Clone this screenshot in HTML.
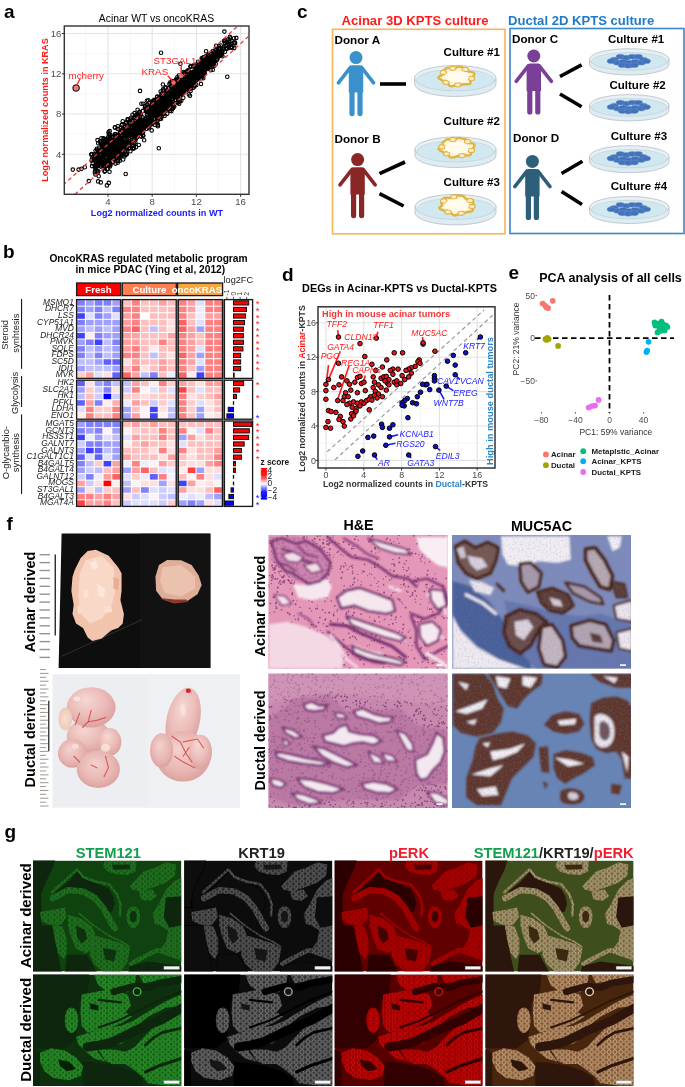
<!DOCTYPE html>
<html><head><meta charset="utf-8"><title>Figure</title>
<style>
html,body{margin:0;padding:0;background:#fff;}
body{width:685px;height:1087px;overflow:hidden;position:relative;}
svg{position:absolute;left:0;top:0;display:block;}
text{font-family:"Liberation Sans",Arial,sans-serif;}
</style></head><body>
<svg width="685" height="1087" viewBox="0 0 685 1087">
<defs></defs>
<text x="4.00" y="17.50" font-size="19" font-weight="700" fill="#000" text-anchor="start" font-style="normal" >a</text>
<rect x="64.3" y="26" width="184.7" height="168.3" fill="#fff"/>
<clipPath id="clipa"><rect x="64" y="26" width="184" height="168"/></clipPath>
<line x1="85.9" y1="26" x2="85.9" y2="194.3" stroke="#f0f0f0" stroke-width="0.6"/>
<line x1="64.3" y1="174.4" x2="249" y2="174.4" stroke="#f0f0f0" stroke-width="0.6"/>
<line x1="130.1" y1="26" x2="130.1" y2="194.3" stroke="#f0f0f0" stroke-width="0.6"/>
<line x1="64.3" y1="134.1" x2="249" y2="134.1" stroke="#f0f0f0" stroke-width="0.6"/>
<line x1="174.3" y1="26" x2="174.3" y2="194.3" stroke="#f0f0f0" stroke-width="0.6"/>
<line x1="64.3" y1="93.9" x2="249" y2="93.9" stroke="#f0f0f0" stroke-width="0.6"/>
<line x1="218.5" y1="26" x2="218.5" y2="194.3" stroke="#f0f0f0" stroke-width="0.6"/>
<line x1="64.3" y1="53.7" x2="249" y2="53.7" stroke="#f0f0f0" stroke-width="0.6"/>
<line x1="108.0" y1="26" x2="108.0" y2="194.3" stroke="#e4e4e4" stroke-width="1.1"/>
<line x1="64.3" y1="154.3" x2="249" y2="154.3" stroke="#e4e4e4" stroke-width="1.1"/>
<line x1="152.2" y1="26" x2="152.2" y2="194.3" stroke="#e4e4e4" stroke-width="1.1"/>
<line x1="64.3" y1="114.0" x2="249" y2="114.0" stroke="#e4e4e4" stroke-width="1.1"/>
<line x1="196.4" y1="26" x2="196.4" y2="194.3" stroke="#e4e4e4" stroke-width="1.1"/>
<line x1="64.3" y1="73.8" x2="249" y2="73.8" stroke="#e4e4e4" stroke-width="1.1"/>
<line x1="240.6" y1="26" x2="240.6" y2="194.3" stroke="#e4e4e4" stroke-width="1.1"/>
<line x1="64.3" y1="33.5" x2="249" y2="33.5" stroke="#e4e4e4" stroke-width="1.1"/>
<g clip-path="url(#clipa)" fill="none" stroke="#000" stroke-width="1.1"><circle cx="160.6" cy="99.2" r="1.75"/><circle cx="125.3" cy="134.9" r="1.75"/><circle cx="100.3" cy="159.8" r="1.75"/><circle cx="110.0" cy="136.8" r="1.75"/><circle cx="109.4" cy="159.3" r="1.75"/><circle cx="110.8" cy="151.4" r="1.75"/><circle cx="168.1" cy="96.7" r="1.75"/><circle cx="201.7" cy="58.2" r="1.75"/><circle cx="129.6" cy="148.3" r="1.75"/><circle cx="187.5" cy="76.9" r="1.75"/><circle cx="98.2" cy="151.2" r="1.75"/><circle cx="114.9" cy="137.5" r="1.75"/><circle cx="100.9" cy="141.8" r="1.75"/><circle cx="117.5" cy="147.2" r="1.75"/><circle cx="150.0" cy="117.6" r="1.75"/><circle cx="118.9" cy="150.8" r="1.75"/><circle cx="205.8" cy="62.8" r="1.75"/><circle cx="188.2" cy="84.9" r="1.75"/><circle cx="132.3" cy="130.0" r="1.75"/><circle cx="94.7" cy="165.8" r="1.75"/><circle cx="150.6" cy="106.7" r="1.75"/><circle cx="223.4" cy="48.5" r="1.75"/><circle cx="125.8" cy="123.0" r="1.75"/><circle cx="204.2" cy="66.4" r="1.75"/><circle cx="109.8" cy="151.4" r="1.75"/><circle cx="164.0" cy="112.8" r="1.75"/><circle cx="98.7" cy="150.2" r="1.75"/><circle cx="194.2" cy="86.4" r="1.75"/><circle cx="113.7" cy="156.8" r="1.75"/><circle cx="101.4" cy="138.2" r="1.75"/><circle cx="162.9" cy="84.5" r="1.75"/><circle cx="234.0" cy="38.3" r="1.75"/><circle cx="201.9" cy="73.7" r="1.75"/><circle cx="207.2" cy="57.7" r="1.75"/><circle cx="172.4" cy="82.7" r="1.75"/><circle cx="189.1" cy="77.6" r="1.75"/><circle cx="165.2" cy="107.2" r="1.75"/><circle cx="207.4" cy="62.2" r="1.75"/><circle cx="186.7" cy="85.0" r="1.75"/><circle cx="153.2" cy="114.5" r="1.75"/><circle cx="194.5" cy="85.4" r="1.75"/><circle cx="127.0" cy="135.0" r="1.75"/><circle cx="191.8" cy="78.1" r="1.75"/><circle cx="183.7" cy="73.4" r="1.75"/><circle cx="137.7" cy="135.1" r="1.75"/><circle cx="207.8" cy="60.6" r="1.75"/><circle cx="133.8" cy="138.7" r="1.75"/><circle cx="137.6" cy="109.7" r="1.75"/><circle cx="92.0" cy="166.1" r="1.75"/><circle cx="137.0" cy="131.9" r="1.75"/><circle cx="110.3" cy="148.3" r="1.75"/><circle cx="105.6" cy="151.8" r="1.75"/><circle cx="198.0" cy="73.8" r="1.75"/><circle cx="109.0" cy="146.8" r="1.75"/><circle cx="140.5" cy="120.0" r="1.75"/><circle cx="145.0" cy="106.1" r="1.75"/><circle cx="207.6" cy="68.8" r="1.75"/><circle cx="216.4" cy="50.2" r="1.75"/><circle cx="213.9" cy="59.6" r="1.75"/><circle cx="168.3" cy="100.6" r="1.75"/><circle cx="202.4" cy="64.2" r="1.75"/><circle cx="204.7" cy="73.4" r="1.75"/><circle cx="180.2" cy="96.1" r="1.75"/><circle cx="107.9" cy="162.2" r="1.75"/><circle cx="122.0" cy="135.4" r="1.75"/><circle cx="196.8" cy="67.6" r="1.75"/><circle cx="157.5" cy="108.9" r="1.75"/><circle cx="187.2" cy="84.0" r="1.75"/><circle cx="203.8" cy="66.3" r="1.75"/><circle cx="161.8" cy="110.1" r="1.75"/><circle cx="110.6" cy="139.2" r="1.75"/><circle cx="160.9" cy="102.8" r="1.75"/><circle cx="146.9" cy="100.8" r="1.75"/><circle cx="119.9" cy="136.9" r="1.75"/><circle cx="137.8" cy="131.2" r="1.75"/><circle cx="107.6" cy="168.7" r="1.75"/><circle cx="138.3" cy="127.3" r="1.75"/><circle cx="119.5" cy="147.6" r="1.75"/><circle cx="149.0" cy="121.2" r="1.75"/><circle cx="127.2" cy="130.7" r="1.75"/><circle cx="210.1" cy="60.2" r="1.75"/><circle cx="192.8" cy="82.1" r="1.75"/><circle cx="201.8" cy="68.6" r="1.75"/><circle cx="132.4" cy="133.6" r="1.75"/><circle cx="119.8" cy="154.8" r="1.75"/><circle cx="172.1" cy="81.1" r="1.75"/><circle cx="179.2" cy="86.5" r="1.75"/><circle cx="95.3" cy="170.4" r="1.75"/><circle cx="121.8" cy="153.8" r="1.75"/><circle cx="203.3" cy="78.2" r="1.75"/><circle cx="179.8" cy="92.1" r="1.75"/><circle cx="164.4" cy="108.0" r="1.75"/><circle cx="150.6" cy="112.6" r="1.75"/><circle cx="156.1" cy="112.2" r="1.75"/><circle cx="188.8" cy="80.2" r="1.75"/><circle cx="200.3" cy="69.4" r="1.75"/><circle cx="181.1" cy="84.3" r="1.75"/><circle cx="208.2" cy="56.5" r="1.75"/><circle cx="114.6" cy="159.6" r="1.75"/><circle cx="129.8" cy="121.3" r="1.75"/><circle cx="161.5" cy="107.0" r="1.75"/><circle cx="173.9" cy="82.0" r="1.75"/><circle cx="177.4" cy="96.6" r="1.75"/><circle cx="143.3" cy="135.8" r="1.75"/><circle cx="155.7" cy="100.5" r="1.75"/><circle cx="184.0" cy="89.9" r="1.75"/><circle cx="109.4" cy="158.4" r="1.75"/><circle cx="165.4" cy="101.9" r="1.75"/><circle cx="164.2" cy="109.4" r="1.75"/><circle cx="134.6" cy="113.1" r="1.75"/><circle cx="112.0" cy="150.3" r="1.75"/><circle cx="207.0" cy="63.6" r="1.75"/><circle cx="109.1" cy="152.7" r="1.75"/><circle cx="157.2" cy="97.0" r="1.75"/><circle cx="205.5" cy="69.0" r="1.75"/><circle cx="127.1" cy="145.5" r="1.75"/><circle cx="170.7" cy="101.9" r="1.75"/><circle cx="181.1" cy="79.6" r="1.75"/><circle cx="130.4" cy="133.7" r="1.75"/><circle cx="141.7" cy="124.5" r="1.75"/><circle cx="167.5" cy="101.1" r="1.75"/><circle cx="203.5" cy="68.3" r="1.75"/><circle cx="147.9" cy="123.5" r="1.75"/><circle cx="94.6" cy="157.4" r="1.75"/><circle cx="152.9" cy="122.1" r="1.75"/><circle cx="115.0" cy="147.6" r="1.75"/><circle cx="128.0" cy="142.6" r="1.75"/><circle cx="169.4" cy="93.0" r="1.75"/><circle cx="194.5" cy="78.3" r="1.75"/><circle cx="229.0" cy="48.0" r="1.75"/><circle cx="136.1" cy="131.9" r="1.75"/><circle cx="115.7" cy="144.9" r="1.75"/><circle cx="121.4" cy="139.2" r="1.75"/><circle cx="106.7" cy="142.2" r="1.75"/><circle cx="214.6" cy="55.9" r="1.75"/><circle cx="195.8" cy="72.4" r="1.75"/><circle cx="142.1" cy="127.8" r="1.75"/><circle cx="182.9" cy="80.4" r="1.75"/><circle cx="179.3" cy="86.8" r="1.75"/><circle cx="159.1" cy="97.7" r="1.75"/><circle cx="114.0" cy="139.7" r="1.75"/><circle cx="107.1" cy="152.7" r="1.75"/><circle cx="178.0" cy="92.2" r="1.75"/><circle cx="157.0" cy="106.6" r="1.75"/><circle cx="208.7" cy="62.2" r="1.75"/><circle cx="193.9" cy="72.8" r="1.75"/><circle cx="205.8" cy="56.2" r="1.75"/><circle cx="157.2" cy="99.7" r="1.75"/><circle cx="121.7" cy="125.1" r="1.75"/><circle cx="127.2" cy="142.5" r="1.75"/><circle cx="100.4" cy="162.7" r="1.75"/><circle cx="113.9" cy="146.1" r="1.75"/><circle cx="95.4" cy="174.4" r="1.75"/><circle cx="163.9" cy="114.0" r="1.75"/><circle cx="179.1" cy="91.7" r="1.75"/><circle cx="132.5" cy="114.8" r="1.75"/><circle cx="197.9" cy="76.3" r="1.75"/><circle cx="205.9" cy="66.3" r="1.75"/><circle cx="201.0" cy="83.9" r="1.75"/><circle cx="175.0" cy="97.1" r="1.75"/><circle cx="132.4" cy="123.8" r="1.75"/><circle cx="220.1" cy="55.9" r="1.75"/><circle cx="108.1" cy="137.2" r="1.75"/><circle cx="175.3" cy="99.9" r="1.75"/><circle cx="210.7" cy="58.8" r="1.75"/><circle cx="194.1" cy="77.0" r="1.75"/><circle cx="157.4" cy="109.5" r="1.75"/><circle cx="115.1" cy="150.8" r="1.75"/><circle cx="172.5" cy="103.9" r="1.75"/><circle cx="205.3" cy="69.9" r="1.75"/><circle cx="130.3" cy="131.5" r="1.75"/><circle cx="205.9" cy="67.4" r="1.75"/><circle cx="158.7" cy="114.9" r="1.75"/><circle cx="132.1" cy="133.8" r="1.75"/><circle cx="211.3" cy="59.5" r="1.75"/><circle cx="96.4" cy="165.7" r="1.75"/><circle cx="145.8" cy="111.0" r="1.75"/><circle cx="122.8" cy="150.0" r="1.75"/><circle cx="214.9" cy="55.0" r="1.75"/><circle cx="144.2" cy="140.3" r="1.75"/><circle cx="206.1" cy="51.3" r="1.75"/><circle cx="140.1" cy="130.2" r="1.75"/><circle cx="182.1" cy="80.1" r="1.75"/><circle cx="192.8" cy="78.4" r="1.75"/><circle cx="175.0" cy="85.0" r="1.75"/><circle cx="126.5" cy="124.7" r="1.75"/><circle cx="99.0" cy="152.8" r="1.75"/><circle cx="216.9" cy="60.0" r="1.75"/><circle cx="109.1" cy="148.5" r="1.75"/><circle cx="193.4" cy="65.5" r="1.75"/><circle cx="108.2" cy="147.5" r="1.75"/><circle cx="186.0" cy="87.2" r="1.75"/><circle cx="97.5" cy="140.1" r="1.75"/><circle cx="171.0" cy="94.8" r="1.75"/><circle cx="109.5" cy="157.5" r="1.75"/><circle cx="161.5" cy="111.2" r="1.75"/><circle cx="139.2" cy="132.7" r="1.75"/><circle cx="198.1" cy="71.3" r="1.75"/><circle cx="172.7" cy="86.8" r="1.75"/><circle cx="205.1" cy="62.5" r="1.75"/><circle cx="193.0" cy="76.2" r="1.75"/><circle cx="218.2" cy="56.5" r="1.75"/><circle cx="164.1" cy="102.1" r="1.75"/><circle cx="95.9" cy="162.3" r="1.75"/><circle cx="106.5" cy="157.8" r="1.75"/><circle cx="130.2" cy="134.5" r="1.75"/><circle cx="189.4" cy="76.9" r="1.75"/><circle cx="161.2" cy="105.8" r="1.75"/><circle cx="104.3" cy="155.6" r="1.75"/><circle cx="138.5" cy="127.4" r="1.75"/><circle cx="141.5" cy="131.6" r="1.75"/><circle cx="218.6" cy="48.5" r="1.75"/><circle cx="127.4" cy="131.6" r="1.75"/><circle cx="186.7" cy="85.1" r="1.75"/><circle cx="202.0" cy="70.8" r="1.75"/><circle cx="231.1" cy="44.0" r="1.75"/><circle cx="204.5" cy="68.4" r="1.75"/><circle cx="214.4" cy="65.7" r="1.75"/><circle cx="126.5" cy="149.5" r="1.75"/><circle cx="143.0" cy="110.9" r="1.75"/><circle cx="136.3" cy="115.8" r="1.75"/><circle cx="116.5" cy="135.9" r="1.75"/><circle cx="112.3" cy="150.7" r="1.75"/><circle cx="116.2" cy="144.3" r="1.75"/><circle cx="159.5" cy="105.8" r="1.75"/><circle cx="103.1" cy="152.6" r="1.75"/><circle cx="124.9" cy="134.0" r="1.75"/><circle cx="181.5" cy="87.0" r="1.75"/><circle cx="156.9" cy="107.4" r="1.75"/><circle cx="165.1" cy="108.0" r="1.75"/><circle cx="182.3" cy="90.8" r="1.75"/><circle cx="154.9" cy="118.7" r="1.75"/><circle cx="190.0" cy="95.7" r="1.75"/><circle cx="132.7" cy="134.5" r="1.75"/><circle cx="159.0" cy="107.3" r="1.75"/><circle cx="112.0" cy="149.8" r="1.75"/><circle cx="163.3" cy="105.6" r="1.75"/><circle cx="123.0" cy="128.6" r="1.75"/><circle cx="102.3" cy="165.1" r="1.75"/><circle cx="103.6" cy="139.1" r="1.75"/><circle cx="178.0" cy="102.0" r="1.75"/><circle cx="144.9" cy="126.4" r="1.75"/><circle cx="110.2" cy="139.3" r="1.75"/><circle cx="159.8" cy="112.6" r="1.75"/><circle cx="139.7" cy="112.8" r="1.75"/><circle cx="169.0" cy="109.0" r="1.75"/><circle cx="210.6" cy="56.6" r="1.75"/><circle cx="216.3" cy="55.7" r="1.75"/><circle cx="159.6" cy="119.1" r="1.75"/><circle cx="137.0" cy="118.5" r="1.75"/><circle cx="222.5" cy="56.2" r="1.75"/><circle cx="133.8" cy="147.9" r="1.75"/><circle cx="194.7" cy="75.5" r="1.75"/><circle cx="196.0" cy="72.5" r="1.75"/><circle cx="234.1" cy="42.6" r="1.75"/><circle cx="218.1" cy="50.7" r="1.75"/><circle cx="130.4" cy="151.2" r="1.75"/><circle cx="100.5" cy="158.3" r="1.75"/><circle cx="132.5" cy="123.6" r="1.75"/><circle cx="134.3" cy="127.8" r="1.75"/><circle cx="221.6" cy="55.0" r="1.75"/><circle cx="91.6" cy="160.4" r="1.75"/><circle cx="219.0" cy="46.3" r="1.75"/><circle cx="170.6" cy="83.2" r="1.75"/><circle cx="116.4" cy="148.8" r="1.75"/><circle cx="138.8" cy="131.0" r="1.75"/><circle cx="152.6" cy="116.9" r="1.75"/><circle cx="101.0" cy="166.2" r="1.75"/><circle cx="160.0" cy="112.1" r="1.75"/><circle cx="113.9" cy="158.5" r="1.75"/><circle cx="152.0" cy="122.5" r="1.75"/><circle cx="191.8" cy="80.4" r="1.75"/><circle cx="152.1" cy="102.9" r="1.75"/><circle cx="196.5" cy="68.4" r="1.75"/><circle cx="147.0" cy="116.6" r="1.75"/><circle cx="193.4" cy="87.7" r="1.75"/><circle cx="141.9" cy="120.7" r="1.75"/><circle cx="171.9" cy="109.0" r="1.75"/><circle cx="130.5" cy="130.7" r="1.75"/><circle cx="160.7" cy="91.5" r="1.75"/><circle cx="191.2" cy="78.1" r="1.75"/><circle cx="198.5" cy="72.0" r="1.75"/><circle cx="161.0" cy="112.4" r="1.75"/><circle cx="130.3" cy="143.1" r="1.75"/><circle cx="119.8" cy="160.8" r="1.75"/><circle cx="118.6" cy="138.5" r="1.75"/><circle cx="189.4" cy="81.3" r="1.75"/><circle cx="182.8" cy="84.5" r="1.75"/><circle cx="138.7" cy="124.3" r="1.75"/><circle cx="161.3" cy="103.4" r="1.75"/><circle cx="183.3" cy="93.3" r="1.75"/><circle cx="125.3" cy="146.5" r="1.75"/><circle cx="225.8" cy="45.9" r="1.75"/><circle cx="195.7" cy="73.9" r="1.75"/><circle cx="92.7" cy="163.4" r="1.75"/><circle cx="100.8" cy="166.5" r="1.75"/><circle cx="137.0" cy="114.2" r="1.75"/><circle cx="166.0" cy="88.2" r="1.75"/><circle cx="159.3" cy="108.6" r="1.75"/><circle cx="109.5" cy="156.0" r="1.75"/><circle cx="109.8" cy="156.4" r="1.75"/><circle cx="129.4" cy="138.0" r="1.75"/><circle cx="93.7" cy="158.6" r="1.75"/><circle cx="153.4" cy="109.0" r="1.75"/><circle cx="146.9" cy="114.6" r="1.75"/><circle cx="169.7" cy="99.8" r="1.75"/><circle cx="202.0" cy="65.1" r="1.75"/><circle cx="110.5" cy="164.9" r="1.75"/><circle cx="178.8" cy="89.4" r="1.75"/><circle cx="198.1" cy="78.3" r="1.75"/><circle cx="177.1" cy="88.1" r="1.75"/><circle cx="200.6" cy="69.3" r="1.75"/><circle cx="131.5" cy="134.3" r="1.75"/><circle cx="144.5" cy="120.5" r="1.75"/><circle cx="167.9" cy="106.1" r="1.75"/><circle cx="116.8" cy="143.0" r="1.75"/><circle cx="159.3" cy="110.2" r="1.75"/><circle cx="140.9" cy="136.3" r="1.75"/><circle cx="138.2" cy="116.3" r="1.75"/><circle cx="218.2" cy="55.5" r="1.75"/><circle cx="198.4" cy="76.8" r="1.75"/><circle cx="133.7" cy="117.5" r="1.75"/><circle cx="141.5" cy="120.8" r="1.75"/><circle cx="168.5" cy="102.2" r="1.75"/><circle cx="209.7" cy="60.8" r="1.75"/><circle cx="172.8" cy="93.3" r="1.75"/><circle cx="129.6" cy="130.8" r="1.75"/><circle cx="105.6" cy="152.6" r="1.75"/><circle cx="224.9" cy="42.7" r="1.75"/><circle cx="177.2" cy="85.0" r="1.75"/><circle cx="110.1" cy="155.8" r="1.75"/><circle cx="196.1" cy="65.8" r="1.75"/><circle cx="229.9" cy="36.9" r="1.75"/><circle cx="150.6" cy="107.4" r="1.75"/><circle cx="168.5" cy="105.7" r="1.75"/><circle cx="130.7" cy="119.6" r="1.75"/><circle cx="193.1" cy="77.5" r="1.75"/><circle cx="92.3" cy="159.5" r="1.75"/><circle cx="97.5" cy="154.8" r="1.75"/><circle cx="229.4" cy="41.6" r="1.75"/><circle cx="207.4" cy="65.4" r="1.75"/><circle cx="101.0" cy="158.3" r="1.75"/><circle cx="173.3" cy="106.3" r="1.75"/><circle cx="120.1" cy="140.8" r="1.75"/><circle cx="126.4" cy="122.4" r="1.75"/><circle cx="137.1" cy="137.3" r="1.75"/><circle cx="185.0" cy="86.1" r="1.75"/><circle cx="217.4" cy="55.4" r="1.75"/><circle cx="190.0" cy="77.6" r="1.75"/><circle cx="195.7" cy="72.7" r="1.75"/><circle cx="114.0" cy="153.3" r="1.75"/><circle cx="219.2" cy="48.8" r="1.75"/><circle cx="120.4" cy="138.7" r="1.75"/><circle cx="185.1" cy="77.5" r="1.75"/><circle cx="109.0" cy="162.5" r="1.75"/><circle cx="170.9" cy="92.9" r="1.75"/><circle cx="105.7" cy="157.1" r="1.75"/><circle cx="171.0" cy="87.1" r="1.75"/><circle cx="215.9" cy="50.4" r="1.75"/><circle cx="229.8" cy="44.9" r="1.75"/><circle cx="201.0" cy="75.0" r="1.75"/><circle cx="177.7" cy="102.8" r="1.75"/><circle cx="177.7" cy="89.8" r="1.75"/><circle cx="119.2" cy="153.7" r="1.75"/><circle cx="203.9" cy="74.8" r="1.75"/><circle cx="118.4" cy="141.4" r="1.75"/><circle cx="104.8" cy="170.9" r="1.75"/><circle cx="181.0" cy="93.0" r="1.75"/><circle cx="150.4" cy="115.3" r="1.75"/><circle cx="108.5" cy="148.6" r="1.75"/><circle cx="165.5" cy="87.2" r="1.75"/><circle cx="96.8" cy="148.7" r="1.75"/><circle cx="157.9" cy="125.1" r="1.75"/><circle cx="209.4" cy="63.3" r="1.75"/><circle cx="99.4" cy="157.8" r="1.75"/><circle cx="169.4" cy="84.0" r="1.75"/><circle cx="192.9" cy="81.2" r="1.75"/><circle cx="142.6" cy="124.8" r="1.75"/><circle cx="150.3" cy="118.0" r="1.75"/><circle cx="159.4" cy="114.5" r="1.75"/><circle cx="137.5" cy="133.5" r="1.75"/><circle cx="108.8" cy="182.9" r="1.75"/><circle cx="164.2" cy="109.0" r="1.75"/><circle cx="137.6" cy="127.0" r="1.75"/><circle cx="94.8" cy="172.2" r="1.75"/><circle cx="188.8" cy="85.2" r="1.75"/><circle cx="110.0" cy="146.6" r="1.75"/><circle cx="182.0" cy="91.5" r="1.75"/><circle cx="105.6" cy="143.3" r="1.75"/><circle cx="109.5" cy="171.7" r="1.75"/><circle cx="147.3" cy="104.9" r="1.75"/><circle cx="107.6" cy="147.8" r="1.75"/><circle cx="149.0" cy="128.3" r="1.75"/><circle cx="95.6" cy="150.7" r="1.75"/><circle cx="95.7" cy="155.7" r="1.75"/><circle cx="222.2" cy="50.8" r="1.75"/><circle cx="108.8" cy="161.6" r="1.75"/><circle cx="171.3" cy="89.5" r="1.75"/><circle cx="181.1" cy="90.0" r="1.75"/><circle cx="127.0" cy="147.1" r="1.75"/><circle cx="156.8" cy="110.5" r="1.75"/><circle cx="162.8" cy="96.0" r="1.75"/><circle cx="129.9" cy="134.4" r="1.75"/><circle cx="114.0" cy="142.5" r="1.75"/><circle cx="166.0" cy="92.0" r="1.75"/><circle cx="153.7" cy="112.9" r="1.75"/><circle cx="187.6" cy="85.7" r="1.75"/><circle cx="139.3" cy="123.6" r="1.75"/><circle cx="117.2" cy="144.3" r="1.75"/><circle cx="165.3" cy="104.1" r="1.75"/><circle cx="203.4" cy="66.7" r="1.75"/><circle cx="135.3" cy="116.9" r="1.75"/><circle cx="109.9" cy="154.6" r="1.75"/><circle cx="120.4" cy="147.0" r="1.75"/><circle cx="155.8" cy="110.1" r="1.75"/><circle cx="210.2" cy="57.8" r="1.75"/><circle cx="194.3" cy="75.2" r="1.75"/><circle cx="216.9" cy="54.9" r="1.75"/><circle cx="176.5" cy="84.6" r="1.75"/><circle cx="129.8" cy="133.1" r="1.75"/><circle cx="114.7" cy="146.2" r="1.75"/><circle cx="110.1" cy="146.1" r="1.75"/><circle cx="114.4" cy="155.1" r="1.75"/><circle cx="188.3" cy="76.7" r="1.75"/><circle cx="125.3" cy="140.5" r="1.75"/><circle cx="174.2" cy="95.6" r="1.75"/><circle cx="160.4" cy="96.7" r="1.75"/><circle cx="139.5" cy="111.9" r="1.75"/><circle cx="203.4" cy="57.3" r="1.75"/><circle cx="163.5" cy="98.4" r="1.75"/><circle cx="228.5" cy="39.3" r="1.75"/><circle cx="108.7" cy="151.5" r="1.75"/><circle cx="172.7" cy="93.7" r="1.75"/><circle cx="108.1" cy="154.5" r="1.75"/><circle cx="146.3" cy="117.9" r="1.75"/><circle cx="157.4" cy="109.1" r="1.75"/><circle cx="190.8" cy="88.3" r="1.75"/><circle cx="181.6" cy="93.9" r="1.75"/><circle cx="157.1" cy="107.0" r="1.75"/><circle cx="136.3" cy="127.3" r="1.75"/><circle cx="158.7" cy="111.0" r="1.75"/><circle cx="146.9" cy="111.4" r="1.75"/><circle cx="202.1" cy="74.7" r="1.75"/><circle cx="139.8" cy="121.7" r="1.75"/><circle cx="177.6" cy="102.5" r="1.75"/><circle cx="143.7" cy="122.2" r="1.75"/><circle cx="190.5" cy="66.6" r="1.75"/><circle cx="225.3" cy="40.0" r="1.75"/><circle cx="106.3" cy="139.9" r="1.75"/><circle cx="143.0" cy="135.2" r="1.75"/><circle cx="97.6" cy="172.7" r="1.75"/><circle cx="119.5" cy="141.1" r="1.75"/><circle cx="157.5" cy="108.7" r="1.75"/><circle cx="100.4" cy="143.0" r="1.75"/><circle cx="139.0" cy="128.9" r="1.75"/><circle cx="214.0" cy="52.3" r="1.75"/><circle cx="196.7" cy="73.5" r="1.75"/><circle cx="112.9" cy="162.0" r="1.75"/><circle cx="109.8" cy="149.8" r="1.75"/><circle cx="151.7" cy="130.4" r="1.75"/><circle cx="99.4" cy="158.7" r="1.75"/><circle cx="137.8" cy="122.0" r="1.75"/><circle cx="158.7" cy="112.0" r="1.75"/><circle cx="195.9" cy="64.5" r="1.75"/><circle cx="200.5" cy="77.1" r="1.75"/><circle cx="162.8" cy="102.4" r="1.75"/><circle cx="106.4" cy="154.9" r="1.75"/><circle cx="212.6" cy="66.6" r="1.75"/><circle cx="161.9" cy="103.4" r="1.75"/><circle cx="153.3" cy="101.1" r="1.75"/><circle cx="115.9" cy="144.6" r="1.75"/><circle cx="131.9" cy="123.8" r="1.75"/><circle cx="196.8" cy="73.7" r="1.75"/><circle cx="212.8" cy="64.4" r="1.75"/><circle cx="183.5" cy="72.0" r="1.75"/><circle cx="174.8" cy="83.4" r="1.75"/><circle cx="136.5" cy="124.8" r="1.75"/><circle cx="140.2" cy="116.3" r="1.75"/><circle cx="209.3" cy="65.3" r="1.75"/><circle cx="204.4" cy="72.8" r="1.75"/><circle cx="200.5" cy="73.3" r="1.75"/><circle cx="108.7" cy="139.2" r="1.75"/><circle cx="196.6" cy="71.9" r="1.75"/><circle cx="110.1" cy="150.8" r="1.75"/><circle cx="180.8" cy="84.7" r="1.75"/><circle cx="125.6" cy="130.6" r="1.75"/><circle cx="195.1" cy="72.3" r="1.75"/><circle cx="198.4" cy="70.5" r="1.75"/><circle cx="153.8" cy="114.5" r="1.75"/><circle cx="177.9" cy="99.4" r="1.75"/><circle cx="138.8" cy="145.0" r="1.75"/><circle cx="197.1" cy="72.4" r="1.75"/><circle cx="152.5" cy="112.1" r="1.75"/><circle cx="179.6" cy="86.0" r="1.75"/><circle cx="220.7" cy="45.5" r="1.75"/><circle cx="180.0" cy="101.1" r="1.75"/><circle cx="175.6" cy="92.0" r="1.75"/><circle cx="174.3" cy="95.7" r="1.75"/><circle cx="197.7" cy="73.4" r="1.75"/><circle cx="173.2" cy="102.1" r="1.75"/><circle cx="177.9" cy="89.8" r="1.75"/><circle cx="112.4" cy="151.6" r="1.75"/><circle cx="109.6" cy="161.8" r="1.75"/><circle cx="109.7" cy="143.0" r="1.75"/><circle cx="200.4" cy="77.6" r="1.75"/><circle cx="212.7" cy="61.3" r="1.75"/><circle cx="182.3" cy="84.2" r="1.75"/><circle cx="150.6" cy="116.7" r="1.75"/><circle cx="180.6" cy="89.3" r="1.75"/><circle cx="143.3" cy="103.7" r="1.75"/><circle cx="171.0" cy="96.2" r="1.75"/><circle cx="209.1" cy="61.0" r="1.75"/><circle cx="180.4" cy="80.3" r="1.75"/><circle cx="109.6" cy="146.5" r="1.75"/><circle cx="128.7" cy="126.8" r="1.75"/><circle cx="230.3" cy="38.5" r="1.75"/><circle cx="163.4" cy="95.2" r="1.75"/><circle cx="131.6" cy="127.1" r="1.75"/><circle cx="225.6" cy="46.0" r="1.75"/><circle cx="219.8" cy="51.4" r="1.75"/><circle cx="166.7" cy="91.0" r="1.75"/><circle cx="147.5" cy="123.4" r="1.75"/><circle cx="201.1" cy="62.8" r="1.75"/><circle cx="115.1" cy="146.2" r="1.75"/><circle cx="143.7" cy="129.5" r="1.75"/><circle cx="101.6" cy="160.8" r="1.75"/><circle cx="203.2" cy="74.9" r="1.75"/><circle cx="107.8" cy="151.7" r="1.75"/><circle cx="110.6" cy="135.0" r="1.75"/><circle cx="173.7" cy="90.9" r="1.75"/><circle cx="137.5" cy="122.0" r="1.75"/><circle cx="200.7" cy="77.0" r="1.75"/><circle cx="198.6" cy="74.7" r="1.75"/><circle cx="194.0" cy="78.0" r="1.75"/><circle cx="128.3" cy="119.4" r="1.75"/><circle cx="129.5" cy="139.6" r="1.75"/><circle cx="108.4" cy="148.6" r="1.75"/><circle cx="101.2" cy="144.5" r="1.75"/><circle cx="95.2" cy="167.8" r="1.75"/><circle cx="170.7" cy="96.9" r="1.75"/><circle cx="160.7" cy="111.5" r="1.75"/><circle cx="132.5" cy="146.3" r="1.75"/><circle cx="118.6" cy="136.5" r="1.75"/><circle cx="191.3" cy="73.1" r="1.75"/><circle cx="155.0" cy="115.3" r="1.75"/><circle cx="157.7" cy="102.9" r="1.75"/><circle cx="110.1" cy="164.2" r="1.75"/><circle cx="134.8" cy="128.6" r="1.75"/><circle cx="173.0" cy="91.8" r="1.75"/><circle cx="190.7" cy="66.2" r="1.75"/><circle cx="99.1" cy="147.7" r="1.75"/><circle cx="189.0" cy="73.3" r="1.75"/><circle cx="235.1" cy="43.4" r="1.75"/><circle cx="104.7" cy="146.2" r="1.75"/><circle cx="162.7" cy="111.1" r="1.75"/><circle cx="128.4" cy="135.7" r="1.75"/><circle cx="167.3" cy="113.6" r="1.75"/><circle cx="114.8" cy="144.2" r="1.75"/><circle cx="117.5" cy="146.2" r="1.75"/><circle cx="179.2" cy="103.7" r="1.75"/><circle cx="127.0" cy="153.9" r="1.75"/><circle cx="218.2" cy="52.9" r="1.75"/><circle cx="165.8" cy="102.0" r="1.75"/><circle cx="185.4" cy="84.3" r="1.75"/><circle cx="199.0" cy="77.7" r="1.75"/><circle cx="114.2" cy="159.0" r="1.75"/><circle cx="208.1" cy="55.1" r="1.75"/><circle cx="175.4" cy="100.2" r="1.75"/><circle cx="157.9" cy="126.3" r="1.75"/><circle cx="139.0" cy="131.6" r="1.75"/><circle cx="155.0" cy="106.4" r="1.75"/><circle cx="125.8" cy="141.7" r="1.75"/><circle cx="97.7" cy="153.1" r="1.75"/><circle cx="179.5" cy="92.7" r="1.75"/><circle cx="123.2" cy="159.5" r="1.75"/><circle cx="116.1" cy="147.5" r="1.75"/><circle cx="232.2" cy="47.6" r="1.75"/><circle cx="98.0" cy="163.6" r="1.75"/><circle cx="143.3" cy="128.1" r="1.75"/><circle cx="152.5" cy="120.5" r="1.75"/><circle cx="108.9" cy="140.8" r="1.75"/><circle cx="196.3" cy="80.3" r="1.75"/><circle cx="174.4" cy="94.7" r="1.75"/><circle cx="178.5" cy="82.4" r="1.75"/><circle cx="144.9" cy="107.7" r="1.75"/><circle cx="207.2" cy="61.1" r="1.75"/><circle cx="203.9" cy="61.0" r="1.75"/><circle cx="169.6" cy="96.4" r="1.75"/><circle cx="120.4" cy="145.2" r="1.75"/><circle cx="138.3" cy="131.0" r="1.75"/><circle cx="202.2" cy="73.3" r="1.75"/><circle cx="187.8" cy="85.2" r="1.75"/><circle cx="88.8" cy="181.1" r="1.75"/><circle cx="209.5" cy="64.6" r="1.75"/><circle cx="175.9" cy="79.6" r="1.75"/><circle cx="145.3" cy="119.1" r="1.75"/><circle cx="122.3" cy="124.3" r="1.75"/><circle cx="123.2" cy="151.3" r="1.75"/><circle cx="161.8" cy="93.5" r="1.75"/><circle cx="92.3" cy="158.0" r="1.75"/><circle cx="188.4" cy="88.5" r="1.75"/><circle cx="98.7" cy="176.3" r="1.75"/><circle cx="120.0" cy="133.0" r="1.75"/><circle cx="106.2" cy="139.9" r="1.75"/><circle cx="189.1" cy="71.1" r="1.75"/><circle cx="167.4" cy="109.3" r="1.75"/><circle cx="164.5" cy="102.5" r="1.75"/><circle cx="105.3" cy="139.3" r="1.75"/><circle cx="150.8" cy="109.1" r="1.75"/><circle cx="213.4" cy="59.8" r="1.75"/><circle cx="231.4" cy="47.5" r="1.75"/><circle cx="122.0" cy="140.0" r="1.75"/><circle cx="135.7" cy="123.5" r="1.75"/><circle cx="108.9" cy="159.1" r="1.75"/><circle cx="207.0" cy="67.4" r="1.75"/><circle cx="164.8" cy="102.8" r="1.75"/><circle cx="181.3" cy="100.7" r="1.75"/><circle cx="192.6" cy="77.3" r="1.75"/><circle cx="152.2" cy="109.7" r="1.75"/><circle cx="114.9" cy="127.5" r="1.75"/><circle cx="176.0" cy="81.0" r="1.75"/><circle cx="121.1" cy="130.6" r="1.75"/><circle cx="159.8" cy="116.6" r="1.75"/><circle cx="139.6" cy="123.0" r="1.75"/><circle cx="119.1" cy="158.5" r="1.75"/><circle cx="168.5" cy="103.8" r="1.75"/><circle cx="210.3" cy="63.2" r="1.75"/><circle cx="180.3" cy="80.9" r="1.75"/><circle cx="168.9" cy="102.5" r="1.75"/><circle cx="141.1" cy="119.9" r="1.75"/><circle cx="187.2" cy="81.7" r="1.75"/><circle cx="117.5" cy="128.8" r="1.75"/><circle cx="119.0" cy="147.6" r="1.75"/><circle cx="99.3" cy="158.8" r="1.75"/><circle cx="152.5" cy="123.8" r="1.75"/><circle cx="176.5" cy="97.3" r="1.75"/><circle cx="126.0" cy="154.6" r="1.75"/><circle cx="109.4" cy="149.4" r="1.75"/><circle cx="102.4" cy="149.0" r="1.75"/><circle cx="204.5" cy="70.2" r="1.75"/><circle cx="104.6" cy="171.6" r="1.75"/><circle cx="201.2" cy="63.3" r="1.75"/><circle cx="168.7" cy="94.7" r="1.75"/><circle cx="157.8" cy="110.3" r="1.75"/><circle cx="161.5" cy="94.3" r="1.75"/><circle cx="112.4" cy="145.6" r="1.75"/><circle cx="151.7" cy="117.6" r="1.75"/><circle cx="187.4" cy="84.8" r="1.75"/><circle cx="108.9" cy="165.1" r="1.75"/><circle cx="170.6" cy="98.4" r="1.75"/><circle cx="132.2" cy="136.9" r="1.75"/><circle cx="158.1" cy="116.5" r="1.75"/><circle cx="143.7" cy="122.1" r="1.75"/><circle cx="179.0" cy="77.7" r="1.75"/><circle cx="97.1" cy="157.4" r="1.75"/><circle cx="120.0" cy="150.8" r="1.75"/><circle cx="180.9" cy="89.5" r="1.75"/><circle cx="150.7" cy="107.4" r="1.75"/><circle cx="121.6" cy="153.0" r="1.75"/><circle cx="94.3" cy="154.5" r="1.75"/><circle cx="100.5" cy="164.3" r="1.75"/><circle cx="186.8" cy="89.0" r="1.75"/><circle cx="107.4" cy="153.0" r="1.75"/><circle cx="97.7" cy="157.9" r="1.75"/><circle cx="150.4" cy="119.1" r="1.75"/><circle cx="184.1" cy="77.1" r="1.75"/><circle cx="224.0" cy="46.5" r="1.75"/><circle cx="100.3" cy="151.7" r="1.75"/><circle cx="192.3" cy="72.3" r="1.75"/><circle cx="135.5" cy="121.5" r="1.75"/><circle cx="114.7" cy="146.8" r="1.75"/><circle cx="113.9" cy="158.4" r="1.75"/><circle cx="161.1" cy="118.7" r="1.75"/><circle cx="154.2" cy="119.1" r="1.75"/><circle cx="136.0" cy="147.1" r="1.75"/><circle cx="108.8" cy="155.1" r="1.75"/><circle cx="95.1" cy="154.5" r="1.75"/><circle cx="178.6" cy="85.3" r="1.75"/><circle cx="207.5" cy="62.0" r="1.75"/><circle cx="157.3" cy="96.5" r="1.75"/><circle cx="165.9" cy="92.6" r="1.75"/><circle cx="143.3" cy="119.8" r="1.75"/><circle cx="178.8" cy="86.2" r="1.75"/><circle cx="236.3" cy="37.9" r="1.75"/><circle cx="133.8" cy="135.2" r="1.75"/><circle cx="109.5" cy="159.8" r="1.75"/><circle cx="117.8" cy="126.3" r="1.75"/><circle cx="133.7" cy="135.5" r="1.75"/><circle cx="152.4" cy="113.2" r="1.75"/><circle cx="203.7" cy="66.4" r="1.75"/><circle cx="168.4" cy="100.0" r="1.75"/><circle cx="109.8" cy="165.1" r="1.75"/><circle cx="231.8" cy="47.1" r="1.75"/><circle cx="220.2" cy="51.3" r="1.75"/><circle cx="152.4" cy="103.7" r="1.75"/><circle cx="157.3" cy="109.6" r="1.75"/><circle cx="199.2" cy="78.6" r="1.75"/><circle cx="203.4" cy="58.7" r="1.75"/><circle cx="115.0" cy="134.0" r="1.75"/><circle cx="93.6" cy="158.3" r="1.75"/><circle cx="214.4" cy="53.3" r="1.75"/><circle cx="168.1" cy="100.1" r="1.75"/><circle cx="151.4" cy="121.6" r="1.75"/><circle cx="118.2" cy="156.3" r="1.75"/><circle cx="128.8" cy="132.8" r="1.75"/><circle cx="109.9" cy="139.9" r="1.75"/><circle cx="141.3" cy="136.6" r="1.75"/><circle cx="106.3" cy="140.5" r="1.75"/><circle cx="198.1" cy="61.7" r="1.75"/><circle cx="105.4" cy="142.9" r="1.75"/><circle cx="108.4" cy="141.5" r="1.75"/><circle cx="188.1" cy="70.3" r="1.75"/><circle cx="215.8" cy="64.0" r="1.75"/><circle cx="215.9" cy="56.4" r="1.75"/><circle cx="145.1" cy="126.3" r="1.75"/><circle cx="139.9" cy="121.5" r="1.75"/><circle cx="109.3" cy="146.3" r="1.75"/><circle cx="157.2" cy="113.2" r="1.75"/><circle cx="134.7" cy="117.4" r="1.75"/><circle cx="189.4" cy="83.1" r="1.75"/><circle cx="186.9" cy="71.3" r="1.75"/><circle cx="166.6" cy="105.5" r="1.75"/><circle cx="133.2" cy="123.5" r="1.75"/><circle cx="132.4" cy="142.3" r="1.75"/><circle cx="170.4" cy="82.2" r="1.75"/><circle cx="220.6" cy="52.8" r="1.75"/><circle cx="95.1" cy="160.2" r="1.75"/><circle cx="108.1" cy="154.6" r="1.75"/><circle cx="154.6" cy="122.0" r="1.75"/><circle cx="104.1" cy="141.8" r="1.75"/><circle cx="173.9" cy="92.6" r="1.75"/><circle cx="157.4" cy="117.6" r="1.75"/><circle cx="180.4" cy="63.8" r="1.75"/><circle cx="210.7" cy="70.3" r="1.75"/><circle cx="166.4" cy="96.6" r="1.75"/><circle cx="121.8" cy="150.9" r="1.75"/><circle cx="197.3" cy="71.1" r="1.75"/><circle cx="91.9" cy="154.0" r="1.75"/><circle cx="129.8" cy="123.2" r="1.75"/><circle cx="122.7" cy="121.2" r="1.75"/><circle cx="112.8" cy="141.8" r="1.75"/><circle cx="112.0" cy="143.5" r="1.75"/><circle cx="127.1" cy="135.4" r="1.75"/><circle cx="104.3" cy="165.3" r="1.75"/><circle cx="185.3" cy="89.3" r="1.75"/><circle cx="104.6" cy="149.0" r="1.75"/><circle cx="129.0" cy="141.8" r="1.75"/><circle cx="116.4" cy="142.6" r="1.75"/><circle cx="109.5" cy="134.8" r="1.75"/><circle cx="224.0" cy="41.1" r="1.75"/><circle cx="96.0" cy="163.5" r="1.75"/><circle cx="118.8" cy="147.8" r="1.75"/><circle cx="168.4" cy="88.4" r="1.75"/><circle cx="121.5" cy="151.2" r="1.75"/><circle cx="183.9" cy="79.1" r="1.75"/><circle cx="183.7" cy="92.0" r="1.75"/><circle cx="152.5" cy="108.3" r="1.75"/><circle cx="202.5" cy="60.0" r="1.75"/><circle cx="165.9" cy="106.1" r="1.75"/><circle cx="121.7" cy="148.6" r="1.75"/><circle cx="102.4" cy="144.1" r="1.75"/><circle cx="149.4" cy="119.7" r="1.75"/><circle cx="121.6" cy="151.1" r="1.75"/><circle cx="102.5" cy="156.7" r="1.75"/><circle cx="211.5" cy="66.9" r="1.75"/><circle cx="168.7" cy="104.5" r="1.75"/><circle cx="187.3" cy="74.3" r="1.75"/><circle cx="104.6" cy="147.0" r="1.75"/><circle cx="109.5" cy="153.9" r="1.75"/><circle cx="109.4" cy="154.3" r="1.75"/><circle cx="207.0" cy="65.5" r="1.75"/><circle cx="132.2" cy="120.5" r="1.75"/><circle cx="197.6" cy="74.8" r="1.75"/><circle cx="118.6" cy="150.7" r="1.75"/><circle cx="107.6" cy="154.1" r="1.75"/><circle cx="195.6" cy="65.7" r="1.75"/><circle cx="195.8" cy="71.6" r="1.75"/><circle cx="161.5" cy="107.6" r="1.75"/><circle cx="129.1" cy="147.8" r="1.75"/><circle cx="211.7" cy="58.3" r="1.75"/><circle cx="160.4" cy="110.5" r="1.75"/><circle cx="191.3" cy="75.1" r="1.75"/><circle cx="150.6" cy="116.1" r="1.75"/><circle cx="134.2" cy="143.3" r="1.75"/><circle cx="124.2" cy="133.7" r="1.75"/><circle cx="165.5" cy="106.2" r="1.75"/><circle cx="176.9" cy="82.5" r="1.75"/><circle cx="180.2" cy="93.9" r="1.75"/><circle cx="175.6" cy="90.5" r="1.75"/><circle cx="201.5" cy="69.1" r="1.75"/><circle cx="105.1" cy="146.8" r="1.75"/><circle cx="177.7" cy="87.0" r="1.75"/><circle cx="160.6" cy="110.7" r="1.75"/><circle cx="199.1" cy="75.9" r="1.75"/><circle cx="123.5" cy="137.9" r="1.75"/><circle cx="156.6" cy="108.4" r="1.75"/><circle cx="110.0" cy="142.4" r="1.75"/><circle cx="123.4" cy="143.8" r="1.75"/><circle cx="104.3" cy="154.0" r="1.75"/><circle cx="138.4" cy="114.8" r="1.75"/><circle cx="189.5" cy="84.4" r="1.75"/><circle cx="123.0" cy="146.8" r="1.75"/><circle cx="133.4" cy="129.1" r="1.75"/><circle cx="130.3" cy="122.8" r="1.75"/><circle cx="174.9" cy="91.3" r="1.75"/><circle cx="220.2" cy="48.6" r="1.75"/><circle cx="157.1" cy="107.5" r="1.75"/><circle cx="116.7" cy="144.7" r="1.75"/><circle cx="133.9" cy="147.7" r="1.75"/><circle cx="234.2" cy="48.1" r="1.75"/><circle cx="154.1" cy="100.3" r="1.75"/><circle cx="193.5" cy="77.6" r="1.75"/><circle cx="118.3" cy="134.8" r="1.75"/><circle cx="183.6" cy="87.5" r="1.75"/><circle cx="125.6" cy="133.6" r="1.75"/><circle cx="163.0" cy="90.6" r="1.75"/><circle cx="214.1" cy="61.4" r="1.75"/><circle cx="117.7" cy="162.8" r="1.75"/><circle cx="132.7" cy="127.2" r="1.75"/><circle cx="201.4" cy="68.3" r="1.75"/><circle cx="186.7" cy="82.1" r="1.75"/><circle cx="96.0" cy="167.7" r="1.75"/><circle cx="196.6" cy="70.3" r="1.75"/><circle cx="180.2" cy="90.2" r="1.75"/><circle cx="194.6" cy="75.4" r="1.75"/><circle cx="144.8" cy="125.4" r="1.75"/><circle cx="121.8" cy="141.0" r="1.75"/><circle cx="164.1" cy="101.1" r="1.75"/><circle cx="159.8" cy="114.6" r="1.75"/><circle cx="197.0" cy="70.3" r="1.75"/><circle cx="119.1" cy="156.7" r="1.75"/><circle cx="202.6" cy="76.1" r="1.75"/><circle cx="112.3" cy="151.8" r="1.75"/><circle cx="180.1" cy="92.7" r="1.75"/><circle cx="157.3" cy="123.5" r="1.75"/><circle cx="164.0" cy="101.6" r="1.75"/><circle cx="146.6" cy="111.4" r="1.75"/><circle cx="205.3" cy="59.8" r="1.75"/><circle cx="117.6" cy="145.9" r="1.75"/><circle cx="165.0" cy="108.3" r="1.75"/><circle cx="191.2" cy="83.7" r="1.75"/><circle cx="167.4" cy="91.0" r="1.75"/><circle cx="199.3" cy="72.5" r="1.75"/><circle cx="185.9" cy="83.7" r="1.75"/><circle cx="109.0" cy="156.1" r="1.75"/><circle cx="109.1" cy="134.4" r="1.75"/><circle cx="108.8" cy="164.5" r="1.75"/><circle cx="185.4" cy="83.6" r="1.75"/><circle cx="101.7" cy="149.9" r="1.75"/><circle cx="121.2" cy="155.8" r="1.75"/><circle cx="175.0" cy="87.5" r="1.75"/><circle cx="190.0" cy="87.0" r="1.75"/><circle cx="197.7" cy="76.2" r="1.75"/><circle cx="127.3" cy="128.0" r="1.75"/><circle cx="132.0" cy="133.8" r="1.75"/><circle cx="122.0" cy="154.0" r="1.75"/><circle cx="177.3" cy="86.3" r="1.75"/><circle cx="134.9" cy="124.5" r="1.75"/><circle cx="197.4" cy="74.7" r="1.75"/><circle cx="144.2" cy="127.3" r="1.75"/><circle cx="145.6" cy="122.3" r="1.75"/><circle cx="148.2" cy="100.3" r="1.75"/><circle cx="203.6" cy="62.9" r="1.75"/><circle cx="101.5" cy="162.5" r="1.75"/><circle cx="115.0" cy="148.1" r="1.75"/><circle cx="121.9" cy="142.8" r="1.75"/><circle cx="197.8" cy="76.2" r="1.75"/><circle cx="217.3" cy="57.4" r="1.75"/><circle cx="228.9" cy="43.6" r="1.75"/><circle cx="171.4" cy="111.1" r="1.75"/><circle cx="125.1" cy="150.9" r="1.75"/><circle cx="179.2" cy="101.2" r="1.75"/><circle cx="96.4" cy="165.3" r="1.75"/><circle cx="157.2" cy="120.9" r="1.75"/><circle cx="185.7" cy="90.4" r="1.75"/><circle cx="115.0" cy="127.4" r="1.75"/><circle cx="176.8" cy="90.3" r="1.75"/><circle cx="149.6" cy="122.0" r="1.75"/><circle cx="107.4" cy="157.1" r="1.75"/><circle cx="135.3" cy="142.4" r="1.75"/><circle cx="109.8" cy="141.2" r="1.75"/><circle cx="172.0" cy="103.7" r="1.75"/><circle cx="169.3" cy="98.5" r="1.75"/><circle cx="148.2" cy="126.2" r="1.75"/><circle cx="123.6" cy="129.2" r="1.75"/><circle cx="180.4" cy="82.8" r="1.75"/><circle cx="110.4" cy="155.3" r="1.75"/><circle cx="188.9" cy="77.8" r="1.75"/><circle cx="195.3" cy="73.4" r="1.75"/><circle cx="124.8" cy="138.5" r="1.75"/><circle cx="105.4" cy="143.3" r="1.75"/><circle cx="223.5" cy="49.5" r="1.75"/><circle cx="125.5" cy="154.7" r="1.75"/><circle cx="131.6" cy="124.7" r="1.75"/><circle cx="209.2" cy="59.5" r="1.75"/><circle cx="114.6" cy="136.2" r="1.75"/><circle cx="107.2" cy="152.8" r="1.75"/><circle cx="115.0" cy="143.9" r="1.75"/><circle cx="102.3" cy="145.8" r="1.75"/><circle cx="108.3" cy="139.7" r="1.75"/><circle cx="108.9" cy="161.7" r="1.75"/><circle cx="97.0" cy="149.7" r="1.75"/><circle cx="108.5" cy="132.4" r="1.75"/><circle cx="107.1" cy="142.0" r="1.75"/><circle cx="199.7" cy="71.9" r="1.75"/><circle cx="163.2" cy="100.2" r="1.75"/><circle cx="217.4" cy="59.0" r="1.75"/><circle cx="211.4" cy="54.2" r="1.75"/><circle cx="149.2" cy="127.0" r="1.75"/><circle cx="159.9" cy="118.7" r="1.75"/><circle cx="186.6" cy="85.0" r="1.75"/><circle cx="135.9" cy="133.5" r="1.75"/><circle cx="105.3" cy="150.6" r="1.75"/><circle cx="157.1" cy="118.5" r="1.75"/><circle cx="142.5" cy="117.4" r="1.75"/><circle cx="132.3" cy="133.2" r="1.75"/><circle cx="183.1" cy="79.2" r="1.75"/><circle cx="141.7" cy="125.9" r="1.75"/><circle cx="116.9" cy="143.8" r="1.75"/><circle cx="157.9" cy="115.2" r="1.75"/><circle cx="108.7" cy="165.9" r="1.75"/><circle cx="180.8" cy="81.5" r="1.75"/><circle cx="168.8" cy="99.9" r="1.75"/><circle cx="115.4" cy="163.6" r="1.75"/><circle cx="203.5" cy="72.1" r="1.75"/><circle cx="181.5" cy="84.3" r="1.75"/><circle cx="115.7" cy="151.5" r="1.75"/><circle cx="107.4" cy="168.7" r="1.75"/><circle cx="163.9" cy="103.7" r="1.75"/><circle cx="173.3" cy="95.2" r="1.75"/><circle cx="102.5" cy="149.9" r="1.75"/><circle cx="151.1" cy="124.4" r="1.75"/><circle cx="103.9" cy="160.2" r="1.75"/><circle cx="174.0" cy="95.9" r="1.75"/><circle cx="135.3" cy="135.3" r="1.75"/><circle cx="146.6" cy="128.8" r="1.75"/><circle cx="124.7" cy="134.4" r="1.75"/><circle cx="164.7" cy="115.7" r="1.75"/><circle cx="205.8" cy="64.4" r="1.75"/><circle cx="165.8" cy="98.4" r="1.75"/><circle cx="115.9" cy="153.1" r="1.75"/><circle cx="202.7" cy="66.6" r="1.75"/><circle cx="101.8" cy="163.6" r="1.75"/><circle cx="109.6" cy="151.8" r="1.75"/><circle cx="204.1" cy="62.9" r="1.75"/><circle cx="181.1" cy="86.3" r="1.75"/><circle cx="147.4" cy="121.9" r="1.75"/><circle cx="184.0" cy="77.5" r="1.75"/><circle cx="177.6" cy="81.2" r="1.75"/><circle cx="159.7" cy="98.4" r="1.75"/><circle cx="155.1" cy="110.9" r="1.75"/><circle cx="98.2" cy="159.0" r="1.75"/><circle cx="118.5" cy="129.2" r="1.75"/><circle cx="165.6" cy="99.7" r="1.75"/><circle cx="204.4" cy="63.4" r="1.75"/><circle cx="201.7" cy="78.1" r="1.75"/><circle cx="194.8" cy="79.1" r="1.75"/><circle cx="163.1" cy="89.3" r="1.75"/><circle cx="219.2" cy="48.7" r="1.75"/><circle cx="193.0" cy="66.3" r="1.75"/><circle cx="177.5" cy="80.1" r="1.75"/><circle cx="97.3" cy="163.7" r="1.75"/><circle cx="116.1" cy="134.5" r="1.75"/><circle cx="200.1" cy="71.8" r="1.75"/><circle cx="108.8" cy="140.1" r="1.75"/><circle cx="196.3" cy="85.1" r="1.75"/><circle cx="225.0" cy="51.7" r="1.75"/><circle cx="170.0" cy="110.7" r="1.75"/><circle cx="116.6" cy="157.6" r="1.75"/><circle cx="124.0" cy="145.0" r="1.75"/><circle cx="194.3" cy="79.1" r="1.75"/><circle cx="210.4" cy="54.5" r="1.75"/><circle cx="102.7" cy="163.4" r="1.75"/><circle cx="141.4" cy="126.1" r="1.75"/><circle cx="156.9" cy="113.0" r="1.75"/><circle cx="105.5" cy="160.9" r="1.75"/><circle cx="150.3" cy="111.8" r="1.75"/><circle cx="140.9" cy="125.5" r="1.75"/><circle cx="126.1" cy="131.8" r="1.75"/><circle cx="152.3" cy="117.2" r="1.75"/><circle cx="115.9" cy="151.6" r="1.75"/><circle cx="126.6" cy="145.1" r="1.75"/><circle cx="125.0" cy="127.0" r="1.75"/><circle cx="97.7" cy="163.6" r="1.75"/><circle cx="188.8" cy="94.4" r="1.75"/><circle cx="108.6" cy="162.3" r="1.75"/><circle cx="137.9" cy="126.5" r="1.75"/><circle cx="128.7" cy="130.1" r="1.75"/><circle cx="141.4" cy="103.8" r="1.75"/><circle cx="112.6" cy="147.3" r="1.75"/><circle cx="205.5" cy="62.6" r="1.75"/><circle cx="98.2" cy="143.2" r="1.75"/><circle cx="110.2" cy="144.9" r="1.75"/><circle cx="153.9" cy="103.8" r="1.75"/><circle cx="188.1" cy="88.2" r="1.75"/><circle cx="102.1" cy="156.9" r="1.75"/><circle cx="113.8" cy="146.3" r="1.75"/><circle cx="102.6" cy="162.2" r="1.75"/><circle cx="178.0" cy="84.2" r="1.75"/><circle cx="115.4" cy="135.9" r="1.75"/><circle cx="191.0" cy="78.6" r="1.75"/><circle cx="182.2" cy="82.3" r="1.75"/><circle cx="184.6" cy="73.6" r="1.75"/><circle cx="174.3" cy="106.5" r="1.75"/><circle cx="175.0" cy="97.0" r="1.75"/><circle cx="106.9" cy="148.8" r="1.75"/><circle cx="191.0" cy="84.3" r="1.75"/><circle cx="178.8" cy="75.5" r="1.75"/><circle cx="207.3" cy="66.0" r="1.75"/><circle cx="117.9" cy="137.9" r="1.75"/><circle cx="104.3" cy="148.4" r="1.75"/><circle cx="122.8" cy="145.5" r="1.75"/><circle cx="155.5" cy="104.9" r="1.75"/><circle cx="182.6" cy="91.7" r="1.75"/><circle cx="179.3" cy="94.8" r="1.75"/><circle cx="176.5" cy="92.2" r="1.75"/><circle cx="160.7" cy="104.9" r="1.75"/><circle cx="189.3" cy="87.7" r="1.75"/><circle cx="117.6" cy="150.5" r="1.75"/><circle cx="163.4" cy="90.8" r="1.75"/><circle cx="199.5" cy="63.4" r="1.75"/><circle cx="116.5" cy="154.3" r="1.75"/><circle cx="167.1" cy="102.0" r="1.75"/><circle cx="101.5" cy="148.6" r="1.75"/><circle cx="141.3" cy="122.0" r="1.75"/><circle cx="169.6" cy="108.7" r="1.75"/><circle cx="134.2" cy="117.8" r="1.75"/><circle cx="166.5" cy="106.9" r="1.75"/><circle cx="173.2" cy="108.1" r="1.75"/><circle cx="206.3" cy="59.6" r="1.75"/><circle cx="109.6" cy="159.9" r="1.75"/><circle cx="101.1" cy="163.6" r="1.75"/><circle cx="109.7" cy="131.1" r="1.75"/><circle cx="190.6" cy="90.9" r="1.75"/><circle cx="203.4" cy="65.4" r="1.75"/><circle cx="203.9" cy="57.7" r="1.75"/><circle cx="147.7" cy="107.8" r="1.75"/><circle cx="102.9" cy="143.3" r="1.75"/><circle cx="206.8" cy="65.2" r="1.75"/><circle cx="109.5" cy="149.0" r="1.75"/><circle cx="136.5" cy="130.9" r="1.75"/><circle cx="193.5" cy="84.6" r="1.75"/><circle cx="177.3" cy="77.3" r="1.75"/><circle cx="184.9" cy="81.3" r="1.75"/><circle cx="122.8" cy="145.6" r="1.75"/><circle cx="187.9" cy="82.6" r="1.75"/><circle cx="166.5" cy="99.8" r="1.75"/><circle cx="196.8" cy="75.7" r="1.75"/><circle cx="214.5" cy="61.6" r="1.75"/><circle cx="193.6" cy="82.5" r="1.75"/><circle cx="163.5" cy="113.1" r="1.75"/><circle cx="183.3" cy="97.8" r="1.75"/><circle cx="110.2" cy="162.7" r="1.75"/><circle cx="204.7" cy="66.5" r="1.75"/><circle cx="170.0" cy="105.7" r="1.75"/><circle cx="160.2" cy="105.0" r="1.75"/><circle cx="171.9" cy="107.3" r="1.75"/><circle cx="216.1" cy="45.8" r="1.75"/><circle cx="178.0" cy="83.3" r="1.75"/><circle cx="172.3" cy="98.9" r="1.75"/><circle cx="171.9" cy="96.4" r="1.75"/><circle cx="198.3" cy="72.8" r="1.75"/><circle cx="188.7" cy="86.1" r="1.75"/><circle cx="102.1" cy="157.8" r="1.75"/><circle cx="123.6" cy="142.3" r="1.75"/><circle cx="154.4" cy="110.3" r="1.75"/><circle cx="103.7" cy="158.6" r="1.75"/><circle cx="198.6" cy="67.1" r="1.75"/><circle cx="107.0" cy="161.5" r="1.75"/><circle cx="189.1" cy="73.0" r="1.75"/><circle cx="138.3" cy="121.9" r="1.75"/><circle cx="214.6" cy="55.8" r="1.75"/><circle cx="194.6" cy="84.9" r="1.75"/><circle cx="204.8" cy="60.8" r="1.75"/><circle cx="123.5" cy="133.5" r="1.75"/><circle cx="205.9" cy="63.4" r="1.75"/><circle cx="205.2" cy="64.7" r="1.75"/><circle cx="178.0" cy="88.7" r="1.75"/><circle cx="194.5" cy="70.5" r="1.75"/><circle cx="170.7" cy="103.9" r="1.75"/><circle cx="123.7" cy="148.8" r="1.75"/><circle cx="189.1" cy="76.3" r="1.75"/><circle cx="148.2" cy="120.6" r="1.75"/><circle cx="204.2" cy="66.9" r="1.75"/><circle cx="105.5" cy="163.7" r="1.75"/><circle cx="158.4" cy="106.0" r="1.75"/><circle cx="174.3" cy="89.0" r="1.75"/><circle cx="94.4" cy="159.5" r="1.75"/><circle cx="219.3" cy="53.4" r="1.75"/><circle cx="131.6" cy="132.8" r="1.75"/><circle cx="109.3" cy="150.2" r="1.75"/><circle cx="227.3" cy="48.3" r="1.75"/><circle cx="197.3" cy="69.3" r="1.75"/><circle cx="200.7" cy="77.6" r="1.75"/><circle cx="157.5" cy="115.1" r="1.75"/><circle cx="125.2" cy="136.0" r="1.75"/><circle cx="150.6" cy="112.4" r="1.75"/><circle cx="147.2" cy="126.3" r="1.75"/><circle cx="159.4" cy="112.3" r="1.75"/><circle cx="104.4" cy="142.0" r="1.75"/><circle cx="103.1" cy="154.6" r="1.75"/><circle cx="189.7" cy="87.6" r="1.75"/><circle cx="154.5" cy="99.9" r="1.75"/><circle cx="156.5" cy="109.9" r="1.75"/><circle cx="221.3" cy="53.3" r="1.75"/><circle cx="155.5" cy="112.3" r="1.75"/><circle cx="169.8" cy="107.0" r="1.75"/><circle cx="147.9" cy="112.5" r="1.75"/><circle cx="135.7" cy="139.2" r="1.75"/><circle cx="105.1" cy="154.5" r="1.75"/><circle cx="109.6" cy="164.3" r="1.75"/><circle cx="141.2" cy="123.0" r="1.75"/><circle cx="158.0" cy="106.8" r="1.75"/><circle cx="172.8" cy="98.9" r="1.75"/><circle cx="234.9" cy="42.6" r="1.75"/><circle cx="168.9" cy="101.6" r="1.75"/><circle cx="91.2" cy="154.6" r="1.75"/><circle cx="146.2" cy="109.6" r="1.75"/><circle cx="151.7" cy="101.5" r="1.75"/><circle cx="136.2" cy="115.3" r="1.75"/><circle cx="148.1" cy="120.1" r="1.75"/><circle cx="185.8" cy="81.2" r="1.75"/><circle cx="148.8" cy="106.9" r="1.75"/><circle cx="151.0" cy="120.8" r="1.75"/><circle cx="101.5" cy="163.4" r="1.75"/><circle cx="218.3" cy="55.9" r="1.75"/><circle cx="136.6" cy="129.1" r="1.75"/><circle cx="208.3" cy="64.1" r="1.75"/><circle cx="133.8" cy="126.7" r="1.75"/><circle cx="161.5" cy="97.4" r="1.75"/><circle cx="203.4" cy="69.8" r="1.75"/><circle cx="157.8" cy="101.7" r="1.75"/><circle cx="132.6" cy="145.0" r="1.75"/><circle cx="177.1" cy="79.6" r="1.75"/><circle cx="194.6" cy="75.6" r="1.75"/><circle cx="127.7" cy="127.8" r="1.75"/><circle cx="125.7" cy="174.0" r="1.75"/><circle cx="109.0" cy="133.9" r="1.75"/><circle cx="109.5" cy="152.2" r="1.75"/><circle cx="118.9" cy="143.5" r="1.75"/><circle cx="195.5" cy="80.4" r="1.75"/><circle cx="182.2" cy="83.8" r="1.75"/><circle cx="159.4" cy="115.6" r="1.75"/><circle cx="165.4" cy="101.8" r="1.75"/><circle cx="120.3" cy="139.1" r="1.75"/><circle cx="122.3" cy="130.7" r="1.75"/><circle cx="145.7" cy="123.0" r="1.75"/><circle cx="181.6" cy="92.2" r="1.75"/><circle cx="98.3" cy="171.2" r="1.75"/><circle cx="231.7" cy="40.7" r="1.75"/><circle cx="131.1" cy="117.7" r="1.75"/><circle cx="201.3" cy="69.0" r="1.75"/><circle cx="134.2" cy="123.5" r="1.75"/><circle cx="193.3" cy="73.0" r="1.75"/><circle cx="175.7" cy="92.1" r="1.75"/><circle cx="108.5" cy="142.0" r="1.75"/><circle cx="112.1" cy="136.9" r="1.75"/><circle cx="173.3" cy="90.3" r="1.75"/><circle cx="104.1" cy="156.5" r="1.75"/><circle cx="109.2" cy="146.0" r="1.75"/><circle cx="161.9" cy="115.4" r="1.75"/><circle cx="202.0" cy="63.4" r="1.75"/><circle cx="224.4" cy="31.6" r="1.75"/><circle cx="145.8" cy="108.6" r="1.75"/><circle cx="103.3" cy="154.9" r="1.75"/><circle cx="101.4" cy="154.3" r="1.75"/><circle cx="196.2" cy="70.4" r="1.75"/><circle cx="190.9" cy="66.7" r="1.75"/><circle cx="119.0" cy="140.6" r="1.75"/><circle cx="111.4" cy="150.8" r="1.75"/><circle cx="170.7" cy="105.9" r="1.75"/><circle cx="180.8" cy="77.0" r="1.75"/><circle cx="143.1" cy="132.3" r="1.75"/><circle cx="104.3" cy="166.4" r="1.75"/><circle cx="196.2" cy="71.8" r="1.75"/><circle cx="125.7" cy="128.9" r="1.75"/><circle cx="175.9" cy="87.9" r="1.75"/><circle cx="158.7" cy="100.8" r="1.75"/><circle cx="197.3" cy="75.1" r="1.75"/><circle cx="187.2" cy="81.7" r="1.75"/><circle cx="146.0" cy="119.2" r="1.75"/><circle cx="161.6" cy="116.4" r="1.75"/><circle cx="101.6" cy="161.4" r="1.75"/><circle cx="109.7" cy="154.8" r="1.75"/><circle cx="153.6" cy="114.3" r="1.75"/><circle cx="198.1" cy="67.6" r="1.75"/><circle cx="142.5" cy="132.8" r="1.75"/><circle cx="111.7" cy="151.4" r="1.75"/><circle cx="136.2" cy="131.9" r="1.75"/><circle cx="212.8" cy="69.8" r="1.75"/><circle cx="97.4" cy="171.8" r="1.75"/><circle cx="153.0" cy="113.9" r="1.75"/><circle cx="103.5" cy="144.6" r="1.75"/><circle cx="155.2" cy="108.7" r="1.75"/><circle cx="202.4" cy="58.5" r="1.75"/><circle cx="126.2" cy="136.3" r="1.75"/><circle cx="107.2" cy="164.9" r="1.75"/><circle cx="185.6" cy="82.7" r="1.75"/><circle cx="172.2" cy="97.0" r="1.75"/><circle cx="131.0" cy="134.8" r="1.75"/><circle cx="105.0" cy="163.9" r="1.75"/><circle cx="155.0" cy="125.0" r="1.75"/><circle cx="122.5" cy="154.7" r="1.75"/><circle cx="135.4" cy="138.0" r="1.75"/><circle cx="120.5" cy="146.5" r="1.75"/><circle cx="124.5" cy="156.4" r="1.75"/><circle cx="109.8" cy="150.4" r="1.75"/><circle cx="108.5" cy="149.1" r="1.75"/><circle cx="211.7" cy="61.2" r="1.75"/><circle cx="186.4" cy="87.8" r="1.75"/><circle cx="187.5" cy="79.0" r="1.75"/><circle cx="108.9" cy="165.0" r="1.75"/><circle cx="154.9" cy="111.3" r="1.75"/><circle cx="141.0" cy="114.0" r="1.75"/><circle cx="160.8" cy="113.1" r="1.75"/><circle cx="151.6" cy="105.6" r="1.75"/><circle cx="141.8" cy="125.9" r="1.75"/><circle cx="209.3" cy="62.1" r="1.75"/><circle cx="214.0" cy="55.1" r="1.75"/><circle cx="97.5" cy="156.4" r="1.75"/><circle cx="123.8" cy="148.1" r="1.75"/><circle cx="172.3" cy="107.8" r="1.75"/><circle cx="124.5" cy="133.7" r="1.75"/><circle cx="209.7" cy="66.4" r="1.75"/><circle cx="115.1" cy="138.6" r="1.75"/><circle cx="201.2" cy="66.2" r="1.75"/><circle cx="207.6" cy="68.3" r="1.75"/><circle cx="98.2" cy="161.6" r="1.75"/><circle cx="198.9" cy="77.0" r="1.75"/><circle cx="104.7" cy="167.3" r="1.75"/><circle cx="214.6" cy="61.6" r="1.75"/><circle cx="137.7" cy="126.3" r="1.75"/><circle cx="107.7" cy="161.0" r="1.75"/><circle cx="211.6" cy="61.1" r="1.75"/><circle cx="100.0" cy="151.3" r="1.75"/><circle cx="222.2" cy="51.7" r="1.75"/><circle cx="109.9" cy="166.5" r="1.75"/><circle cx="226.7" cy="42.3" r="1.75"/><circle cx="218.5" cy="51.7" r="1.75"/><circle cx="113.4" cy="152.2" r="1.75"/><circle cx="169.0" cy="88.0" r="1.75"/><circle cx="141.8" cy="123.2" r="1.75"/><circle cx="105.2" cy="144.5" r="1.75"/><circle cx="97.0" cy="166.5" r="1.75"/><circle cx="201.9" cy="66.5" r="1.75"/><circle cx="151.4" cy="118.4" r="1.75"/><circle cx="183.4" cy="79.6" r="1.75"/><circle cx="108.0" cy="147.4" r="1.75"/><circle cx="189.6" cy="89.3" r="1.75"/><circle cx="141.6" cy="126.6" r="1.75"/><circle cx="149.2" cy="105.8" r="1.75"/><circle cx="112.7" cy="150.6" r="1.75"/><circle cx="204.1" cy="67.7" r="1.75"/><circle cx="213.1" cy="55.6" r="1.75"/><circle cx="216.9" cy="52.3" r="1.75"/><circle cx="169.9" cy="91.3" r="1.75"/><circle cx="175.6" cy="96.4" r="1.75"/><circle cx="139.0" cy="129.7" r="1.75"/><circle cx="189.6" cy="77.4" r="1.75"/><circle cx="127.5" cy="119.4" r="1.75"/><circle cx="104.6" cy="154.1" r="1.75"/><circle cx="120.7" cy="132.5" r="1.75"/><circle cx="130.4" cy="145.2" r="1.75"/><circle cx="133.3" cy="148.8" r="1.75"/><circle cx="150.5" cy="114.6" r="1.75"/><circle cx="153.7" cy="109.6" r="1.75"/><circle cx="114.3" cy="155.9" r="1.75"/><circle cx="118.1" cy="160.9" r="1.75"/><circle cx="198.5" cy="74.6" r="1.75"/><circle cx="134.6" cy="128.6" r="1.75"/><circle cx="99.0" cy="150.2" r="1.75"/><circle cx="132.9" cy="134.5" r="1.75"/><circle cx="110.3" cy="160.4" r="1.75"/><circle cx="193.6" cy="65.9" r="1.75"/><circle cx="187.6" cy="89.1" r="1.75"/><circle cx="178.0" cy="88.8" r="1.75"/><circle cx="159.2" cy="103.0" r="1.75"/><circle cx="203.4" cy="68.6" r="1.75"/><circle cx="204.8" cy="69.1" r="1.75"/><circle cx="170.5" cy="95.0" r="1.75"/><circle cx="103.4" cy="146.2" r="1.75"/><circle cx="195.0" cy="67.1" r="1.75"/><circle cx="125.6" cy="143.0" r="1.75"/><circle cx="195.7" cy="76.1" r="1.75"/><circle cx="212.9" cy="51.0" r="1.75"/><circle cx="108.7" cy="144.0" r="1.75"/><circle cx="109.5" cy="137.8" r="1.75"/><circle cx="124.9" cy="130.2" r="1.75"/><circle cx="128.7" cy="148.4" r="1.75"/><circle cx="196.5" cy="80.3" r="1.75"/><circle cx="221.3" cy="54.5" r="1.75"/><circle cx="104.5" cy="165.5" r="1.75"/><circle cx="161.0" cy="98.7" r="1.75"/><circle cx="226.9" cy="48.6" r="1.75"/><circle cx="120.2" cy="155.1" r="1.75"/><circle cx="155.1" cy="105.6" r="1.75"/><circle cx="103.1" cy="162.5" r="1.75"/><circle cx="138.3" cy="121.5" r="1.75"/><circle cx="154.8" cy="112.0" r="1.75"/><circle cx="194.1" cy="75.4" r="1.75"/><circle cx="72.8" cy="169.6" r="1.75"/><circle cx="78.6" cy="169.6" r="1.75"/><circle cx="81.5" cy="168.8" r="1.75"/><circle cx="84.8" cy="167.3" r="1.75"/><circle cx="98.1" cy="181.4" r="1.75"/><circle cx="100.8" cy="182.4" r="1.75"/><circle cx="106.9" cy="185.4" r="1.75"/><circle cx="198.6" cy="70.8" r="1.75"/><circle cx="227.3" cy="76.8" r="1.75"/><circle cx="161.0" cy="52.7" r="1.75"/><circle cx="140.0" cy="90.9" r="1.75"/><circle cx="103.6" cy="138.2" r="1.75"/><circle cx="100.3" cy="141.2" r="1.75"/><circle cx="142.3" cy="133.1" r="1.75"/><circle cx="158.8" cy="148.2" r="1.75"/></g>
<g clip-path="url(#clipa)"><line x1="52.75" y1="194.5" x2="240.60000000000002" y2="23.47999999999999" stroke="#ee3b3b" stroke-width="1.3" stroke-dasharray="4,3"/><line x1="74.85" y1="194.5" x2="262.7" y2="23.47999999999999" stroke="#ee3b3b" stroke-width="1.3" stroke-dasharray="4,3"/></g>
<circle cx="76.1" cy="88" r="3.3" fill="#f07a72" stroke="#000" stroke-width="1"/>
<circle cx="173.5" cy="82.5" r="2.3" fill="#f06a6a"/>
<circle cx="181" cy="76" r="2.3" fill="#f06a6a"/>
<line x1="80.1" y1="79" x2="77" y2="84.5" stroke="#f22" stroke-width="1.4"/>
<line x1="167.8" y1="75.8" x2="173" y2="81.5" stroke="#f22" stroke-width="1.4"/>
<line x1="181.3" y1="65" x2="181" y2="74" stroke="#f22" stroke-width="1.4"/>
<text x="68.50" y="78.70" font-size="9.8" font-weight="400" fill="#ff2020" text-anchor="start" font-style="normal" >mcherry</text>
<text x="141.50" y="75.30" font-size="9.8" font-weight="400" fill="#ff2020" text-anchor="start" font-style="normal" >KRAS</text>
<text x="153.50" y="64.00" font-size="9.8" font-weight="400" fill="#ff2020" text-anchor="start" font-style="normal" >ST3GAL1</text>
<rect x="64.3" y="26" width="184.7" height="168.3" fill="none" stroke="#333" stroke-width="1.4"/>
<line x1="61.8" y1="154.3" x2="64.3" y2="154.3" stroke="#333" stroke-width="1"/>
<text x="61.30" y="157.66" font-size="9.6" font-weight="400" fill="#4d4d4d" text-anchor="end" font-style="normal" >4</text>
<line x1="108.0" y1="194.3" x2="108.0" y2="196.8" stroke="#333" stroke-width="1"/>
<text x="108.00" y="204.50" font-size="9.6" font-weight="400" fill="#4d4d4d" text-anchor="middle" font-style="normal" >4</text>
<line x1="61.8" y1="114.0" x2="64.3" y2="114.0" stroke="#333" stroke-width="1"/>
<text x="61.30" y="117.42" font-size="9.6" font-weight="400" fill="#4d4d4d" text-anchor="end" font-style="normal" >8</text>
<line x1="152.2" y1="194.3" x2="152.2" y2="196.8" stroke="#333" stroke-width="1"/>
<text x="152.20" y="204.50" font-size="9.6" font-weight="400" fill="#4d4d4d" text-anchor="middle" font-style="normal" >8</text>
<line x1="61.8" y1="73.8" x2="64.3" y2="73.8" stroke="#333" stroke-width="1"/>
<text x="61.30" y="77.18" font-size="9.6" font-weight="400" fill="#4d4d4d" text-anchor="end" font-style="normal" >12</text>
<line x1="196.4" y1="194.3" x2="196.4" y2="196.8" stroke="#333" stroke-width="1"/>
<text x="196.40" y="204.50" font-size="9.6" font-weight="400" fill="#4d4d4d" text-anchor="middle" font-style="normal" >12</text>
<line x1="61.8" y1="33.5" x2="64.3" y2="33.5" stroke="#333" stroke-width="1"/>
<text x="61.30" y="36.94" font-size="9.6" font-weight="400" fill="#4d4d4d" text-anchor="end" font-style="normal" >16</text>
<line x1="240.6" y1="194.3" x2="240.6" y2="196.8" stroke="#333" stroke-width="1"/>
<text x="240.60" y="204.50" font-size="9.6" font-weight="400" fill="#4d4d4d" text-anchor="middle" font-style="normal" >16</text>
<text x="156.50" y="21.80" font-size="10.4" font-weight="400" fill="#000" text-anchor="middle" font-style="normal" >Acinar WT vs oncoKRAS</text>
<text x="48.30" y="110.00" font-size="9.1" font-weight="700" fill="#ff1a1a" text-anchor="middle" font-style="normal" transform="rotate(-90 48.3 110)" >Log2 normalized counts in KRAS</text>
<text x="157.00" y="215.50" font-size="9.15" font-weight="700" fill="#1a1aff" text-anchor="middle" font-style="normal" >Log2 normalized counts in WT</text>
<text x="297.00" y="17.60" font-size="19" font-weight="700" fill="#000" text-anchor="start" font-style="normal" >c</text>
<text x="341.50" y="25.20" font-size="13.1" font-weight="700" fill="#ff1a1a" text-anchor="start" font-style="normal" >Acinar 3D KPTS culture</text>
<text x="508.00" y="24.90" font-size="13.1" font-weight="700" fill="#1f7bc8" text-anchor="start" font-style="normal" >Ductal 2D KPTS culture</text>
<rect x="332.5" y="29.3" width="172.5" height="204.5" fill="none" stroke="#f5b656" stroke-width="1.6"/>
<rect x="510" y="28.5" width="174" height="205" fill="none" stroke="#3b86c6" stroke-width="1.6"/>
<text x="334.50" y="43.60" font-size="11.7" font-weight="700" fill="#000" text-anchor="start" font-style="normal" >Donor A</text>
<text x="334.50" y="143.20" font-size="11.7" font-weight="700" fill="#000" text-anchor="start" font-style="normal" >Donor B</text>
<text x="512.00" y="43.40" font-size="11.7" font-weight="700" fill="#000" text-anchor="start" font-style="normal" >Donor C</text>
<text x="513.00" y="142.40" font-size="11.7" font-weight="700" fill="#000" text-anchor="start" font-style="normal" >Donor D</text>
<circle cx="356" cy="57.6" r="6.5" fill="#3a91cc"/><path d="M348.8,69.1 Q348.8,65.2 352.5,65.2 L359.5,65.2 Q363.2,65.2 363.2,69.1 L363.2,92.6 L348.8,92.6 Z" fill="#3a91cc"/><g stroke="#3a91cc" stroke-linecap="round" fill="none"><line x1="350.5" y1="67.4" x2="338.4" y2="82.9" stroke-width="3.6"/><line x1="361.5" y1="67.4" x2="373.6" y2="82.9" stroke-width="3.6"/><line x1="352.0" y1="90.6" x2="352.0" y2="113.6" stroke-width="5.2"/><line x1="360.0" y1="90.6" x2="360.0" y2="113.6" stroke-width="5.2"/></g>
<circle cx="357.6" cy="159.6" r="6.5" fill="#8b2626"/><path d="M350.4,171.1 Q350.4,167.2 354.1,167.2 L361.1,167.2 Q364.8,167.2 364.8,171.1 L364.8,194.6 L350.4,194.6 Z" fill="#8b2626"/><g stroke="#8b2626" stroke-linecap="round" fill="none"><line x1="352.1" y1="169.4" x2="340.0" y2="184.9" stroke-width="3.6"/><line x1="363.1" y1="169.4" x2="375.2" y2="184.9" stroke-width="3.6"/><line x1="353.6" y1="192.6" x2="353.6" y2="215.6" stroke-width="5.2"/><line x1="361.6" y1="192.6" x2="361.6" y2="215.6" stroke-width="5.2"/></g>
<circle cx="533.8" cy="56.0" r="6.5" fill="#7b3f98"/><path d="M526.6,67.5 Q526.6,63.6 530.3,63.6 L537.3,63.6 Q541.0,63.6 541.0,67.5 L541.0,91.0 L526.6,91.0 Z" fill="#7b3f98"/><g stroke="#7b3f98" stroke-linecap="round" fill="none"><line x1="528.3" y1="65.8" x2="516.2" y2="81.3" stroke-width="3.6"/><line x1="539.3" y1="65.8" x2="551.4" y2="81.3" stroke-width="3.6"/><line x1="529.8" y1="89.0" x2="529.8" y2="112.0" stroke-width="5.2"/><line x1="537.8" y1="89.0" x2="537.8" y2="112.0" stroke-width="5.2"/></g>
<circle cx="532.4" cy="161.4" r="6.5" fill="#2e5f7a"/><path d="M525.2,172.9 Q525.2,169.0 528.9,169.0 L535.9,169.0 Q539.6,169.0 539.6,172.9 L539.6,196.4 L525.2,196.4 Z" fill="#2e5f7a"/><g stroke="#2e5f7a" stroke-linecap="round" fill="none"><line x1="526.9" y1="171.2" x2="514.8" y2="186.7" stroke-width="3.6"/><line x1="537.9" y1="171.2" x2="550.0" y2="186.7" stroke-width="3.6"/><line x1="528.4" y1="194.4" x2="528.4" y2="217.4" stroke-width="5.2"/><line x1="536.4" y1="194.4" x2="536.4" y2="217.4" stroke-width="5.2"/></g>
<line x1="380" y1="84" x2="406" y2="84" stroke="#000" stroke-width="3.6"/>
<line x1="379.5" y1="173.6" x2="405" y2="162" stroke="#000" stroke-width="3.6"/>
<line x1="379.5" y1="193.6" x2="403.6" y2="206" stroke="#000" stroke-width="3.6"/>
<line x1="560" y1="76.5" x2="581.6" y2="64.8" stroke="#000" stroke-width="3.6"/>
<line x1="560" y1="94" x2="581.6" y2="106.7" stroke="#000" stroke-width="3.6"/>
<line x1="561.6" y1="173.5" x2="582.4" y2="161.3" stroke="#000" stroke-width="3.6"/>
<line x1="561.6" y1="191.6" x2="582" y2="204.6" stroke="#000" stroke-width="3.6"/>
<text x="443.60" y="56.40" font-size="11.5" font-weight="700" fill="#000" text-anchor="start" font-style="normal" >Culture #1</text>
<text x="443.60" y="125.00" font-size="11.5" font-weight="700" fill="#000" text-anchor="start" font-style="normal" >Culture #2</text>
<text x="443.60" y="186.00" font-size="11.5" font-weight="700" fill="#000" text-anchor="start" font-style="normal" >Culture #3</text>
<text x="608.00" y="43.20" font-size="11.5" font-weight="700" fill="#000" text-anchor="start" font-style="normal" >Culture #1</text>
<text x="609.50" y="89.20" font-size="11.5" font-weight="700" fill="#000" text-anchor="start" font-style="normal" >Culture #2</text>
<text x="610.80" y="140.30" font-size="11.5" font-weight="700" fill="#000" text-anchor="start" font-style="normal" >Culture #3</text>
<text x="610.80" y="189.70" font-size="11.5" font-weight="700" fill="#000" text-anchor="start" font-style="normal" >Culture #4</text>
<path d="M414.6,77.9 L414.6,84.1 A40.7,12.4 0 0 0 496.0,84.1 L496.0,77.9 Z" fill="#dcecf2" stroke="#b5bec6" stroke-width="0.8"/><ellipse cx="455.3" cy="77.9" rx="40.7" ry="12.4" fill="#e6f1f5" stroke="#b5bec6" stroke-width="0.8"/><ellipse cx="455.3" cy="80.1" rx="38.7" ry="10.8" fill="#d2e8f0" stroke="#c3ccd3" stroke-width="0.6"/><path d="M473.4,76.4 L473.2,77.6 L472.1,78.7 L470.5,79.5 L470.2,80.7 L470.7,82.3 L470.1,83.8 L467.7,84.3 L464.9,84.2 L462.8,84.5 L460.9,84.9 L458.8,85.0 L456.8,85.0 L454.6,85.6 L452.0,86.3 L449.7,85.9 L448.5,84.4 L447.6,83.0 L446.0,82.4 L444.0,81.8 L442.8,80.9 L441.6,79.9 L439.6,78.9 L438.3,77.8 L439.3,76.4 L441.7,75.3 L442.8,74.3 L442.3,73.1 L442.2,71.7 L443.3,70.7 L444.6,69.7 L445.9,68.5 L447.9,67.8 L450.7,68.2 L453.1,68.7 L454.9,68.2 L456.8,67.1 L459.1,66.6 L461.3,67.0 L463.4,67.6 L465.5,68.0 L467.0,69.1 L467.4,70.5 L468.3,71.5 L470.8,71.9 L473.5,72.6 L474.5,73.8 L473.8,75.2Z" fill="#fdf4da" stroke="#e0b444" stroke-width="2.4" stroke-linejoin="round"/><ellipse cx="471.5" cy="78.5" rx="3.2" ry="2.2" fill="#fbecc4" stroke="#e0b444" stroke-width="1.1"/><ellipse cx="457.8" cy="84.8" rx="3.2" ry="2.2" fill="#fbecc4" stroke="#e0b444" stroke-width="1.1"/><ellipse cx="446.0" cy="82.3" rx="3.2" ry="2.2" fill="#fbecc4" stroke="#e0b444" stroke-width="1.1"/><ellipse cx="443.4" cy="72.4" rx="3.2" ry="2.2" fill="#fbecc4" stroke="#e0b444" stroke-width="1.1"/><ellipse cx="452.8" cy="68.3" rx="3.2" ry="2.2" fill="#fbecc4" stroke="#e0b444" stroke-width="1.1"/><ellipse cx="465.3" cy="69.4" rx="3.2" ry="2.2" fill="#fbecc4" stroke="#e0b444" stroke-width="1.1"/><ellipse cx="456.8" cy="76.4" rx="12" ry="6" fill="#fefaec"/>
<path d="M415.0,149.2 L415.0,155.3 A40.5,12.2 0 0 0 496.0,155.3 L496.0,149.2 Z" fill="#dcecf2" stroke="#b5bec6" stroke-width="0.8"/><ellipse cx="455.5" cy="149.2" rx="40.5" ry="12.2" fill="#e6f1f5" stroke="#b5bec6" stroke-width="0.8"/><ellipse cx="455.5" cy="151.4" rx="38.5" ry="10.6" fill="#d2e8f0" stroke="#c3ccd3" stroke-width="0.6"/><path d="M473.6,147.7 L473.4,148.9 L472.2,150.0 L470.7,150.8 L470.5,152.0 L471.1,153.7 L470.3,155.1 L467.8,155.5 L465.1,155.4 L463.0,155.8 L461.1,156.2 L459.0,156.3 L457.0,156.3 L454.8,157.0 L452.2,157.7 L449.9,157.2 L448.7,155.6 L447.8,154.3 L446.1,153.7 L444.2,153.1 L443.0,152.2 L441.7,151.2 L439.7,150.3 L438.5,149.0 L439.6,147.7 L442.0,146.6 L442.9,145.6 L442.4,144.3 L442.3,143.0 L443.5,142.0 L444.8,140.9 L446.0,139.8 L448.1,139.2 L450.9,139.6 L453.3,140.0 L455.0,139.4 L457.0,138.3 L459.3,137.9 L461.5,138.4 L463.6,138.9 L465.7,139.3 L467.1,140.4 L467.5,141.9 L468.5,142.8 L471.1,143.2 L473.8,143.8 L474.6,145.1 L474.0,146.5Z" fill="#fdf4da" stroke="#e0b444" stroke-width="2.4" stroke-linejoin="round"/><ellipse cx="471.4" cy="150.4" rx="3.2" ry="2.2" fill="#fbecc4" stroke="#e0b444" stroke-width="1.1"/><ellipse cx="462.0" cy="155.6" rx="3.2" ry="2.2" fill="#fbecc4" stroke="#e0b444" stroke-width="1.1"/><ellipse cx="446.5" cy="153.8" rx="3.2" ry="2.2" fill="#fbecc4" stroke="#e0b444" stroke-width="1.1"/><ellipse cx="441.9" cy="146.8" rx="3.2" ry="2.2" fill="#fbecc4" stroke="#e0b444" stroke-width="1.1"/><ellipse cx="452.9" cy="139.6" rx="3.2" ry="2.2" fill="#fbecc4" stroke="#e0b444" stroke-width="1.1"/><ellipse cx="467.6" cy="141.7" rx="3.2" ry="2.2" fill="#fbecc4" stroke="#e0b444" stroke-width="1.1"/><ellipse cx="457.0" cy="147.7" rx="12" ry="6" fill="#fefaec"/>
<path d="M415.0,206.6 L415.0,212.7 A40.5,12.2 0 0 0 496.0,212.7 L496.0,206.6 Z" fill="#dcecf2" stroke="#b5bec6" stroke-width="0.8"/><ellipse cx="455.5" cy="206.6" rx="40.5" ry="12.2" fill="#e6f1f5" stroke="#b5bec6" stroke-width="0.8"/><ellipse cx="455.5" cy="208.8" rx="38.5" ry="10.6" fill="#d2e8f0" stroke="#c3ccd3" stroke-width="0.6"/><path d="M473.3,205.1 L471.9,206.2 L471.3,207.2 L472.3,208.6 L473.1,210.2 L471.6,211.3 L468.9,211.7 L466.7,212.1 L465.0,212.8 L463.0,213.2 L461.0,213.3 L459.1,213.9 L457.0,215.0 L454.5,215.5 L452.4,214.5 L451.0,213.1 L449.4,212.4 L447.3,212.1 L445.6,211.4 L444.2,210.5 L442.2,209.8 L439.9,209.0 L439.3,207.7 L441.0,206.3 L442.4,205.1 L442.0,204.0 L441.1,202.7 L441.4,201.5 L442.3,200.4 L442.9,199.1 L444.1,198.0 L446.7,197.6 L449.6,198.0 L451.5,197.7 L452.9,196.5 L454.7,195.5 L457.0,195.4 L459.3,195.6 L461.5,195.7 L463.6,196.3 L464.9,197.6 L465.7,198.8 L467.7,199.1 L470.8,199.2 L472.9,200.0 L473.3,201.4 L473.2,202.7 L473.6,203.9Z" fill="#fdf4da" stroke="#e0b444" stroke-width="2.4" stroke-linejoin="round"/><ellipse cx="472.0" cy="206.6" rx="3.2" ry="2.2" fill="#fbecc4" stroke="#e0b444" stroke-width="1.1"/><ellipse cx="461.1" cy="213.2" rx="3.2" ry="2.2" fill="#fbecc4" stroke="#e0b444" stroke-width="1.1"/><ellipse cx="448.0" cy="211.9" rx="3.2" ry="2.2" fill="#fbecc4" stroke="#e0b444" stroke-width="1.1"/><ellipse cx="443.8" cy="201.0" rx="3.2" ry="2.2" fill="#fbecc4" stroke="#e0b444" stroke-width="1.1"/><ellipse cx="453.8" cy="196.9" rx="3.2" ry="2.2" fill="#fbecc4" stroke="#e0b444" stroke-width="1.1"/><ellipse cx="470.0" cy="200.7" rx="3.2" ry="2.2" fill="#fbecc4" stroke="#e0b444" stroke-width="1.1"/><ellipse cx="457.0" cy="205.1" rx="12" ry="6" fill="#fefaec"/>
<path d="M589.6,59.2 L589.6,64.5 A39.7,10.5 0 0 0 669.0,64.5 L669.0,59.2 Z" fill="#dcecf2" stroke="#b5bec6" stroke-width="0.8"/><ellipse cx="629.3" cy="59.2" rx="39.7" ry="10.5" fill="#e6f1f5" stroke="#b5bec6" stroke-width="0.8"/><ellipse cx="629.3" cy="61.4" rx="37.7" ry="8.9" fill="#d2e8f0" stroke="#c3ccd3" stroke-width="0.6"/><ellipse cx="614.3" cy="59.7" rx="4.2" ry="2.4" fill="#4272ba" stroke="#6d93cc" stroke-width="0.5"/><ellipse cx="620.3" cy="56.7" rx="4.2" ry="2.4" fill="#4272ba" stroke="#6d93cc" stroke-width="0.5"/><ellipse cx="626.3" cy="57.7" rx="4.2" ry="2.4" fill="#4272ba" stroke="#6d93cc" stroke-width="0.5"/><ellipse cx="632.3" cy="56.7" rx="4.2" ry="2.4" fill="#4272ba" stroke="#6d93cc" stroke-width="0.5"/><ellipse cx="638.3" cy="56.7" rx="4.2" ry="2.4" fill="#4272ba" stroke="#6d93cc" stroke-width="0.5"/><ellipse cx="643.3" cy="59.7" rx="4.2" ry="2.4" fill="#4272ba" stroke="#6d93cc" stroke-width="0.5"/><ellipse cx="617.3" cy="62.7" rx="4.2" ry="2.4" fill="#4272ba" stroke="#6d93cc" stroke-width="0.5"/><ellipse cx="623.3" cy="61.7" rx="4.2" ry="2.4" fill="#4272ba" stroke="#6d93cc" stroke-width="0.5"/><ellipse cx="629.3" cy="62.7" rx="4.2" ry="2.4" fill="#4272ba" stroke="#6d93cc" stroke-width="0.5"/><ellipse cx="635.3" cy="61.7" rx="4.2" ry="2.4" fill="#4272ba" stroke="#6d93cc" stroke-width="0.5"/><ellipse cx="641.3" cy="62.7" rx="4.2" ry="2.4" fill="#4272ba" stroke="#6d93cc" stroke-width="0.5"/><ellipse cx="622.3" cy="65.2" rx="4.2" ry="2.4" fill="#4272ba" stroke="#6d93cc" stroke-width="0.5"/><ellipse cx="628.3" cy="65.7" rx="4.2" ry="2.4" fill="#4272ba" stroke="#6d93cc" stroke-width="0.5"/><ellipse cx="634.3" cy="65.2" rx="4.2" ry="2.4" fill="#4272ba" stroke="#6d93cc" stroke-width="0.5"/><ellipse cx="611.3" cy="61.2" rx="4.2" ry="2.4" fill="#4272ba" stroke="#6d93cc" stroke-width="0.5"/><ellipse cx="646.3" cy="61.2" rx="4.2" ry="2.4" fill="#4272ba" stroke="#6d93cc" stroke-width="0.5"/>
<path d="M589.6,105.1 L589.6,110.4 A39.7,10.5 0 0 0 669.0,110.4 L669.0,105.1 Z" fill="#dcecf2" stroke="#b5bec6" stroke-width="0.8"/><ellipse cx="629.3" cy="105.1" rx="39.7" ry="10.5" fill="#e6f1f5" stroke="#b5bec6" stroke-width="0.8"/><ellipse cx="629.3" cy="107.3" rx="37.7" ry="8.9" fill="#d2e8f0" stroke="#c3ccd3" stroke-width="0.6"/><ellipse cx="614.3" cy="105.6" rx="4.2" ry="2.4" fill="#4272ba" stroke="#6d93cc" stroke-width="0.5"/><ellipse cx="620.3" cy="102.6" rx="4.2" ry="2.4" fill="#4272ba" stroke="#6d93cc" stroke-width="0.5"/><ellipse cx="626.3" cy="103.6" rx="4.2" ry="2.4" fill="#4272ba" stroke="#6d93cc" stroke-width="0.5"/><ellipse cx="632.3" cy="102.6" rx="4.2" ry="2.4" fill="#4272ba" stroke="#6d93cc" stroke-width="0.5"/><ellipse cx="638.3" cy="102.6" rx="4.2" ry="2.4" fill="#4272ba" stroke="#6d93cc" stroke-width="0.5"/><ellipse cx="643.3" cy="105.6" rx="4.2" ry="2.4" fill="#4272ba" stroke="#6d93cc" stroke-width="0.5"/><ellipse cx="617.3" cy="108.6" rx="4.2" ry="2.4" fill="#4272ba" stroke="#6d93cc" stroke-width="0.5"/><ellipse cx="623.3" cy="107.6" rx="4.2" ry="2.4" fill="#4272ba" stroke="#6d93cc" stroke-width="0.5"/><ellipse cx="629.3" cy="108.6" rx="4.2" ry="2.4" fill="#4272ba" stroke="#6d93cc" stroke-width="0.5"/><ellipse cx="635.3" cy="107.6" rx="4.2" ry="2.4" fill="#4272ba" stroke="#6d93cc" stroke-width="0.5"/><ellipse cx="641.3" cy="108.6" rx="4.2" ry="2.4" fill="#4272ba" stroke="#6d93cc" stroke-width="0.5"/><ellipse cx="622.3" cy="111.1" rx="4.2" ry="2.4" fill="#4272ba" stroke="#6d93cc" stroke-width="0.5"/><ellipse cx="628.3" cy="111.6" rx="4.2" ry="2.4" fill="#4272ba" stroke="#6d93cc" stroke-width="0.5"/><ellipse cx="634.3" cy="111.1" rx="4.2" ry="2.4" fill="#4272ba" stroke="#6d93cc" stroke-width="0.5"/><ellipse cx="611.3" cy="107.1" rx="4.2" ry="2.4" fill="#4272ba" stroke="#6d93cc" stroke-width="0.5"/><ellipse cx="646.3" cy="107.1" rx="4.2" ry="2.4" fill="#4272ba" stroke="#6d93cc" stroke-width="0.5"/>
<path d="M589.6,156.5 L589.6,161.9 A39.7,10.8 0 0 0 669.0,161.9 L669.0,156.5 Z" fill="#dcecf2" stroke="#b5bec6" stroke-width="0.8"/><ellipse cx="629.3" cy="156.5" rx="39.7" ry="10.8" fill="#e6f1f5" stroke="#b5bec6" stroke-width="0.8"/><ellipse cx="629.3" cy="158.7" rx="37.7" ry="9.2" fill="#d2e8f0" stroke="#c3ccd3" stroke-width="0.6"/><ellipse cx="614.3" cy="157.0" rx="4.2" ry="2.4" fill="#4272ba" stroke="#6d93cc" stroke-width="0.5"/><ellipse cx="620.3" cy="154.0" rx="4.2" ry="2.4" fill="#4272ba" stroke="#6d93cc" stroke-width="0.5"/><ellipse cx="626.3" cy="155.0" rx="4.2" ry="2.4" fill="#4272ba" stroke="#6d93cc" stroke-width="0.5"/><ellipse cx="632.3" cy="154.0" rx="4.2" ry="2.4" fill="#4272ba" stroke="#6d93cc" stroke-width="0.5"/><ellipse cx="638.3" cy="154.0" rx="4.2" ry="2.4" fill="#4272ba" stroke="#6d93cc" stroke-width="0.5"/><ellipse cx="643.3" cy="157.0" rx="4.2" ry="2.4" fill="#4272ba" stroke="#6d93cc" stroke-width="0.5"/><ellipse cx="617.3" cy="160.0" rx="4.2" ry="2.4" fill="#4272ba" stroke="#6d93cc" stroke-width="0.5"/><ellipse cx="623.3" cy="159.0" rx="4.2" ry="2.4" fill="#4272ba" stroke="#6d93cc" stroke-width="0.5"/><ellipse cx="629.3" cy="160.0" rx="4.2" ry="2.4" fill="#4272ba" stroke="#6d93cc" stroke-width="0.5"/><ellipse cx="635.3" cy="159.0" rx="4.2" ry="2.4" fill="#4272ba" stroke="#6d93cc" stroke-width="0.5"/><ellipse cx="641.3" cy="160.0" rx="4.2" ry="2.4" fill="#4272ba" stroke="#6d93cc" stroke-width="0.5"/><ellipse cx="622.3" cy="162.5" rx="4.2" ry="2.4" fill="#4272ba" stroke="#6d93cc" stroke-width="0.5"/><ellipse cx="628.3" cy="163.0" rx="4.2" ry="2.4" fill="#4272ba" stroke="#6d93cc" stroke-width="0.5"/><ellipse cx="634.3" cy="162.5" rx="4.2" ry="2.4" fill="#4272ba" stroke="#6d93cc" stroke-width="0.5"/><ellipse cx="611.3" cy="158.5" rx="4.2" ry="2.4" fill="#4272ba" stroke="#6d93cc" stroke-width="0.5"/><ellipse cx="646.3" cy="158.5" rx="4.2" ry="2.4" fill="#4272ba" stroke="#6d93cc" stroke-width="0.5"/>
<path d="M589.6,207.3 L589.6,212.7 A39.7,10.8 0 0 0 669.0,212.7 L669.0,207.3 Z" fill="#dcecf2" stroke="#b5bec6" stroke-width="0.8"/><ellipse cx="629.3" cy="207.3" rx="39.7" ry="10.8" fill="#e6f1f5" stroke="#b5bec6" stroke-width="0.8"/><ellipse cx="629.3" cy="209.5" rx="37.7" ry="9.2" fill="#d2e8f0" stroke="#c3ccd3" stroke-width="0.6"/><ellipse cx="614.3" cy="207.8" rx="4.2" ry="2.4" fill="#4272ba" stroke="#6d93cc" stroke-width="0.5"/><ellipse cx="620.3" cy="204.8" rx="4.2" ry="2.4" fill="#4272ba" stroke="#6d93cc" stroke-width="0.5"/><ellipse cx="626.3" cy="205.8" rx="4.2" ry="2.4" fill="#4272ba" stroke="#6d93cc" stroke-width="0.5"/><ellipse cx="632.3" cy="204.8" rx="4.2" ry="2.4" fill="#4272ba" stroke="#6d93cc" stroke-width="0.5"/><ellipse cx="638.3" cy="204.8" rx="4.2" ry="2.4" fill="#4272ba" stroke="#6d93cc" stroke-width="0.5"/><ellipse cx="643.3" cy="207.8" rx="4.2" ry="2.4" fill="#4272ba" stroke="#6d93cc" stroke-width="0.5"/><ellipse cx="617.3" cy="210.8" rx="4.2" ry="2.4" fill="#4272ba" stroke="#6d93cc" stroke-width="0.5"/><ellipse cx="623.3" cy="209.8" rx="4.2" ry="2.4" fill="#4272ba" stroke="#6d93cc" stroke-width="0.5"/><ellipse cx="629.3" cy="210.8" rx="4.2" ry="2.4" fill="#4272ba" stroke="#6d93cc" stroke-width="0.5"/><ellipse cx="635.3" cy="209.8" rx="4.2" ry="2.4" fill="#4272ba" stroke="#6d93cc" stroke-width="0.5"/><ellipse cx="641.3" cy="210.8" rx="4.2" ry="2.4" fill="#4272ba" stroke="#6d93cc" stroke-width="0.5"/><ellipse cx="622.3" cy="213.3" rx="4.2" ry="2.4" fill="#4272ba" stroke="#6d93cc" stroke-width="0.5"/><ellipse cx="628.3" cy="213.8" rx="4.2" ry="2.4" fill="#4272ba" stroke="#6d93cc" stroke-width="0.5"/><ellipse cx="634.3" cy="213.3" rx="4.2" ry="2.4" fill="#4272ba" stroke="#6d93cc" stroke-width="0.5"/><ellipse cx="611.3" cy="209.3" rx="4.2" ry="2.4" fill="#4272ba" stroke="#6d93cc" stroke-width="0.5"/><ellipse cx="646.3" cy="209.3" rx="4.2" ry="2.4" fill="#4272ba" stroke="#6d93cc" stroke-width="0.5"/>
<text x="3.00" y="258.30" font-size="19" font-weight="700" fill="#000" text-anchor="start" font-style="normal" >b</text>
<text x="148.50" y="262.00" font-size="10.2" font-weight="700" fill="#000" text-anchor="middle" font-style="normal" >OncoKRAS regulated metabolic program</text>
<text x="150.30" y="273.30" font-size="10.2" font-weight="700" fill="#000" text-anchor="middle" font-style="normal" >in mice PDAC (Ying et al, 2012)</text>
<rect x="76.6" y="283" width="44.2" height="12.6" fill="#ff0000" stroke="#1a1a1a" stroke-width="1.3"/>
<rect x="122.3" y="283" width="54.0" height="12.6" fill="#ff7f50" stroke="#1a1a1a" stroke-width="1.3"/>
<rect x="177.6" y="283" width="45.0" height="12.6" fill="#f7a640" stroke="#1a1a1a" stroke-width="1.3"/>
<text x="98.50" y="293.10" font-size="9.7" font-weight="700" fill="#fff" text-anchor="middle" font-style="normal" >Fresh</text>
<text x="149.40" y="293.10" font-size="9.7" font-weight="700" fill="#fff" text-anchor="middle" font-style="normal" >Culture</text>
<text x="197.00" y="293.10" font-size="9.7" font-weight="700" fill="#fff" text-anchor="middle" font-style="normal" >oncoKRAS</text>
<rect x="120.4" y="299.5" width="2.3" height="207.3" fill="#8a8a8a"/>
<rect x="176.1" y="299.5" width="2.3" height="207.3" fill="#8a8a8a"/>
<rect x="222.3" y="299.5" width="2.2" height="207.3" fill="#8a8a8a"/>
<rect x="76.6" y="299.6" width="44.00" height="78.80" fill="#fff"/>
<rect x="77.15" y="300.10" width="7.70" height="5.57" fill="#8080ff"/>
<rect x="85.95" y="300.10" width="7.70" height="5.57" fill="#9f9fff"/>
<rect x="94.75" y="300.10" width="7.70" height="5.57" fill="#8080ff"/>
<rect x="103.55" y="300.10" width="7.70" height="5.57" fill="#8080ff"/>
<rect x="112.35" y="300.10" width="7.70" height="5.57" fill="#9f9fff"/>
<rect x="77.15" y="306.67" width="7.70" height="5.57" fill="#8080ff"/>
<rect x="85.95" y="306.67" width="7.70" height="5.57" fill="#9f9fff"/>
<rect x="94.75" y="306.67" width="7.70" height="5.57" fill="#8080ff"/>
<rect x="103.55" y="306.67" width="7.70" height="5.57" fill="#bfbfff"/>
<rect x="112.35" y="306.67" width="7.70" height="5.57" fill="#8080ff"/>
<rect x="77.15" y="313.23" width="7.70" height="5.57" fill="#4040ff"/>
<rect x="85.95" y="313.23" width="7.70" height="5.57" fill="#dfdfff"/>
<rect x="94.75" y="313.23" width="7.70" height="5.57" fill="#8080ff"/>
<rect x="103.55" y="313.23" width="7.70" height="5.57" fill="#9f9fff"/>
<rect x="112.35" y="313.23" width="7.70" height="5.57" fill="#dfdfff"/>
<rect x="77.15" y="319.80" width="7.70" height="5.57" fill="#8080ff"/>
<rect x="85.95" y="319.80" width="7.70" height="5.57" fill="#9f9fff"/>
<rect x="94.75" y="319.80" width="7.70" height="5.57" fill="#9f9fff"/>
<rect x="103.55" y="319.80" width="7.70" height="5.57" fill="#9f9fff"/>
<rect x="112.35" y="319.80" width="7.70" height="5.57" fill="#9f9fff"/>
<rect x="77.15" y="326.37" width="7.70" height="5.57" fill="#9f9fff"/>
<rect x="85.95" y="326.37" width="7.70" height="5.57" fill="#bfbfff"/>
<rect x="94.75" y="326.37" width="7.70" height="5.57" fill="#9f9fff"/>
<rect x="103.55" y="326.37" width="7.70" height="5.57" fill="#bfbfff"/>
<rect x="112.35" y="326.37" width="7.70" height="5.57" fill="#9f9fff"/>
<rect x="77.15" y="332.93" width="7.70" height="5.57" fill="#4040ff"/>
<rect x="85.95" y="332.93" width="7.70" height="5.57" fill="#ffecec"/>
<rect x="94.75" y="332.93" width="7.70" height="5.57" fill="#8080ff"/>
<rect x="103.55" y="332.93" width="7.70" height="5.57" fill="#9f9fff"/>
<rect x="112.35" y="332.93" width="7.70" height="5.57" fill="#9f9fff"/>
<rect x="77.15" y="339.50" width="7.70" height="5.57" fill="#9f9fff"/>
<rect x="85.95" y="339.50" width="7.70" height="5.57" fill="#8080ff"/>
<rect x="94.75" y="339.50" width="7.70" height="5.57" fill="#4040ff"/>
<rect x="103.55" y="339.50" width="7.70" height="5.57" fill="#bfbfff"/>
<rect x="112.35" y="339.50" width="7.70" height="5.57" fill="#8080ff"/>
<rect x="77.15" y="346.07" width="7.70" height="5.57" fill="#8080ff"/>
<rect x="85.95" y="346.07" width="7.70" height="5.57" fill="#bfbfff"/>
<rect x="94.75" y="346.07" width="7.70" height="5.57" fill="#9f9fff"/>
<rect x="103.55" y="346.07" width="7.70" height="5.57" fill="#bfbfff"/>
<rect x="112.35" y="346.07" width="7.70" height="5.57" fill="#9f9fff"/>
<rect x="77.15" y="352.63" width="7.70" height="5.57" fill="#8080ff"/>
<rect x="85.95" y="352.63" width="7.70" height="5.57" fill="#bfbfff"/>
<rect x="94.75" y="352.63" width="7.70" height="5.57" fill="#8080ff"/>
<rect x="103.55" y="352.63" width="7.70" height="5.57" fill="#bfbfff"/>
<rect x="112.35" y="352.63" width="7.70" height="5.57" fill="#9f9fff"/>
<rect x="77.15" y="359.20" width="7.70" height="5.57" fill="#bfbfff"/>
<rect x="85.95" y="359.20" width="7.70" height="5.57" fill="#bfbfff"/>
<rect x="94.75" y="359.20" width="7.70" height="5.57" fill="#9f9fff"/>
<rect x="103.55" y="359.20" width="7.70" height="5.57" fill="#6060ff"/>
<rect x="112.35" y="359.20" width="7.70" height="5.57" fill="#6060ff"/>
<rect x="77.15" y="365.77" width="7.70" height="5.57" fill="#9f9fff"/>
<rect x="85.95" y="365.77" width="7.70" height="5.57" fill="#bfbfff"/>
<rect x="94.75" y="365.77" width="7.70" height="5.57" fill="#bfbfff"/>
<rect x="103.55" y="365.77" width="7.70" height="5.57" fill="#bfbfff"/>
<rect x="112.35" y="365.77" width="7.70" height="5.57" fill="#9f9fff"/>
<rect x="77.15" y="372.33" width="7.70" height="5.57" fill="#ffcccc"/>
<rect x="85.95" y="372.33" width="7.70" height="5.57" fill="#ff9f9f"/>
<rect x="94.75" y="372.33" width="7.70" height="5.57" fill="#dfdfff"/>
<rect x="103.55" y="372.33" width="7.70" height="5.57" fill="#ffdfdf"/>
<rect x="112.35" y="372.33" width="7.70" height="5.57" fill="#6060ff"/>
<rect x="76.6" y="299.6" width="44.00" height="78.80" fill="none" stroke="#1a1a1a" stroke-width="1.35"/>
<rect x="122.5" y="299.6" width="53.70" height="78.80" fill="#fff"/>
<rect x="123.05" y="300.10" width="7.85" height="5.57" fill="#ffbfbf"/>
<rect x="132.00" y="300.10" width="7.85" height="5.57" fill="#ff8080"/>
<rect x="140.95" y="300.10" width="7.85" height="5.57" fill="#ffbfbf"/>
<rect x="149.90" y="300.10" width="7.85" height="5.57" fill="#ffbfbf"/>
<rect x="158.85" y="300.10" width="7.85" height="5.57" fill="#ff9f9f"/>
<rect x="167.80" y="300.10" width="7.85" height="5.57" fill="#ffbfbf"/>
<rect x="123.05" y="306.67" width="7.85" height="5.57" fill="#ff8080"/>
<rect x="132.00" y="306.67" width="7.85" height="5.57" fill="#ff8080"/>
<rect x="140.95" y="306.67" width="7.85" height="5.57" fill="#ffbfbf"/>
<rect x="149.90" y="306.67" width="7.85" height="5.57" fill="#ffbfbf"/>
<rect x="158.85" y="306.67" width="7.85" height="5.57" fill="#ffbfbf"/>
<rect x="167.80" y="306.67" width="7.85" height="5.57" fill="#ffbfbf"/>
<rect x="123.05" y="313.23" width="7.85" height="5.57" fill="#ff9f9f"/>
<rect x="132.00" y="313.23" width="7.85" height="5.57" fill="#ff8080"/>
<rect x="140.95" y="313.23" width="7.85" height="5.57" fill="#ffffff"/>
<rect x="149.90" y="313.23" width="7.85" height="5.57" fill="#ffbfbf"/>
<rect x="158.85" y="313.23" width="7.85" height="5.57" fill="#ffbfbf"/>
<rect x="167.80" y="313.23" width="7.85" height="5.57" fill="#ffbfbf"/>
<rect x="123.05" y="319.80" width="7.85" height="5.57" fill="#ff9f9f"/>
<rect x="132.00" y="319.80" width="7.85" height="5.57" fill="#ff8080"/>
<rect x="140.95" y="319.80" width="7.85" height="5.57" fill="#ffbfbf"/>
<rect x="149.90" y="319.80" width="7.85" height="5.57" fill="#ffbfbf"/>
<rect x="158.85" y="319.80" width="7.85" height="5.57" fill="#ffbfbf"/>
<rect x="167.80" y="319.80" width="7.85" height="5.57" fill="#ffdfdf"/>
<rect x="123.05" y="326.37" width="7.85" height="5.57" fill="#ff8080"/>
<rect x="132.00" y="326.37" width="7.85" height="5.57" fill="#ff6060"/>
<rect x="140.95" y="326.37" width="7.85" height="5.57" fill="#ffbfbf"/>
<rect x="149.90" y="326.37" width="7.85" height="5.57" fill="#bfbfff"/>
<rect x="158.85" y="326.37" width="7.85" height="5.57" fill="#ffbfbf"/>
<rect x="167.80" y="326.37" width="7.85" height="5.57" fill="#ffdfdf"/>
<rect x="123.05" y="332.93" width="7.85" height="5.57" fill="#ff9f9f"/>
<rect x="132.00" y="332.93" width="7.85" height="5.57" fill="#ff9f9f"/>
<rect x="140.95" y="332.93" width="7.85" height="5.57" fill="#ffbfbf"/>
<rect x="149.90" y="332.93" width="7.85" height="5.57" fill="#ffbfbf"/>
<rect x="158.85" y="332.93" width="7.85" height="5.57" fill="#ffbfbf"/>
<rect x="167.80" y="332.93" width="7.85" height="5.57" fill="#ff9f9f"/>
<rect x="123.05" y="339.50" width="7.85" height="5.57" fill="#ff9f9f"/>
<rect x="132.00" y="339.50" width="7.85" height="5.57" fill="#ff9f9f"/>
<rect x="140.95" y="339.50" width="7.85" height="5.57" fill="#ffbfbf"/>
<rect x="149.90" y="339.50" width="7.85" height="5.57" fill="#ffbfbf"/>
<rect x="158.85" y="339.50" width="7.85" height="5.57" fill="#ff8080"/>
<rect x="167.80" y="339.50" width="7.85" height="5.57" fill="#ffbfbf"/>
<rect x="123.05" y="346.07" width="7.85" height="5.57" fill="#ff9f9f"/>
<rect x="132.00" y="346.07" width="7.85" height="5.57" fill="#ff8080"/>
<rect x="140.95" y="346.07" width="7.85" height="5.57" fill="#ffbfbf"/>
<rect x="149.90" y="346.07" width="7.85" height="5.57" fill="#ffecec"/>
<rect x="158.85" y="346.07" width="7.85" height="5.57" fill="#ffbfbf"/>
<rect x="167.80" y="346.07" width="7.85" height="5.57" fill="#ffbfbf"/>
<rect x="123.05" y="352.63" width="7.85" height="5.57" fill="#ff8080"/>
<rect x="132.00" y="352.63" width="7.85" height="5.57" fill="#ff8080"/>
<rect x="140.95" y="352.63" width="7.85" height="5.57" fill="#ffbfbf"/>
<rect x="149.90" y="352.63" width="7.85" height="5.57" fill="#bfbfff"/>
<rect x="158.85" y="352.63" width="7.85" height="5.57" fill="#ffbfbf"/>
<rect x="167.80" y="352.63" width="7.85" height="5.57" fill="#ffdfdf"/>
<rect x="123.05" y="359.20" width="7.85" height="5.57" fill="#ffdfdf"/>
<rect x="132.00" y="359.20" width="7.85" height="5.57" fill="#ff9f9f"/>
<rect x="140.95" y="359.20" width="7.85" height="5.57" fill="#ffbfbf"/>
<rect x="149.90" y="359.20" width="7.85" height="5.57" fill="#ffbfbf"/>
<rect x="158.85" y="359.20" width="7.85" height="5.57" fill="#ff9f9f"/>
<rect x="167.80" y="359.20" width="7.85" height="5.57" fill="#ffbfbf"/>
<rect x="123.05" y="365.77" width="7.85" height="5.57" fill="#ffbfbf"/>
<rect x="132.00" y="365.77" width="7.85" height="5.57" fill="#ff8080"/>
<rect x="140.95" y="365.77" width="7.85" height="5.57" fill="#ffdfdf"/>
<rect x="149.90" y="365.77" width="7.85" height="5.57" fill="#ffbfbf"/>
<rect x="158.85" y="365.77" width="7.85" height="5.57" fill="#ff9f9f"/>
<rect x="167.80" y="365.77" width="7.85" height="5.57" fill="#ffbfbf"/>
<rect x="123.05" y="372.33" width="7.85" height="5.57" fill="#ff6060"/>
<rect x="132.00" y="372.33" width="7.85" height="5.57" fill="#ff9f9f"/>
<rect x="140.95" y="372.33" width="7.85" height="5.57" fill="#bfbfff"/>
<rect x="149.90" y="372.33" width="7.85" height="5.57" fill="#8080ff"/>
<rect x="158.85" y="372.33" width="7.85" height="5.57" fill="#ffbfbf"/>
<rect x="167.80" y="372.33" width="7.85" height="5.57" fill="#ececff"/>
<rect x="122.5" y="299.6" width="53.70" height="78.80" fill="none" stroke="#1a1a1a" stroke-width="1.35"/>
<rect x="178.3" y="299.6" width="44.10" height="78.80" fill="#fff"/>
<rect x="178.85" y="300.10" width="7.72" height="5.57" fill="#ff8080"/>
<rect x="187.67" y="300.10" width="7.72" height="5.57" fill="#ff9f9f"/>
<rect x="196.49" y="300.10" width="7.72" height="5.57" fill="#dfdfff"/>
<rect x="205.31" y="300.10" width="7.72" height="5.57" fill="#ff8080"/>
<rect x="214.13" y="300.10" width="7.72" height="5.57" fill="#ff8080"/>
<rect x="178.85" y="306.67" width="7.72" height="5.57" fill="#ff8080"/>
<rect x="187.67" y="306.67" width="7.72" height="5.57" fill="#ff9f9f"/>
<rect x="196.49" y="306.67" width="7.72" height="5.57" fill="#ececff"/>
<rect x="205.31" y="306.67" width="7.72" height="5.57" fill="#ff8080"/>
<rect x="214.13" y="306.67" width="7.72" height="5.57" fill="#ff8080"/>
<rect x="178.85" y="313.23" width="7.72" height="5.57" fill="#ff8080"/>
<rect x="187.67" y="313.23" width="7.72" height="5.57" fill="#ffbfbf"/>
<rect x="196.49" y="313.23" width="7.72" height="5.57" fill="#ececff"/>
<rect x="205.31" y="313.23" width="7.72" height="5.57" fill="#ff9f9f"/>
<rect x="214.13" y="313.23" width="7.72" height="5.57" fill="#ff9f9f"/>
<rect x="178.85" y="319.80" width="7.72" height="5.57" fill="#ff6060"/>
<rect x="187.67" y="319.80" width="7.72" height="5.57" fill="#ffbfbf"/>
<rect x="196.49" y="319.80" width="7.72" height="5.57" fill="#dfdfff"/>
<rect x="205.31" y="319.80" width="7.72" height="5.57" fill="#ff8080"/>
<rect x="214.13" y="319.80" width="7.72" height="5.57" fill="#ff8080"/>
<rect x="178.85" y="326.37" width="7.72" height="5.57" fill="#ff6060"/>
<rect x="187.67" y="326.37" width="7.72" height="5.57" fill="#ff9f9f"/>
<rect x="196.49" y="326.37" width="7.72" height="5.57" fill="#9f9fff"/>
<rect x="205.31" y="326.37" width="7.72" height="5.57" fill="#ff8080"/>
<rect x="214.13" y="326.37" width="7.72" height="5.57" fill="#ff8080"/>
<rect x="178.85" y="332.93" width="7.72" height="5.57" fill="#ff8080"/>
<rect x="187.67" y="332.93" width="7.72" height="5.57" fill="#ff9f9f"/>
<rect x="196.49" y="332.93" width="7.72" height="5.57" fill="#ffbfbf"/>
<rect x="205.31" y="332.93" width="7.72" height="5.57" fill="#ff8080"/>
<rect x="214.13" y="332.93" width="7.72" height="5.57" fill="#ff8080"/>
<rect x="178.85" y="339.50" width="7.72" height="5.57" fill="#ff8080"/>
<rect x="187.67" y="339.50" width="7.72" height="5.57" fill="#ff9f9f"/>
<rect x="196.49" y="339.50" width="7.72" height="5.57" fill="#ffbfbf"/>
<rect x="205.31" y="339.50" width="7.72" height="5.57" fill="#ff8080"/>
<rect x="214.13" y="339.50" width="7.72" height="5.57" fill="#ff8080"/>
<rect x="178.85" y="346.07" width="7.72" height="5.57" fill="#ff8080"/>
<rect x="187.67" y="346.07" width="7.72" height="5.57" fill="#ff9f9f"/>
<rect x="196.49" y="346.07" width="7.72" height="5.57" fill="#dfdfff"/>
<rect x="205.31" y="346.07" width="7.72" height="5.57" fill="#ff8080"/>
<rect x="214.13" y="346.07" width="7.72" height="5.57" fill="#ff8080"/>
<rect x="178.85" y="352.63" width="7.72" height="5.57" fill="#ff6060"/>
<rect x="187.67" y="352.63" width="7.72" height="5.57" fill="#ff9f9f"/>
<rect x="196.49" y="352.63" width="7.72" height="5.57" fill="#9f9fff"/>
<rect x="205.31" y="352.63" width="7.72" height="5.57" fill="#ff8080"/>
<rect x="214.13" y="352.63" width="7.72" height="5.57" fill="#ff8080"/>
<rect x="178.85" y="359.20" width="7.72" height="5.57" fill="#ff8080"/>
<rect x="187.67" y="359.20" width="7.72" height="5.57" fill="#ff9f9f"/>
<rect x="196.49" y="359.20" width="7.72" height="5.57" fill="#dfdfff"/>
<rect x="205.31" y="359.20" width="7.72" height="5.57" fill="#ff8080"/>
<rect x="214.13" y="359.20" width="7.72" height="5.57" fill="#ff8080"/>
<rect x="178.85" y="365.77" width="7.72" height="5.57" fill="#ff8080"/>
<rect x="187.67" y="365.77" width="7.72" height="5.57" fill="#ffbfbf"/>
<rect x="196.49" y="365.77" width="7.72" height="5.57" fill="#9f9fff"/>
<rect x="205.31" y="365.77" width="7.72" height="5.57" fill="#ff8080"/>
<rect x="214.13" y="365.77" width="7.72" height="5.57" fill="#ff8080"/>
<rect x="178.85" y="372.33" width="7.72" height="5.57" fill="#ff6060"/>
<rect x="187.67" y="372.33" width="7.72" height="5.57" fill="#ffecec"/>
<rect x="196.49" y="372.33" width="7.72" height="5.57" fill="#4040ff"/>
<rect x="205.31" y="372.33" width="7.72" height="5.57" fill="#ff8080"/>
<rect x="214.13" y="372.33" width="7.72" height="5.57" fill="#ff8080"/>
<rect x="178.3" y="299.6" width="44.10" height="78.80" fill="none" stroke="#1a1a1a" stroke-width="1.35"/>
<rect x="224.4" y="299.6" width="28.2" height="78.80" fill="#fff" stroke="#1a1a1a" stroke-width="1.35"/>
<text x="73.80" y="304.88" font-size="8.4" font-weight="400" fill="#1a1a1a" text-anchor="end" font-style="italic" >MSMO1</text>
<rect x="233.50" y="300.78" width="15.18" height="4.2" fill="#ff0000" stroke="#111" stroke-width="1"/>
<text x="257.5" y="307.48" font-size="9.5" fill="#ff2020" text-anchor="middle">*</text>
<text x="73.80" y="311.45" font-size="8.4" font-weight="400" fill="#1a1a1a" text-anchor="end" font-style="italic" >DHCR7</text>
<rect x="233.50" y="307.35" width="13.00" height="4.2" fill="#ff0000" stroke="#111" stroke-width="1"/>
<text x="257.5" y="314.05" font-size="9.5" fill="#ff2020" text-anchor="middle">*</text>
<text x="73.80" y="318.02" font-size="8.4" font-weight="400" fill="#1a1a1a" text-anchor="end" font-style="italic" >LSS</text>
<rect x="233.50" y="313.92" width="12.08" height="4.2" fill="#ff0000" stroke="#111" stroke-width="1"/>
<text x="257.5" y="320.62" font-size="9.5" fill="#ff2020" text-anchor="middle">*</text>
<text x="73.80" y="324.58" font-size="8.4" font-weight="400" fill="#1a1a1a" text-anchor="end" font-style="italic" >CYP51A1</text>
<rect x="233.50" y="320.48" width="11.02" height="4.2" fill="#ff0000" stroke="#111" stroke-width="1"/>
<text x="257.5" y="327.18" font-size="9.5" fill="#ff2020" text-anchor="middle">*</text>
<text x="73.80" y="331.15" font-size="8.4" font-weight="400" fill="#1a1a1a" text-anchor="end" font-style="italic" >MVD</text>
<rect x="233.50" y="327.05" width="9.90" height="4.2" fill="#ff0000" stroke="#111" stroke-width="1"/>
<text x="257.5" y="333.75" font-size="9.5" fill="#ff2020" text-anchor="middle">*</text>
<text x="73.80" y="337.72" font-size="8.4" font-weight="400" fill="#1a1a1a" text-anchor="end" font-style="italic" >DHCR24</text>
<rect x="233.50" y="333.62" width="9.90" height="4.2" fill="#ff0000" stroke="#111" stroke-width="1"/>
<text x="257.5" y="340.32" font-size="9.5" fill="#ff2020" text-anchor="middle">*</text>
<text x="73.80" y="344.28" font-size="8.4" font-weight="400" fill="#1a1a1a" text-anchor="end" font-style="italic" >PMVK</text>
<rect x="233.50" y="340.18" width="9.90" height="4.2" fill="#ff0000" stroke="#111" stroke-width="1"/>
<text x="257.5" y="346.88" font-size="9.5" fill="#ff2020" text-anchor="middle">*</text>
<text x="73.80" y="350.85" font-size="8.4" font-weight="400" fill="#1a1a1a" text-anchor="end" font-style="italic" >SQLE</text>
<rect x="233.50" y="346.75" width="9.44" height="4.2" fill="#ff0000" stroke="#111" stroke-width="1"/>
<text x="257.5" y="353.45" font-size="9.5" fill="#ff2020" text-anchor="middle">*</text>
<text x="73.80" y="357.42" font-size="8.4" font-weight="400" fill="#1a1a1a" text-anchor="end" font-style="italic" >FDPS</text>
<rect x="233.50" y="353.32" width="7.13" height="4.2" fill="#ff0000" stroke="#111" stroke-width="1"/>
<text x="257.5" y="360.02" font-size="9.5" fill="#ff2020" text-anchor="middle">*</text>
<text x="73.80" y="363.98" font-size="8.4" font-weight="400" fill="#1a1a1a" text-anchor="end" font-style="italic" >SC5D</text>
<rect x="233.50" y="359.88" width="7.13" height="4.2" fill="#ff0000" stroke="#111" stroke-width="1"/>
<text x="257.5" y="366.58" font-size="9.5" fill="#ff2020" text-anchor="middle">*</text>
<text x="73.80" y="370.55" font-size="8.4" font-weight="400" fill="#1a1a1a" text-anchor="end" font-style="italic" >IDI1</text>
<rect x="233.50" y="366.45" width="7.13" height="4.2" fill="#ff0000" stroke="#111" stroke-width="1"/>
<text x="257.5" y="373.15" font-size="9.5" fill="#ff2020" text-anchor="middle">*</text>
<text x="73.80" y="377.12" font-size="8.4" font-weight="400" fill="#1a1a1a" text-anchor="end" font-style="italic" >MVK</text>
<rect x="233.50" y="373.02" width="0.66" height="4.2" fill="#ff0000" stroke="#111" stroke-width="1"/>
<rect x="76.6" y="380.2" width="44.00" height="39.00" fill="#fff"/>
<rect x="77.15" y="380.70" width="7.70" height="5.50" fill="#6060ff"/>
<rect x="85.95" y="380.70" width="7.70" height="5.50" fill="#ffdfdf"/>
<rect x="94.75" y="380.70" width="7.70" height="5.50" fill="#9f9fff"/>
<rect x="103.55" y="380.70" width="7.70" height="5.50" fill="#8080ff"/>
<rect x="112.35" y="380.70" width="7.70" height="5.50" fill="#bfbfff"/>
<rect x="77.15" y="387.20" width="7.70" height="5.50" fill="#9f9fff"/>
<rect x="85.95" y="387.20" width="7.70" height="5.50" fill="#ffcccc"/>
<rect x="94.75" y="387.20" width="7.70" height="5.50" fill="#ccccff"/>
<rect x="103.55" y="387.20" width="7.70" height="5.50" fill="#8080ff"/>
<rect x="112.35" y="387.20" width="7.70" height="5.50" fill="#ffdfdf"/>
<rect x="77.15" y="393.70" width="7.70" height="5.50" fill="#bfbfff"/>
<rect x="85.95" y="393.70" width="7.70" height="5.50" fill="#ffbfbf"/>
<rect x="94.75" y="393.70" width="7.70" height="5.50" fill="#ccccff"/>
<rect x="103.55" y="393.70" width="7.70" height="5.50" fill="#0000ff"/>
<rect x="112.35" y="393.70" width="7.70" height="5.50" fill="#ccccff"/>
<rect x="77.15" y="400.20" width="7.70" height="5.50" fill="#6060ff"/>
<rect x="85.95" y="400.20" width="7.70" height="5.50" fill="#ff9f9f"/>
<rect x="94.75" y="400.20" width="7.70" height="5.50" fill="#8080ff"/>
<rect x="103.55" y="400.20" width="7.70" height="5.50" fill="#ffecec"/>
<rect x="112.35" y="400.20" width="7.70" height="5.50" fill="#ffacac"/>
<rect x="77.15" y="406.70" width="7.70" height="5.50" fill="#dfdfff"/>
<rect x="85.95" y="406.70" width="7.70" height="5.50" fill="#ff8080"/>
<rect x="94.75" y="406.70" width="7.70" height="5.50" fill="#ffcccc"/>
<rect x="103.55" y="406.70" width="7.70" height="5.50" fill="#ffcccc"/>
<rect x="112.35" y="406.70" width="7.70" height="5.50" fill="#ff8080"/>
<rect x="77.15" y="413.20" width="7.70" height="5.50" fill="#ffecec"/>
<rect x="85.95" y="413.20" width="7.70" height="5.50" fill="#ff8080"/>
<rect x="94.75" y="413.20" width="7.70" height="5.50" fill="#ffbfbf"/>
<rect x="103.55" y="413.20" width="7.70" height="5.50" fill="#ffbfbf"/>
<rect x="112.35" y="413.20" width="7.70" height="5.50" fill="#ff8080"/>
<rect x="76.6" y="380.2" width="44.00" height="39.00" fill="none" stroke="#1a1a1a" stroke-width="1.35"/>
<rect x="122.5" y="380.2" width="53.70" height="39.00" fill="#fff"/>
<rect x="123.05" y="380.70" width="7.85" height="5.50" fill="#bfbfff"/>
<rect x="132.00" y="380.70" width="7.85" height="5.50" fill="#ff9f9f"/>
<rect x="140.95" y="380.70" width="7.85" height="5.50" fill="#ffbfbf"/>
<rect x="149.90" y="380.70" width="7.85" height="5.50" fill="#ffecec"/>
<rect x="158.85" y="380.70" width="7.85" height="5.50" fill="#ff8080"/>
<rect x="167.80" y="380.70" width="7.85" height="5.50" fill="#ffcccc"/>
<rect x="123.05" y="387.20" width="7.85" height="5.50" fill="#ccccff"/>
<rect x="132.00" y="387.20" width="7.85" height="5.50" fill="#ff8080"/>
<rect x="140.95" y="387.20" width="7.85" height="5.50" fill="#fff2f2"/>
<rect x="149.90" y="387.20" width="7.85" height="5.50" fill="#dfdfff"/>
<rect x="158.85" y="387.20" width="7.85" height="5.50" fill="#ffbfbf"/>
<rect x="167.80" y="387.20" width="7.85" height="5.50" fill="#dfdfff"/>
<rect x="123.05" y="393.70" width="7.85" height="5.50" fill="#ffcccc"/>
<rect x="132.00" y="393.70" width="7.85" height="5.50" fill="#ffcccc"/>
<rect x="140.95" y="393.70" width="7.85" height="5.50" fill="#ffdfdf"/>
<rect x="149.90" y="393.70" width="7.85" height="5.50" fill="#ffcccc"/>
<rect x="158.85" y="393.70" width="7.85" height="5.50" fill="#ffcccc"/>
<rect x="167.80" y="393.70" width="7.85" height="5.50" fill="#ffcccc"/>
<rect x="123.05" y="400.20" width="7.85" height="5.50" fill="#ececff"/>
<rect x="132.00" y="400.20" width="7.85" height="5.50" fill="#ff9f9f"/>
<rect x="140.95" y="400.20" width="7.85" height="5.50" fill="#ffbfbf"/>
<rect x="149.90" y="400.20" width="7.85" height="5.50" fill="#ccccff"/>
<rect x="158.85" y="400.20" width="7.85" height="5.50" fill="#ffcccc"/>
<rect x="167.80" y="400.20" width="7.85" height="5.50" fill="#dfdfff"/>
<rect x="123.05" y="406.70" width="7.85" height="5.50" fill="#9f9fff"/>
<rect x="132.00" y="406.70" width="7.85" height="5.50" fill="#ffbfbf"/>
<rect x="140.95" y="406.70" width="7.85" height="5.50" fill="#fff2f2"/>
<rect x="149.90" y="406.70" width="7.85" height="5.50" fill="#4040ff"/>
<rect x="158.85" y="406.70" width="7.85" height="5.50" fill="#ffdfdf"/>
<rect x="167.80" y="406.70" width="7.85" height="5.50" fill="#bfbfff"/>
<rect x="123.05" y="413.20" width="7.85" height="5.50" fill="#9f9fff"/>
<rect x="132.00" y="413.20" width="7.85" height="5.50" fill="#ff9f9f"/>
<rect x="140.95" y="413.20" width="7.85" height="5.50" fill="#fff2f2"/>
<rect x="149.90" y="413.20" width="7.85" height="5.50" fill="#4040ff"/>
<rect x="158.85" y="413.20" width="7.85" height="5.50" fill="#fff2f2"/>
<rect x="167.80" y="413.20" width="7.85" height="5.50" fill="#bfbfff"/>
<rect x="122.5" y="380.2" width="53.70" height="39.00" fill="none" stroke="#1a1a1a" stroke-width="1.35"/>
<rect x="178.3" y="380.2" width="44.10" height="39.00" fill="#fff"/>
<rect x="178.85" y="380.70" width="7.72" height="5.50" fill="#ff9f9f"/>
<rect x="187.67" y="380.70" width="7.72" height="5.50" fill="#ffbfbf"/>
<rect x="196.49" y="380.70" width="7.72" height="5.50" fill="#ffdfdf"/>
<rect x="205.31" y="380.70" width="7.72" height="5.50" fill="#ff9f9f"/>
<rect x="214.13" y="380.70" width="7.72" height="5.50" fill="#ff9f9f"/>
<rect x="178.85" y="387.20" width="7.72" height="5.50" fill="#ff4040"/>
<rect x="187.67" y="387.20" width="7.72" height="5.50" fill="#ffbfbf"/>
<rect x="196.49" y="387.20" width="7.72" height="5.50" fill="#dfdfff"/>
<rect x="205.31" y="387.20" width="7.72" height="5.50" fill="#ffbfbf"/>
<rect x="214.13" y="387.20" width="7.72" height="5.50" fill="#ffbfbf"/>
<rect x="178.85" y="393.70" width="7.72" height="5.50" fill="#ff8080"/>
<rect x="187.67" y="393.70" width="7.72" height="5.50" fill="#ffdfdf"/>
<rect x="196.49" y="393.70" width="7.72" height="5.50" fill="#ffcccc"/>
<rect x="205.31" y="393.70" width="7.72" height="5.50" fill="#ffbfbf"/>
<rect x="214.13" y="393.70" width="7.72" height="5.50" fill="#ff9f9f"/>
<rect x="178.85" y="400.20" width="7.72" height="5.50" fill="#ff8080"/>
<rect x="187.67" y="400.20" width="7.72" height="5.50" fill="#ffcccc"/>
<rect x="196.49" y="400.20" width="7.72" height="5.50" fill="#dfdfff"/>
<rect x="205.31" y="400.20" width="7.72" height="5.50" fill="#ffdfdf"/>
<rect x="214.13" y="400.20" width="7.72" height="5.50" fill="#ffbfbf"/>
<rect x="178.85" y="406.70" width="7.72" height="5.50" fill="#ff8080"/>
<rect x="187.67" y="406.70" width="7.72" height="5.50" fill="#ffcccc"/>
<rect x="196.49" y="406.70" width="7.72" height="5.50" fill="#9f9fff"/>
<rect x="205.31" y="406.70" width="7.72" height="5.50" fill="#ffdfdf"/>
<rect x="214.13" y="406.70" width="7.72" height="5.50" fill="#ffbfbf"/>
<rect x="178.85" y="413.20" width="7.72" height="5.50" fill="#ff8080"/>
<rect x="187.67" y="413.20" width="7.72" height="5.50" fill="#ffbfbf"/>
<rect x="196.49" y="413.20" width="7.72" height="5.50" fill="#9f9fff"/>
<rect x="205.31" y="413.20" width="7.72" height="5.50" fill="#ffecec"/>
<rect x="214.13" y="413.20" width="7.72" height="5.50" fill="#ffdfdf"/>
<rect x="178.3" y="380.2" width="44.10" height="39.00" fill="none" stroke="#1a1a1a" stroke-width="1.35"/>
<rect x="224.4" y="380.2" width="28.2" height="39.00" fill="#fff" stroke="#1a1a1a" stroke-width="1.35"/>
<text x="73.80" y="385.45" font-size="8.4" font-weight="400" fill="#1a1a1a" text-anchor="end" font-style="italic" >HK2</text>
<rect x="233.50" y="381.35" width="10.10" height="4.2" fill="#ff0000" stroke="#111" stroke-width="1"/>
<text x="257.5" y="388.05" font-size="9.5" fill="#ff2020" text-anchor="middle">*</text>
<text x="73.80" y="391.95" font-size="8.4" font-weight="400" fill="#1a1a1a" text-anchor="end" font-style="italic" >SLC2A1</text>
<rect x="233.50" y="387.85" width="6.14" height="4.2" fill="#ff0000" stroke="#111" stroke-width="1"/>
<text x="73.80" y="398.45" font-size="8.4" font-weight="400" fill="#1a1a1a" text-anchor="end" font-style="italic" >HK1</text>
<rect x="233.50" y="394.35" width="3.04" height="4.2" fill="#ff0000" stroke="#111" stroke-width="1"/>
<text x="257.5" y="401.05" font-size="9.5" fill="#ff2020" text-anchor="middle">*</text>
<text x="73.80" y="404.95" font-size="8.4" font-weight="400" fill="#1a1a1a" text-anchor="end" font-style="italic" >PFKL</text>
<line x1="233.5" y1="401.15" x2="233.5" y2="404.75" stroke="#000" stroke-width="1.3"/>
<text x="73.80" y="411.45" font-size="8.4" font-weight="400" fill="#1a1a1a" text-anchor="end" font-style="italic" >LDHA</text>
<rect x="228.22" y="407.35" width="5.28" height="4.2" fill="#0000ff" stroke="#111" stroke-width="1"/>
<text x="73.80" y="417.95" font-size="8.4" font-weight="400" fill="#1a1a1a" text-anchor="end" font-style="italic" >ENO1</text>
<rect x="226.90" y="413.85" width="6.60" height="4.2" fill="#0000ff" stroke="#111" stroke-width="1"/>
<text x="257.5" y="420.55" font-size="9.5" fill="#2020ff" text-anchor="middle">*</text>
<rect x="76.6" y="421.0" width="44.00" height="85.40" fill="#fff"/>
<rect x="77.15" y="421.50" width="7.70" height="5.57" fill="#9f9fff"/>
<rect x="85.95" y="421.50" width="7.70" height="5.57" fill="#8080ff"/>
<rect x="94.75" y="421.50" width="7.70" height="5.57" fill="#8080ff"/>
<rect x="103.55" y="421.50" width="7.70" height="5.57" fill="#8080ff"/>
<rect x="112.35" y="421.50" width="7.70" height="5.57" fill="#8080ff"/>
<rect x="77.15" y="428.07" width="7.70" height="5.57" fill="#8080ff"/>
<rect x="85.95" y="428.07" width="7.70" height="5.57" fill="#9f9fff"/>
<rect x="94.75" y="428.07" width="7.70" height="5.57" fill="#8080ff"/>
<rect x="103.55" y="428.07" width="7.70" height="5.57" fill="#fff2f2"/>
<rect x="112.35" y="428.07" width="7.70" height="5.57" fill="#9f9fff"/>
<rect x="77.15" y="434.64" width="7.70" height="5.57" fill="#4040ff"/>
<rect x="85.95" y="434.64" width="7.70" height="5.57" fill="#ececff"/>
<rect x="94.75" y="434.64" width="7.70" height="5.57" fill="#9f9fff"/>
<rect x="103.55" y="434.64" width="7.70" height="5.57" fill="#dfdfff"/>
<rect x="112.35" y="434.64" width="7.70" height="5.57" fill="#bfbfff"/>
<rect x="77.15" y="441.21" width="7.70" height="5.57" fill="#ccccff"/>
<rect x="85.95" y="441.21" width="7.70" height="5.57" fill="#8080ff"/>
<rect x="94.75" y="441.21" width="7.70" height="5.57" fill="#8080ff"/>
<rect x="103.55" y="441.21" width="7.70" height="5.57" fill="#9f9fff"/>
<rect x="112.35" y="441.21" width="7.70" height="5.57" fill="#9f9fff"/>
<rect x="77.15" y="447.78" width="7.70" height="5.57" fill="#9f9fff"/>
<rect x="85.95" y="447.78" width="7.70" height="5.57" fill="#4040ff"/>
<rect x="94.75" y="447.78" width="7.70" height="5.57" fill="#6060ff"/>
<rect x="103.55" y="447.78" width="7.70" height="5.57" fill="#bfbfff"/>
<rect x="112.35" y="447.78" width="7.70" height="5.57" fill="#9f9fff"/>
<rect x="77.15" y="454.35" width="7.70" height="5.57" fill="#6060ff"/>
<rect x="85.95" y="454.35" width="7.70" height="5.57" fill="#dfdfff"/>
<rect x="94.75" y="454.35" width="7.70" height="5.57" fill="#6060ff"/>
<rect x="103.55" y="454.35" width="7.70" height="5.57" fill="#dfdfff"/>
<rect x="112.35" y="454.35" width="7.70" height="5.57" fill="#9f9fff"/>
<rect x="77.15" y="460.92" width="7.70" height="5.57" fill="#8080ff"/>
<rect x="85.95" y="460.92" width="7.70" height="5.57" fill="#bfbfff"/>
<rect x="94.75" y="460.92" width="7.70" height="5.57" fill="#ffcccc"/>
<rect x="103.55" y="460.92" width="7.70" height="5.57" fill="#4040ff"/>
<rect x="112.35" y="460.92" width="7.70" height="5.57" fill="#ff9f9f"/>
<rect x="77.15" y="467.48" width="7.70" height="5.57" fill="#9f9fff"/>
<rect x="85.95" y="467.48" width="7.70" height="5.57" fill="#ccccff"/>
<rect x="94.75" y="467.48" width="7.70" height="5.57" fill="#bfbfff"/>
<rect x="103.55" y="467.48" width="7.70" height="5.57" fill="#ffbfbf"/>
<rect x="112.35" y="467.48" width="7.70" height="5.57" fill="#ff9f9f"/>
<rect x="77.15" y="474.05" width="7.70" height="5.57" fill="#ccccff"/>
<rect x="85.95" y="474.05" width="7.70" height="5.57" fill="#8080ff"/>
<rect x="94.75" y="474.05" width="7.70" height="5.57" fill="#ececff"/>
<rect x="103.55" y="474.05" width="7.70" height="5.57" fill="#ff9f9f"/>
<rect x="112.35" y="474.05" width="7.70" height="5.57" fill="#ff6060"/>
<rect x="77.15" y="480.62" width="7.70" height="5.57" fill="#ff9f9f"/>
<rect x="85.95" y="480.62" width="7.70" height="5.57" fill="#ccccff"/>
<rect x="94.75" y="480.62" width="7.70" height="5.57" fill="#ffdfdf"/>
<rect x="103.55" y="480.62" width="7.70" height="5.57" fill="#ff0000"/>
<rect x="112.35" y="480.62" width="7.70" height="5.57" fill="#ffecec"/>
<rect x="77.15" y="487.19" width="7.70" height="5.57" fill="#9f9fff"/>
<rect x="85.95" y="487.19" width="7.70" height="5.57" fill="#ffdfdf"/>
<rect x="94.75" y="487.19" width="7.70" height="5.57" fill="#bfbfff"/>
<rect x="103.55" y="487.19" width="7.70" height="5.57" fill="#ffcccc"/>
<rect x="112.35" y="487.19" width="7.70" height="5.57" fill="#ffbfbf"/>
<rect x="77.15" y="493.76" width="7.70" height="5.57" fill="#ff8080"/>
<rect x="85.95" y="493.76" width="7.70" height="5.57" fill="#ff8080"/>
<rect x="94.75" y="493.76" width="7.70" height="5.57" fill="#ff9f9f"/>
<rect x="103.55" y="493.76" width="7.70" height="5.57" fill="#ff8080"/>
<rect x="112.35" y="493.76" width="7.70" height="5.57" fill="#ff9f9f"/>
<rect x="77.15" y="500.33" width="7.70" height="5.57" fill="#ff4040"/>
<rect x="85.95" y="500.33" width="7.70" height="5.57" fill="#ff9f9f"/>
<rect x="94.75" y="500.33" width="7.70" height="5.57" fill="#ff9f9f"/>
<rect x="103.55" y="500.33" width="7.70" height="5.57" fill="#ff8080"/>
<rect x="112.35" y="500.33" width="7.70" height="5.57" fill="#ffbfbf"/>
<rect x="76.6" y="421.0" width="44.00" height="85.40" fill="none" stroke="#1a1a1a" stroke-width="1.35"/>
<rect x="122.5" y="421.0" width="53.70" height="85.40" fill="#fff"/>
<rect x="123.05" y="421.50" width="7.85" height="5.57" fill="#ffbfbf"/>
<rect x="132.00" y="421.50" width="7.85" height="5.57" fill="#ff9f9f"/>
<rect x="140.95" y="421.50" width="7.85" height="5.57" fill="#ffbfbf"/>
<rect x="149.90" y="421.50" width="7.85" height="5.57" fill="#ff9f9f"/>
<rect x="158.85" y="421.50" width="7.85" height="5.57" fill="#ffbfbf"/>
<rect x="167.80" y="421.50" width="7.85" height="5.57" fill="#ffbfbf"/>
<rect x="123.05" y="428.07" width="7.85" height="5.57" fill="#fff2f2"/>
<rect x="132.00" y="428.07" width="7.85" height="5.57" fill="#ffcccc"/>
<rect x="140.95" y="428.07" width="7.85" height="5.57" fill="#ffbfbf"/>
<rect x="149.90" y="428.07" width="7.85" height="5.57" fill="#ffcccc"/>
<rect x="158.85" y="428.07" width="7.85" height="5.57" fill="#ff8080"/>
<rect x="167.80" y="428.07" width="7.85" height="5.57" fill="#ffbfbf"/>
<rect x="123.05" y="434.64" width="7.85" height="5.57" fill="#dfdfff"/>
<rect x="132.00" y="434.64" width="7.85" height="5.57" fill="#ff9f9f"/>
<rect x="140.95" y="434.64" width="7.85" height="5.57" fill="#ffbfbf"/>
<rect x="149.90" y="434.64" width="7.85" height="5.57" fill="#ffbfbf"/>
<rect x="158.85" y="434.64" width="7.85" height="5.57" fill="#ff8080"/>
<rect x="167.80" y="434.64" width="7.85" height="5.57" fill="#ffbfbf"/>
<rect x="123.05" y="441.21" width="7.85" height="5.57" fill="#ffecec"/>
<rect x="132.00" y="441.21" width="7.85" height="5.57" fill="#ffbfbf"/>
<rect x="140.95" y="441.21" width="7.85" height="5.57" fill="#ff9f9f"/>
<rect x="149.90" y="441.21" width="7.85" height="5.57" fill="#ffbfbf"/>
<rect x="158.85" y="441.21" width="7.85" height="5.57" fill="#ffbfbf"/>
<rect x="167.80" y="441.21" width="7.85" height="5.57" fill="#ffdfdf"/>
<rect x="123.05" y="447.78" width="7.85" height="5.57" fill="#ffbfbf"/>
<rect x="132.00" y="447.78" width="7.85" height="5.57" fill="#ffbfbf"/>
<rect x="140.95" y="447.78" width="7.85" height="5.57" fill="#ffbfbf"/>
<rect x="149.90" y="447.78" width="7.85" height="5.57" fill="#ffdfdf"/>
<rect x="158.85" y="447.78" width="7.85" height="5.57" fill="#ff8080"/>
<rect x="167.80" y="447.78" width="7.85" height="5.57" fill="#ffdfdf"/>
<rect x="123.05" y="454.35" width="7.85" height="5.57" fill="#ff9f9f"/>
<rect x="132.00" y="454.35" width="7.85" height="5.57" fill="#ffbfbf"/>
<rect x="140.95" y="454.35" width="7.85" height="5.57" fill="#ffbfbf"/>
<rect x="149.90" y="454.35" width="7.85" height="5.57" fill="#ffbfbf"/>
<rect x="158.85" y="454.35" width="7.85" height="5.57" fill="#ffdfdf"/>
<rect x="167.80" y="454.35" width="7.85" height="5.57" fill="#ff9f9f"/>
<rect x="123.05" y="460.92" width="7.85" height="5.57" fill="#ececff"/>
<rect x="132.00" y="460.92" width="7.85" height="5.57" fill="#ff8080"/>
<rect x="140.95" y="460.92" width="7.85" height="5.57" fill="#ececff"/>
<rect x="149.90" y="460.92" width="7.85" height="5.57" fill="#fff2f2"/>
<rect x="158.85" y="460.92" width="7.85" height="5.57" fill="#ff9f9f"/>
<rect x="167.80" y="460.92" width="7.85" height="5.57" fill="#ffcccc"/>
<rect x="123.05" y="467.48" width="7.85" height="5.57" fill="#9f9fff"/>
<rect x="132.00" y="467.48" width="7.85" height="5.57" fill="#ff9f9f"/>
<rect x="140.95" y="467.48" width="7.85" height="5.57" fill="#ff6060"/>
<rect x="149.90" y="467.48" width="7.85" height="5.57" fill="#ffbfbf"/>
<rect x="158.85" y="467.48" width="7.85" height="5.57" fill="#dfdfff"/>
<rect x="167.80" y="467.48" width="7.85" height="5.57" fill="#ececff"/>
<rect x="123.05" y="474.05" width="7.85" height="5.57" fill="#dfdfff"/>
<rect x="132.00" y="474.05" width="7.85" height="5.57" fill="#ffcccc"/>
<rect x="140.95" y="474.05" width="7.85" height="5.57" fill="#ececff"/>
<rect x="149.90" y="474.05" width="7.85" height="5.57" fill="#6060ff"/>
<rect x="158.85" y="474.05" width="7.85" height="5.57" fill="#ff8080"/>
<rect x="167.80" y="474.05" width="7.85" height="5.57" fill="#f2f2ff"/>
<rect x="123.05" y="480.62" width="7.85" height="5.57" fill="#bfbfff"/>
<rect x="132.00" y="480.62" width="7.85" height="5.57" fill="#fff2f2"/>
<rect x="140.95" y="480.62" width="7.85" height="5.57" fill="#ffdfdf"/>
<rect x="149.90" y="480.62" width="7.85" height="5.57" fill="#ffdfdf"/>
<rect x="158.85" y="480.62" width="7.85" height="5.57" fill="#9f9fff"/>
<rect x="167.80" y="480.62" width="7.85" height="5.57" fill="#ffdfdf"/>
<rect x="123.05" y="487.19" width="7.85" height="5.57" fill="#9f9fff"/>
<rect x="132.00" y="487.19" width="7.85" height="5.57" fill="#ffbfbf"/>
<rect x="140.95" y="487.19" width="7.85" height="5.57" fill="#8080ff"/>
<rect x="149.90" y="487.19" width="7.85" height="5.57" fill="#dfdfff"/>
<rect x="158.85" y="487.19" width="7.85" height="5.57" fill="#ccccff"/>
<rect x="167.80" y="487.19" width="7.85" height="5.57" fill="#dfdfff"/>
<rect x="123.05" y="493.76" width="7.85" height="5.57" fill="#ffdfdf"/>
<rect x="132.00" y="493.76" width="7.85" height="5.57" fill="#ccccff"/>
<rect x="140.95" y="493.76" width="7.85" height="5.57" fill="#dfdfff"/>
<rect x="149.90" y="493.76" width="7.85" height="5.57" fill="#fff2f2"/>
<rect x="158.85" y="493.76" width="7.85" height="5.57" fill="#ccccff"/>
<rect x="167.80" y="493.76" width="7.85" height="5.57" fill="#bfbfff"/>
<rect x="123.05" y="500.33" width="7.85" height="5.57" fill="#ccccff"/>
<rect x="132.00" y="500.33" width="7.85" height="5.57" fill="#dfdfff"/>
<rect x="140.95" y="500.33" width="7.85" height="5.57" fill="#dfdfff"/>
<rect x="149.90" y="500.33" width="7.85" height="5.57" fill="#dfdfff"/>
<rect x="158.85" y="500.33" width="7.85" height="5.57" fill="#ccccff"/>
<rect x="167.80" y="500.33" width="7.85" height="5.57" fill="#ffcccc"/>
<rect x="122.5" y="421.0" width="53.70" height="85.40" fill="none" stroke="#1a1a1a" stroke-width="1.35"/>
<rect x="178.3" y="421.0" width="44.10" height="85.40" fill="#fff"/>
<rect x="178.85" y="421.50" width="7.72" height="5.57" fill="#ffbfbf"/>
<rect x="187.67" y="421.50" width="7.72" height="5.57" fill="#ffbfbf"/>
<rect x="196.49" y="421.50" width="7.72" height="5.57" fill="#ffbfbf"/>
<rect x="205.31" y="421.50" width="7.72" height="5.57" fill="#ffbfbf"/>
<rect x="214.13" y="421.50" width="7.72" height="5.57" fill="#ffbfbf"/>
<rect x="178.85" y="428.07" width="7.72" height="5.57" fill="#ff8080"/>
<rect x="187.67" y="428.07" width="7.72" height="5.57" fill="#fff2f2"/>
<rect x="196.49" y="428.07" width="7.72" height="5.57" fill="#dfdfff"/>
<rect x="205.31" y="428.07" width="7.72" height="5.57" fill="#ff8080"/>
<rect x="214.13" y="428.07" width="7.72" height="5.57" fill="#ffbfbf"/>
<rect x="178.85" y="434.64" width="7.72" height="5.57" fill="#9f9fff"/>
<rect x="187.67" y="434.64" width="7.72" height="5.57" fill="#ff9f9f"/>
<rect x="196.49" y="434.64" width="7.72" height="5.57" fill="#ffdfdf"/>
<rect x="205.31" y="434.64" width="7.72" height="5.57" fill="#ffbfbf"/>
<rect x="214.13" y="434.64" width="7.72" height="5.57" fill="#ffbfbf"/>
<rect x="178.85" y="441.21" width="7.72" height="5.57" fill="#dfdfff"/>
<rect x="187.67" y="441.21" width="7.72" height="5.57" fill="#ffbfbf"/>
<rect x="196.49" y="441.21" width="7.72" height="5.57" fill="#ffbfbf"/>
<rect x="205.31" y="441.21" width="7.72" height="5.57" fill="#ffbfbf"/>
<rect x="214.13" y="441.21" width="7.72" height="5.57" fill="#ffbfbf"/>
<rect x="178.85" y="447.78" width="7.72" height="5.57" fill="#ff8080"/>
<rect x="187.67" y="447.78" width="7.72" height="5.57" fill="#ffdfdf"/>
<rect x="196.49" y="447.78" width="7.72" height="5.57" fill="#ffbfbf"/>
<rect x="205.31" y="447.78" width="7.72" height="5.57" fill="#ffbfbf"/>
<rect x="214.13" y="447.78" width="7.72" height="5.57" fill="#ff9f9f"/>
<rect x="178.85" y="454.35" width="7.72" height="5.57" fill="#ffbfbf"/>
<rect x="187.67" y="454.35" width="7.72" height="5.57" fill="#ffdfdf"/>
<rect x="196.49" y="454.35" width="7.72" height="5.57" fill="#ffbfbf"/>
<rect x="205.31" y="454.35" width="7.72" height="5.57" fill="#ffbfbf"/>
<rect x="214.13" y="454.35" width="7.72" height="5.57" fill="#ff8080"/>
<rect x="178.85" y="460.92" width="7.72" height="5.57" fill="#ffcccc"/>
<rect x="187.67" y="460.92" width="7.72" height="5.57" fill="#ffdfdf"/>
<rect x="196.49" y="460.92" width="7.72" height="5.57" fill="#ffdfdf"/>
<rect x="205.31" y="460.92" width="7.72" height="5.57" fill="#ff9f9f"/>
<rect x="214.13" y="460.92" width="7.72" height="5.57" fill="#ff8080"/>
<rect x="178.85" y="467.48" width="7.72" height="5.57" fill="#ffecec"/>
<rect x="187.67" y="467.48" width="7.72" height="5.57" fill="#ff4040"/>
<rect x="196.49" y="467.48" width="7.72" height="5.57" fill="#9f9fff"/>
<rect x="205.31" y="467.48" width="7.72" height="5.57" fill="#ffdfdf"/>
<rect x="214.13" y="467.48" width="7.72" height="5.57" fill="#ffdfdf"/>
<rect x="178.85" y="474.05" width="7.72" height="5.57" fill="#ffbfbf"/>
<rect x="187.67" y="474.05" width="7.72" height="5.57" fill="#fff2f2"/>
<rect x="196.49" y="474.05" width="7.72" height="5.57" fill="#ff8080"/>
<rect x="205.31" y="474.05" width="7.72" height="5.57" fill="#ffdfdf"/>
<rect x="214.13" y="474.05" width="7.72" height="5.57" fill="#dfdfff"/>
<rect x="178.85" y="480.62" width="7.72" height="5.57" fill="#4040ff"/>
<rect x="187.67" y="480.62" width="7.72" height="5.57" fill="#ff9f9f"/>
<rect x="196.49" y="480.62" width="7.72" height="5.57" fill="#ffecec"/>
<rect x="205.31" y="480.62" width="7.72" height="5.57" fill="#ffdfdf"/>
<rect x="214.13" y="480.62" width="7.72" height="5.57" fill="#fff2f2"/>
<rect x="178.85" y="487.19" width="7.72" height="5.57" fill="#ff9f9f"/>
<rect x="187.67" y="487.19" width="7.72" height="5.57" fill="#ffdfdf"/>
<rect x="196.49" y="487.19" width="7.72" height="5.57" fill="#ffdfdf"/>
<rect x="205.31" y="487.19" width="7.72" height="5.57" fill="#ffbfbf"/>
<rect x="214.13" y="487.19" width="7.72" height="5.57" fill="#ff6060"/>
<rect x="178.85" y="493.76" width="7.72" height="5.57" fill="#ececff"/>
<rect x="187.67" y="493.76" width="7.72" height="5.57" fill="#dfdfff"/>
<rect x="196.49" y="493.76" width="7.72" height="5.57" fill="#ececff"/>
<rect x="205.31" y="493.76" width="7.72" height="5.57" fill="#bfbfff"/>
<rect x="214.13" y="493.76" width="7.72" height="5.57" fill="#9f9fff"/>
<rect x="178.85" y="500.33" width="7.72" height="5.57" fill="#9f9fff"/>
<rect x="187.67" y="500.33" width="7.72" height="5.57" fill="#8080ff"/>
<rect x="196.49" y="500.33" width="7.72" height="5.57" fill="#9f9fff"/>
<rect x="205.31" y="500.33" width="7.72" height="5.57" fill="#ffdfdf"/>
<rect x="214.13" y="500.33" width="7.72" height="5.57" fill="#dfdfff"/>
<rect x="178.3" y="421.0" width="44.10" height="85.40" fill="none" stroke="#1a1a1a" stroke-width="1.35"/>
<rect x="224.4" y="421.0" width="28.2" height="85.40" fill="#fff" stroke="#1a1a1a" stroke-width="1.35"/>
<text x="73.80" y="426.28" font-size="8.4" font-weight="400" fill="#1a1a1a" text-anchor="end" font-style="italic" >MGAT5</text>
<rect x="233.50" y="422.18" width="18.48" height="4.2" fill="#ff0000" stroke="#111" stroke-width="1"/>
<text x="257.5" y="428.88" font-size="9.5" fill="#ff2020" text-anchor="middle">*</text>
<text x="73.80" y="432.85" font-size="8.4" font-weight="400" fill="#1a1a1a" text-anchor="end" font-style="italic" >GCNT3</text>
<rect x="233.50" y="428.75" width="15.84" height="4.2" fill="#ff0000" stroke="#111" stroke-width="1"/>
<text x="257.5" y="435.45" font-size="9.5" fill="#ff2020" text-anchor="middle">*</text>
<text x="73.80" y="439.42" font-size="8.4" font-weight="400" fill="#1a1a1a" text-anchor="end" font-style="italic" >HS3ST1</text>
<rect x="233.50" y="435.32" width="15.18" height="4.2" fill="#ff0000" stroke="#111" stroke-width="1"/>
<text x="257.5" y="442.02" font-size="9.5" fill="#ff2020" text-anchor="middle">*</text>
<text x="73.80" y="445.99" font-size="8.4" font-weight="400" fill="#1a1a1a" text-anchor="end" font-style="italic" >GALNT7</text>
<rect x="233.50" y="441.89" width="10.69" height="4.2" fill="#ff0000" stroke="#111" stroke-width="1"/>
<text x="257.5" y="448.59" font-size="9.5" fill="#ff2020" text-anchor="middle">*</text>
<text x="73.80" y="452.56" font-size="8.4" font-weight="400" fill="#1a1a1a" text-anchor="end" font-style="italic" >GALNT3</text>
<rect x="233.50" y="448.46" width="7.92" height="4.2" fill="#ff0000" stroke="#111" stroke-width="1"/>
<text x="257.5" y="455.16" font-size="9.5" fill="#ff2020" text-anchor="middle">*</text>
<text x="73.80" y="459.13" font-size="8.4" font-weight="400" fill="#1a1a1a" text-anchor="end" font-style="italic" >C1GALT1C1</text>
<rect x="233.50" y="455.03" width="7.92" height="4.2" fill="#ff0000" stroke="#111" stroke-width="1"/>
<text x="257.5" y="461.73" font-size="9.5" fill="#ff2020" text-anchor="middle">*</text>
<text x="73.80" y="465.70" font-size="8.4" font-weight="400" fill="#1a1a1a" text-anchor="end" font-style="italic" >B4GALT5</text>
<rect x="233.50" y="461.60" width="1.98" height="4.2" fill="#ff0000" stroke="#111" stroke-width="1"/>
<text x="73.80" y="472.27" font-size="8.4" font-weight="400" fill="#1a1a1a" text-anchor="end" font-style="italic" >B4GALT4</text>
<rect x="233.50" y="468.17" width="1.98" height="4.2" fill="#ff0000" stroke="#111" stroke-width="1"/>
<text x="73.80" y="478.84" font-size="8.4" font-weight="400" fill="#1a1a1a" text-anchor="end" font-style="italic" >GALNT12</text>
<line x1="233.5" y1="475.04" x2="233.5" y2="478.64" stroke="#000" stroke-width="1.3"/>
<text x="73.80" y="485.41" font-size="8.4" font-weight="400" fill="#1a1a1a" text-anchor="end" font-style="italic" >MOGS</text>
<line x1="233.5" y1="481.61" x2="233.5" y2="485.21" stroke="#000" stroke-width="1.3"/>
<text x="73.80" y="491.98" font-size="8.4" font-weight="400" fill="#1a1a1a" text-anchor="end" font-style="italic" >ST3GAL1</text>
<rect x="231.06" y="487.88" width="2.44" height="4.2" fill="#0000ff" stroke="#111" stroke-width="1"/>
<text x="73.80" y="498.55" font-size="8.4" font-weight="400" fill="#1a1a1a" text-anchor="end" font-style="italic" >B4GALT3</text>
<rect x="228.88" y="494.45" width="4.62" height="4.2" fill="#0000ff" stroke="#111" stroke-width="1"/>
<text x="257.5" y="501.15" font-size="9.5" fill="#2020ff" text-anchor="middle">*</text>
<text x="73.80" y="505.12" font-size="8.4" font-weight="400" fill="#1a1a1a" text-anchor="end" font-style="italic" >MGAT4A</text>
<rect x="224.92" y="501.02" width="8.58" height="4.2" fill="#0000ff" stroke="#111" stroke-width="1"/>
<text x="257.5" y="507.72" font-size="9.5" fill="#2020ff" text-anchor="middle">*</text>
<line x1="226.9" y1="296.8" x2="226.9" y2="299.4" stroke="#333" stroke-width="0.8"/>
<text x="229.10" y="295.50" font-size="6.5" font-weight="400" fill="#333" text-anchor="start" font-style="normal" transform="rotate(-90 229.1 295.5)" >-1</text>
<line x1="233.5" y1="296.8" x2="233.5" y2="299.4" stroke="#333" stroke-width="0.8"/>
<text x="235.70" y="295.50" font-size="6.5" font-weight="400" fill="#333" text-anchor="start" font-style="normal" transform="rotate(-90 235.7 295.5)" >0</text>
<line x1="240.1" y1="296.8" x2="240.1" y2="299.4" stroke="#333" stroke-width="0.8"/>
<text x="242.30" y="295.50" font-size="6.5" font-weight="400" fill="#333" text-anchor="start" font-style="normal" transform="rotate(-90 242.29999999999998 295.5)" >1</text>
<line x1="246.7" y1="296.8" x2="246.7" y2="299.4" stroke="#333" stroke-width="0.8"/>
<text x="248.90" y="295.50" font-size="6.5" font-weight="400" fill="#333" text-anchor="start" font-style="normal" transform="rotate(-90 248.89999999999998 295.5)" >2</text>
<text x="238.30" y="283.20" font-size="9.2" font-weight="400" fill="#1a1a1a" text-anchor="middle" font-style="normal" >log2FC</text>
<line x1="21.6" y1="299" x2="21.6" y2="368.8" stroke="#000" stroke-width="1"/>
<line x1="21.6" y1="376" x2="21.6" y2="407" stroke="#000" stroke-width="1"/>
<line x1="21.6" y1="414.4" x2="21.6" y2="493.9" stroke="#000" stroke-width="1"/>
<text x="8.30" y="334.80" font-size="9.4" font-weight="400" fill="#1a1a1a" text-anchor="middle" font-style="normal" transform="rotate(-90 8.3 334.8)" >Steroid</text>
<text x="18.60" y="333.20" font-size="9.4" font-weight="400" fill="#1a1a1a" text-anchor="middle" font-style="normal" transform="rotate(-90 18.6 333.2)" >synhtesis</text>
<text x="18.40" y="393.00" font-size="9.4" font-weight="400" fill="#1a1a1a" text-anchor="middle" font-style="normal" transform="rotate(-90 18.4 393)" >Glycolysis</text>
<text x="8.70" y="452.60" font-size="9.4" font-weight="400" fill="#1a1a1a" text-anchor="middle" font-style="normal" transform="rotate(-90 8.7 452.6)" >O-glycanbio-</text>
<text x="19.20" y="452.60" font-size="9.4" font-weight="400" fill="#1a1a1a" text-anchor="middle" font-style="normal" transform="rotate(-90 19.2 452.6)" >synthesis</text>
<defs><linearGradient id="zgrad" x1="0" y1="0" x2="0" y2="1"><stop offset="0" stop-color="#ff0000"/><stop offset="0.25" stop-color="#ff2020"/><stop offset="0.5" stop-color="#ffffff"/><stop offset="0.75" stop-color="#2020ff"/><stop offset="1" stop-color="#0000ff"/></linearGradient></defs>
<text x="260.40" y="464.80" font-size="8.4" font-weight="700" fill="#1a1a1a" text-anchor="start" font-style="normal" >z score</text>
<rect x="260.8" y="468" width="6.3" height="31.6" fill="url(#zgrad)"/>
<line x1="260.8" y1="469.8" x2="262" y2="469.8" stroke="#fff" stroke-width="0.6"/><line x1="265.9" y1="469.8" x2="267.1" y2="469.8" stroke="#fff" stroke-width="0.6"/>
<text x="267.60" y="472.80" font-size="8.4" font-weight="400" fill="#1a1a1a" text-anchor="start" font-style="normal" >4</text>
<line x1="260.8" y1="476.4" x2="262" y2="476.4" stroke="#fff" stroke-width="0.6"/><line x1="265.9" y1="476.4" x2="267.1" y2="476.4" stroke="#fff" stroke-width="0.6"/>
<text x="267.60" y="479.40" font-size="8.4" font-weight="400" fill="#1a1a1a" text-anchor="start" font-style="normal" >2</text>
<line x1="260.8" y1="483.2" x2="262" y2="483.2" stroke="#fff" stroke-width="0.6"/><line x1="265.9" y1="483.2" x2="267.1" y2="483.2" stroke="#fff" stroke-width="0.6"/>
<text x="267.60" y="486.20" font-size="8.4" font-weight="400" fill="#1a1a1a" text-anchor="start" font-style="normal" >0</text>
<line x1="260.8" y1="490.2" x2="262" y2="490.2" stroke="#fff" stroke-width="0.6"/><line x1="265.9" y1="490.2" x2="267.1" y2="490.2" stroke="#fff" stroke-width="0.6"/>
<text x="267.60" y="493.20" font-size="8.4" font-weight="400" fill="#1a1a1a" text-anchor="start" font-style="normal" >−2</text>
<line x1="260.8" y1="497.2" x2="262" y2="497.2" stroke="#fff" stroke-width="0.6"/><line x1="265.9" y1="497.2" x2="267.1" y2="497.2" stroke="#fff" stroke-width="0.6"/>
<text x="267.60" y="500.20" font-size="8.4" font-weight="400" fill="#1a1a1a" text-anchor="start" font-style="normal" >−4</text>
<text x="282.00" y="280.60" font-size="19" font-weight="700" fill="#000" text-anchor="start" font-style="normal" >d</text>
<rect x="318" y="306.8" width="177" height="161.2" fill="#fff"/>
<clipPath id="clipd"><rect x="318" y="306.8" width="177" height="161.2"/></clipPath>
<g clip-path="url(#clipd)"><line x1="344.9" y1="306.8" x2="344.9" y2="468" stroke="#f0f0f0" stroke-width="0.6"/><line x1="318" y1="443.2" x2="495" y2="443.2" stroke="#f0f0f0" stroke-width="0.6"/><line x1="382.7" y1="306.8" x2="382.7" y2="468" stroke="#f0f0f0" stroke-width="0.6"/><line x1="318" y1="408.8" x2="495" y2="408.8" stroke="#f0f0f0" stroke-width="0.6"/><line x1="420.5" y1="306.8" x2="420.5" y2="468" stroke="#f0f0f0" stroke-width="0.6"/><line x1="318" y1="374.4" x2="495" y2="374.4" stroke="#f0f0f0" stroke-width="0.6"/><line x1="458.3" y1="306.8" x2="458.3" y2="468" stroke="#f0f0f0" stroke-width="0.6"/><line x1="318" y1="340.0" x2="495" y2="340.0" stroke="#f0f0f0" stroke-width="0.6"/><line x1="496.1" y1="306.8" x2="496.1" y2="468" stroke="#f0f0f0" stroke-width="0.6"/><line x1="318" y1="305.6" x2="495" y2="305.6" stroke="#f0f0f0" stroke-width="0.6"/><line x1="326.0" y1="306.8" x2="326.0" y2="468" stroke="#e2e2e2" stroke-width="1.1"/><line x1="318" y1="460.4" x2="495" y2="460.4" stroke="#e2e2e2" stroke-width="1.1"/><line x1="363.8" y1="306.8" x2="363.8" y2="468" stroke="#e2e2e2" stroke-width="1.1"/><line x1="318" y1="426.0" x2="495" y2="426.0" stroke="#e2e2e2" stroke-width="1.1"/><line x1="401.6" y1="306.8" x2="401.6" y2="468" stroke="#e2e2e2" stroke-width="1.1"/><line x1="318" y1="391.6" x2="495" y2="391.6" stroke="#e2e2e2" stroke-width="1.1"/><line x1="439.4" y1="306.8" x2="439.4" y2="468" stroke="#e2e2e2" stroke-width="1.1"/><line x1="318" y1="357.2" x2="495" y2="357.2" stroke="#e2e2e2" stroke-width="1.1"/><line x1="477.2" y1="306.8" x2="477.2" y2="468" stroke="#e2e2e2" stroke-width="1.1"/><line x1="318" y1="322.8" x2="495" y2="322.8" stroke="#e2e2e2" stroke-width="1.1"/><line x1="327.2" y1="451.8" x2="484.1" y2="309.9" stroke="#9a9a9a" stroke-width="1.2" stroke-dasharray="4,3"/><line x1="335.1" y1="459.7" x2="492.7" y2="315.2" stroke="#9a9a9a" stroke-width="1.2" stroke-dasharray="4,3"/></g>
<line x1="337.7" y1="330.2" x2="338.5" y2="336.2" stroke="#ff1a1a" stroke-width="1.6"/>
<line x1="377.9" y1="331.8" x2="376.3" y2="337.0" stroke="#ff1a1a" stroke-width="1.6"/>
<line x1="422.6" y1="337.0" x2="423.1" y2="342.8" stroke="#ff1a1a" stroke-width="1.6"/>
<line x1="340.3" y1="351.2" x2="328.5" y2="379.6" stroke="#ff1a1a" stroke-width="1.6"/>
<line x1="328.5" y1="365.1" x2="326.4" y2="382.7" stroke="#ff1a1a" stroke-width="1.6"/>
<line x1="349.0" y1="365.9" x2="337.7" y2="399.3" stroke="#ff1a1a" stroke-width="1.6"/>
<line x1="365.3" y1="375.6" x2="363.2" y2="382.2" stroke="#ff1a1a" stroke-width="1.6"/>
<line x1="477.0" y1="339.6" x2="480.4" y2="337.0" stroke="#1a1aff" stroke-width="1.6"/>
<line x1="437.6" y1="379.6" x2="434.4" y2="378.3" stroke="#1a1aff" stroke-width="1.6"/>
<line x1="459.9" y1="379.6" x2="455.2" y2="374.8" stroke="#1a1aff" stroke-width="1.6"/>
<line x1="453.3" y1="390.6" x2="446.2" y2="386.1" stroke="#1a1aff" stroke-width="1.6"/>
<line x1="444.1" y1="399.3" x2="438.9" y2="390.1" stroke="#1a1aff" stroke-width="1.6"/>
<line x1="398.1" y1="434.8" x2="389.5" y2="436.9" stroke="#1a1aff" stroke-width="1.6"/>
<line x1="395.5" y1="443.2" x2="385.8" y2="445.3" stroke="#1a1aff" stroke-width="1.6"/>
<line x1="440.2" y1="450.5" x2="435.5" y2="446.6" stroke="#1a1aff" stroke-width="1.6"/>
<line x1="377.1" y1="459.7" x2="374.5" y2="455.0" stroke="#1a1aff" stroke-width="1.6"/>
<line x1="411.3" y1="457.9" x2="408.7" y2="455.0" stroke="#1a1aff" stroke-width="1.6"/>
<circle cx="338.5" cy="337.0" r="2.3" fill="#e8141c" stroke="#000" stroke-width="1"/><circle cx="376.3" cy="338.1" r="2.3" fill="#e8141c" stroke="#000" stroke-width="1"/><circle cx="360.0" cy="343.6" r="2.3" fill="#e8141c" stroke="#000" stroke-width="1"/><circle cx="423.1" cy="344.1" r="2.3" fill="#e8141c" stroke="#000" stroke-width="1"/><circle cx="423.1" cy="342.8" r="2.3" fill="#e8141c" stroke="#000" stroke-width="1"/><circle cx="434.9" cy="351.2" r="2.3" fill="#e8141c" stroke="#000" stroke-width="1"/><circle cx="364.8" cy="356.5" r="2.3" fill="#e8141c" stroke="#000" stroke-width="1"/><circle cx="394.2" cy="352.8" r="2.3" fill="#e8141c" stroke="#000" stroke-width="1"/><circle cx="402.6" cy="352.8" r="2.3" fill="#e8141c" stroke="#000" stroke-width="1"/><circle cx="338.5" cy="363.3" r="2.3" fill="#e8141c" stroke="#000" stroke-width="1"/><circle cx="371.9" cy="364.3" r="2.3" fill="#e8141c" stroke="#000" stroke-width="1"/><circle cx="386.8" cy="359.9" r="2.3" fill="#e8141c" stroke="#000" stroke-width="1"/><circle cx="419.2" cy="359.9" r="2.3" fill="#e8141c" stroke="#000" stroke-width="1"/><circle cx="417.9" cy="361.7" r="2.3" fill="#e8141c" stroke="#000" stroke-width="1"/><circle cx="420.0" cy="363.3" r="2.3" fill="#e8141c" stroke="#000" stroke-width="1"/><circle cx="415.2" cy="366.4" r="2.3" fill="#e8141c" stroke="#000" stroke-width="1"/><circle cx="411.3" cy="367.8" r="2.3" fill="#e8141c" stroke="#000" stroke-width="1"/><circle cx="408.7" cy="369.1" r="2.3" fill="#e8141c" stroke="#000" stroke-width="1"/><circle cx="382.4" cy="367.0" r="2.3" fill="#e8141c" stroke="#000" stroke-width="1"/><circle cx="392.9" cy="369.1" r="2.3" fill="#e8141c" stroke="#000" stroke-width="1"/><circle cx="398.1" cy="369.1" r="2.3" fill="#e8141c" stroke="#000" stroke-width="1"/><circle cx="375.8" cy="370.4" r="2.3" fill="#e8141c" stroke="#000" stroke-width="1"/><circle cx="406.0" cy="370.4" r="2.3" fill="#e8141c" stroke="#000" stroke-width="1"/><circle cx="328.5" cy="379.6" r="2.3" fill="#e8141c" stroke="#000" stroke-width="1"/><circle cx="325.9" cy="384.3" r="2.3" fill="#e8141c" stroke="#000" stroke-width="1"/><circle cx="341.6" cy="376.9" r="2.3" fill="#e8141c" stroke="#000" stroke-width="1"/><circle cx="346.9" cy="380.9" r="2.3" fill="#e8141c" stroke="#000" stroke-width="1"/><circle cx="349.5" cy="384.3" r="2.3" fill="#e8141c" stroke="#000" stroke-width="1"/><circle cx="357.4" cy="377.5" r="2.3" fill="#e8141c" stroke="#000" stroke-width="1"/><circle cx="360.0" cy="376.4" r="2.3" fill="#e8141c" stroke="#000" stroke-width="1"/><circle cx="354.8" cy="382.2" r="2.3" fill="#e8141c" stroke="#000" stroke-width="1"/><circle cx="361.4" cy="383.5" r="2.3" fill="#e8141c" stroke="#000" stroke-width="1"/><circle cx="364.0" cy="382.2" r="2.3" fill="#e8141c" stroke="#000" stroke-width="1"/><circle cx="373.2" cy="376.9" r="2.3" fill="#e8141c" stroke="#000" stroke-width="1"/><circle cx="374.5" cy="382.2" r="2.3" fill="#e8141c" stroke="#000" stroke-width="1"/><circle cx="373.2" cy="387.5" r="2.3" fill="#e8141c" stroke="#000" stroke-width="1"/><circle cx="375.3" cy="391.4" r="2.3" fill="#e8141c" stroke="#000" stroke-width="1"/><circle cx="381.1" cy="378.3" r="2.3" fill="#e8141c" stroke="#000" stroke-width="1"/><circle cx="383.7" cy="376.9" r="2.3" fill="#e8141c" stroke="#000" stroke-width="1"/><circle cx="386.3" cy="376.4" r="2.3" fill="#e8141c" stroke="#000" stroke-width="1"/><circle cx="388.9" cy="379.6" r="2.3" fill="#e8141c" stroke="#000" stroke-width="1"/><circle cx="387.6" cy="383.5" r="2.3" fill="#e8141c" stroke="#000" stroke-width="1"/><circle cx="394.2" cy="382.2" r="2.3" fill="#e8141c" stroke="#000" stroke-width="1"/><circle cx="396.8" cy="384.8" r="2.3" fill="#e8141c" stroke="#000" stroke-width="1"/><circle cx="400.8" cy="383.5" r="2.3" fill="#e8141c" stroke="#000" stroke-width="1"/><circle cx="404.7" cy="379.6" r="2.3" fill="#e8141c" stroke="#000" stroke-width="1"/><circle cx="408.7" cy="376.9" r="2.3" fill="#e8141c" stroke="#000" stroke-width="1"/><circle cx="411.3" cy="373.0" r="2.3" fill="#e8141c" stroke="#000" stroke-width="1"/><circle cx="390.3" cy="370.4" r="2.3" fill="#e8141c" stroke="#000" stroke-width="1"/><circle cx="392.9" cy="374.3" r="2.3" fill="#e8141c" stroke="#000" stroke-width="1"/><circle cx="325.9" cy="390.6" r="2.3" fill="#e8141c" stroke="#000" stroke-width="1"/><circle cx="333.8" cy="387.5" r="2.3" fill="#e8141c" stroke="#000" stroke-width="1"/><circle cx="339.0" cy="384.8" r="2.3" fill="#e8141c" stroke="#000" stroke-width="1"/><circle cx="345.6" cy="392.7" r="2.3" fill="#e8141c" stroke="#000" stroke-width="1"/><circle cx="344.3" cy="396.7" r="2.3" fill="#e8141c" stroke="#000" stroke-width="1"/><circle cx="343.0" cy="400.6" r="2.3" fill="#e8141c" stroke="#000" stroke-width="1"/><circle cx="350.8" cy="390.1" r="2.3" fill="#e8141c" stroke="#000" stroke-width="1"/><circle cx="357.4" cy="392.7" r="2.3" fill="#e8141c" stroke="#000" stroke-width="1"/><circle cx="365.3" cy="390.6" r="2.3" fill="#e8141c" stroke="#000" stroke-width="1"/><circle cx="370.6" cy="396.7" r="2.3" fill="#e8141c" stroke="#000" stroke-width="1"/><circle cx="374.5" cy="395.3" r="2.3" fill="#e8141c" stroke="#000" stroke-width="1"/><circle cx="378.4" cy="394.0" r="2.3" fill="#e8141c" stroke="#000" stroke-width="1"/><circle cx="382.4" cy="396.7" r="2.3" fill="#e8141c" stroke="#000" stroke-width="1"/><circle cx="386.3" cy="390.1" r="2.3" fill="#e8141c" stroke="#000" stroke-width="1"/><circle cx="381.1" cy="387.5" r="2.3" fill="#e8141c" stroke="#000" stroke-width="1"/><circle cx="325.9" cy="399.3" r="2.3" fill="#e8141c" stroke="#000" stroke-width="1"/><circle cx="337.7" cy="400.6" r="2.3" fill="#e8141c" stroke="#000" stroke-width="1"/><circle cx="348.2" cy="396.7" r="2.3" fill="#e8141c" stroke="#000" stroke-width="1"/><circle cx="349.5" cy="403.2" r="2.3" fill="#e8141c" stroke="#000" stroke-width="1"/><circle cx="353.5" cy="401.9" r="2.3" fill="#e8141c" stroke="#000" stroke-width="1"/><circle cx="357.4" cy="403.2" r="2.3" fill="#e8141c" stroke="#000" stroke-width="1"/><circle cx="361.4" cy="401.9" r="2.3" fill="#e8141c" stroke="#000" stroke-width="1"/><circle cx="364.0" cy="403.2" r="2.3" fill="#e8141c" stroke="#000" stroke-width="1"/><circle cx="366.6" cy="400.6" r="2.3" fill="#e8141c" stroke="#000" stroke-width="1"/><circle cx="369.2" cy="399.3" r="2.3" fill="#e8141c" stroke="#000" stroke-width="1"/><circle cx="352.2" cy="407.2" r="2.3" fill="#e8141c" stroke="#000" stroke-width="1"/><circle cx="356.1" cy="408.5" r="2.3" fill="#e8141c" stroke="#000" stroke-width="1"/><circle cx="354.8" cy="412.4" r="2.3" fill="#e8141c" stroke="#000" stroke-width="1"/><circle cx="351.6" cy="413.7" r="2.3" fill="#e8141c" stroke="#000" stroke-width="1"/><circle cx="356.1" cy="411.1" r="2.3" fill="#e8141c" stroke="#000" stroke-width="1"/><circle cx="369.2" cy="409.8" r="2.3" fill="#e8141c" stroke="#000" stroke-width="1"/><circle cx="328.5" cy="410.6" r="2.3" fill="#e8141c" stroke="#000" stroke-width="1"/><circle cx="331.1" cy="411.6" r="2.3" fill="#e8141c" stroke="#000" stroke-width="1"/><circle cx="335.9" cy="412.4" r="2.3" fill="#e8141c" stroke="#000" stroke-width="1"/><circle cx="340.3" cy="416.4" r="2.3" fill="#e8141c" stroke="#000" stroke-width="1"/><circle cx="339.0" cy="419.5" r="2.3" fill="#e8141c" stroke="#000" stroke-width="1"/><circle cx="343.0" cy="421.6" r="2.3" fill="#e8141c" stroke="#000" stroke-width="1"/><circle cx="344.3" cy="426.1" r="2.3" fill="#e8141c" stroke="#000" stroke-width="1"/><circle cx="350.8" cy="419.0" r="2.3" fill="#e8141c" stroke="#000" stroke-width="1"/><circle cx="353.5" cy="415.8" r="2.3" fill="#e8141c" stroke="#000" stroke-width="1"/><circle cx="328.0" cy="421.6" r="2.3" fill="#e8141c" stroke="#000" stroke-width="1"/><circle cx="325.9" cy="427.4" r="2.3" fill="#e8141c" stroke="#000" stroke-width="1"/><circle cx="330.6" cy="428.2" r="2.3" fill="#e8141c" stroke="#000" stroke-width="1"/><circle cx="377.1" cy="398.0" r="2.3" fill="#e8141c" stroke="#000" stroke-width="1"/><circle cx="371.9" cy="400.1" r="2.3" fill="#e8141c" stroke="#000" stroke-width="1"/><circle cx="360.0" cy="405.9" r="2.3" fill="#e8141c" stroke="#000" stroke-width="1"/><circle cx="346.9" cy="404.5" r="2.3" fill="#e8141c" stroke="#000" stroke-width="1"/><circle cx="388.9" cy="384.8" r="2.3" fill="#e8141c" stroke="#000" stroke-width="1"/><circle cx="396.8" cy="380.9" r="2.3" fill="#e8141c" stroke="#000" stroke-width="1"/><circle cx="402.1" cy="375.6" r="2.3" fill="#e8141c" stroke="#000" stroke-width="1"/><circle cx="385.0" cy="380.9" r="2.3" fill="#e8141c" stroke="#000" stroke-width="1"/><circle cx="378.4" cy="384.8" r="2.3" fill="#e8141c" stroke="#000" stroke-width="1"/><circle cx="480.4" cy="337.0" r="2.3" fill="#1010c8" stroke="#000" stroke-width="1"/><circle cx="465.7" cy="352.8" r="2.3" fill="#1010c8" stroke="#000" stroke-width="1"/><circle cx="453.3" cy="355.4" r="2.3" fill="#1010c8" stroke="#000" stroke-width="1"/><circle cx="447.5" cy="361.2" r="2.3" fill="#1010c8" stroke="#000" stroke-width="1"/><circle cx="455.2" cy="365.1" r="2.3" fill="#1010c8" stroke="#000" stroke-width="1"/><circle cx="434.4" cy="375.6" r="2.3" fill="#1010c8" stroke="#000" stroke-width="1"/><circle cx="434.4" cy="378.3" r="2.3" fill="#1010c8" stroke="#000" stroke-width="1"/><circle cx="434.4" cy="380.9" r="2.3" fill="#1010c8" stroke="#000" stroke-width="1"/><circle cx="455.2" cy="374.8" r="2.3" fill="#1010c8" stroke="#000" stroke-width="1"/><circle cx="446.2" cy="386.1" r="2.3" fill="#1010c8" stroke="#000" stroke-width="1"/><circle cx="438.9" cy="390.1" r="2.3" fill="#1010c8" stroke="#000" stroke-width="1"/><circle cx="429.7" cy="389.6" r="2.3" fill="#1010c8" stroke="#000" stroke-width="1"/><circle cx="425.7" cy="384.8" r="2.3" fill="#1010c8" stroke="#000" stroke-width="1"/><circle cx="422.6" cy="384.3" r="2.3" fill="#1010c8" stroke="#000" stroke-width="1"/><circle cx="427.0" cy="384.3" r="2.3" fill="#1010c8" stroke="#000" stroke-width="1"/><circle cx="420.5" cy="392.2" r="2.3" fill="#1010c8" stroke="#000" stroke-width="1"/><circle cx="417.3" cy="396.7" r="2.3" fill="#1010c8" stroke="#000" stroke-width="1"/><circle cx="407.3" cy="398.5" r="2.3" fill="#1010c8" stroke="#000" stroke-width="1"/><circle cx="404.7" cy="400.6" r="2.3" fill="#1010c8" stroke="#000" stroke-width="1"/><circle cx="402.1" cy="402.7" r="2.3" fill="#1010c8" stroke="#000" stroke-width="1"/><circle cx="404.2" cy="405.9" r="2.3" fill="#1010c8" stroke="#000" stroke-width="1"/><circle cx="402.1" cy="405.3" r="2.3" fill="#1010c8" stroke="#000" stroke-width="1"/><circle cx="412.6" cy="402.7" r="2.3" fill="#1010c8" stroke="#000" stroke-width="1"/><circle cx="416.5" cy="403.8" r="2.3" fill="#1010c8" stroke="#000" stroke-width="1"/><circle cx="407.9" cy="417.7" r="2.3" fill="#1010c8" stroke="#000" stroke-width="1"/><circle cx="381.6" cy="424.2" r="2.3" fill="#1010c8" stroke="#000" stroke-width="1"/><circle cx="382.4" cy="427.4" r="2.3" fill="#1010c8" stroke="#000" stroke-width="1"/><circle cx="389.5" cy="428.2" r="2.3" fill="#1010c8" stroke="#000" stroke-width="1"/><circle cx="392.9" cy="424.8" r="2.3" fill="#1010c8" stroke="#000" stroke-width="1"/><circle cx="367.9" cy="437.4" r="2.3" fill="#1010c8" stroke="#000" stroke-width="1"/><circle cx="373.7" cy="436.1" r="2.3" fill="#1010c8" stroke="#000" stroke-width="1"/><circle cx="389.5" cy="436.9" r="2.3" fill="#1010c8" stroke="#000" stroke-width="1"/><circle cx="385.8" cy="445.3" r="2.3" fill="#1010c8" stroke="#000" stroke-width="1"/><circle cx="435.5" cy="446.6" r="2.3" fill="#1010c8" stroke="#000" stroke-width="1"/><circle cx="362.7" cy="451.0" r="2.3" fill="#1010c8" stroke="#000" stroke-width="1"/><circle cx="357.9" cy="456.3" r="2.3" fill="#1010c8" stroke="#000" stroke-width="1"/><circle cx="374.5" cy="455.0" r="2.3" fill="#1010c8" stroke="#000" stroke-width="1"/><circle cx="408.7" cy="455.0" r="2.3" fill="#1010c8" stroke="#000" stroke-width="1"/>
<text x="326.41" y="327.02" font-size="8.6" font-weight="400" fill="#ff1a1a" text-anchor="start" font-style="italic" >TFF2</text>
<text x="373.18" y="327.81" font-size="8.6" font-weight="400" fill="#ff1a1a" text-anchor="start" font-style="italic" >TFF1</text>
<text x="344.28" y="340.16" font-size="8.6" font-weight="400" fill="#ff1a1a" text-anchor="start" font-style="italic" >CLDN18</text>
<text x="411.28" y="335.69" font-size="8.6" font-weight="400" fill="#ff1a1a" text-anchor="start" font-style="italic" >MUC5AC</text>
<text x="327.20" y="349.62" font-size="8.6" font-weight="400" fill="#ff1a1a" text-anchor="start" font-style="italic" >GATA4</text>
<text x="320.63" y="359.34" font-size="8.6" font-weight="400" fill="#ff1a1a" text-anchor="start" font-style="italic" >PGC</text>
<text x="341.12" y="365.91" font-size="8.6" font-weight="400" fill="#ff1a1a" text-anchor="start" font-style="italic" >REG1A</text>
<text x="352.16" y="373.27" font-size="8.6" font-weight="400" fill="#ff1a1a" text-anchor="start" font-style="italic" >CAPN6</text>
<text x="463.31" y="348.83" font-size="8.6" font-weight="400" fill="#1a1aff" text-anchor="start" font-style="italic" >KRT7</text>
<text x="437.04" y="383.78" font-size="8.6" font-weight="400" fill="#1a1aff" text-anchor="start" font-style="italic" >CAV1</text>
<text x="459.90" y="383.78" font-size="8.6" font-weight="400" fill="#1a1aff" text-anchor="start" font-style="italic" >VCAN</text>
<text x="453.33" y="396.13" font-size="8.6" font-weight="400" fill="#1a1aff" text-anchor="start" font-style="italic" >EREG</text>
<text x="433.62" y="405.85" font-size="8.6" font-weight="400" fill="#1a1aff" text-anchor="start" font-style="italic" >WNT7B</text>
<text x="399.46" y="437.39" font-size="8.6" font-weight="400" fill="#1a1aff" text-anchor="start" font-style="italic" >KCNAB1</text>
<text x="396.31" y="446.85" font-size="8.6" font-weight="400" fill="#1a1aff" text-anchor="start" font-style="italic" >RGS20</text>
<text x="435.72" y="459.20" font-size="8.6" font-weight="400" fill="#1a1aff" text-anchor="start" font-style="italic" >EDIL3</text>
<text x="377.91" y="465.76" font-size="8.6" font-weight="400" fill="#1a1aff" text-anchor="start" font-style="italic" >AR</text>
<text x="407.34" y="465.76" font-size="8.6" font-weight="400" fill="#1a1aff" text-anchor="start" font-style="italic" >GATA3</text>
<text x="322.00" y="317.20" font-size="9.3" font-weight="700" fill="#f03a3a" text-anchor="start" font-style="normal" >High in mouse acinar tumors</text>
<text x="492.60" y="401.00" font-size="9.3" font-weight="700" fill="#2b86c8" text-anchor="middle" font-style="normal" transform="rotate(-90 492.6 401)" >High in mouse ductal tumors</text>
<rect x="318" y="306.8" width="177" height="161.2" fill="none" stroke="#333" stroke-width="1.5"/>
<line x1="315.5" y1="460.4" x2="318" y2="460.4" stroke="#333" stroke-width="1"/>
<text x="316.00" y="463.60" font-size="8.9" font-weight="400" fill="#4d4d4d" text-anchor="end" font-style="normal" >0</text>
<line x1="326.0" y1="468" x2="326.0" y2="470.5" stroke="#333" stroke-width="1"/>
<text x="326.00" y="477.60" font-size="8.9" font-weight="400" fill="#4d4d4d" text-anchor="middle" font-style="normal" >0</text>
<line x1="315.5" y1="426.0" x2="318" y2="426.0" stroke="#333" stroke-width="1"/>
<text x="316.00" y="429.20" font-size="8.9" font-weight="400" fill="#4d4d4d" text-anchor="end" font-style="normal" >4</text>
<line x1="363.8" y1="468" x2="363.8" y2="470.5" stroke="#333" stroke-width="1"/>
<text x="363.80" y="477.60" font-size="8.9" font-weight="400" fill="#4d4d4d" text-anchor="middle" font-style="normal" >4</text>
<line x1="315.5" y1="391.6" x2="318" y2="391.6" stroke="#333" stroke-width="1"/>
<text x="316.00" y="394.80" font-size="8.9" font-weight="400" fill="#4d4d4d" text-anchor="end" font-style="normal" >8</text>
<line x1="401.6" y1="468" x2="401.6" y2="470.5" stroke="#333" stroke-width="1"/>
<text x="401.60" y="477.60" font-size="8.9" font-weight="400" fill="#4d4d4d" text-anchor="middle" font-style="normal" >8</text>
<line x1="315.5" y1="357.2" x2="318" y2="357.2" stroke="#333" stroke-width="1"/>
<text x="316.00" y="360.40" font-size="8.9" font-weight="400" fill="#4d4d4d" text-anchor="end" font-style="normal" >12</text>
<line x1="439.4" y1="468" x2="439.4" y2="470.5" stroke="#333" stroke-width="1"/>
<text x="439.40" y="477.60" font-size="8.9" font-weight="400" fill="#4d4d4d" text-anchor="middle" font-style="normal" >12</text>
<line x1="315.5" y1="322.8" x2="318" y2="322.8" stroke="#333" stroke-width="1"/>
<text x="316.00" y="326.00" font-size="8.9" font-weight="400" fill="#4d4d4d" text-anchor="end" font-style="normal" >16</text>
<line x1="477.2" y1="468" x2="477.2" y2="470.5" stroke="#333" stroke-width="1"/>
<text x="477.20" y="477.60" font-size="8.9" font-weight="400" fill="#4d4d4d" text-anchor="middle" font-style="normal" >16</text>
<text x="399.50" y="291.60" font-size="10.85" font-weight="700" fill="#000" text-anchor="middle" font-style="normal" >DEGs in Acinar-KPTS vs Ductal-KPTS</text>
<text x="405.5" y="487" font-size="8.7" font-weight="700" fill="#333" text-anchor="middle">Log2 normalized counts in <tspan fill="#2b86c8">Ductal</tspan>-KPTS</text>
<text x="305.3" y="388.5" font-size="8.75" font-weight="700" fill="#333" text-anchor="middle" transform="rotate(-90 305.3 388.5)">Log2 normalized counts in <tspan fill="#ff1a1a">Acinar</tspan>-KPTS</text>
<text x="508.50" y="279.00" font-size="19" font-weight="700" fill="#000" text-anchor="start" font-style="normal" >e</text>
<text x="610.50" y="281.60" font-size="12.5" font-weight="700" fill="#000" text-anchor="middle" font-style="normal" >PCA analysis of all cells</text>
<line x1="535" y1="338.2" x2="674" y2="338.2" stroke="#000" stroke-width="1.8" stroke-dasharray="5.5,3.5"/>
<line x1="609.5" y1="295" x2="609.5" y2="413" stroke="#000" stroke-width="1.8" stroke-dasharray="5.5,3.5"/>
<line x1="535.5" y1="295.6" x2="537" y2="295.6" stroke="#333" stroke-width="0.8"/>
<text x="535.00" y="298.60" font-size="8.5" font-weight="400" fill="#4d4d4d" text-anchor="end" font-style="normal" >50</text>
<line x1="535.5" y1="338.2" x2="537" y2="338.2" stroke="#333" stroke-width="0.8"/>
<text x="535.00" y="341.20" font-size="8.5" font-weight="400" fill="#4d4d4d" text-anchor="end" font-style="normal" >0</text>
<line x1="535.5" y1="380.8" x2="537" y2="380.8" stroke="#333" stroke-width="0.8"/>
<text x="535.00" y="383.80" font-size="8.5" font-weight="400" fill="#4d4d4d" text-anchor="end" font-style="normal" >−50</text>
<line x1="541.4" y1="412" x2="541.4" y2="413.6" stroke="#333" stroke-width="0.8"/>
<text x="541.39" y="423.00" font-size="8.5" font-weight="400" fill="#4d4d4d" text-anchor="middle" font-style="normal" >−80</text>
<line x1="575.4" y1="412" x2="575.4" y2="413.6" stroke="#333" stroke-width="0.8"/>
<text x="575.44" y="423.00" font-size="8.5" font-weight="400" fill="#4d4d4d" text-anchor="middle" font-style="normal" >−40</text>
<line x1="609.5" y1="412" x2="609.5" y2="413.6" stroke="#333" stroke-width="0.8"/>
<text x="609.50" y="423.00" font-size="8.5" font-weight="400" fill="#4d4d4d" text-anchor="middle" font-style="normal" >0</text>
<line x1="643.6" y1="412" x2="643.6" y2="413.6" stroke="#333" stroke-width="0.8"/>
<text x="643.56" y="423.00" font-size="8.5" font-weight="400" fill="#4d4d4d" text-anchor="middle" font-style="normal" >40</text>
<text x="615.80" y="435.40" font-size="8.5" font-weight="400" fill="#333" text-anchor="middle" font-style="normal" >PC1: 59% variance</text>
<text x="518.60" y="339.00" font-size="8.5" font-weight="400" fill="#333" text-anchor="middle" font-style="normal" transform="rotate(-90 518.6 339)" >PC2: 21% variance</text>
<circle cx="542.7" cy="303.5" r="2.85" fill="#f8766d"/>
<circle cx="545.4" cy="305.9" r="2.85" fill="#f8766d"/>
<circle cx="548.1" cy="308.1" r="2.85" fill="#f8766d"/>
<circle cx="546.5" cy="307.5" r="2.85" fill="#f8766d"/>
<circle cx="552.7" cy="300.8" r="2.85" fill="#f8766d"/>
<circle cx="547.3" cy="337.8" r="2.85" fill="#a3a500"/>
<circle cx="545.4" cy="339.1" r="2.85" fill="#a3a500"/>
<circle cx="548.6" cy="339.1" r="2.85" fill="#a3a500"/>
<circle cx="546.5" cy="339.9" r="2.85" fill="#a3a500"/>
<circle cx="558.1" cy="345.9" r="2.85" fill="#a3a500"/>
<circle cx="654.5" cy="322.4" r="2.85" fill="#00bf7d"/>
<circle cx="658" cy="323.5" r="2.85" fill="#00bf7d"/>
<circle cx="661.5" cy="321.6" r="2.85" fill="#00bf7d"/>
<circle cx="663.4" cy="324.3" r="2.85" fill="#00bf7d"/>
<circle cx="666.1" cy="325.6" r="2.85" fill="#00bf7d"/>
<circle cx="667.4" cy="327" r="2.85" fill="#00bf7d"/>
<circle cx="662" cy="328.3" r="2.85" fill="#00bf7d"/>
<circle cx="659.4" cy="329.7" r="2.85" fill="#00bf7d"/>
<circle cx="657.5" cy="332.4" r="2.85" fill="#00bf7d"/>
<circle cx="664.7" cy="330.5" r="2.85" fill="#00bf7d"/>
<circle cx="655.3" cy="325.6" r="2.85" fill="#00bf7d"/>
<circle cx="659.4" cy="325.6" r="2.85" fill="#00bf7d"/>
<circle cx="662" cy="325.1" r="2.85" fill="#00bf7d"/>
<circle cx="660.5" cy="331" r="2.85" fill="#00bf7d"/>
<circle cx="648.5" cy="341.8" r="2.85" fill="#00b0f6"/>
<circle cx="647.2" cy="350.5" r="2.85" fill="#00b0f6"/>
<circle cx="646.4" cy="352.1" r="2.85" fill="#00b0f6"/>
<circle cx="588.6" cy="407.5" r="2.85" fill="#e76bf3"/>
<circle cx="591.8" cy="406.1" r="2.85" fill="#e76bf3"/>
<circle cx="595" cy="405.6" r="2.85" fill="#e76bf3"/>
<circle cx="598.6" cy="399.9" r="2.85" fill="#e76bf3"/>
<circle cx="545.9" cy="454.4" r="2.9" fill="#f8766d"/>
<text x="550.90" y="457.40" font-size="7.9" font-weight="700" fill="#1a1a1a" text-anchor="start" font-style="normal" >Acinar</text>
<circle cx="545.9" cy="465.2" r="2.9" fill="#a3a500"/>
<text x="550.90" y="468.20" font-size="7.9" font-weight="700" fill="#1a1a1a" text-anchor="start" font-style="normal" >Ductal</text>
<circle cx="583.2" cy="451.2" r="2.9" fill="#00bf7d"/>
<text x="591.50" y="454.20" font-size="7.9" font-weight="700" fill="#1a1a1a" text-anchor="start" font-style="normal" >Metaplstic_Acinar</text>
<circle cx="583.2" cy="461.2" r="2.9" fill="#00b0f6"/>
<text x="591.50" y="464.20" font-size="7.9" font-weight="700" fill="#1a1a1a" text-anchor="start" font-style="normal" >Acinar_KPTS</text>
<circle cx="583.2" cy="472" r="2.9" fill="#e76bf3"/>
<text x="591.50" y="475.00" font-size="7.9" font-weight="700" fill="#1a1a1a" text-anchor="start" font-style="normal" >Ductal_KPTS</text>
<defs><filter id="fblur" x="-5%" y="-5%" width="110%" height="110%"><feGaussianBlur stdDeviation="3"/></filter><filter id="fblur2" x="-5%" y="-5%" width="110%" height="110%"><feGaussianBlur stdDeviation="6"/></filter><filter id="htex" x="0" y="0" width="100%" height="100%"><feTurbulence type="fractalNoise" baseFrequency="0.55" numOctaves="2" seed="9"/><feColorMatrix type="matrix" values="0 0 0 0 0.3  0 0 0 0 0.05  0 0 0 0 0.3  2.2 0 0 0 -0.9"/></filter><filter id="mtex" x="0" y="0" width="100%" height="100%"><feTurbulence type="fractalNoise" baseFrequency="0.5" numOctaves="2" seed="4"/><feColorMatrix type="matrix" values="0 0 0 0 0.15  0 0 0 0 0.25  0 0 0 0 0.5  2.0 0 0 0 -0.85"/></filter><filter id="ptex" x="0" y="0" width="100%" height="100%"><feTurbulence type="fractalNoise" baseFrequency="0.7" numOctaves="1" seed="2"/><feColorMatrix type="matrix" values="0 0 0 0 1  0 0 0 0 1  0 0 0 0 1  1.5 0 0 0 -0.7"/></filter></defs>
<text x="6.50" y="529.60" font-size="19" font-weight="700" fill="#000" text-anchor="start" font-style="normal" >f</text>
<clipPath id="cfa"><polygon points="61.6,533.5 210.4,533.5 210.4,668 58.6,668"/></clipPath>
<clipPath id="cfd"><rect x="52.4" y="674.3" width="187.7" height="133.4"/></clipPath>
<clipPath id="cha"><rect x="268.4" y="535" width="179.2" height="133.6"/></clipPath>
<clipPath id="chd"><rect x="268.4" y="673.6" width="179.2" height="134.4"/></clipPath>
<clipPath id="cma"><rect x="452" y="535" width="179" height="133.6"/></clipPath>
<clipPath id="cmd"><rect x="452" y="673.6" width="179" height="134.4"/></clipPath>
<polygon points="61.6,533.5 210.4,533.5 210.4,668 58.6,668" fill="#0e0e0e"/>
<rect x="140" y="533.5" width="71" height="135" fill="#121212" clip-path="url(#cfa)"/>
<g clip-path="url(#cfa)"><g transform="translate(55,530) scale(0.23359)" filter="url(#fblur)">
<path d="M30,540 L370,385" fill="none" stroke="#555" stroke-width="2" stroke-linejoin="round" stroke-linecap="round"/>
<path d="M140,90 L175,85 L230,110 L270,160 L285,185 L285,260 L280,300 L295,360 L290,400 L270,420 L240,430 L200,465 L160,475 L140,460 L120,420 L90,400 L75,360 L80,320 L70,260 L75,200 L85,170 L110,120 Z" fill="#f2c4ae"/>
<path d="M130,130 L200,110 L250,160 L260,250 L240,330 L200,380 L150,400 L110,360 L100,280 L105,190 Z" fill="#f9d8c8"/>
<path d="M180,230 L215,250 L210,290 L185,280 Z" fill="#fde6da"/>
<path d="M150,140 L175,130 L185,160 L160,170 Z" fill="#fde8dc"/>
<path d="M120,260 L140,255 L145,285 L125,290 Z" fill="#fbe2d6"/>
<path d="M210,330 L240,325 L245,350 L215,355 Z" fill="#fbe0d2"/>
<path d="M95,330 L115,320 L120,350 L100,360 Z" fill="#f9dccc"/>
<path d="M250,200 L275,210 L270,260 L250,250 Z" fill="#e8ae96"/>
<path d="M500,160 L560,165 L580,200 L520,190 Z" fill="#f2d0c0"/>
<path d="M430,200 L445,150 L480,128 L540,130 L585,150 L615,195 L628,235 L610,275 L565,305 L510,312 L460,295 L433,260 Z" fill="#deae98"/>
<path d="M460,160 L540,150 L600,200 L600,250 L540,285 L470,270 L450,220 Z" fill="#ebc2ae"/>
<path d="M460,295 L510,312 L565,305 L560,300 L510,300 Z" fill="#8a3a30" stroke="#8a3a30" stroke-width="6" stroke-linejoin="round" stroke-linecap="round"/>
</g></g>
<defs><radialGradient id="lobe" cx="0.45" cy="0.4" r="0.6" fx="0.38" fy="0.3"><stop offset="0" stop-color="#f6d8d4"/><stop offset="0.6" stop-color="#ebbcb8"/><stop offset="1" stop-color="#dca2a0"/></radialGradient><radialGradient id="lobe2" cx="0.5" cy="0.45" r="0.6" fx="0.4" fy="0.35"><stop offset="0" stop-color="#f4d2ce"/><stop offset="0.65" stop-color="#e8b6b2"/><stop offset="1" stop-color="#d89c9a"/></radialGradient><radialGradient id="lobe3" cx="0.5" cy="0.5" r="0.6"><stop offset="0" stop-color="#f6e0d0"/><stop offset="1" stop-color="#ecc4b4"/></radialGradient></defs>
<rect x="52.4" y="674.3" width="187.7" height="133.4" fill="#eceef2"/>
<rect x="147" y="674.3" width="93" height="133.4" fill="#eff0f3"/>
<g clip-path="url(#cfd)"><g transform="translate(48,670) scale(0.28760)">
<ellipse cx="140" cy="230" rx="75" ry="60" fill="url(#lobe)" transform="rotate(0 140 230)"/>
<ellipse cx="150" cy="130" rx="85" ry="70" fill="url(#lobe)" transform="rotate(0 150 130)"/>
<ellipse cx="85" cy="290" rx="50" ry="50" fill="url(#lobe2)" transform="rotate(0 85 290)"/>
<ellipse cx="215" cy="250" rx="40" ry="48" fill="url(#lobe)" transform="rotate(0 215 250)"/>
<ellipse cx="175" cy="345" rx="75" ry="65" fill="url(#lobe2)" transform="rotate(0 175 345)"/>
<ellipse cx="60" cy="170" rx="24" ry="40" fill="url(#lobe3)" transform="rotate(0 60 170)"/>
<ellipse cx="470" cy="175" rx="58" ry="115" fill="url(#lobe)" transform="rotate(12 470 175)"/>
<ellipse cx="470" cy="300" rx="95" ry="88" fill="url(#lobe2)" transform="rotate(0 470 300)"/>
<ellipse cx="530" cy="285" rx="40" ry="60" fill="url(#lobe)" transform="rotate(0 530 285)"/>
<ellipse cx="395" cy="280" rx="40" ry="60" fill="url(#lobe2)" transform="rotate(0 395 280)"/>
<path d="M150,140 L140,180 L120,200" fill="none" stroke="#d43a3a" stroke-width="4" stroke-linecap="round" opacity="0.75"/>
<path d="M140,180 L170,175 L200,165" fill="none" stroke="#d43a3a" stroke-width="4" stroke-linecap="round" opacity="0.75"/>
<path d="M110,150 L95,190" fill="none" stroke="#d43a3a" stroke-width="4" stroke-linecap="round" opacity="0.75"/>
<path d="M200,300 L210,340 L195,370" fill="none" stroke="#d43a3a" stroke-width="4" stroke-linecap="round" opacity="0.75"/>
<path d="M430,230 L460,250 L480,290 L500,320" fill="none" stroke="#d43a3a" stroke-width="4" stroke-linecap="round" opacity="0.75"/>
<path d="M470,250 L520,240 L540,270" fill="none" stroke="#d43a3a" stroke-width="4" stroke-linecap="round" opacity="0.75"/>
<path d="M440,300 L470,320 L510,340" fill="none" stroke="#d43a3a" stroke-width="4" stroke-linecap="round" opacity="0.75"/>
<path d="M490,270 L470,300" fill="none" stroke="#d43a3a" stroke-width="4" stroke-linecap="round" opacity="0.75"/>
<path d="M150,330 L170,340" fill="none" stroke="#d43a3a" stroke-width="4" stroke-linecap="round" opacity="0.75"/>
<path d="M90,300 L110,320" fill="none" stroke="#d43a3a" stroke-width="4" stroke-linecap="round" opacity="0.75"/>
<ellipse cx="488" cy="72" rx="9" ry="8" fill="#d42828"/>
<ellipse cx="100" cy="100" rx="12" ry="8" fill="#fbe8e4" opacity="0.8"/>
<ellipse cx="95" cy="265" rx="12" ry="9" fill="#fbe8e4" opacity="0.7"/>
<ellipse cx="470" cy="140" rx="10" ry="22" fill="#fbe8e4" opacity="0.6"/>
<ellipse cx="200" cy="270" rx="16" ry="14" fill="#f6e8dc" opacity="0.8"/>
</g></g>
<rect x="39.5" y="554.0" width="10.5" height="1.4" fill="#8a8078" opacity="0.85"/>
<rect x="39.5" y="561.9" width="10.5" height="1.4" fill="#8a8078" opacity="0.85"/>
<rect x="39.5" y="569.8" width="10.5" height="1.4" fill="#8a8078" opacity="0.85"/>
<rect x="39.5" y="577.7" width="10.5" height="1.4" fill="#8a8078" opacity="0.85"/>
<rect x="39.5" y="585.6" width="10.5" height="1.4" fill="#8a8078" opacity="0.85"/>
<rect x="39.5" y="593.5" width="10.5" height="1.4" fill="#8a8078" opacity="0.85"/>
<rect x="39.5" y="601.4" width="10.5" height="1.4" fill="#8a8078" opacity="0.85"/>
<rect x="39.5" y="609.3" width="10.5" height="1.4" fill="#8a8078" opacity="0.85"/>
<rect x="39.5" y="617.2" width="10.5" height="1.4" fill="#8a8078" opacity="0.85"/>
<rect x="39.5" y="625.1" width="10.5" height="1.4" fill="#8a8078" opacity="0.85"/>
<rect x="39.5" y="633.0" width="10.5" height="1.4" fill="#8a8078" opacity="0.85"/>
<rect x="39.5" y="640.9" width="10.5" height="1.4" fill="#8a8078" opacity="0.85"/>
<rect x="39.5" y="648.8" width="10.5" height="1.4" fill="#8a8078" opacity="0.85"/>
<rect x="39.5" y="656.7" width="10.5" height="1.4" fill="#8a8078" opacity="0.85"/>
<rect x="40" y="669.0" width="6.0" height="1.1" fill="#8a8078" opacity="0.75"/>
<rect x="40" y="672.9" width="8.5" height="1.1" fill="#8a8078" opacity="0.75"/>
<rect x="40" y="676.8" width="6.0" height="1.1" fill="#8a8078" opacity="0.75"/>
<rect x="40" y="680.7" width="8.5" height="1.1" fill="#8a8078" opacity="0.75"/>
<rect x="40" y="684.6" width="6.0" height="1.1" fill="#8a8078" opacity="0.75"/>
<rect x="40" y="688.5" width="8.5" height="1.1" fill="#8a8078" opacity="0.75"/>
<rect x="40" y="692.4" width="6.0" height="1.1" fill="#8a8078" opacity="0.75"/>
<rect x="40" y="696.3" width="8.5" height="1.1" fill="#8a8078" opacity="0.75"/>
<rect x="40" y="700.2" width="6.0" height="1.1" fill="#8a8078" opacity="0.75"/>
<rect x="40" y="704.1" width="8.5" height="1.1" fill="#8a8078" opacity="0.75"/>
<rect x="40" y="708.0" width="6.0" height="1.1" fill="#8a8078" opacity="0.75"/>
<rect x="40" y="711.9" width="8.5" height="1.1" fill="#8a8078" opacity="0.75"/>
<rect x="40" y="715.8" width="6.0" height="1.1" fill="#8a8078" opacity="0.75"/>
<rect x="40" y="719.7" width="8.5" height="1.1" fill="#8a8078" opacity="0.75"/>
<rect x="40" y="723.6" width="6.0" height="1.1" fill="#8a8078" opacity="0.75"/>
<rect x="40" y="727.5" width="8.5" height="1.1" fill="#8a8078" opacity="0.75"/>
<rect x="40" y="731.4" width="6.0" height="1.1" fill="#8a8078" opacity="0.75"/>
<rect x="40" y="735.3" width="8.5" height="1.1" fill="#8a8078" opacity="0.75"/>
<rect x="40" y="739.2" width="6.0" height="1.1" fill="#8a8078" opacity="0.75"/>
<rect x="40" y="743.1" width="8.5" height="1.1" fill="#8a8078" opacity="0.75"/>
<rect x="40" y="747.0" width="6.0" height="1.1" fill="#8a8078" opacity="0.75"/>
<rect x="40" y="750.9" width="8.5" height="1.1" fill="#8a8078" opacity="0.75"/>
<rect x="40" y="754.8" width="6.0" height="1.1" fill="#8a8078" opacity="0.75"/>
<rect x="40" y="758.7" width="8.5" height="1.1" fill="#8a8078" opacity="0.75"/>
<rect x="40" y="762.6" width="6.0" height="1.1" fill="#8a8078" opacity="0.75"/>
<rect x="40" y="766.5" width="8.5" height="1.1" fill="#8a8078" opacity="0.75"/>
<rect x="40" y="770.4" width="6.0" height="1.1" fill="#8a8078" opacity="0.75"/>
<rect x="40" y="774.3" width="8.5" height="1.1" fill="#8a8078" opacity="0.75"/>
<rect x="40" y="778.2" width="6.0" height="1.1" fill="#8a8078" opacity="0.75"/>
<rect x="40" y="782.1" width="8.5" height="1.1" fill="#8a8078" opacity="0.75"/>
<rect x="40" y="786.0" width="6.0" height="1.1" fill="#8a8078" opacity="0.75"/>
<rect x="40" y="789.9" width="8.5" height="1.1" fill="#8a8078" opacity="0.75"/>
<rect x="40" y="793.8" width="6.0" height="1.1" fill="#8a8078" opacity="0.75"/>
<rect x="40" y="797.7" width="8.5" height="1.1" fill="#8a8078" opacity="0.75"/>
<rect x="40" y="801.6" width="6.0" height="1.1" fill="#8a8078" opacity="0.75"/>
<rect x="40" y="805.5" width="8.5" height="1.1" fill="#8a8078" opacity="0.75"/>
<rect x="54.6" y="554.5" width="1.3" height="81" fill="#1a1a1a"/>
<rect x="48.2" y="700.7" width="1.2" height="50.5" fill="#1a1a1a"/>
<rect x="268.4" y="535" width="179.2" height="133.6" fill="#e597b8"/>
<g clip-path="url(#cha)" fill="#5a1e5e" opacity="0.6"><circle cx="380.0" cy="634.1" r="0.95"/><circle cx="437.3" cy="633.9" r="1.01"/><circle cx="273.6" cy="597.2" r="1.02"/><circle cx="384.7" cy="655.4" r="0.61"/><circle cx="352.5" cy="567.9" r="0.82"/><circle cx="371.3" cy="536.8" r="0.66"/><circle cx="318.5" cy="657.4" r="0.93"/><circle cx="297.0" cy="641.5" r="0.62"/><circle cx="379.0" cy="551.9" r="0.55"/><circle cx="424.6" cy="563.0" r="0.66"/><circle cx="444.4" cy="651.6" r="0.69"/><circle cx="440.7" cy="607.0" r="0.89"/><circle cx="305.1" cy="660.7" r="0.90"/><circle cx="441.6" cy="654.4" r="0.70"/><circle cx="333.1" cy="557.2" r="0.62"/><circle cx="280.1" cy="575.3" r="0.55"/><circle cx="389.9" cy="580.1" r="0.70"/><circle cx="415.1" cy="599.2" r="0.71"/><circle cx="354.6" cy="629.1" r="0.58"/><circle cx="443.1" cy="538.1" r="0.92"/><circle cx="419.8" cy="537.4" r="0.94"/><circle cx="334.0" cy="612.3" r="0.55"/><circle cx="276.8" cy="559.2" r="0.65"/><circle cx="403.8" cy="659.2" r="1.02"/><circle cx="330.1" cy="582.4" r="0.81"/><circle cx="407.4" cy="549.4" r="0.92"/><circle cx="411.3" cy="649.9" r="0.57"/><circle cx="437.9" cy="547.2" r="0.72"/><circle cx="377.9" cy="657.7" r="0.72"/><circle cx="434.0" cy="607.8" r="0.71"/><circle cx="325.2" cy="558.7" r="0.62"/><circle cx="391.9" cy="668.2" r="0.63"/><circle cx="277.1" cy="666.8" r="0.82"/><circle cx="341.1" cy="566.7" r="0.85"/><circle cx="416.5" cy="595.9" r="0.76"/><circle cx="278.4" cy="657.4" r="0.57"/><circle cx="356.8" cy="647.0" r="0.62"/><circle cx="399.5" cy="661.9" r="0.87"/><circle cx="409.6" cy="549.2" r="0.77"/><circle cx="295.1" cy="647.9" r="0.70"/><circle cx="349.6" cy="668.5" r="0.98"/><circle cx="443.3" cy="595.6" r="0.79"/><circle cx="399.1" cy="599.0" r="0.70"/><circle cx="340.8" cy="554.6" r="0.74"/><circle cx="445.5" cy="663.2" r="0.86"/><circle cx="357.9" cy="580.2" r="0.59"/><circle cx="317.2" cy="639.5" r="0.98"/><circle cx="333.1" cy="640.0" r="0.94"/><circle cx="392.9" cy="623.7" r="0.93"/><circle cx="333.5" cy="629.1" r="0.69"/><circle cx="355.4" cy="637.8" r="0.90"/><circle cx="321.1" cy="661.3" r="0.87"/><circle cx="372.5" cy="536.5" r="0.82"/><circle cx="313.3" cy="624.7" r="0.78"/><circle cx="414.7" cy="621.5" r="0.95"/><circle cx="330.7" cy="621.0" r="0.92"/><circle cx="416.8" cy="581.8" r="0.97"/><circle cx="424.3" cy="627.0" r="1.04"/><circle cx="439.8" cy="604.2" r="0.81"/><circle cx="298.2" cy="646.8" r="1.02"/><circle cx="353.9" cy="627.4" r="0.91"/><circle cx="399.3" cy="558.0" r="0.94"/><circle cx="372.5" cy="623.9" r="0.76"/><circle cx="380.2" cy="638.5" r="0.87"/><circle cx="397.5" cy="538.7" r="0.63"/><circle cx="347.4" cy="621.9" r="0.66"/><circle cx="391.3" cy="619.3" r="0.57"/><circle cx="352.9" cy="565.2" r="0.58"/><circle cx="292.3" cy="577.4" r="0.65"/><circle cx="274.8" cy="597.2" r="0.74"/><circle cx="378.0" cy="613.8" r="0.67"/><circle cx="430.3" cy="535.1" r="0.75"/><circle cx="318.3" cy="589.8" r="0.61"/><circle cx="417.4" cy="585.0" r="0.57"/><circle cx="378.4" cy="547.7" r="0.82"/><circle cx="329.2" cy="612.6" r="1.03"/><circle cx="415.1" cy="591.0" r="0.96"/><circle cx="383.5" cy="584.4" r="0.62"/><circle cx="375.2" cy="610.3" r="1.03"/><circle cx="441.9" cy="616.3" r="0.73"/><circle cx="428.5" cy="535.1" r="0.60"/><circle cx="369.8" cy="617.2" r="0.62"/><circle cx="381.2" cy="654.1" r="0.74"/><circle cx="345.8" cy="565.2" r="0.70"/><circle cx="442.7" cy="585.7" r="1.03"/><circle cx="432.1" cy="614.6" r="0.68"/><circle cx="444.2" cy="601.3" r="0.76"/><circle cx="325.6" cy="666.5" r="0.80"/><circle cx="319.7" cy="598.7" r="0.61"/><circle cx="379.8" cy="594.2" r="0.70"/><circle cx="408.5" cy="645.5" r="0.56"/><circle cx="363.8" cy="571.6" r="1.02"/><circle cx="408.5" cy="567.8" r="0.68"/><circle cx="296.1" cy="667.1" r="0.70"/><circle cx="377.4" cy="598.4" r="0.87"/><circle cx="376.6" cy="634.3" r="0.61"/><circle cx="404.7" cy="575.2" r="0.82"/><circle cx="328.6" cy="574.7" r="0.78"/><circle cx="333.1" cy="634.5" r="0.85"/><circle cx="274.9" cy="568.7" r="1.01"/><circle cx="427.5" cy="607.9" r="0.56"/><circle cx="407.9" cy="592.1" r="0.84"/><circle cx="395.3" cy="619.5" r="0.79"/><circle cx="431.8" cy="586.5" r="0.75"/><circle cx="421.1" cy="561.2" r="0.70"/><circle cx="417.1" cy="543.8" r="0.97"/><circle cx="392.9" cy="592.8" r="0.69"/><circle cx="408.3" cy="656.7" r="0.62"/><circle cx="354.1" cy="608.4" r="0.80"/><circle cx="327.7" cy="555.5" r="0.96"/><circle cx="280.7" cy="565.7" r="0.95"/><circle cx="387.3" cy="538.4" r="0.91"/><circle cx="443.8" cy="668.4" r="0.90"/><circle cx="277.2" cy="647.5" r="0.66"/><circle cx="384.1" cy="662.2" r="0.91"/><circle cx="292.5" cy="574.1" r="0.62"/><circle cx="377.8" cy="590.3" r="0.63"/><circle cx="379.9" cy="540.8" r="0.60"/><circle cx="336.4" cy="544.6" r="0.58"/><circle cx="371.5" cy="634.2" r="0.99"/><circle cx="292.5" cy="592.7" r="0.71"/><circle cx="376.0" cy="600.4" r="1.02"/><circle cx="335.5" cy="542.4" r="0.90"/><circle cx="295.5" cy="619.3" r="0.80"/><circle cx="431.5" cy="609.1" r="0.86"/><circle cx="315.6" cy="608.7" r="0.68"/><circle cx="402.9" cy="604.1" r="0.62"/><circle cx="310.4" cy="584.6" r="0.64"/><circle cx="396.2" cy="622.5" r="0.59"/><circle cx="388.1" cy="547.2" r="0.61"/><circle cx="374.8" cy="566.9" r="0.99"/><circle cx="354.5" cy="578.2" r="0.95"/><circle cx="273.7" cy="631.9" r="0.58"/><circle cx="295.4" cy="662.2" r="0.89"/><circle cx="308.4" cy="550.5" r="0.88"/><circle cx="415.5" cy="553.7" r="0.86"/><circle cx="331.9" cy="566.4" r="0.72"/><circle cx="378.4" cy="581.6" r="0.74"/><circle cx="292.8" cy="646.0" r="0.87"/><circle cx="412.6" cy="592.9" r="0.98"/><circle cx="361.1" cy="614.2" r="0.84"/><circle cx="401.0" cy="587.8" r="0.60"/><circle cx="274.3" cy="562.0" r="0.99"/><circle cx="354.6" cy="636.6" r="0.55"/><circle cx="352.7" cy="653.9" r="0.86"/><circle cx="345.2" cy="597.2" r="0.60"/><circle cx="296.1" cy="556.2" r="0.74"/><circle cx="426.2" cy="555.3" r="0.68"/><circle cx="318.1" cy="556.6" r="0.67"/><circle cx="354.8" cy="539.3" r="1.01"/><circle cx="334.5" cy="660.3" r="0.89"/><circle cx="389.1" cy="598.0" r="1.02"/><circle cx="289.5" cy="624.3" r="0.70"/><circle cx="389.3" cy="632.4" r="0.63"/><circle cx="304.4" cy="538.3" r="0.59"/><circle cx="340.3" cy="665.1" r="0.73"/><circle cx="324.3" cy="597.5" r="0.69"/><circle cx="399.6" cy="630.9" r="0.63"/><circle cx="311.5" cy="624.8" r="1.02"/><circle cx="384.1" cy="592.5" r="1.04"/><circle cx="269.5" cy="543.1" r="0.76"/><circle cx="276.5" cy="608.3" r="1.04"/><circle cx="361.4" cy="581.8" r="0.60"/><circle cx="281.2" cy="655.1" r="0.80"/><circle cx="436.1" cy="542.2" r="0.67"/><circle cx="277.4" cy="588.1" r="0.58"/><circle cx="314.2" cy="589.4" r="0.70"/><circle cx="277.6" cy="540.0" r="0.64"/><circle cx="359.5" cy="588.8" r="0.82"/><circle cx="283.5" cy="576.9" r="0.82"/><circle cx="433.5" cy="614.9" r="0.98"/><circle cx="306.8" cy="537.3" r="0.79"/><circle cx="370.8" cy="585.3" r="0.86"/><circle cx="398.4" cy="657.0" r="0.70"/><circle cx="348.9" cy="645.4" r="0.66"/><circle cx="289.1" cy="576.6" r="0.94"/><circle cx="415.2" cy="576.8" r="0.61"/><circle cx="283.1" cy="567.7" r="0.76"/><circle cx="371.8" cy="567.8" r="0.58"/><circle cx="393.9" cy="541.4" r="0.65"/><circle cx="319.7" cy="584.9" r="0.76"/><circle cx="324.7" cy="635.5" r="0.83"/><circle cx="429.0" cy="622.4" r="0.93"/><circle cx="371.4" cy="594.1" r="0.96"/><circle cx="385.9" cy="662.6" r="0.91"/><circle cx="394.1" cy="570.8" r="0.96"/><circle cx="336.9" cy="552.4" r="0.58"/><circle cx="298.7" cy="570.1" r="0.69"/><circle cx="279.8" cy="637.0" r="0.83"/><circle cx="273.3" cy="541.8" r="0.73"/><circle cx="422.5" cy="661.8" r="0.86"/><circle cx="309.8" cy="592.3" r="0.73"/><circle cx="327.6" cy="536.7" r="0.96"/><circle cx="398.6" cy="547.7" r="0.82"/><circle cx="299.1" cy="629.8" r="0.77"/><circle cx="436.6" cy="641.2" r="0.61"/><circle cx="325.2" cy="657.2" r="0.78"/><circle cx="346.2" cy="594.0" r="0.93"/><circle cx="436.2" cy="606.2" r="1.03"/><circle cx="375.2" cy="548.8" r="0.96"/><circle cx="343.6" cy="542.0" r="1.04"/><circle cx="274.3" cy="612.1" r="0.79"/><circle cx="426.4" cy="587.5" r="0.66"/><circle cx="318.0" cy="561.9" r="0.73"/><circle cx="403.0" cy="567.3" r="0.73"/><circle cx="312.9" cy="666.3" r="0.97"/><circle cx="420.7" cy="617.6" r="0.75"/><circle cx="294.0" cy="646.1" r="0.80"/><circle cx="275.2" cy="557.7" r="0.91"/><circle cx="429.7" cy="561.6" r="0.95"/><circle cx="326.5" cy="626.2" r="0.98"/><circle cx="380.1" cy="641.9" r="0.74"/><circle cx="270.2" cy="603.4" r="0.84"/><circle cx="301.5" cy="587.0" r="0.71"/><circle cx="273.2" cy="576.7" r="0.79"/><circle cx="394.4" cy="588.3" r="1.04"/><circle cx="414.5" cy="658.4" r="0.90"/><circle cx="388.5" cy="606.7" r="0.95"/><circle cx="333.4" cy="614.3" r="0.89"/><circle cx="362.0" cy="573.0" r="0.59"/><circle cx="284.0" cy="582.5" r="0.93"/><circle cx="396.4" cy="576.0" r="1.01"/><circle cx="317.6" cy="630.7" r="0.59"/><circle cx="403.4" cy="624.5" r="1.03"/><circle cx="429.2" cy="626.9" r="0.97"/><circle cx="400.8" cy="616.6" r="0.65"/><circle cx="361.0" cy="654.7" r="0.67"/><circle cx="443.1" cy="607.7" r="0.75"/><circle cx="268.9" cy="587.1" r="0.64"/><circle cx="385.4" cy="655.2" r="1.01"/><circle cx="378.3" cy="586.7" r="0.60"/><circle cx="391.8" cy="608.9" r="0.91"/><circle cx="335.4" cy="653.5" r="0.66"/><circle cx="323.2" cy="570.8" r="1.00"/><circle cx="298.4" cy="619.5" r="0.93"/><circle cx="308.7" cy="543.4" r="0.97"/><circle cx="425.8" cy="632.3" r="0.76"/><circle cx="344.6" cy="605.6" r="1.00"/><circle cx="322.6" cy="572.5" r="1.03"/><circle cx="302.0" cy="539.1" r="0.83"/><circle cx="376.5" cy="559.6" r="0.65"/><circle cx="374.9" cy="621.4" r="0.90"/><circle cx="399.0" cy="543.2" r="0.79"/><circle cx="418.0" cy="662.9" r="0.71"/><circle cx="420.8" cy="621.2" r="1.01"/><circle cx="309.4" cy="628.1" r="0.97"/><circle cx="353.8" cy="548.5" r="0.65"/><circle cx="296.5" cy="547.4" r="0.86"/><circle cx="287.2" cy="636.3" r="0.92"/><circle cx="414.7" cy="642.4" r="0.91"/><circle cx="434.0" cy="662.8" r="0.86"/><circle cx="441.3" cy="548.8" r="0.60"/><circle cx="280.0" cy="562.6" r="0.78"/><circle cx="390.3" cy="634.3" r="0.59"/><circle cx="340.7" cy="607.6" r="0.74"/><circle cx="289.5" cy="614.8" r="0.74"/><circle cx="390.9" cy="601.2" r="1.03"/><circle cx="437.7" cy="544.6" r="0.93"/><circle cx="397.6" cy="574.5" r="0.61"/><circle cx="354.2" cy="582.3" r="0.92"/><circle cx="433.0" cy="586.0" r="0.70"/><circle cx="357.8" cy="628.1" r="0.94"/><circle cx="371.6" cy="574.5" r="0.72"/><circle cx="420.4" cy="604.4" r="0.58"/><circle cx="343.8" cy="566.8" r="0.88"/><circle cx="281.5" cy="571.2" r="0.79"/><circle cx="444.8" cy="607.3" r="0.74"/><circle cx="435.8" cy="547.3" r="0.73"/><circle cx="413.7" cy="535.7" r="0.93"/><circle cx="333.1" cy="537.2" r="0.68"/><circle cx="350.5" cy="586.1" r="0.81"/><circle cx="277.9" cy="564.2" r="0.77"/><circle cx="353.0" cy="546.4" r="0.69"/><circle cx="439.5" cy="626.8" r="0.80"/><circle cx="277.9" cy="587.5" r="0.94"/><circle cx="346.3" cy="614.3" r="1.00"/><circle cx="384.0" cy="619.9" r="0.57"/><circle cx="272.7" cy="637.8" r="0.76"/><circle cx="425.1" cy="645.3" r="1.01"/><circle cx="336.2" cy="668.5" r="0.93"/><circle cx="428.2" cy="554.8" r="0.94"/><circle cx="344.0" cy="664.9" r="1.05"/><circle cx="307.2" cy="591.3" r="0.69"/><circle cx="352.6" cy="573.3" r="0.88"/><circle cx="290.5" cy="557.6" r="0.59"/><circle cx="336.7" cy="654.9" r="0.99"/><circle cx="303.6" cy="537.5" r="1.03"/><circle cx="375.7" cy="553.2" r="0.67"/><circle cx="433.3" cy="660.3" r="0.57"/><circle cx="301.5" cy="592.3" r="0.68"/><circle cx="403.5" cy="584.8" r="0.94"/><circle cx="295.6" cy="604.2" r="1.04"/><circle cx="394.2" cy="547.0" r="0.61"/><circle cx="383.7" cy="585.1" r="0.73"/><circle cx="354.0" cy="612.7" r="1.03"/><circle cx="311.6" cy="611.0" r="0.68"/><circle cx="366.1" cy="632.7" r="0.62"/><circle cx="354.6" cy="629.3" r="0.55"/><circle cx="406.6" cy="591.0" r="0.80"/><circle cx="377.8" cy="640.9" r="0.58"/><circle cx="358.1" cy="540.1" r="0.74"/><circle cx="330.4" cy="537.9" r="0.70"/><circle cx="349.0" cy="622.5" r="1.01"/><circle cx="334.8" cy="605.8" r="0.91"/><circle cx="436.4" cy="661.9" r="1.04"/><circle cx="322.5" cy="557.3" r="0.59"/><circle cx="348.8" cy="633.4" r="0.81"/><circle cx="338.1" cy="658.5" r="0.70"/><circle cx="367.3" cy="645.8" r="0.62"/><circle cx="331.3" cy="601.0" r="0.83"/><circle cx="305.6" cy="595.6" r="0.58"/><circle cx="284.2" cy="580.7" r="1.03"/><circle cx="315.6" cy="571.8" r="0.92"/><circle cx="315.4" cy="645.8" r="0.86"/><circle cx="338.0" cy="619.0" r="0.67"/><circle cx="315.6" cy="652.1" r="0.77"/><circle cx="429.2" cy="558.6" r="0.62"/><circle cx="277.7" cy="633.8" r="0.83"/><circle cx="270.1" cy="540.8" r="0.80"/><circle cx="424.5" cy="540.3" r="0.84"/><circle cx="289.4" cy="631.3" r="0.86"/><circle cx="378.1" cy="564.6" r="1.02"/><circle cx="288.3" cy="543.6" r="0.60"/><circle cx="280.4" cy="596.5" r="0.87"/><circle cx="428.3" cy="631.3" r="0.58"/><circle cx="383.6" cy="647.7" r="0.61"/><circle cx="403.6" cy="569.6" r="0.70"/><circle cx="268.7" cy="636.3" r="0.81"/><circle cx="430.0" cy="597.2" r="0.63"/><circle cx="307.2" cy="570.2" r="0.65"/><circle cx="284.2" cy="582.1" r="0.76"/><circle cx="379.8" cy="621.9" r="0.64"/><circle cx="293.3" cy="600.6" r="0.89"/><circle cx="348.5" cy="611.6" r="1.01"/><circle cx="294.4" cy="570.8" r="0.82"/><circle cx="429.7" cy="609.2" r="0.88"/><circle cx="343.6" cy="639.8" r="0.97"/><circle cx="321.0" cy="549.4" r="0.73"/><circle cx="427.8" cy="570.4" r="0.86"/><circle cx="383.2" cy="662.8" r="0.61"/><circle cx="406.4" cy="579.9" r="0.60"/><circle cx="381.7" cy="647.8" r="0.84"/><circle cx="277.3" cy="664.9" r="0.74"/><circle cx="382.4" cy="631.7" r="0.68"/><circle cx="341.6" cy="579.0" r="0.60"/><circle cx="279.9" cy="630.8" r="0.76"/><circle cx="424.2" cy="543.4" r="0.70"/><circle cx="300.7" cy="661.0" r="0.95"/><circle cx="429.0" cy="602.7" r="0.60"/><circle cx="343.0" cy="565.2" r="0.56"/><circle cx="369.6" cy="573.7" r="0.60"/><circle cx="360.1" cy="659.7" r="1.02"/><circle cx="351.9" cy="548.7" r="0.93"/><circle cx="289.0" cy="606.8" r="0.59"/><circle cx="445.3" cy="607.5" r="0.77"/><circle cx="317.2" cy="608.6" r="1.04"/><circle cx="345.1" cy="563.0" r="0.81"/><circle cx="432.9" cy="586.0" r="0.87"/><circle cx="433.0" cy="578.5" r="0.96"/><circle cx="363.2" cy="553.6" r="0.58"/><circle cx="436.7" cy="597.3" r="0.77"/><circle cx="432.8" cy="611.7" r="0.80"/><circle cx="319.3" cy="634.4" r="0.68"/><circle cx="352.7" cy="636.3" r="0.85"/><circle cx="292.4" cy="562.1" r="0.91"/><circle cx="286.8" cy="668.3" r="0.62"/><circle cx="298.5" cy="547.0" r="0.86"/><circle cx="422.0" cy="556.8" r="0.90"/><circle cx="287.3" cy="612.5" r="0.68"/><circle cx="332.2" cy="542.0" r="0.91"/><circle cx="290.3" cy="637.1" r="0.72"/><circle cx="374.4" cy="620.4" r="0.79"/><circle cx="425.0" cy="657.8" r="0.69"/><circle cx="328.2" cy="652.2" r="0.62"/><circle cx="343.7" cy="590.4" r="1.04"/><circle cx="291.4" cy="622.5" r="0.93"/><circle cx="398.9" cy="535.1" r="1.02"/><circle cx="324.4" cy="649.0" r="0.88"/><circle cx="343.8" cy="646.9" r="0.89"/><circle cx="329.3" cy="632.8" r="0.80"/><circle cx="395.9" cy="617.1" r="0.95"/><circle cx="296.9" cy="601.1" r="0.55"/><circle cx="410.1" cy="638.1" r="0.97"/><circle cx="276.1" cy="606.5" r="0.79"/><circle cx="289.8" cy="562.1" r="0.98"/><circle cx="311.1" cy="645.8" r="0.88"/><circle cx="337.4" cy="621.1" r="0.66"/><circle cx="317.5" cy="536.3" r="0.84"/><circle cx="401.6" cy="602.3" r="0.77"/><circle cx="323.3" cy="633.2" r="0.74"/><circle cx="375.3" cy="636.2" r="0.77"/><circle cx="391.4" cy="543.2" r="0.68"/><circle cx="419.0" cy="554.7" r="0.58"/><circle cx="271.0" cy="637.4" r="0.60"/><circle cx="350.5" cy="593.6" r="0.95"/><circle cx="353.8" cy="604.7" r="0.56"/><circle cx="410.9" cy="637.5" r="0.86"/><circle cx="418.0" cy="617.0" r="0.91"/><circle cx="420.9" cy="617.5" r="0.56"/><circle cx="426.9" cy="667.2" r="0.65"/><circle cx="280.2" cy="580.4" r="0.73"/><circle cx="284.4" cy="564.4" r="0.76"/><circle cx="322.2" cy="632.4" r="0.74"/><circle cx="298.2" cy="662.4" r="1.00"/><circle cx="391.9" cy="564.0" r="0.75"/><circle cx="349.2" cy="589.6" r="0.56"/><circle cx="350.1" cy="637.6" r="0.90"/><circle cx="422.6" cy="626.2" r="0.93"/><circle cx="424.4" cy="657.5" r="0.95"/><circle cx="343.0" cy="623.1" r="0.88"/><circle cx="426.6" cy="630.3" r="0.77"/><circle cx="302.6" cy="578.7" r="0.89"/><circle cx="406.3" cy="560.7" r="0.82"/><circle cx="419.0" cy="583.8" r="0.60"/><circle cx="376.9" cy="583.4" r="0.62"/><circle cx="320.0" cy="535.9" r="0.76"/><circle cx="287.2" cy="535.8" r="1.03"/><circle cx="417.9" cy="578.6" r="1.01"/><circle cx="282.7" cy="555.1" r="0.58"/><circle cx="376.2" cy="636.1" r="0.79"/><circle cx="412.4" cy="595.3" r="1.01"/><circle cx="377.4" cy="606.7" r="0.64"/><circle cx="344.8" cy="593.8" r="0.96"/><circle cx="309.5" cy="574.4" r="0.59"/><circle cx="364.6" cy="564.3" r="0.88"/><circle cx="374.9" cy="547.6" r="0.92"/><circle cx="341.4" cy="577.8" r="0.98"/><circle cx="408.0" cy="576.4" r="0.89"/><circle cx="290.5" cy="604.3" r="0.59"/><circle cx="383.2" cy="657.4" r="0.87"/><circle cx="275.7" cy="603.6" r="0.78"/><circle cx="347.8" cy="555.2" r="0.69"/><circle cx="349.0" cy="544.5" r="0.89"/><circle cx="312.0" cy="573.8" r="0.70"/><circle cx="435.3" cy="574.0" r="0.60"/><circle cx="330.4" cy="661.3" r="0.59"/><circle cx="329.8" cy="562.9" r="0.78"/><circle cx="286.0" cy="650.2" r="0.71"/><circle cx="391.3" cy="595.5" r="0.99"/><circle cx="278.8" cy="565.5" r="0.68"/><circle cx="415.7" cy="602.1" r="0.72"/><circle cx="359.2" cy="648.0" r="0.83"/><circle cx="349.3" cy="622.8" r="0.86"/><circle cx="341.1" cy="592.0" r="0.62"/><circle cx="347.1" cy="652.4" r="0.70"/><circle cx="333.8" cy="615.6" r="0.85"/><circle cx="299.8" cy="594.6" r="0.92"/><circle cx="275.8" cy="549.5" r="1.00"/><circle cx="280.5" cy="545.9" r="0.69"/><circle cx="386.0" cy="539.6" r="0.78"/><circle cx="297.4" cy="579.4" r="0.81"/><circle cx="421.3" cy="647.5" r="0.86"/><circle cx="420.3" cy="558.7" r="0.79"/><circle cx="325.7" cy="618.5" r="0.61"/><circle cx="427.0" cy="584.5" r="0.94"/><circle cx="437.4" cy="660.6" r="0.75"/><circle cx="422.0" cy="668.2" r="0.62"/><circle cx="402.3" cy="632.2" r="0.78"/><circle cx="318.2" cy="558.2" r="1.02"/><circle cx="340.4" cy="569.1" r="0.86"/><circle cx="346.8" cy="617.0" r="0.78"/><circle cx="319.7" cy="539.7" r="0.88"/><circle cx="312.1" cy="601.7" r="0.84"/><circle cx="358.6" cy="655.4" r="0.94"/><circle cx="323.3" cy="580.3" r="0.63"/><circle cx="435.8" cy="541.1" r="0.80"/><circle cx="317.4" cy="605.3" r="0.57"/><circle cx="308.6" cy="667.1" r="0.94"/><circle cx="308.0" cy="595.9" r="0.57"/><circle cx="290.3" cy="560.6" r="0.71"/><circle cx="312.8" cy="543.7" r="1.05"/><circle cx="401.0" cy="658.0" r="0.97"/><circle cx="408.7" cy="569.1" r="0.63"/><circle cx="316.8" cy="543.7" r="0.91"/><circle cx="356.4" cy="536.4" r="0.70"/><circle cx="420.6" cy="648.7" r="0.91"/><circle cx="399.5" cy="656.8" r="0.83"/><circle cx="337.1" cy="611.6" r="0.69"/><circle cx="274.9" cy="569.7" r="0.61"/><circle cx="282.8" cy="568.0" r="1.03"/><circle cx="355.7" cy="646.8" r="0.92"/><circle cx="374.6" cy="578.0" r="0.75"/><circle cx="325.2" cy="619.7" r="0.98"/><circle cx="410.1" cy="574.4" r="0.62"/><circle cx="270.0" cy="613.1" r="0.66"/><circle cx="269.4" cy="575.4" r="0.65"/><circle cx="387.5" cy="613.1" r="0.69"/><circle cx="399.3" cy="562.6" r="1.01"/><circle cx="289.7" cy="614.1" r="0.90"/><circle cx="399.7" cy="600.1" r="0.99"/><circle cx="381.1" cy="627.3" r="0.59"/><circle cx="301.9" cy="597.2" r="0.82"/><circle cx="285.5" cy="634.1" r="0.72"/><circle cx="353.5" cy="604.7" r="0.97"/><circle cx="322.5" cy="609.8" r="0.85"/><circle cx="385.8" cy="576.7" r="0.69"/><circle cx="352.7" cy="615.3" r="0.87"/><circle cx="292.4" cy="594.6" r="0.83"/><circle cx="303.3" cy="548.7" r="0.56"/><circle cx="357.8" cy="574.4" r="0.57"/><circle cx="316.8" cy="556.6" r="1.00"/><circle cx="282.6" cy="582.0" r="0.86"/><circle cx="272.1" cy="565.6" r="1.00"/><circle cx="347.6" cy="569.4" r="0.79"/><circle cx="355.3" cy="555.0" r="0.88"/><circle cx="397.6" cy="598.8" r="0.82"/><circle cx="406.5" cy="662.8" r="0.86"/><circle cx="276.3" cy="602.5" r="0.88"/><circle cx="327.7" cy="626.4" r="0.73"/><circle cx="378.9" cy="617.1" r="0.89"/><circle cx="434.2" cy="629.6" r="0.90"/><circle cx="394.6" cy="565.8" r="0.86"/><circle cx="379.6" cy="543.1" r="0.93"/><circle cx="309.0" cy="600.7" r="0.81"/><circle cx="397.8" cy="637.2" r="0.78"/><circle cx="436.8" cy="594.2" r="0.83"/><circle cx="446.1" cy="578.3" r="0.91"/><circle cx="439.8" cy="546.3" r="0.94"/><circle cx="385.2" cy="607.1" r="0.94"/><circle cx="422.5" cy="554.6" r="0.79"/><circle cx="378.7" cy="628.4" r="1.03"/><circle cx="412.3" cy="645.7" r="0.58"/><circle cx="344.8" cy="657.0" r="1.02"/><circle cx="403.9" cy="579.6" r="0.93"/><circle cx="363.7" cy="624.2" r="0.87"/><circle cx="423.5" cy="630.4" r="1.04"/><circle cx="356.8" cy="600.9" r="0.88"/><circle cx="369.1" cy="541.6" r="1.03"/><circle cx="325.5" cy="601.7" r="0.57"/><circle cx="302.5" cy="659.1" r="0.69"/><circle cx="321.9" cy="643.5" r="0.67"/><circle cx="388.0" cy="610.9" r="1.00"/><circle cx="353.8" cy="578.9" r="0.68"/><circle cx="333.6" cy="535.0" r="0.61"/><circle cx="295.1" cy="577.0" r="1.02"/><circle cx="331.9" cy="568.4" r="0.70"/><circle cx="381.1" cy="599.0" r="0.61"/><circle cx="362.3" cy="570.9" r="0.62"/><circle cx="409.1" cy="549.1" r="0.77"/><circle cx="405.7" cy="607.5" r="0.99"/><circle cx="325.2" cy="661.4" r="0.57"/><circle cx="428.8" cy="591.7" r="0.55"/><circle cx="314.9" cy="667.1" r="0.91"/><circle cx="400.5" cy="643.4" r="0.55"/><circle cx="323.4" cy="597.2" r="1.00"/><circle cx="431.1" cy="555.0" r="1.04"/><circle cx="367.7" cy="575.7" r="0.59"/><circle cx="344.9" cy="604.6" r="0.78"/><circle cx="324.0" cy="661.6" r="0.79"/><circle cx="323.5" cy="638.9" r="0.67"/><circle cx="344.2" cy="548.9" r="0.67"/><circle cx="447.1" cy="618.0" r="0.81"/><circle cx="389.1" cy="624.8" r="0.81"/><circle cx="334.1" cy="554.7" r="0.56"/><circle cx="290.1" cy="589.1" r="0.56"/><circle cx="389.3" cy="580.1" r="0.67"/><circle cx="324.6" cy="600.8" r="0.65"/><circle cx="421.1" cy="599.5" r="0.58"/><circle cx="283.7" cy="653.9" r="0.84"/><circle cx="320.6" cy="630.3" r="0.57"/><circle cx="427.7" cy="660.1" r="0.88"/><circle cx="277.4" cy="591.9" r="0.97"/><circle cx="374.7" cy="562.9" r="0.67"/><circle cx="279.8" cy="604.7" r="0.64"/><circle cx="348.2" cy="654.7" r="1.00"/><circle cx="356.5" cy="639.7" r="0.62"/><circle cx="438.2" cy="650.6" r="0.79"/><circle cx="427.2" cy="574.7" r="1.04"/><circle cx="326.3" cy="658.5" r="0.97"/><circle cx="435.9" cy="632.1" r="0.59"/><circle cx="318.5" cy="622.6" r="1.00"/><circle cx="390.4" cy="540.2" r="0.72"/><circle cx="330.2" cy="557.9" r="0.66"/><circle cx="360.9" cy="584.8" r="0.68"/><circle cx="342.2" cy="661.6" r="0.85"/><circle cx="403.1" cy="659.6" r="0.57"/><circle cx="426.2" cy="547.7" r="0.65"/><circle cx="400.9" cy="635.6" r="0.86"/><circle cx="353.7" cy="631.5" r="0.76"/><circle cx="303.2" cy="564.3" r="0.57"/><circle cx="439.0" cy="661.9" r="0.72"/><circle cx="342.3" cy="572.2" r="0.94"/><circle cx="356.6" cy="557.8" r="0.99"/><circle cx="434.8" cy="541.2" r="0.78"/><circle cx="308.0" cy="620.4" r="0.73"/><circle cx="321.8" cy="575.4" r="0.80"/><circle cx="355.8" cy="625.9" r="0.79"/><circle cx="438.1" cy="593.6" r="0.95"/><circle cx="435.2" cy="618.1" r="0.84"/><circle cx="409.9" cy="630.1" r="0.65"/><circle cx="343.1" cy="556.0" r="0.56"/><circle cx="391.6" cy="578.9" r="0.68"/><circle cx="273.1" cy="538.0" r="0.73"/><circle cx="346.5" cy="625.3" r="1.00"/><circle cx="394.0" cy="564.3" r="1.04"/><circle cx="301.3" cy="612.6" r="0.87"/><circle cx="319.9" cy="653.8" r="0.85"/><circle cx="395.6" cy="553.5" r="0.97"/><circle cx="319.9" cy="617.6" r="0.92"/><circle cx="326.1" cy="570.4" r="1.04"/><circle cx="386.2" cy="598.0" r="0.83"/><circle cx="385.9" cy="570.0" r="0.59"/><circle cx="288.0" cy="612.8" r="0.85"/><circle cx="443.7" cy="618.0" r="0.98"/><circle cx="445.2" cy="601.3" r="0.76"/><circle cx="352.8" cy="584.7" r="0.93"/><circle cx="371.5" cy="551.4" r="1.03"/><circle cx="362.7" cy="635.0" r="0.82"/><circle cx="373.9" cy="612.0" r="0.61"/><circle cx="291.8" cy="632.6" r="0.72"/><circle cx="291.5" cy="643.9" r="0.92"/><circle cx="405.3" cy="586.7" r="0.62"/><circle cx="404.5" cy="563.8" r="0.88"/><circle cx="393.2" cy="571.5" r="0.55"/><circle cx="374.2" cy="640.6" r="0.84"/><circle cx="444.8" cy="565.5" r="0.92"/><circle cx="346.4" cy="612.5" r="0.70"/><circle cx="309.7" cy="608.3" r="0.85"/><circle cx="431.4" cy="615.7" r="0.80"/><circle cx="385.0" cy="618.9" r="0.75"/><circle cx="316.2" cy="626.2" r="0.74"/><circle cx="275.1" cy="557.7" r="0.89"/><circle cx="386.0" cy="600.5" r="0.96"/><circle cx="326.9" cy="581.9" r="0.89"/><circle cx="344.7" cy="653.8" r="0.56"/><circle cx="364.5" cy="649.7" r="0.99"/><circle cx="303.0" cy="642.9" r="0.82"/><circle cx="436.0" cy="578.9" r="0.88"/><circle cx="383.4" cy="667.3" r="0.72"/><circle cx="338.2" cy="551.7" r="0.89"/><circle cx="281.0" cy="648.5" r="0.62"/><circle cx="302.6" cy="661.9" r="0.80"/><circle cx="403.7" cy="581.2" r="0.67"/><circle cx="334.4" cy="666.3" r="0.65"/><circle cx="430.6" cy="653.0" r="0.89"/><circle cx="316.0" cy="632.6" r="1.00"/><circle cx="374.6" cy="564.4" r="0.85"/><circle cx="439.8" cy="613.9" r="0.62"/><circle cx="304.7" cy="619.2" r="0.57"/><circle cx="268.6" cy="585.0" r="0.80"/><circle cx="281.6" cy="609.8" r="0.89"/><circle cx="325.2" cy="612.7" r="0.81"/><circle cx="409.8" cy="612.0" r="0.87"/><circle cx="369.4" cy="644.9" r="0.60"/><circle cx="288.8" cy="650.7" r="0.97"/><circle cx="269.8" cy="654.5" r="0.85"/><circle cx="421.8" cy="628.7" r="0.74"/><circle cx="288.8" cy="637.2" r="0.91"/><circle cx="352.7" cy="571.2" r="0.73"/><circle cx="436.1" cy="596.9" r="0.66"/><circle cx="445.1" cy="665.7" r="0.64"/><circle cx="303.7" cy="632.5" r="0.74"/><circle cx="353.3" cy="626.4" r="0.69"/><circle cx="374.9" cy="562.3" r="0.66"/><circle cx="366.2" cy="592.1" r="1.00"/><circle cx="294.1" cy="657.4" r="0.68"/><circle cx="329.8" cy="549.2" r="1.04"/><circle cx="333.3" cy="646.7" r="1.04"/><circle cx="393.0" cy="559.6" r="0.77"/><circle cx="298.3" cy="568.3" r="0.63"/><circle cx="390.2" cy="604.8" r="0.70"/><circle cx="314.0" cy="554.0" r="0.77"/><circle cx="281.8" cy="604.8" r="0.68"/><circle cx="406.8" cy="570.7" r="0.98"/><circle cx="437.8" cy="659.2" r="0.66"/><circle cx="434.9" cy="598.0" r="0.99"/><circle cx="351.6" cy="607.3" r="0.68"/><circle cx="404.1" cy="584.1" r="0.99"/><circle cx="395.2" cy="592.3" r="0.57"/><circle cx="316.5" cy="590.7" r="0.74"/><circle cx="372.8" cy="535.7" r="0.78"/><circle cx="428.3" cy="662.3" r="0.89"/><circle cx="391.4" cy="615.5" r="1.05"/><circle cx="410.0" cy="596.5" r="0.80"/><circle cx="436.8" cy="608.7" r="0.85"/><circle cx="323.5" cy="623.7" r="0.79"/><circle cx="437.5" cy="668.6" r="1.05"/><circle cx="438.8" cy="540.8" r="0.59"/><circle cx="329.2" cy="645.5" r="0.83"/><circle cx="314.4" cy="548.4" r="0.61"/><circle cx="294.1" cy="634.5" r="0.65"/><circle cx="298.3" cy="617.8" r="0.62"/><circle cx="417.7" cy="621.9" r="0.99"/><circle cx="398.5" cy="632.6" r="0.68"/><circle cx="344.2" cy="585.7" r="0.75"/><circle cx="431.9" cy="593.3" r="0.95"/><circle cx="381.4" cy="546.1" r="0.66"/><circle cx="371.9" cy="640.5" r="0.67"/><circle cx="313.2" cy="585.4" r="0.78"/><circle cx="343.7" cy="658.6" r="0.85"/><circle cx="318.2" cy="581.0" r="0.63"/><circle cx="338.6" cy="543.7" r="0.88"/><circle cx="423.8" cy="655.1" r="0.85"/><circle cx="337.3" cy="609.8" r="0.83"/><circle cx="300.0" cy="607.2" r="0.80"/><circle cx="303.8" cy="594.2" r="0.97"/><circle cx="383.3" cy="579.0" r="0.67"/><circle cx="381.3" cy="608.9" r="0.70"/><circle cx="352.8" cy="589.3" r="0.86"/><circle cx="425.8" cy="584.8" r="0.82"/><circle cx="369.1" cy="624.1" r="0.67"/><circle cx="312.6" cy="658.2" r="0.62"/><circle cx="390.4" cy="569.8" r="0.80"/><circle cx="349.3" cy="566.9" r="0.64"/><circle cx="440.0" cy="540.2" r="0.62"/><circle cx="400.8" cy="584.6" r="0.65"/><circle cx="407.5" cy="666.1" r="0.65"/><circle cx="395.1" cy="588.0" r="1.05"/><circle cx="375.3" cy="654.6" r="0.88"/><circle cx="292.0" cy="594.0" r="0.90"/><circle cx="295.8" cy="546.8" r="1.01"/><circle cx="385.0" cy="543.5" r="0.90"/><circle cx="445.6" cy="639.5" r="0.91"/><circle cx="347.2" cy="619.5" r="1.01"/><circle cx="357.9" cy="545.0" r="0.62"/><circle cx="439.1" cy="629.8" r="1.02"/><circle cx="294.9" cy="549.1" r="0.76"/><circle cx="351.4" cy="566.1" r="0.93"/><circle cx="408.4" cy="632.0" r="0.76"/><circle cx="356.4" cy="587.8" r="0.78"/><circle cx="326.8" cy="597.7" r="1.03"/><circle cx="412.0" cy="553.1" r="0.89"/><circle cx="415.3" cy="581.1" r="0.99"/><circle cx="436.9" cy="544.4" r="0.86"/><circle cx="336.6" cy="597.3" r="0.82"/><circle cx="422.4" cy="619.3" r="0.99"/><circle cx="313.0" cy="641.5" r="0.75"/><circle cx="301.1" cy="642.3" r="0.84"/><circle cx="308.8" cy="654.4" r="0.80"/><circle cx="389.2" cy="666.6" r="0.71"/><circle cx="365.8" cy="608.0" r="0.69"/><circle cx="364.1" cy="664.1" r="0.90"/><circle cx="316.0" cy="626.3" r="0.86"/><circle cx="334.5" cy="624.7" r="0.74"/><circle cx="408.4" cy="586.8" r="0.96"/><circle cx="321.7" cy="557.9" r="0.61"/><circle cx="425.2" cy="668.0" r="0.76"/><circle cx="311.4" cy="652.8" r="0.98"/><circle cx="312.2" cy="575.8" r="0.62"/><circle cx="306.2" cy="588.1" r="0.61"/><circle cx="294.3" cy="615.8" r="0.70"/><circle cx="432.4" cy="663.4" r="0.89"/><circle cx="317.7" cy="636.5" r="0.72"/><circle cx="424.3" cy="591.6" r="0.90"/><circle cx="403.0" cy="628.9" r="0.93"/><circle cx="329.7" cy="555.3" r="1.03"/><circle cx="275.0" cy="572.7" r="0.77"/><circle cx="424.4" cy="558.0" r="0.60"/><circle cx="271.6" cy="580.4" r="0.78"/><circle cx="384.2" cy="603.5" r="0.73"/><circle cx="294.5" cy="539.0" r="1.08"/><circle cx="314.0" cy="541.7" r="0.70"/><circle cx="317.0" cy="561.4" r="0.97"/><circle cx="315.1" cy="544.0" r="1.01"/><circle cx="282.1" cy="543.6" r="0.97"/><circle cx="318.9" cy="551.5" r="0.79"/><circle cx="314.1" cy="551.1" r="0.82"/><circle cx="329.5" cy="543.2" r="1.07"/><circle cx="323.2" cy="584.8" r="0.72"/><circle cx="281.9" cy="558.0" r="0.69"/><circle cx="325.5" cy="564.4" r="1.02"/><circle cx="299.5" cy="560.9" r="1.08"/><circle cx="277.5" cy="547.8" r="1.03"/><circle cx="305.3" cy="574.5" r="1.10"/><circle cx="316.3" cy="566.3" r="0.98"/><circle cx="301.9" cy="547.5" r="0.76"/><circle cx="325.5" cy="562.3" r="0.62"/><circle cx="308.5" cy="584.7" r="0.91"/><circle cx="299.5" cy="558.9" r="0.92"/><circle cx="306.9" cy="560.4" r="1.05"/><circle cx="323.2" cy="574.5" r="0.96"/><circle cx="313.1" cy="546.5" r="0.85"/><circle cx="286.0" cy="546.8" r="1.08"/><circle cx="283.9" cy="576.1" r="1.02"/><circle cx="294.3" cy="538.2" r="0.69"/><circle cx="308.7" cy="571.0" r="0.78"/><circle cx="306.0" cy="544.8" r="0.93"/><circle cx="316.9" cy="574.6" r="0.88"/><circle cx="304.4" cy="537.1" r="0.73"/><circle cx="294.4" cy="540.5" r="0.64"/><circle cx="327.4" cy="569.8" r="0.88"/><circle cx="311.4" cy="578.7" r="0.92"/><circle cx="295.6" cy="555.8" r="1.09"/><circle cx="327.2" cy="544.3" r="1.01"/><circle cx="308.6" cy="553.5" r="0.95"/><circle cx="286.5" cy="572.8" r="0.88"/><circle cx="305.1" cy="539.7" r="1.05"/><circle cx="327.4" cy="573.5" r="0.75"/><circle cx="313.4" cy="542.6" r="0.87"/><circle cx="290.7" cy="559.6" r="0.74"/><circle cx="274.2" cy="557.9" r="0.72"/><circle cx="280.5" cy="552.9" r="0.66"/><circle cx="271.3" cy="583.7" r="0.63"/><circle cx="323.6" cy="557.1" r="0.66"/><circle cx="295.7" cy="561.3" r="0.63"/><circle cx="302.6" cy="537.4" r="0.75"/><circle cx="312.7" cy="577.5" r="0.69"/><circle cx="294.4" cy="582.5" r="0.76"/><circle cx="277.1" cy="548.8" r="1.03"/><circle cx="290.7" cy="568.9" r="1.07"/><circle cx="307.3" cy="546.5" r="0.84"/><circle cx="289.5" cy="560.0" r="0.91"/><circle cx="328.6" cy="570.1" r="0.85"/><circle cx="318.7" cy="561.3" r="0.70"/><circle cx="310.2" cy="550.0" r="0.71"/><circle cx="293.3" cy="560.3" r="0.62"/><circle cx="291.6" cy="583.1" r="0.85"/><circle cx="292.1" cy="558.9" r="0.95"/><circle cx="300.2" cy="556.4" r="0.89"/><circle cx="286.5" cy="569.8" r="0.81"/><circle cx="312.3" cy="553.7" r="0.92"/><circle cx="281.8" cy="560.3" r="0.85"/><circle cx="270.9" cy="543.1" r="0.83"/><circle cx="315.9" cy="576.0" r="1.02"/><circle cx="318.4" cy="583.4" r="0.70"/><circle cx="279.1" cy="543.7" r="1.00"/><circle cx="281.4" cy="552.2" r="0.67"/><circle cx="324.5" cy="547.1" r="0.72"/><circle cx="305.7" cy="570.8" r="0.62"/><circle cx="304.8" cy="562.4" r="0.88"/><circle cx="300.9" cy="575.3" r="1.01"/><circle cx="321.7" cy="552.9" r="0.62"/><circle cx="298.2" cy="538.3" r="0.92"/><circle cx="298.8" cy="572.8" r="1.02"/><circle cx="314.0" cy="570.3" r="0.77"/><circle cx="313.6" cy="567.7" r="0.71"/><circle cx="322.1" cy="559.7" r="0.87"/><circle cx="281.9" cy="576.9" r="0.84"/><circle cx="314.5" cy="577.4" r="0.86"/><circle cx="305.1" cy="559.2" r="0.72"/><circle cx="317.9" cy="581.2" r="0.62"/><circle cx="272.0" cy="559.6" r="0.64"/><circle cx="296.3" cy="553.4" r="0.72"/><circle cx="316.5" cy="564.9" r="1.06"/><circle cx="281.7" cy="555.3" r="0.91"/><circle cx="316.4" cy="557.5" r="0.69"/><circle cx="293.1" cy="564.3" r="1.08"/><circle cx="309.1" cy="577.5" r="1.02"/><circle cx="295.7" cy="561.3" r="1.02"/><circle cx="313.4" cy="556.2" r="0.69"/><circle cx="313.9" cy="551.0" r="0.73"/><circle cx="285.1" cy="570.0" r="0.92"/><circle cx="326.2" cy="565.3" r="0.84"/><circle cx="323.1" cy="543.7" r="0.89"/><circle cx="329.2" cy="553.0" r="0.68"/><circle cx="276.8" cy="538.3" r="0.97"/><circle cx="294.7" cy="576.4" r="1.02"/><circle cx="271.6" cy="551.7" r="0.73"/><circle cx="285.8" cy="538.4" r="0.73"/><circle cx="290.4" cy="558.7" r="0.87"/><circle cx="329.1" cy="542.2" r="0.67"/><circle cx="324.2" cy="550.8" r="0.87"/><circle cx="288.3" cy="580.0" r="1.07"/><circle cx="304.2" cy="541.5" r="0.79"/><circle cx="312.2" cy="564.2" r="0.74"/><circle cx="293.8" cy="540.0" r="0.80"/><circle cx="319.5" cy="555.6" r="0.83"/><circle cx="280.1" cy="571.2" r="0.81"/><circle cx="293.1" cy="574.1" r="0.75"/><circle cx="274.7" cy="567.8" r="0.97"/><circle cx="273.2" cy="553.6" r="1.04"/><circle cx="300.5" cy="556.5" r="0.67"/><circle cx="287.3" cy="565.2" r="1.06"/><circle cx="309.7" cy="583.5" r="0.80"/><circle cx="274.1" cy="553.4" r="0.78"/><circle cx="273.4" cy="540.9" r="1.06"/><circle cx="323.7" cy="543.4" r="0.64"/><circle cx="328.8" cy="545.0" r="0.75"/><circle cx="283.5" cy="547.0" r="0.62"/><circle cx="297.7" cy="574.2" r="0.64"/><circle cx="299.5" cy="543.3" r="0.99"/><circle cx="324.3" cy="579.0" r="0.87"/><circle cx="278.5" cy="571.4" r="0.63"/><circle cx="316.5" cy="551.4" r="1.05"/><circle cx="287.1" cy="572.5" r="0.85"/><circle cx="284.4" cy="560.6" r="0.82"/><circle cx="279.3" cy="563.2" r="0.87"/><circle cx="312.0" cy="553.3" r="0.91"/><circle cx="281.9" cy="562.1" r="0.72"/><circle cx="317.1" cy="546.2" r="0.75"/><circle cx="274.2" cy="551.4" r="0.87"/><circle cx="283.7" cy="542.8" r="1.05"/><circle cx="288.6" cy="547.4" r="0.80"/><circle cx="320.5" cy="572.8" r="1.05"/><circle cx="302.7" cy="553.1" r="0.85"/><circle cx="273.5" cy="569.8" r="1.02"/><circle cx="324.9" cy="576.9" r="0.92"/><circle cx="318.2" cy="551.0" r="0.88"/><circle cx="279.8" cy="581.9" r="0.86"/><circle cx="280.6" cy="584.2" r="0.91"/><circle cx="282.7" cy="577.6" r="0.91"/><circle cx="307.3" cy="579.1" r="0.76"/><circle cx="286.7" cy="564.4" r="0.70"/><circle cx="311.9" cy="559.9" r="0.70"/><circle cx="277.5" cy="544.8" r="0.89"/><circle cx="324.9" cy="575.3" r="1.02"/><circle cx="304.0" cy="575.5" r="0.77"/><circle cx="292.1" cy="580.4" r="0.73"/><circle cx="307.4" cy="564.2" r="0.63"/><circle cx="304.0" cy="575.3" r="1.04"/><circle cx="295.1" cy="580.1" r="0.62"/><circle cx="324.4" cy="569.7" r="1.01"/><circle cx="296.9" cy="565.2" r="1.01"/><circle cx="283.4" cy="545.8" r="0.98"/><circle cx="322.6" cy="547.9" r="0.87"/><circle cx="300.5" cy="551.9" r="1.02"/><circle cx="287.0" cy="574.4" r="0.81"/><circle cx="278.8" cy="583.2" r="0.67"/><circle cx="276.1" cy="538.4" r="0.78"/><circle cx="271.6" cy="544.4" r="1.07"/><circle cx="285.3" cy="571.3" r="0.71"/><circle cx="270.8" cy="537.3" r="0.66"/><circle cx="327.2" cy="558.9" r="0.72"/><circle cx="272.8" cy="567.8" r="0.76"/><circle cx="280.8" cy="558.0" r="0.96"/><circle cx="290.5" cy="563.9" r="0.69"/><circle cx="303.5" cy="539.0" r="1.06"/><circle cx="325.7" cy="564.6" r="0.84"/><circle cx="293.8" cy="572.9" r="0.89"/><circle cx="312.6" cy="558.3" r="0.80"/><circle cx="313.4" cy="545.7" r="0.77"/><circle cx="284.4" cy="546.9" r="1.03"/><circle cx="288.7" cy="572.4" r="0.62"/><circle cx="325.5" cy="559.5" r="0.97"/><circle cx="276.4" cy="566.0" r="1.01"/><circle cx="287.3" cy="541.5" r="0.79"/><circle cx="316.2" cy="573.6" r="0.63"/><circle cx="289.5" cy="580.9" r="0.74"/><circle cx="275.2" cy="578.7" r="1.01"/><circle cx="296.7" cy="570.4" r="0.98"/><circle cx="320.2" cy="546.1" r="0.97"/><circle cx="325.4" cy="574.9" r="0.86"/><circle cx="293.6" cy="584.0" r="1.10"/><circle cx="318.3" cy="561.3" r="1.05"/><circle cx="322.5" cy="561.2" r="0.67"/><circle cx="306.7" cy="543.5" r="0.77"/><circle cx="304.1" cy="561.1" r="0.92"/><circle cx="319.2" cy="582.5" r="0.76"/><circle cx="327.2" cy="552.5" r="0.77"/><circle cx="315.4" cy="583.8" r="0.85"/><circle cx="317.7" cy="576.6" r="0.76"/><circle cx="307.0" cy="582.0" r="0.61"/><circle cx="277.4" cy="578.9" r="0.88"/><circle cx="295.2" cy="575.1" r="0.82"/><circle cx="278.3" cy="553.8" r="0.98"/><circle cx="308.5" cy="560.8" r="0.61"/><circle cx="329.8" cy="540.8" r="0.74"/><circle cx="317.4" cy="582.0" r="0.94"/><circle cx="292.9" cy="572.8" r="0.93"/><circle cx="304.7" cy="574.7" r="0.88"/><circle cx="302.3" cy="549.4" r="0.99"/><circle cx="276.4" cy="541.6" r="0.91"/><circle cx="272.8" cy="579.0" r="0.70"/><circle cx="298.0" cy="549.5" r="0.84"/><circle cx="307.0" cy="546.4" r="0.87"/><circle cx="328.4" cy="544.2" r="0.71"/><circle cx="281.7" cy="542.1" r="0.61"/><circle cx="327.5" cy="583.2" r="0.62"/><circle cx="320.0" cy="564.8" r="0.70"/><circle cx="323.0" cy="542.6" r="0.92"/><circle cx="310.3" cy="570.5" r="0.72"/><circle cx="279.0" cy="567.3" r="0.75"/><circle cx="306.3" cy="572.5" r="0.62"/><circle cx="313.5" cy="584.0" r="0.80"/><circle cx="304.5" cy="552.8" r="1.04"/><circle cx="283.3" cy="541.8" r="0.85"/><circle cx="296.7" cy="564.4" r="0.70"/><circle cx="325.7" cy="562.7" r="0.79"/><circle cx="314.8" cy="538.8" r="1.06"/><circle cx="320.1" cy="549.3" r="0.83"/><circle cx="272.3" cy="575.1" r="1.09"/><circle cx="305.8" cy="584.0" r="0.84"/><circle cx="322.1" cy="577.5" r="1.06"/><circle cx="297.6" cy="561.4" r="0.62"/><circle cx="327.1" cy="541.2" r="0.89"/><circle cx="306.2" cy="545.4" r="0.78"/><circle cx="288.0" cy="537.4" r="0.80"/><circle cx="292.9" cy="571.5" r="0.95"/><circle cx="326.9" cy="578.8" r="0.73"/><circle cx="306.7" cy="570.3" r="0.99"/><circle cx="278.4" cy="553.0" r="0.91"/><circle cx="288.9" cy="581.0" r="0.81"/><circle cx="312.5" cy="540.3" r="1.05"/><circle cx="328.4" cy="583.3" r="0.77"/><circle cx="320.0" cy="584.2" r="0.65"/><circle cx="274.4" cy="568.9" r="1.09"/><circle cx="271.8" cy="577.2" r="0.93"/><circle cx="298.5" cy="543.8" r="0.85"/><circle cx="299.9" cy="546.7" r="1.05"/><circle cx="314.4" cy="545.0" r="0.91"/><circle cx="305.9" cy="582.0" r="1.09"/><circle cx="323.4" cy="539.6" r="0.81"/><circle cx="279.2" cy="573.0" r="0.64"/><circle cx="319.7" cy="566.6" r="0.92"/><circle cx="326.7" cy="578.7" r="0.97"/><circle cx="307.7" cy="563.2" r="0.86"/><circle cx="271.7" cy="546.4" r="0.94"/><circle cx="294.9" cy="558.6" r="1.02"/><circle cx="293.2" cy="571.9" r="1.00"/><circle cx="319.9" cy="548.3" r="0.90"/><circle cx="298.0" cy="565.2" r="0.64"/><circle cx="281.4" cy="548.8" r="0.99"/><circle cx="317.0" cy="555.4" r="0.90"/><circle cx="296.4" cy="562.8" r="0.73"/><circle cx="290.6" cy="583.0" r="1.04"/><circle cx="277.3" cy="542.7" r="1.03"/><circle cx="296.6" cy="567.7" r="0.90"/><circle cx="306.3" cy="580.5" r="0.68"/><circle cx="321.6" cy="549.5" r="0.64"/><circle cx="287.8" cy="561.7" r="1.00"/></g>
<g clip-path="url(#cha)"><g transform="translate(266,533) scale(0.26860)" filter="url(#fblur)">
<path d="M20,20 L100,10 L180,30 L230,80 L245,130 L220,170 L160,190 L120,180 L80,160 L50,130 L20,100 Z" fill="#c67cac" opacity="0.75"/>
<path d="M100,190 L160,195 L230,170 L245,200 L230,240 L170,250 L120,240 Z" fill="#f6e6ee"/>
<path d="M560,15 L680,15 L680,130 L640,120 L600,90 L570,60 Z" fill="#f8eef3"/>
<path d="M10,340 L80,330 L150,350 L220,380 L270,420 L290,480 L280,505 L10,505 Z" fill="#f4d8e4"/>
<path d="M265,240 L300,215 L350,205 L420,230 L470,250 L480,290 L450,300 L380,290 L330,270 L280,280 Z" fill="#f6e6ee" stroke="#74306e" stroke-width="9" stroke-linejoin="round" stroke-linecap="round"/>
<path d="M20,30 L60,20 L110,40 L150,30 L200,60 L240,110 L230,150 L200,180 L160,190 L130,170 L100,150 L70,140 L40,100 Z" fill="none" stroke="#6e2a6a" stroke-width="9" stroke-linejoin="round" stroke-linecap="round"/>
<path d="M60,60 L100,70 L130,100 L170,110 L200,140" fill="none" stroke="#6e2a6a" stroke-width="8" stroke-linejoin="round" stroke-linecap="round"/>
<path d="M40,110 L80,120 L110,140" fill="none" stroke="#7a3474" stroke-width="7" stroke-linejoin="round" stroke-linecap="round"/>
<path d="M120,50 L150,80 L190,90" fill="none" stroke="#7a3474" stroke-width="7" stroke-linejoin="round" stroke-linecap="round"/>
<path d="M230,15 L280,60 L320,90 L380,100 L430,130 L470,160 L530,170 L560,200" fill="none" stroke="#74306e" stroke-width="9" stroke-linejoin="round" stroke-linecap="round"/>
<path d="M290,20 L340,50 L380,80 L420,95" fill="none" stroke="#7a3474" stroke-width="7" stroke-linejoin="round" stroke-linecap="round"/>
<path d="M240,340 L300,345 L350,372 L420,402 L470,422 L520,462" fill="none" stroke="#6e2a6a" stroke-width="11" stroke-linejoin="round" stroke-linecap="round"/>
<path d="M230,368 L290,420 L340,460 L400,480 L440,485" fill="none" stroke="#74306e" stroke-width="9" stroke-linejoin="round" stroke-linecap="round"/>
<path d="M300,330 L380,350 L460,380 L520,400" fill="none" stroke="#f4e0ea" stroke-width="7" stroke-linejoin="round" stroke-linecap="round"/>
<path d="M330,420 L380,440 L430,450" fill="none" stroke="#f4e0ea" stroke-width="8" stroke-linejoin="round" stroke-linecap="round"/>
<path d="M540,180 L600,170 L660,200 L680,260 L640,300 L590,320 L540,300" fill="none" stroke="#7a3474" stroke-width="9" stroke-linejoin="round" stroke-linecap="round"/>
<path d="M600,230 L650,240 L670,300" fill="none" stroke="#f2e0ea" stroke-width="9" stroke-linejoin="round" stroke-linecap="round"/>
<path d="M540,310 L560,360 L560,420 L590,470 L640,440 L680,420" fill="none" stroke="#74306e" stroke-width="9" stroke-linejoin="round" stroke-linecap="round"/>
<path d="M580,400 L620,380 L660,390" fill="none" stroke="#f2e0ea" stroke-width="9" stroke-linejoin="round" stroke-linecap="round"/>
<path d="M120,300 L160,320 L180,350" fill="none" stroke="#8a4080" stroke-width="6" stroke-linejoin="round" stroke-linecap="round"/>
<path d="M460,200 L500,215" fill="none" stroke="#f4e4ec" stroke-width="10" stroke-linejoin="round" stroke-linecap="round"/>
<path d="M600,450 L650,480 L680,500" fill="none" stroke="#f4e4ec" stroke-width="14" stroke-linejoin="round" stroke-linecap="round"/>
<path d="M240,380 L270,420 L300,470 L340,500" fill="none" stroke="#f4e2ec" stroke-width="9" stroke-linejoin="round" stroke-linecap="round"/>
<path d="M300,310 L360,330 L420,350 L480,370 L520,390 L500,402 L440,387 L380,367 L320,342 Z" fill="#f6e8ef" stroke="#74306e" stroke-width="8" stroke-linejoin="round" stroke-linecap="round"/>
<path d="M320,420 L370,440 L420,455 L470,465 L520,480 L500,492 L440,480 L380,467 L330,447 Z" fill="#f6e8ef" stroke="#74306e" stroke-width="8" stroke-linejoin="round" stroke-linecap="round"/>
<path d="M570,340 L620,330 L650,360 L640,400 L600,420 L575,390 Z" fill="#f6e8ef" stroke="#74306e" stroke-width="8" stroke-linejoin="round" stroke-linecap="round"/>
<path d="M610,210 L660,215 L672,270 L640,285 L615,250 Z" fill="#f6e8ef" stroke="#74306e" stroke-width="8" stroke-linejoin="round" stroke-linecap="round"/>
<path d="M60,80 L100,70 L140,90 L120,110 L80,105 Z" fill="#f2dde8" stroke="#74306e" stroke-width="6" stroke-linejoin="round" stroke-linecap="round"/>
<path d="M140,120 L190,110 L210,140 L170,150 Z" fill="#f2dde8" stroke="#74306e" stroke-width="6" stroke-linejoin="round" stroke-linecap="round"/>
<path d="M30,230 L70,235 L95,262 L60,270 Z" fill="#f4e2ec" stroke="#8a4080" stroke-width="6" stroke-linejoin="round" stroke-linecap="round"/>
<path d="M380,20 L450,40 L520,60 L540,80 L480,75 L420,55 Z" fill="#f4e4ec" stroke="#74306e" stroke-width="7" stroke-linejoin="round" stroke-linecap="round"/>
</g></g>
<rect x="268.4" y="673.6" width="179.2" height="134.4" fill="#c889ae"/>
<g clip-path="url(#chd)" fill="#5a1e5e" opacity="0.65"><circle cx="372.4" cy="804.0" r="0.59"/><circle cx="336.4" cy="750.7" r="0.80"/><circle cx="393.2" cy="741.6" r="0.55"/><circle cx="408.5" cy="780.4" r="0.54"/><circle cx="414.1" cy="674.4" r="0.84"/><circle cx="380.0" cy="713.5" r="0.54"/><circle cx="314.6" cy="757.6" r="0.77"/><circle cx="414.2" cy="696.7" r="0.81"/><circle cx="322.8" cy="679.3" r="0.59"/><circle cx="288.3" cy="695.0" r="0.52"/><circle cx="443.3" cy="722.0" r="0.88"/><circle cx="344.0" cy="742.3" r="0.63"/><circle cx="437.7" cy="702.0" r="0.98"/><circle cx="408.1" cy="789.7" r="0.55"/><circle cx="445.2" cy="761.3" r="0.79"/><circle cx="370.1" cy="733.5" r="0.98"/><circle cx="444.2" cy="801.6" r="0.57"/><circle cx="363.4" cy="767.7" r="0.59"/><circle cx="428.0" cy="774.7" r="0.56"/><circle cx="321.6" cy="765.1" r="0.94"/><circle cx="447.3" cy="710.7" r="0.92"/><circle cx="373.5" cy="722.3" r="0.62"/><circle cx="287.3" cy="678.3" r="0.72"/><circle cx="290.1" cy="701.0" r="0.66"/><circle cx="292.7" cy="700.7" r="0.63"/><circle cx="443.2" cy="730.6" r="0.81"/><circle cx="365.3" cy="802.6" r="0.91"/><circle cx="434.4" cy="790.8" r="0.87"/><circle cx="425.4" cy="718.2" r="0.80"/><circle cx="327.7" cy="798.0" r="0.63"/><circle cx="447.5" cy="705.4" r="0.67"/><circle cx="401.5" cy="750.5" r="0.61"/><circle cx="291.2" cy="791.3" r="0.60"/><circle cx="359.8" cy="786.1" r="0.74"/><circle cx="353.9" cy="695.6" r="0.97"/><circle cx="376.2" cy="763.4" r="0.70"/><circle cx="395.9" cy="724.5" r="0.59"/><circle cx="332.2" cy="776.0" r="0.93"/><circle cx="360.5" cy="762.3" r="0.97"/><circle cx="384.9" cy="804.8" r="0.63"/><circle cx="424.7" cy="774.5" r="0.79"/><circle cx="374.6" cy="696.2" r="0.51"/><circle cx="274.0" cy="793.3" r="0.70"/><circle cx="376.2" cy="733.1" r="0.94"/><circle cx="400.5" cy="723.9" r="0.82"/><circle cx="306.8" cy="800.3" r="0.58"/><circle cx="431.8" cy="745.7" r="0.57"/><circle cx="444.7" cy="700.3" r="0.84"/><circle cx="315.0" cy="691.6" r="0.90"/><circle cx="427.9" cy="793.5" r="0.84"/><circle cx="383.5" cy="694.7" r="1.00"/><circle cx="327.1" cy="759.4" r="0.51"/><circle cx="325.1" cy="743.9" r="0.74"/><circle cx="342.5" cy="725.0" r="0.51"/><circle cx="384.2" cy="721.3" r="0.56"/><circle cx="334.4" cy="763.6" r="0.87"/><circle cx="342.9" cy="689.2" r="0.81"/><circle cx="375.9" cy="738.6" r="0.98"/><circle cx="334.0" cy="743.8" r="0.52"/><circle cx="292.2" cy="699.7" r="0.59"/><circle cx="299.7" cy="688.2" r="0.96"/><circle cx="373.6" cy="739.4" r="0.78"/><circle cx="319.1" cy="790.0" r="0.87"/><circle cx="344.9" cy="676.6" r="0.50"/><circle cx="274.7" cy="771.2" r="0.52"/><circle cx="349.0" cy="743.3" r="0.69"/><circle cx="321.7" cy="799.9" r="0.98"/><circle cx="403.7" cy="745.8" r="0.98"/><circle cx="394.2" cy="704.7" r="0.57"/><circle cx="294.5" cy="687.6" r="0.69"/><circle cx="377.3" cy="701.6" r="0.54"/><circle cx="328.8" cy="735.1" r="0.94"/><circle cx="428.1" cy="784.0" r="0.63"/><circle cx="415.9" cy="711.3" r="0.79"/><circle cx="364.2" cy="704.9" r="0.77"/><circle cx="315.6" cy="780.7" r="0.62"/><circle cx="408.5" cy="698.9" r="0.50"/><circle cx="347.1" cy="792.1" r="0.82"/><circle cx="313.6" cy="741.6" r="0.67"/><circle cx="387.1" cy="712.3" r="0.58"/><circle cx="447.4" cy="678.8" r="0.57"/><circle cx="325.6" cy="718.3" r="0.78"/><circle cx="357.1" cy="694.4" r="0.91"/><circle cx="395.5" cy="698.1" r="0.58"/><circle cx="288.5" cy="742.3" r="0.82"/><circle cx="397.4" cy="705.6" r="0.93"/><circle cx="430.0" cy="737.2" r="0.56"/><circle cx="299.5" cy="770.3" r="0.53"/><circle cx="380.3" cy="769.9" r="0.51"/><circle cx="294.8" cy="706.0" r="0.72"/><circle cx="420.8" cy="780.9" r="0.69"/><circle cx="270.5" cy="746.3" r="0.60"/><circle cx="320.2" cy="798.8" r="0.64"/><circle cx="339.1" cy="764.0" r="0.97"/><circle cx="279.4" cy="752.9" r="0.83"/><circle cx="291.0" cy="687.3" r="0.67"/><circle cx="329.1" cy="767.5" r="0.98"/><circle cx="387.1" cy="731.4" r="1.00"/><circle cx="435.8" cy="732.7" r="0.74"/><circle cx="361.1" cy="687.8" r="0.82"/><circle cx="396.1" cy="737.5" r="0.79"/><circle cx="431.2" cy="757.2" r="0.84"/><circle cx="426.7" cy="772.3" r="0.73"/><circle cx="439.9" cy="800.8" r="0.54"/><circle cx="447.6" cy="696.0" r="0.94"/><circle cx="383.5" cy="778.6" r="0.67"/><circle cx="319.7" cy="697.3" r="0.56"/><circle cx="288.8" cy="696.4" r="0.91"/><circle cx="364.8" cy="789.0" r="0.99"/><circle cx="347.2" cy="697.3" r="0.95"/><circle cx="288.6" cy="742.7" r="0.92"/><circle cx="290.7" cy="709.6" r="0.83"/><circle cx="285.8" cy="789.9" r="0.87"/><circle cx="367.8" cy="778.1" r="0.57"/><circle cx="420.2" cy="746.0" r="0.69"/><circle cx="414.3" cy="735.0" r="0.52"/><circle cx="393.6" cy="678.5" r="0.78"/><circle cx="307.4" cy="728.9" r="0.71"/><circle cx="393.6" cy="759.3" r="0.68"/><circle cx="309.5" cy="778.2" r="0.53"/><circle cx="373.0" cy="771.3" r="0.81"/><circle cx="273.1" cy="684.7" r="0.82"/><circle cx="409.3" cy="758.7" r="0.99"/><circle cx="393.9" cy="730.9" r="0.98"/><circle cx="311.0" cy="688.5" r="0.70"/><circle cx="273.4" cy="749.9" r="0.77"/><circle cx="302.2" cy="755.7" r="0.73"/><circle cx="393.7" cy="779.8" r="0.90"/><circle cx="390.9" cy="687.0" r="0.79"/><circle cx="387.9" cy="699.9" r="0.69"/><circle cx="361.8" cy="710.1" r="0.54"/><circle cx="319.6" cy="729.2" r="0.89"/><circle cx="445.1" cy="787.3" r="0.95"/><circle cx="444.6" cy="742.4" r="0.81"/><circle cx="273.6" cy="770.5" r="0.92"/><circle cx="330.3" cy="755.5" r="0.55"/><circle cx="436.4" cy="731.2" r="0.73"/><circle cx="308.1" cy="790.6" r="0.98"/><circle cx="342.3" cy="743.9" r="0.64"/><circle cx="394.4" cy="756.9" r="0.92"/><circle cx="271.6" cy="741.3" r="0.98"/><circle cx="272.8" cy="757.6" r="0.69"/><circle cx="289.1" cy="713.9" r="0.98"/><circle cx="306.8" cy="737.4" r="0.93"/><circle cx="288.0" cy="676.6" r="0.80"/><circle cx="380.1" cy="678.7" r="0.92"/><circle cx="405.9" cy="753.7" r="0.62"/><circle cx="433.9" cy="703.2" r="1.00"/><circle cx="367.2" cy="795.8" r="0.77"/><circle cx="377.0" cy="800.2" r="0.72"/><circle cx="324.5" cy="803.6" r="1.00"/><circle cx="291.3" cy="789.0" r="0.88"/><circle cx="306.1" cy="705.0" r="0.53"/><circle cx="418.4" cy="684.5" r="0.92"/><circle cx="410.9" cy="806.2" r="0.56"/><circle cx="413.6" cy="684.8" r="0.56"/><circle cx="420.0" cy="692.5" r="0.87"/><circle cx="445.2" cy="738.5" r="0.71"/><circle cx="428.8" cy="759.2" r="0.99"/><circle cx="392.3" cy="733.6" r="0.52"/><circle cx="428.3" cy="775.0" r="0.57"/><circle cx="392.2" cy="709.9" r="0.72"/><circle cx="296.8" cy="684.7" r="0.73"/><circle cx="396.4" cy="769.1" r="0.93"/><circle cx="431.9" cy="773.8" r="0.62"/><circle cx="407.2" cy="772.3" r="0.56"/><circle cx="271.0" cy="796.1" r="0.59"/><circle cx="424.5" cy="800.9" r="0.71"/><circle cx="363.0" cy="683.4" r="0.54"/><circle cx="420.8" cy="757.4" r="0.63"/><circle cx="302.8" cy="683.9" r="0.88"/><circle cx="317.2" cy="680.8" r="0.91"/><circle cx="324.7" cy="696.3" r="0.78"/><circle cx="334.2" cy="744.2" r="0.73"/><circle cx="365.4" cy="709.5" r="0.75"/><circle cx="439.7" cy="702.0" r="0.71"/><circle cx="351.2" cy="734.1" r="0.67"/><circle cx="380.9" cy="799.0" r="0.58"/><circle cx="348.5" cy="805.3" r="0.50"/><circle cx="392.6" cy="723.0" r="0.75"/><circle cx="398.6" cy="708.0" r="0.53"/><circle cx="383.0" cy="806.3" r="0.73"/><circle cx="436.0" cy="742.6" r="0.84"/><circle cx="386.9" cy="776.7" r="0.83"/><circle cx="391.3" cy="769.3" r="0.63"/><circle cx="426.6" cy="755.5" r="0.75"/><circle cx="381.6" cy="719.9" r="0.62"/><circle cx="432.3" cy="702.1" r="0.68"/><circle cx="374.4" cy="740.3" r="0.55"/><circle cx="317.2" cy="776.6" r="0.57"/><circle cx="354.7" cy="688.4" r="0.54"/><circle cx="443.7" cy="732.7" r="0.73"/><circle cx="281.5" cy="695.2" r="0.76"/><circle cx="435.1" cy="799.7" r="0.70"/><circle cx="360.2" cy="703.3" r="0.92"/><circle cx="293.2" cy="714.7" r="0.60"/><circle cx="400.9" cy="790.3" r="0.72"/><circle cx="327.6" cy="796.8" r="0.55"/><circle cx="405.5" cy="716.3" r="0.95"/><circle cx="314.4" cy="790.7" r="0.93"/><circle cx="324.5" cy="701.1" r="0.82"/><circle cx="282.0" cy="751.1" r="0.65"/><circle cx="388.0" cy="687.7" r="0.84"/><circle cx="316.3" cy="751.0" r="0.86"/><circle cx="298.3" cy="717.4" r="0.86"/><circle cx="391.8" cy="793.4" r="0.51"/><circle cx="338.2" cy="720.5" r="0.94"/><circle cx="357.9" cy="717.7" r="0.58"/><circle cx="348.0" cy="719.2" r="0.51"/><circle cx="381.2" cy="793.1" r="0.70"/><circle cx="349.2" cy="791.7" r="0.98"/><circle cx="440.5" cy="773.9" r="0.59"/><circle cx="333.3" cy="719.2" r="0.90"/><circle cx="409.3" cy="783.6" r="0.58"/><circle cx="309.0" cy="807.1" r="0.67"/><circle cx="374.9" cy="731.0" r="0.86"/><circle cx="269.3" cy="782.1" r="0.95"/><circle cx="392.9" cy="720.9" r="0.85"/><circle cx="306.2" cy="777.1" r="0.90"/><circle cx="374.8" cy="774.7" r="0.85"/><circle cx="406.2" cy="795.0" r="0.88"/><circle cx="431.6" cy="769.3" r="0.54"/><circle cx="304.3" cy="796.0" r="0.54"/><circle cx="424.0" cy="770.1" r="0.57"/><circle cx="427.2" cy="769.8" r="0.61"/><circle cx="330.0" cy="765.0" r="0.81"/><circle cx="372.8" cy="788.3" r="0.66"/><circle cx="421.8" cy="803.3" r="0.93"/><circle cx="346.7" cy="706.5" r="0.75"/><circle cx="339.6" cy="763.3" r="0.54"/><circle cx="320.9" cy="685.9" r="0.56"/><circle cx="324.1" cy="746.3" r="0.90"/><circle cx="335.5" cy="792.8" r="0.75"/><circle cx="440.0" cy="718.5" r="0.66"/><circle cx="297.3" cy="779.8" r="0.80"/><circle cx="438.6" cy="740.3" r="0.88"/><circle cx="297.9" cy="798.8" r="0.54"/><circle cx="302.3" cy="806.6" r="0.54"/><circle cx="440.1" cy="807.2" r="0.53"/><circle cx="343.6" cy="780.2" r="0.98"/><circle cx="365.3" cy="795.5" r="0.71"/><circle cx="402.1" cy="682.9" r="0.83"/><circle cx="306.1" cy="770.7" r="0.64"/><circle cx="273.4" cy="734.0" r="0.62"/><circle cx="359.1" cy="674.5" r="0.72"/><circle cx="307.9" cy="722.0" r="0.81"/><circle cx="400.9" cy="738.4" r="0.71"/><circle cx="319.8" cy="755.4" r="0.87"/><circle cx="311.3" cy="690.5" r="0.85"/><circle cx="316.3" cy="775.3" r="0.78"/><circle cx="285.0" cy="719.7" r="0.97"/><circle cx="417.8" cy="761.3" r="1.00"/><circle cx="446.3" cy="779.1" r="0.94"/><circle cx="358.0" cy="793.7" r="0.64"/><circle cx="437.4" cy="805.5" r="0.91"/><circle cx="440.4" cy="765.2" r="0.84"/><circle cx="288.4" cy="771.1" r="0.54"/><circle cx="429.7" cy="781.9" r="0.94"/><circle cx="401.0" cy="711.0" r="0.80"/><circle cx="356.1" cy="791.4" r="0.80"/><circle cx="341.9" cy="770.1" r="0.89"/><circle cx="382.3" cy="723.4" r="0.83"/><circle cx="370.6" cy="687.8" r="0.64"/><circle cx="294.6" cy="742.5" r="0.56"/><circle cx="405.3" cy="753.0" r="0.57"/><circle cx="394.4" cy="779.2" r="0.52"/><circle cx="399.9" cy="737.3" r="0.95"/><circle cx="432.7" cy="756.7" r="0.90"/><circle cx="301.9" cy="772.8" r="0.85"/><circle cx="402.5" cy="734.2" r="0.62"/><circle cx="336.4" cy="696.1" r="0.83"/><circle cx="390.0" cy="757.0" r="0.89"/><circle cx="319.9" cy="755.1" r="0.90"/><circle cx="381.3" cy="697.2" r="0.64"/><circle cx="324.1" cy="715.6" r="0.84"/><circle cx="336.0" cy="701.5" r="0.97"/><circle cx="372.4" cy="795.9" r="0.72"/><circle cx="289.6" cy="683.1" r="0.96"/><circle cx="273.2" cy="683.7" r="0.80"/><circle cx="341.8" cy="678.8" r="0.67"/><circle cx="373.6" cy="695.7" r="0.69"/><circle cx="312.3" cy="741.5" r="0.94"/><circle cx="374.0" cy="775.1" r="0.91"/><circle cx="270.8" cy="686.9" r="0.91"/><circle cx="356.5" cy="729.6" r="0.93"/><circle cx="313.7" cy="738.0" r="0.90"/><circle cx="395.4" cy="682.7" r="0.63"/><circle cx="422.8" cy="756.0" r="0.70"/><circle cx="429.2" cy="744.5" r="0.94"/><circle cx="317.2" cy="756.1" r="0.69"/><circle cx="269.0" cy="762.1" r="0.76"/><circle cx="326.7" cy="716.1" r="0.71"/><circle cx="381.8" cy="803.6" r="0.86"/><circle cx="437.6" cy="714.5" r="0.51"/><circle cx="296.1" cy="786.5" r="0.55"/><circle cx="404.5" cy="806.7" r="0.89"/><circle cx="356.2" cy="701.0" r="0.92"/><circle cx="302.6" cy="674.5" r="0.74"/><circle cx="433.7" cy="807.5" r="0.76"/><circle cx="275.7" cy="736.1" r="0.72"/><circle cx="385.7" cy="724.3" r="0.70"/><circle cx="421.6" cy="780.7" r="0.63"/><circle cx="366.1" cy="679.6" r="0.75"/><circle cx="270.7" cy="758.4" r="0.69"/><circle cx="435.4" cy="741.6" r="0.58"/><circle cx="404.0" cy="726.1" r="0.78"/><circle cx="398.6" cy="727.5" r="0.76"/><circle cx="277.2" cy="715.1" r="0.54"/><circle cx="357.5" cy="738.4" r="0.61"/><circle cx="333.1" cy="675.0" r="0.97"/><circle cx="423.8" cy="715.5" r="1.00"/><circle cx="399.2" cy="742.1" r="0.65"/><circle cx="394.1" cy="785.0" r="0.89"/><circle cx="349.0" cy="791.0" r="0.61"/><circle cx="410.4" cy="805.4" r="0.52"/><circle cx="298.1" cy="764.6" r="0.84"/><circle cx="293.5" cy="676.5" r="0.96"/><circle cx="445.7" cy="796.1" r="0.53"/><circle cx="402.1" cy="733.4" r="0.68"/><circle cx="322.4" cy="769.1" r="0.70"/><circle cx="298.2" cy="677.9" r="0.52"/><circle cx="344.0" cy="771.0" r="0.79"/><circle cx="441.2" cy="792.6" r="0.95"/><circle cx="365.0" cy="742.9" r="0.85"/><circle cx="382.0" cy="697.0" r="0.77"/><circle cx="350.2" cy="740.1" r="0.74"/><circle cx="359.4" cy="755.0" r="0.66"/><circle cx="295.9" cy="807.5" r="0.88"/><circle cx="318.7" cy="784.9" r="0.89"/><circle cx="327.6" cy="711.8" r="0.60"/><circle cx="271.5" cy="707.0" r="0.96"/><circle cx="442.4" cy="758.5" r="0.99"/><circle cx="277.7" cy="747.1" r="0.99"/><circle cx="315.7" cy="676.7" r="0.97"/><circle cx="377.5" cy="799.3" r="0.54"/><circle cx="417.4" cy="752.2" r="0.93"/><circle cx="324.7" cy="677.4" r="0.82"/><circle cx="329.6" cy="694.7" r="0.58"/><circle cx="284.9" cy="755.2" r="0.89"/><circle cx="284.9" cy="699.3" r="0.91"/><circle cx="312.3" cy="752.7" r="0.59"/><circle cx="414.9" cy="751.9" r="0.54"/><circle cx="328.8" cy="763.7" r="0.62"/><circle cx="291.9" cy="726.9" r="0.51"/><circle cx="278.8" cy="689.0" r="0.65"/><circle cx="414.5" cy="793.8" r="0.70"/><circle cx="401.0" cy="784.4" r="0.99"/><circle cx="308.3" cy="767.7" r="0.95"/><circle cx="402.1" cy="679.3" r="0.92"/><circle cx="406.2" cy="753.9" r="0.52"/><circle cx="282.9" cy="674.6" r="0.78"/><circle cx="375.6" cy="687.2" r="0.92"/><circle cx="341.6" cy="692.3" r="0.79"/><circle cx="315.7" cy="702.4" r="0.61"/><circle cx="409.6" cy="686.9" r="0.62"/><circle cx="293.3" cy="763.1" r="0.84"/><circle cx="345.1" cy="694.3" r="0.51"/><circle cx="434.8" cy="754.6" r="0.53"/><circle cx="382.6" cy="785.6" r="0.60"/><circle cx="437.7" cy="696.2" r="0.72"/><circle cx="346.8" cy="803.0" r="0.74"/><circle cx="400.6" cy="770.7" r="0.64"/><circle cx="350.9" cy="735.5" r="0.67"/><circle cx="303.8" cy="695.7" r="0.99"/><circle cx="434.4" cy="695.2" r="1.00"/><circle cx="329.4" cy="775.7" r="0.73"/><circle cx="353.0" cy="730.8" r="0.52"/><circle cx="361.7" cy="707.7" r="0.96"/><circle cx="381.6" cy="711.4" r="0.92"/><circle cx="372.9" cy="759.0" r="0.87"/><circle cx="399.2" cy="702.6" r="0.93"/><circle cx="401.4" cy="775.6" r="0.87"/><circle cx="310.4" cy="805.4" r="0.86"/><circle cx="432.5" cy="711.8" r="0.65"/><circle cx="426.3" cy="807.7" r="0.85"/><circle cx="295.0" cy="712.3" r="0.77"/><circle cx="270.0" cy="719.0" r="0.78"/><circle cx="434.4" cy="766.3" r="0.95"/><circle cx="305.3" cy="790.8" r="0.61"/><circle cx="313.5" cy="762.0" r="0.62"/><circle cx="270.6" cy="767.9" r="0.53"/><circle cx="383.0" cy="687.5" r="0.75"/><circle cx="429.4" cy="729.8" r="0.60"/><circle cx="428.2" cy="796.9" r="0.74"/><circle cx="400.7" cy="706.5" r="0.51"/><circle cx="308.7" cy="753.8" r="0.89"/><circle cx="294.3" cy="692.6" r="0.65"/><circle cx="315.0" cy="720.8" r="0.87"/><circle cx="333.7" cy="773.6" r="0.83"/><circle cx="432.3" cy="752.8" r="0.99"/><circle cx="335.3" cy="747.0" r="0.60"/><circle cx="305.1" cy="720.8" r="0.93"/><circle cx="430.2" cy="735.0" r="0.68"/><circle cx="327.1" cy="749.7" r="0.73"/><circle cx="446.3" cy="766.1" r="0.68"/><circle cx="369.6" cy="736.1" r="0.98"/><circle cx="301.4" cy="781.6" r="0.64"/><circle cx="338.8" cy="679.0" r="0.63"/><circle cx="325.6" cy="709.1" r="0.82"/><circle cx="290.2" cy="714.7" r="0.77"/><circle cx="363.9" cy="752.4" r="0.59"/><circle cx="315.1" cy="777.1" r="1.00"/><circle cx="298.6" cy="685.1" r="0.94"/><circle cx="447.2" cy="727.7" r="0.98"/><circle cx="374.9" cy="794.8" r="0.52"/><circle cx="272.3" cy="786.4" r="0.73"/><circle cx="287.7" cy="777.6" r="0.50"/><circle cx="303.1" cy="773.4" r="0.87"/><circle cx="360.5" cy="755.5" r="0.80"/><circle cx="314.9" cy="720.8" r="0.81"/><circle cx="310.3" cy="779.8" r="0.96"/><circle cx="380.8" cy="695.8" r="0.64"/><circle cx="373.9" cy="733.5" r="0.70"/><circle cx="271.7" cy="726.0" r="0.69"/><circle cx="288.8" cy="806.2" r="0.89"/><circle cx="441.4" cy="706.8" r="0.84"/><circle cx="397.2" cy="706.8" r="0.80"/><circle cx="397.9" cy="753.3" r="0.77"/><circle cx="313.8" cy="709.2" r="0.66"/><circle cx="358.0" cy="729.7" r="0.60"/><circle cx="278.6" cy="806.9" r="0.68"/><circle cx="427.1" cy="793.9" r="0.58"/><circle cx="302.0" cy="704.5" r="0.50"/><circle cx="308.1" cy="756.3" r="0.85"/><circle cx="299.4" cy="744.4" r="0.82"/><circle cx="398.0" cy="765.6" r="0.88"/><circle cx="284.0" cy="691.0" r="0.86"/><circle cx="348.5" cy="768.8" r="0.86"/><circle cx="406.8" cy="769.3" r="0.71"/><circle cx="429.9" cy="763.7" r="0.74"/><circle cx="416.1" cy="719.7" r="0.67"/><circle cx="374.9" cy="805.4" r="0.60"/><circle cx="320.4" cy="687.5" r="0.83"/><circle cx="353.9" cy="737.8" r="0.68"/><circle cx="334.1" cy="751.6" r="0.58"/><circle cx="354.2" cy="693.3" r="0.76"/><circle cx="357.3" cy="728.9" r="0.66"/><circle cx="411.8" cy="705.2" r="0.76"/><circle cx="441.4" cy="722.8" r="0.71"/><circle cx="390.7" cy="740.4" r="0.89"/><circle cx="427.4" cy="705.2" r="0.75"/><circle cx="353.2" cy="735.1" r="0.82"/><circle cx="302.8" cy="711.3" r="0.62"/><circle cx="346.5" cy="715.9" r="0.65"/><circle cx="438.0" cy="756.7" r="0.66"/><circle cx="285.8" cy="758.8" r="0.80"/><circle cx="370.7" cy="679.7" r="0.80"/><circle cx="411.3" cy="749.6" r="0.83"/><circle cx="331.8" cy="724.7" r="0.63"/><circle cx="405.3" cy="773.6" r="0.77"/><circle cx="359.8" cy="713.1" r="0.99"/><circle cx="275.4" cy="749.5" r="0.65"/><circle cx="412.1" cy="803.6" r="0.79"/><circle cx="397.7" cy="701.2" r="0.99"/><circle cx="349.3" cy="790.8" r="0.51"/><circle cx="327.8" cy="767.4" r="0.59"/><circle cx="270.2" cy="717.5" r="0.85"/><circle cx="422.9" cy="698.8" r="0.80"/><circle cx="424.2" cy="776.2" r="0.82"/><circle cx="356.4" cy="704.2" r="0.64"/><circle cx="369.5" cy="714.3" r="0.85"/><circle cx="312.9" cy="757.4" r="0.61"/><circle cx="391.4" cy="792.5" r="0.95"/><circle cx="343.5" cy="798.2" r="0.57"/><circle cx="338.8" cy="712.0" r="0.69"/><circle cx="278.3" cy="722.0" r="0.80"/><circle cx="402.8" cy="733.3" r="0.96"/><circle cx="389.3" cy="773.2" r="0.92"/><circle cx="332.1" cy="776.3" r="0.74"/><circle cx="319.9" cy="763.6" r="0.85"/><circle cx="277.1" cy="769.5" r="0.98"/><circle cx="274.4" cy="800.7" r="0.71"/><circle cx="435.2" cy="726.4" r="0.73"/><circle cx="385.9" cy="714.1" r="0.62"/><circle cx="386.1" cy="719.1" r="0.51"/><circle cx="320.5" cy="794.0" r="0.87"/><circle cx="292.4" cy="742.1" r="0.80"/><circle cx="299.6" cy="784.1" r="0.99"/><circle cx="386.3" cy="779.5" r="0.70"/><circle cx="312.9" cy="764.5" r="0.94"/><circle cx="400.1" cy="693.9" r="1.00"/><circle cx="430.6" cy="766.4" r="0.61"/><circle cx="299.3" cy="689.3" r="0.89"/><circle cx="366.9" cy="806.5" r="0.59"/><circle cx="333.0" cy="711.3" r="0.93"/><circle cx="405.5" cy="771.5" r="0.75"/><circle cx="316.7" cy="727.1" r="0.56"/><circle cx="396.1" cy="754.9" r="0.77"/><circle cx="424.5" cy="691.3" r="0.81"/><circle cx="287.7" cy="707.9" r="0.83"/><circle cx="360.2" cy="790.9" r="0.61"/><circle cx="332.8" cy="724.4" r="0.65"/><circle cx="389.4" cy="718.8" r="0.70"/><circle cx="409.1" cy="683.9" r="0.83"/><circle cx="357.2" cy="728.8" r="0.72"/><circle cx="299.1" cy="691.0" r="0.86"/><circle cx="326.4" cy="707.1" r="0.60"/><circle cx="381.4" cy="767.5" r="0.80"/><circle cx="272.8" cy="732.9" r="0.71"/><circle cx="300.0" cy="773.7" r="0.70"/><circle cx="419.6" cy="739.9" r="0.62"/><circle cx="423.9" cy="681.4" r="0.67"/><circle cx="333.4" cy="688.3" r="0.82"/><circle cx="322.4" cy="800.3" r="0.96"/><circle cx="275.7" cy="699.9" r="0.83"/><circle cx="394.9" cy="704.5" r="0.67"/><circle cx="445.0" cy="799.3" r="0.68"/><circle cx="394.3" cy="804.0" r="0.83"/><circle cx="343.5" cy="799.2" r="0.79"/><circle cx="389.4" cy="795.0" r="0.53"/><circle cx="287.9" cy="682.4" r="0.64"/><circle cx="442.5" cy="769.9" r="0.68"/><circle cx="376.1" cy="732.7" r="0.74"/><circle cx="330.5" cy="798.0" r="0.87"/><circle cx="278.9" cy="755.5" r="0.97"/><circle cx="337.5" cy="690.8" r="0.53"/><circle cx="364.8" cy="723.6" r="0.77"/><circle cx="390.9" cy="732.0" r="0.80"/><circle cx="375.3" cy="750.3" r="0.76"/><circle cx="306.1" cy="710.1" r="0.84"/><circle cx="436.5" cy="687.8" r="0.53"/><circle cx="349.2" cy="800.1" r="0.94"/><circle cx="308.1" cy="756.0" r="0.54"/><circle cx="412.8" cy="682.8" r="0.97"/><circle cx="332.1" cy="715.2" r="0.67"/><circle cx="289.0" cy="721.7" r="0.61"/><circle cx="274.3" cy="736.7" r="0.92"/><circle cx="404.2" cy="746.6" r="0.56"/><circle cx="350.3" cy="707.8" r="0.73"/><circle cx="426.1" cy="699.8" r="0.77"/><circle cx="352.4" cy="732.9" r="0.54"/><circle cx="432.5" cy="793.7" r="0.61"/><circle cx="423.4" cy="734.8" r="0.93"/><circle cx="323.7" cy="681.2" r="0.99"/><circle cx="333.2" cy="679.3" r="0.61"/><circle cx="328.1" cy="785.4" r="0.98"/><circle cx="317.6" cy="690.0" r="0.56"/><circle cx="445.1" cy="737.4" r="0.57"/><circle cx="323.8" cy="742.6" r="0.81"/><circle cx="364.0" cy="777.6" r="0.72"/><circle cx="419.0" cy="765.6" r="0.80"/><circle cx="286.1" cy="716.3" r="0.64"/><circle cx="425.0" cy="790.7" r="0.85"/><circle cx="390.4" cy="692.0" r="0.51"/><circle cx="282.4" cy="733.6" r="0.64"/><circle cx="446.1" cy="686.5" r="0.81"/><circle cx="323.7" cy="698.2" r="0.91"/><circle cx="415.6" cy="737.9" r="0.74"/><circle cx="289.2" cy="754.5" r="0.87"/><circle cx="427.3" cy="783.9" r="0.90"/><circle cx="303.2" cy="797.5" r="0.54"/><circle cx="310.9" cy="746.9" r="0.86"/><circle cx="383.0" cy="756.3" r="0.86"/><circle cx="340.4" cy="679.4" r="0.64"/><circle cx="372.1" cy="770.1" r="0.70"/><circle cx="367.0" cy="788.2" r="0.81"/><circle cx="354.2" cy="727.9" r="0.55"/><circle cx="335.3" cy="804.5" r="0.75"/><circle cx="351.2" cy="762.1" r="0.61"/><circle cx="348.0" cy="706.5" r="0.76"/><circle cx="359.4" cy="780.7" r="0.88"/><circle cx="333.4" cy="806.7" r="0.78"/><circle cx="338.0" cy="695.4" r="0.51"/><circle cx="331.9" cy="756.0" r="0.64"/><circle cx="291.6" cy="737.4" r="0.56"/><circle cx="307.8" cy="740.6" r="0.86"/><circle cx="329.2" cy="766.0" r="0.66"/><circle cx="293.3" cy="780.4" r="0.82"/><circle cx="386.0" cy="773.6" r="0.76"/><circle cx="280.3" cy="693.7" r="0.77"/><circle cx="386.2" cy="678.5" r="0.87"/><circle cx="432.4" cy="754.6" r="0.94"/><circle cx="356.2" cy="774.8" r="0.51"/><circle cx="364.0" cy="774.1" r="0.89"/><circle cx="433.6" cy="728.2" r="0.52"/><circle cx="401.8" cy="806.1" r="0.97"/><circle cx="423.2" cy="676.7" r="0.84"/><circle cx="433.6" cy="714.1" r="0.81"/><circle cx="374.7" cy="725.0" r="0.96"/><circle cx="285.1" cy="696.7" r="0.87"/><circle cx="405.5" cy="738.3" r="0.93"/><circle cx="303.1" cy="707.0" r="0.52"/><circle cx="418.4" cy="714.2" r="0.81"/><circle cx="354.9" cy="746.5" r="0.64"/><circle cx="290.2" cy="781.4" r="0.72"/><circle cx="330.6" cy="746.3" r="0.52"/><circle cx="401.9" cy="719.1" r="0.66"/><circle cx="315.9" cy="679.5" r="0.87"/><circle cx="388.0" cy="781.6" r="0.74"/><circle cx="422.8" cy="728.0" r="0.77"/><circle cx="414.4" cy="714.6" r="0.74"/><circle cx="331.8" cy="681.1" r="0.98"/><circle cx="420.1" cy="778.7" r="0.51"/><circle cx="430.9" cy="690.8" r="0.95"/><circle cx="334.8" cy="675.8" r="0.88"/><circle cx="272.8" cy="784.3" r="0.57"/><circle cx="416.8" cy="679.7" r="0.56"/><circle cx="391.5" cy="755.5" r="0.86"/><circle cx="290.9" cy="749.3" r="0.93"/><circle cx="413.8" cy="787.9" r="0.85"/><circle cx="414.8" cy="742.1" r="0.74"/><circle cx="376.8" cy="783.8" r="0.59"/><circle cx="317.5" cy="785.4" r="0.62"/><circle cx="289.9" cy="780.9" r="0.99"/><circle cx="291.5" cy="679.0" r="0.75"/><circle cx="371.0" cy="761.2" r="0.81"/><circle cx="355.3" cy="687.5" r="0.68"/><circle cx="353.3" cy="806.4" r="0.75"/><circle cx="384.5" cy="762.0" r="0.81"/><circle cx="388.8" cy="688.4" r="0.61"/><circle cx="304.6" cy="731.3" r="0.65"/><circle cx="428.2" cy="686.2" r="0.53"/><circle cx="401.5" cy="682.0" r="0.52"/><circle cx="315.0" cy="726.2" r="0.75"/><circle cx="374.0" cy="774.4" r="0.96"/><circle cx="314.8" cy="734.3" r="0.69"/><circle cx="301.8" cy="748.8" r="0.93"/><circle cx="308.1" cy="695.3" r="0.54"/><circle cx="340.4" cy="808.0" r="0.82"/><circle cx="289.2" cy="803.9" r="0.61"/><circle cx="348.7" cy="753.7" r="0.99"/><circle cx="424.7" cy="720.0" r="0.98"/><circle cx="374.8" cy="783.7" r="0.65"/><circle cx="381.3" cy="771.0" r="1.00"/><circle cx="420.1" cy="754.2" r="0.54"/><circle cx="397.7" cy="690.3" r="0.97"/><circle cx="439.1" cy="790.0" r="0.55"/><circle cx="376.2" cy="758.9" r="0.89"/><circle cx="422.8" cy="690.8" r="0.60"/><circle cx="269.2" cy="805.8" r="0.74"/><circle cx="375.2" cy="790.4" r="0.59"/><circle cx="327.0" cy="761.1" r="0.67"/><circle cx="401.3" cy="728.1" r="0.79"/><circle cx="366.8" cy="724.6" r="0.99"/><circle cx="416.0" cy="711.6" r="0.78"/><circle cx="376.7" cy="704.8" r="0.58"/><circle cx="343.8" cy="752.7" r="0.92"/><circle cx="366.9" cy="740.5" r="0.73"/><circle cx="275.4" cy="715.7" r="0.88"/><circle cx="383.7" cy="684.9" r="0.94"/><circle cx="425.8" cy="788.1" r="0.88"/><circle cx="327.2" cy="709.0" r="0.69"/><circle cx="343.2" cy="680.7" r="0.60"/><circle cx="391.6" cy="787.3" r="0.53"/><circle cx="299.6" cy="706.1" r="0.91"/><circle cx="353.5" cy="713.0" r="0.81"/><circle cx="399.4" cy="751.0" r="0.80"/><circle cx="411.4" cy="747.6" r="0.82"/><circle cx="344.6" cy="790.2" r="0.97"/><circle cx="369.0" cy="756.1" r="0.94"/><circle cx="289.2" cy="720.3" r="0.67"/><circle cx="373.7" cy="778.1" r="0.79"/><circle cx="369.2" cy="778.1" r="0.68"/><circle cx="388.1" cy="776.8" r="0.73"/><circle cx="403.9" cy="675.9" r="0.81"/><circle cx="398.7" cy="767.1" r="0.55"/><circle cx="361.3" cy="759.0" r="0.86"/><circle cx="438.5" cy="688.7" r="0.61"/><circle cx="387.9" cy="679.3" r="0.72"/><circle cx="277.3" cy="758.6" r="0.82"/><circle cx="287.5" cy="693.1" r="0.67"/><circle cx="323.9" cy="739.5" r="0.79"/><circle cx="327.1" cy="676.4" r="0.53"/><circle cx="421.7" cy="699.2" r="0.97"/><circle cx="344.7" cy="696.5" r="0.79"/><circle cx="282.1" cy="706.6" r="0.80"/><circle cx="334.3" cy="684.6" r="0.83"/><circle cx="313.5" cy="802.8" r="0.60"/><circle cx="298.4" cy="711.8" r="0.90"/><circle cx="425.5" cy="782.1" r="0.61"/><circle cx="339.9" cy="746.1" r="0.76"/><circle cx="435.7" cy="777.9" r="0.75"/><circle cx="293.9" cy="807.6" r="1.00"/><circle cx="415.6" cy="774.6" r="0.87"/><circle cx="436.7" cy="774.5" r="0.79"/><circle cx="365.7" cy="755.7" r="0.53"/><circle cx="379.0" cy="686.9" r="0.93"/><circle cx="287.6" cy="711.2" r="0.87"/><circle cx="296.2" cy="699.3" r="0.75"/><circle cx="436.5" cy="804.8" r="0.54"/><circle cx="271.4" cy="696.8" r="0.90"/><circle cx="384.6" cy="786.2" r="0.75"/><circle cx="345.0" cy="785.2" r="0.69"/><circle cx="415.6" cy="751.4" r="0.55"/><circle cx="273.4" cy="738.6" r="0.67"/><circle cx="444.7" cy="680.2" r="0.74"/><circle cx="402.3" cy="715.9" r="0.84"/><circle cx="337.4" cy="703.2" r="0.54"/><circle cx="373.8" cy="763.8" r="0.78"/><circle cx="328.8" cy="687.1" r="0.59"/><circle cx="424.1" cy="724.7" r="0.80"/><circle cx="298.9" cy="706.1" r="0.53"/><circle cx="445.8" cy="709.1" r="0.72"/><circle cx="297.1" cy="732.6" r="0.99"/><circle cx="336.8" cy="674.2" r="0.70"/><circle cx="377.6" cy="719.4" r="0.52"/><circle cx="390.2" cy="732.1" r="0.95"/><circle cx="442.7" cy="755.7" r="0.88"/><circle cx="401.1" cy="683.8" r="0.80"/><circle cx="406.4" cy="779.0" r="0.79"/><circle cx="401.8" cy="781.6" r="0.91"/><circle cx="309.5" cy="806.0" r="0.94"/><circle cx="285.2" cy="713.8" r="0.54"/><circle cx="362.6" cy="693.2" r="0.72"/><circle cx="331.9" cy="751.8" r="0.66"/><circle cx="288.3" cy="673.8" r="0.95"/><circle cx="337.0" cy="759.8" r="0.54"/><circle cx="280.9" cy="745.5" r="0.82"/><circle cx="434.6" cy="709.2" r="0.94"/><circle cx="442.7" cy="724.0" r="0.79"/><circle cx="284.2" cy="763.6" r="0.90"/><circle cx="417.3" cy="755.2" r="0.67"/><circle cx="293.6" cy="730.9" r="0.81"/><circle cx="275.3" cy="717.5" r="0.93"/><circle cx="376.3" cy="797.0" r="0.56"/><circle cx="359.5" cy="706.1" r="0.82"/><circle cx="441.9" cy="759.0" r="0.98"/><circle cx="405.0" cy="701.5" r="0.92"/><circle cx="389.1" cy="763.1" r="0.96"/><circle cx="291.7" cy="776.8" r="0.93"/><circle cx="269.1" cy="751.7" r="0.75"/><circle cx="348.0" cy="717.3" r="0.55"/><circle cx="363.1" cy="789.3" r="0.89"/><circle cx="271.5" cy="751.7" r="0.67"/><circle cx="428.3" cy="782.6" r="0.69"/><circle cx="316.0" cy="677.5" r="0.71"/><circle cx="298.6" cy="777.5" r="0.76"/><circle cx="359.1" cy="685.8" r="0.56"/><circle cx="302.5" cy="695.4" r="0.56"/><circle cx="327.1" cy="746.7" r="0.76"/><circle cx="343.1" cy="741.5" r="0.53"/><circle cx="341.6" cy="762.2" r="0.51"/><circle cx="387.6" cy="796.7" r="0.99"/><circle cx="441.9" cy="716.2" r="0.65"/><circle cx="283.1" cy="681.9" r="0.83"/><circle cx="354.8" cy="679.3" r="0.86"/><circle cx="419.6" cy="759.0" r="0.70"/><circle cx="328.6" cy="679.9" r="0.63"/><circle cx="445.4" cy="787.9" r="0.58"/><circle cx="422.3" cy="676.6" r="0.59"/><circle cx="335.2" cy="697.4" r="0.91"/><circle cx="409.5" cy="777.5" r="0.81"/><circle cx="383.4" cy="797.7" r="0.90"/><circle cx="388.4" cy="807.9" r="0.50"/><circle cx="346.1" cy="742.8" r="0.87"/><circle cx="292.5" cy="734.6" r="0.77"/><circle cx="379.6" cy="779.1" r="0.73"/><circle cx="440.7" cy="698.2" r="0.93"/><circle cx="372.5" cy="777.7" r="0.95"/><circle cx="418.4" cy="790.1" r="0.71"/><circle cx="304.1" cy="731.6" r="0.74"/><circle cx="365.4" cy="766.0" r="0.97"/><circle cx="276.4" cy="691.6" r="0.62"/><circle cx="334.4" cy="720.9" r="0.51"/><circle cx="302.0" cy="701.6" r="0.77"/><circle cx="322.2" cy="787.1" r="0.50"/><circle cx="395.0" cy="722.3" r="0.90"/><circle cx="308.7" cy="798.6" r="0.60"/><circle cx="295.7" cy="794.2" r="0.84"/><circle cx="406.2" cy="732.9" r="0.96"/><circle cx="430.6" cy="783.9" r="0.90"/><circle cx="435.5" cy="694.1" r="0.92"/><circle cx="296.4" cy="762.6" r="0.64"/><circle cx="338.9" cy="710.1" r="0.56"/><circle cx="363.0" cy="791.1" r="0.68"/><circle cx="300.9" cy="782.1" r="0.63"/><circle cx="286.8" cy="680.2" r="0.85"/><circle cx="440.4" cy="766.1" r="0.79"/><circle cx="395.3" cy="774.7" r="1.00"/><circle cx="382.3" cy="694.0" r="1.00"/><circle cx="391.3" cy="727.0" r="0.95"/><circle cx="428.4" cy="726.4" r="0.71"/><circle cx="296.4" cy="801.1" r="0.85"/><circle cx="385.9" cy="702.8" r="0.87"/><circle cx="438.0" cy="790.0" r="0.73"/><circle cx="283.9" cy="760.3" r="0.53"/><circle cx="345.3" cy="729.7" r="0.97"/><circle cx="402.3" cy="690.1" r="0.77"/><circle cx="384.7" cy="706.6" r="0.79"/><circle cx="277.5" cy="772.1" r="0.80"/><circle cx="433.0" cy="795.8" r="0.65"/><circle cx="278.2" cy="762.3" r="0.84"/><circle cx="401.1" cy="716.3" r="0.70"/><circle cx="412.9" cy="754.4" r="0.64"/><circle cx="289.0" cy="769.3" r="0.65"/><circle cx="435.8" cy="786.4" r="0.72"/><circle cx="306.8" cy="676.9" r="0.77"/><circle cx="397.2" cy="685.8" r="0.71"/><circle cx="335.3" cy="737.2" r="0.80"/><circle cx="349.6" cy="767.0" r="0.61"/><circle cx="400.0" cy="738.3" r="0.79"/><circle cx="379.1" cy="794.8" r="0.99"/><circle cx="270.9" cy="768.9" r="0.77"/><circle cx="383.1" cy="705.2" r="0.72"/><circle cx="343.1" cy="728.6" r="0.96"/><circle cx="322.6" cy="733.8" r="0.52"/><circle cx="327.8" cy="707.1" r="0.70"/><circle cx="296.8" cy="712.9" r="0.67"/><circle cx="351.4" cy="736.5" r="0.82"/><circle cx="383.4" cy="737.3" r="0.71"/><circle cx="360.8" cy="761.3" r="0.68"/><circle cx="445.1" cy="782.1" r="0.92"/><circle cx="294.0" cy="703.1" r="0.81"/><circle cx="424.0" cy="734.1" r="0.91"/><circle cx="376.2" cy="674.1" r="0.99"/><circle cx="431.8" cy="724.6" r="0.91"/><circle cx="305.0" cy="760.3" r="0.82"/><circle cx="338.4" cy="788.1" r="0.56"/><circle cx="300.6" cy="750.1" r="0.86"/><circle cx="272.5" cy="764.6" r="0.61"/><circle cx="362.0" cy="740.9" r="0.87"/><circle cx="340.8" cy="778.3" r="0.65"/><circle cx="438.4" cy="721.2" r="0.58"/><circle cx="326.1" cy="800.1" r="0.85"/><circle cx="326.5" cy="688.0" r="0.84"/><circle cx="397.1" cy="691.9" r="0.68"/><circle cx="414.5" cy="756.4" r="0.98"/><circle cx="377.9" cy="696.8" r="0.76"/><circle cx="397.2" cy="807.9" r="0.66"/><circle cx="294.6" cy="785.6" r="0.86"/><circle cx="291.6" cy="737.5" r="0.98"/><circle cx="347.9" cy="746.3" r="0.55"/><circle cx="444.6" cy="723.6" r="0.77"/><circle cx="322.2" cy="800.3" r="0.71"/><circle cx="384.9" cy="782.4" r="0.91"/><circle cx="358.5" cy="786.0" r="0.85"/><circle cx="330.1" cy="739.6" r="0.78"/><circle cx="369.0" cy="764.2" r="0.71"/><circle cx="416.8" cy="790.3" r="0.58"/><circle cx="405.1" cy="695.9" r="0.68"/><circle cx="404.4" cy="677.6" r="0.99"/><circle cx="307.3" cy="788.4" r="0.79"/><circle cx="364.5" cy="799.1" r="0.67"/><circle cx="439.9" cy="773.1" r="0.75"/><circle cx="353.6" cy="782.3" r="0.53"/><circle cx="309.4" cy="720.9" r="0.85"/><circle cx="434.4" cy="763.7" r="0.58"/><circle cx="422.2" cy="805.2" r="0.90"/><circle cx="321.7" cy="779.1" r="0.56"/><circle cx="372.0" cy="769.6" r="0.77"/><circle cx="326.6" cy="748.6" r="0.81"/><circle cx="348.8" cy="712.4" r="0.60"/><circle cx="439.6" cy="799.7" r="0.57"/><circle cx="301.5" cy="747.7" r="0.91"/><circle cx="373.4" cy="806.3" r="0.67"/><circle cx="341.2" cy="696.5" r="0.89"/><circle cx="310.4" cy="706.0" r="0.96"/><circle cx="298.6" cy="718.4" r="0.93"/><circle cx="314.5" cy="703.2" r="0.94"/><circle cx="430.8" cy="721.2" r="0.84"/><circle cx="378.8" cy="777.4" r="0.83"/><circle cx="293.0" cy="766.3" r="0.58"/><circle cx="416.5" cy="684.1" r="0.59"/><circle cx="358.4" cy="784.1" r="0.68"/><circle cx="338.2" cy="694.0" r="0.85"/><circle cx="323.3" cy="716.0" r="0.51"/><circle cx="313.4" cy="695.5" r="0.56"/><circle cx="306.4" cy="786.1" r="0.75"/><circle cx="432.8" cy="748.4" r="0.75"/><circle cx="370.3" cy="767.5" r="0.61"/><circle cx="314.7" cy="759.6" r="0.83"/><circle cx="358.9" cy="732.0" r="0.92"/><circle cx="293.7" cy="688.3" r="0.83"/><circle cx="409.4" cy="718.0" r="0.98"/><circle cx="321.3" cy="707.7" r="0.83"/><circle cx="370.1" cy="677.5" r="0.54"/><circle cx="288.4" cy="720.6" r="0.51"/><circle cx="403.2" cy="759.8" r="0.78"/><circle cx="315.8" cy="694.6" r="0.97"/><circle cx="349.8" cy="713.4" r="0.73"/><circle cx="365.8" cy="793.7" r="0.76"/><circle cx="316.1" cy="684.4" r="0.93"/><circle cx="413.5" cy="768.1" r="0.61"/><circle cx="427.3" cy="739.7" r="0.85"/><circle cx="274.3" cy="742.4" r="0.89"/><circle cx="413.1" cy="780.7" r="0.72"/><circle cx="313.0" cy="789.6" r="0.95"/><circle cx="434.9" cy="744.2" r="0.96"/><circle cx="270.7" cy="793.9" r="0.59"/><circle cx="303.6" cy="731.2" r="0.83"/><circle cx="315.8" cy="700.0" r="0.92"/><circle cx="371.2" cy="732.6" r="0.88"/><circle cx="385.5" cy="796.6" r="0.70"/><circle cx="295.6" cy="682.9" r="0.83"/><circle cx="326.0" cy="680.0" r="0.77"/><circle cx="376.6" cy="796.5" r="0.65"/><circle cx="330.9" cy="796.7" r="0.84"/><circle cx="295.0" cy="723.8" r="0.59"/><circle cx="395.7" cy="764.4" r="0.74"/><circle cx="276.4" cy="742.0" r="0.62"/><circle cx="360.4" cy="703.5" r="0.54"/><circle cx="427.5" cy="757.3" r="0.91"/><circle cx="380.9" cy="678.2" r="0.99"/><circle cx="312.6" cy="677.6" r="0.65"/><circle cx="283.9" cy="727.5" r="0.84"/><circle cx="359.5" cy="738.3" r="0.99"/><circle cx="353.1" cy="801.6" r="0.84"/><circle cx="342.7" cy="788.6" r="0.60"/><circle cx="304.4" cy="795.4" r="0.68"/><circle cx="351.1" cy="762.7" r="0.96"/><circle cx="367.6" cy="802.5" r="0.85"/><circle cx="381.4" cy="756.9" r="0.63"/><circle cx="425.7" cy="703.8" r="0.96"/><circle cx="399.0" cy="720.3" r="0.58"/><circle cx="409.7" cy="764.3" r="0.92"/><circle cx="301.3" cy="696.2" r="0.59"/><circle cx="359.7" cy="775.3" r="0.68"/><circle cx="287.3" cy="738.7" r="0.72"/><circle cx="415.5" cy="806.8" r="0.76"/><circle cx="317.9" cy="700.0" r="0.50"/><circle cx="272.8" cy="697.5" r="0.62"/><circle cx="340.1" cy="784.9" r="0.94"/><circle cx="420.6" cy="759.8" r="0.99"/><circle cx="438.5" cy="710.5" r="0.69"/><circle cx="444.2" cy="806.7" r="0.67"/><circle cx="313.4" cy="781.3" r="0.54"/><circle cx="443.3" cy="701.5" r="0.89"/><circle cx="378.0" cy="736.3" r="0.93"/><circle cx="312.3" cy="768.9" r="0.62"/><circle cx="406.1" cy="757.1" r="0.83"/><circle cx="410.8" cy="735.6" r="0.83"/><circle cx="414.8" cy="795.8" r="0.81"/><circle cx="278.6" cy="737.1" r="0.95"/><circle cx="393.4" cy="695.9" r="0.88"/><circle cx="402.3" cy="689.2" r="0.57"/><circle cx="370.2" cy="703.9" r="0.51"/><circle cx="420.9" cy="797.8" r="0.98"/><circle cx="312.7" cy="802.8" r="0.54"/><circle cx="405.4" cy="720.6" r="0.75"/><circle cx="443.9" cy="771.7" r="0.68"/><circle cx="401.5" cy="728.2" r="0.77"/><circle cx="278.7" cy="806.3" r="0.52"/><circle cx="269.3" cy="706.8" r="0.85"/><circle cx="401.7" cy="688.9" r="0.65"/><circle cx="360.1" cy="798.0" r="0.61"/><circle cx="296.8" cy="718.4" r="0.59"/><circle cx="438.1" cy="797.5" r="0.51"/><circle cx="387.9" cy="721.5" r="0.56"/><circle cx="418.6" cy="712.0" r="0.51"/><circle cx="312.8" cy="782.2" r="0.58"/><circle cx="446.8" cy="751.0" r="0.91"/><circle cx="413.0" cy="775.7" r="0.84"/><circle cx="294.8" cy="790.7" r="0.54"/><circle cx="332.6" cy="799.7" r="0.88"/><circle cx="316.2" cy="804.1" r="0.83"/><circle cx="281.4" cy="747.4" r="0.66"/><circle cx="430.8" cy="685.2" r="0.76"/><circle cx="308.2" cy="758.7" r="0.58"/><circle cx="299.9" cy="784.3" r="0.79"/><circle cx="347.1" cy="680.3" r="0.53"/><circle cx="377.0" cy="713.6" r="0.93"/><circle cx="310.9" cy="792.9" r="0.97"/><circle cx="272.2" cy="736.8" r="0.72"/><circle cx="384.1" cy="801.7" r="0.52"/><circle cx="425.9" cy="731.9" r="0.68"/><circle cx="391.8" cy="716.2" r="0.55"/><circle cx="274.0" cy="680.0" r="0.99"/><circle cx="297.2" cy="769.0" r="0.72"/><circle cx="431.4" cy="702.0" r="0.58"/><circle cx="305.5" cy="734.3" r="0.51"/><circle cx="342.5" cy="735.6" r="0.83"/><circle cx="405.9" cy="786.9" r="0.61"/><circle cx="419.3" cy="805.1" r="0.97"/><circle cx="319.7" cy="769.6" r="0.60"/><circle cx="421.3" cy="746.5" r="0.65"/><circle cx="298.7" cy="804.0" r="0.57"/><circle cx="290.8" cy="793.8" r="0.94"/><circle cx="272.8" cy="774.0" r="0.95"/><circle cx="418.1" cy="689.5" r="0.95"/><circle cx="290.7" cy="694.1" r="0.70"/><circle cx="419.4" cy="735.9" r="0.94"/><circle cx="270.3" cy="796.9" r="0.86"/><circle cx="435.5" cy="695.6" r="0.57"/><circle cx="356.2" cy="700.6" r="0.83"/><circle cx="386.4" cy="802.1" r="0.63"/><circle cx="367.1" cy="804.4" r="0.83"/><circle cx="312.6" cy="790.6" r="0.73"/><circle cx="395.6" cy="716.3" r="0.86"/><circle cx="446.1" cy="788.9" r="0.79"/><circle cx="327.6" cy="695.1" r="0.78"/><circle cx="314.3" cy="790.2" r="0.61"/><circle cx="330.9" cy="725.5" r="0.94"/><circle cx="368.3" cy="690.2" r="0.51"/><circle cx="304.9" cy="750.5" r="0.81"/><circle cx="366.0" cy="762.6" r="0.65"/><circle cx="353.6" cy="803.1" r="0.96"/><circle cx="416.6" cy="709.7" r="0.99"/><circle cx="438.8" cy="673.7" r="0.53"/><circle cx="315.2" cy="789.1" r="0.74"/><circle cx="370.8" cy="707.1" r="0.57"/><circle cx="380.2" cy="788.6" r="0.84"/><circle cx="404.7" cy="676.7" r="0.67"/><circle cx="439.8" cy="795.8" r="0.76"/><circle cx="357.5" cy="786.5" r="0.59"/><circle cx="446.3" cy="775.4" r="0.83"/><circle cx="347.1" cy="759.2" r="0.96"/><circle cx="349.5" cy="743.7" r="0.67"/><circle cx="423.6" cy="734.4" r="0.71"/><circle cx="309.9" cy="802.9" r="0.99"/><circle cx="404.8" cy="729.1" r="0.60"/><circle cx="278.2" cy="694.4" r="0.81"/><circle cx="382.6" cy="795.4" r="0.61"/><circle cx="432.7" cy="797.3" r="0.90"/><circle cx="386.3" cy="708.9" r="0.74"/><circle cx="416.0" cy="731.9" r="0.91"/><circle cx="420.7" cy="770.0" r="0.60"/><circle cx="379.5" cy="678.6" r="0.58"/><circle cx="283.2" cy="698.7" r="0.70"/><circle cx="306.6" cy="722.2" r="0.72"/><circle cx="302.3" cy="698.7" r="0.99"/><circle cx="300.0" cy="805.0" r="0.71"/><circle cx="370.0" cy="785.8" r="0.55"/><circle cx="430.8" cy="734.8" r="0.55"/><circle cx="321.6" cy="781.0" r="0.68"/><circle cx="422.3" cy="790.3" r="0.93"/><circle cx="380.6" cy="773.6" r="0.89"/><circle cx="425.3" cy="801.5" r="0.52"/><circle cx="441.7" cy="806.5" r="0.70"/><circle cx="383.1" cy="788.5" r="0.90"/><circle cx="287.8" cy="786.3" r="0.63"/><circle cx="396.1" cy="715.6" r="0.92"/><circle cx="320.0" cy="687.0" r="0.72"/><circle cx="331.9" cy="692.3" r="0.99"/><circle cx="440.5" cy="763.9" r="0.90"/><circle cx="381.4" cy="723.9" r="0.74"/><circle cx="301.7" cy="676.5" r="0.91"/><circle cx="370.0" cy="750.8" r="0.72"/><circle cx="404.5" cy="779.6" r="0.84"/><circle cx="403.7" cy="780.1" r="0.92"/><circle cx="430.4" cy="742.0" r="0.64"/><circle cx="406.0" cy="725.4" r="0.54"/><circle cx="283.4" cy="798.0" r="0.52"/><circle cx="434.9" cy="736.9" r="0.97"/><circle cx="336.0" cy="739.7" r="0.70"/><circle cx="313.1" cy="757.7" r="0.68"/><circle cx="354.6" cy="689.0" r="0.88"/><circle cx="271.9" cy="770.7" r="0.62"/><circle cx="274.3" cy="739.9" r="0.95"/><circle cx="352.5" cy="682.9" r="0.69"/><circle cx="398.2" cy="807.7" r="0.54"/><circle cx="369.0" cy="684.9" r="0.72"/><circle cx="421.2" cy="758.5" r="0.82"/><circle cx="339.6" cy="768.7" r="0.80"/><circle cx="367.7" cy="798.6" r="0.77"/><circle cx="327.5" cy="710.7" r="0.70"/><circle cx="434.1" cy="729.9" r="0.52"/><circle cx="433.6" cy="776.7" r="0.93"/><circle cx="396.0" cy="794.7" r="0.57"/><circle cx="420.7" cy="678.0" r="0.98"/><circle cx="309.6" cy="692.8" r="0.75"/><circle cx="384.7" cy="787.4" r="0.75"/><circle cx="429.3" cy="707.2" r="0.52"/><circle cx="321.2" cy="703.7" r="0.78"/><circle cx="432.1" cy="784.7" r="0.79"/><circle cx="281.9" cy="754.0" r="0.85"/><circle cx="396.9" cy="678.6" r="0.61"/><circle cx="369.4" cy="752.8" r="0.97"/><circle cx="433.5" cy="772.7" r="0.73"/><circle cx="401.0" cy="736.1" r="0.59"/><circle cx="379.2" cy="750.9" r="0.61"/><circle cx="293.4" cy="729.3" r="0.84"/><circle cx="408.3" cy="680.1" r="0.51"/><circle cx="293.2" cy="717.1" r="0.70"/><circle cx="322.1" cy="701.2" r="0.86"/><circle cx="382.2" cy="724.4" r="0.73"/><circle cx="360.6" cy="725.1" r="0.81"/><circle cx="328.5" cy="677.6" r="0.53"/><circle cx="273.3" cy="783.1" r="0.80"/><circle cx="377.9" cy="719.2" r="0.77"/><circle cx="373.3" cy="709.8" r="0.55"/><circle cx="285.0" cy="729.4" r="0.85"/><circle cx="376.8" cy="692.9" r="0.72"/><circle cx="283.1" cy="748.0" r="0.99"/><circle cx="346.1" cy="749.6" r="0.78"/><circle cx="315.8" cy="734.7" r="0.72"/><circle cx="311.9" cy="733.3" r="0.80"/><circle cx="330.6" cy="766.4" r="0.95"/><circle cx="363.4" cy="777.8" r="0.97"/><circle cx="417.9" cy="763.9" r="0.97"/><circle cx="343.2" cy="686.6" r="0.55"/><circle cx="446.2" cy="706.1" r="0.62"/><circle cx="292.0" cy="699.8" r="0.55"/><circle cx="371.3" cy="743.2" r="0.88"/><circle cx="424.2" cy="725.4" r="0.67"/><circle cx="341.8" cy="745.1" r="0.71"/><circle cx="431.9" cy="750.2" r="0.66"/><circle cx="426.8" cy="750.3" r="0.76"/><circle cx="301.7" cy="723.5" r="0.75"/><circle cx="421.7" cy="780.0" r="0.51"/><circle cx="292.5" cy="712.6" r="0.67"/><circle cx="314.9" cy="789.7" r="0.93"/><circle cx="297.1" cy="695.5" r="0.62"/><circle cx="309.1" cy="687.5" r="0.53"/><circle cx="429.4" cy="725.2" r="0.81"/><circle cx="427.0" cy="801.3" r="0.87"/><circle cx="353.2" cy="739.0" r="0.60"/><circle cx="329.7" cy="804.4" r="0.52"/><circle cx="441.5" cy="701.5" r="0.88"/><circle cx="334.7" cy="800.4" r="0.69"/><circle cx="370.1" cy="696.4" r="0.76"/><circle cx="296.6" cy="767.2" r="0.80"/><circle cx="275.7" cy="687.5" r="0.95"/><circle cx="374.4" cy="690.6" r="0.53"/><circle cx="317.9" cy="799.6" r="0.61"/><circle cx="423.6" cy="785.6" r="0.53"/><circle cx="361.1" cy="699.6" r="0.51"/><circle cx="423.9" cy="743.0" r="0.51"/><circle cx="297.2" cy="718.9" r="0.89"/><circle cx="411.3" cy="723.1" r="0.69"/><circle cx="339.2" cy="723.9" r="0.65"/><circle cx="365.9" cy="691.7" r="0.88"/><circle cx="282.1" cy="807.5" r="0.75"/><circle cx="359.8" cy="733.7" r="0.60"/><circle cx="295.9" cy="682.7" r="0.62"/><circle cx="285.2" cy="743.0" r="0.86"/><circle cx="274.1" cy="776.8" r="0.66"/><circle cx="444.6" cy="736.6" r="0.68"/><circle cx="273.3" cy="782.3" r="0.65"/><circle cx="364.7" cy="674.7" r="0.84"/><circle cx="289.1" cy="692.7" r="0.50"/><circle cx="324.6" cy="767.6" r="0.69"/><circle cx="275.8" cy="806.9" r="0.83"/><circle cx="407.0" cy="767.1" r="0.59"/><circle cx="436.1" cy="785.5" r="0.84"/><circle cx="343.1" cy="737.0" r="0.98"/><circle cx="330.6" cy="805.0" r="0.85"/><circle cx="346.1" cy="700.4" r="0.86"/><circle cx="411.4" cy="741.9" r="0.58"/><circle cx="347.1" cy="761.2" r="0.94"/><circle cx="370.3" cy="751.4" r="0.80"/><circle cx="406.5" cy="736.9" r="0.52"/><circle cx="280.6" cy="711.0" r="0.85"/><circle cx="377.2" cy="799.4" r="0.98"/><circle cx="322.7" cy="786.8" r="0.83"/><circle cx="416.1" cy="774.4" r="0.76"/><circle cx="419.4" cy="789.7" r="0.57"/><circle cx="437.1" cy="765.4" r="0.55"/><circle cx="269.4" cy="719.8" r="0.89"/><circle cx="339.2" cy="806.1" r="0.51"/><circle cx="383.7" cy="742.1" r="0.78"/><circle cx="370.8" cy="708.2" r="0.65"/><circle cx="299.2" cy="728.0" r="0.76"/><circle cx="290.5" cy="797.4" r="0.81"/><circle cx="282.9" cy="711.5" r="0.55"/><circle cx="385.1" cy="723.8" r="0.71"/><circle cx="330.1" cy="692.3" r="0.93"/><circle cx="286.9" cy="700.2" r="0.80"/><circle cx="433.9" cy="680.5" r="0.77"/><circle cx="396.4" cy="766.1" r="0.88"/><circle cx="375.9" cy="798.8" r="0.82"/><circle cx="316.7" cy="771.3" r="0.57"/><circle cx="344.6" cy="694.8" r="0.52"/><circle cx="380.6" cy="787.7" r="0.65"/><circle cx="301.0" cy="765.2" r="0.82"/><circle cx="373.6" cy="759.6" r="0.52"/><circle cx="347.5" cy="801.3" r="0.67"/><circle cx="432.8" cy="703.8" r="0.58"/><circle cx="304.2" cy="738.9" r="0.90"/><circle cx="403.0" cy="782.0" r="0.81"/><circle cx="431.3" cy="788.3" r="0.64"/><circle cx="292.6" cy="675.9" r="0.66"/><circle cx="296.8" cy="745.9" r="0.62"/><circle cx="374.1" cy="684.6" r="0.62"/><circle cx="323.8" cy="782.4" r="0.81"/><circle cx="436.2" cy="770.2" r="0.97"/><circle cx="353.0" cy="702.7" r="0.60"/><circle cx="438.3" cy="770.2" r="0.77"/><circle cx="408.5" cy="780.5" r="0.52"/><circle cx="293.6" cy="683.6" r="0.71"/><circle cx="291.8" cy="769.6" r="0.71"/><circle cx="403.8" cy="766.2" r="0.66"/><circle cx="430.6" cy="734.9" r="0.51"/><circle cx="339.2" cy="685.7" r="0.63"/><circle cx="399.7" cy="676.2" r="0.94"/><circle cx="428.1" cy="739.4" r="0.84"/><circle cx="392.2" cy="739.3" r="0.58"/><circle cx="422.5" cy="770.8" r="0.67"/><circle cx="445.4" cy="772.4" r="0.53"/><circle cx="297.5" cy="790.8" r="0.86"/><circle cx="329.4" cy="704.1" r="0.71"/><circle cx="322.2" cy="742.1" r="0.59"/><circle cx="291.5" cy="680.1" r="0.86"/><circle cx="359.6" cy="690.9" r="0.69"/><circle cx="307.9" cy="718.3" r="0.87"/><circle cx="332.4" cy="777.8" r="0.76"/><circle cx="390.5" cy="805.5" r="0.76"/><circle cx="441.4" cy="699.8" r="0.84"/><circle cx="395.8" cy="677.0" r="0.87"/><circle cx="342.3" cy="749.7" r="0.82"/><circle cx="411.2" cy="679.8" r="0.73"/><circle cx="435.5" cy="756.9" r="0.73"/><circle cx="335.5" cy="716.8" r="0.53"/><circle cx="281.2" cy="807.3" r="0.59"/><circle cx="401.1" cy="705.8" r="0.79"/><circle cx="321.8" cy="772.8" r="0.99"/><circle cx="417.9" cy="776.7" r="0.74"/><circle cx="383.4" cy="753.9" r="0.66"/><circle cx="421.4" cy="703.0" r="0.72"/><circle cx="299.9" cy="763.9" r="0.54"/><circle cx="400.8" cy="733.4" r="0.91"/><circle cx="397.8" cy="800.1" r="0.79"/><circle cx="281.7" cy="772.4" r="0.71"/><circle cx="281.8" cy="692.1" r="0.70"/><circle cx="395.6" cy="799.6" r="0.68"/><circle cx="440.3" cy="778.8" r="0.68"/><circle cx="342.2" cy="797.5" r="0.54"/><circle cx="445.7" cy="677.0" r="0.92"/><circle cx="362.3" cy="780.7" r="0.93"/><circle cx="375.4" cy="780.5" r="0.78"/><circle cx="351.6" cy="778.7" r="0.70"/><circle cx="345.3" cy="720.7" r="0.78"/><circle cx="415.5" cy="757.0" r="0.52"/><circle cx="279.9" cy="744.7" r="0.77"/><circle cx="288.2" cy="688.6" r="0.54"/><circle cx="320.3" cy="705.1" r="0.85"/><circle cx="377.4" cy="688.6" r="0.66"/><circle cx="356.5" cy="760.1" r="0.71"/><circle cx="335.2" cy="676.9" r="0.54"/><circle cx="395.7" cy="785.5" r="0.87"/><circle cx="363.2" cy="777.9" r="0.57"/><circle cx="411.0" cy="681.6" r="0.80"/><circle cx="355.6" cy="727.6" r="0.86"/><circle cx="406.0" cy="752.2" r="0.79"/><circle cx="278.8" cy="685.9" r="0.50"/><circle cx="340.2" cy="712.3" r="0.59"/><circle cx="313.9" cy="683.1" r="0.55"/><circle cx="358.9" cy="797.1" r="0.83"/><circle cx="401.8" cy="677.4" r="0.76"/><circle cx="441.2" cy="791.4" r="0.52"/><circle cx="323.1" cy="708.3" r="0.59"/><circle cx="297.4" cy="705.5" r="0.56"/><circle cx="329.0" cy="802.1" r="0.94"/><circle cx="407.5" cy="791.6" r="0.62"/><circle cx="368.4" cy="710.7" r="0.66"/><circle cx="276.0" cy="769.3" r="0.69"/><circle cx="305.0" cy="743.2" r="0.68"/><circle cx="304.9" cy="805.4" r="0.82"/><circle cx="298.4" cy="693.2" r="0.92"/><circle cx="446.0" cy="696.3" r="0.77"/><circle cx="327.9" cy="696.4" r="0.82"/><circle cx="321.5" cy="758.7" r="0.81"/><circle cx="372.3" cy="730.1" r="0.54"/><circle cx="439.9" cy="679.2" r="0.57"/><circle cx="341.5" cy="798.6" r="0.77"/><circle cx="327.7" cy="685.0" r="0.62"/><circle cx="381.2" cy="806.6" r="0.98"/><circle cx="433.2" cy="802.3" r="0.64"/><circle cx="280.4" cy="762.6" r="0.51"/><circle cx="360.1" cy="783.7" r="0.63"/><circle cx="308.9" cy="704.7" r="0.78"/><circle cx="377.7" cy="710.5" r="0.90"/><circle cx="357.9" cy="733.1" r="0.51"/><circle cx="350.1" cy="720.0" r="0.58"/><circle cx="423.8" cy="787.3" r="0.62"/><circle cx="304.2" cy="776.7" r="0.75"/><circle cx="431.8" cy="798.9" r="0.83"/><circle cx="328.5" cy="743.7" r="0.80"/><circle cx="420.3" cy="713.2" r="0.71"/><circle cx="333.1" cy="778.4" r="0.65"/><circle cx="338.1" cy="676.9" r="0.93"/><circle cx="297.4" cy="803.5" r="0.53"/><circle cx="271.0" cy="718.5" r="0.69"/><circle cx="430.8" cy="801.4" r="0.57"/><circle cx="345.6" cy="707.1" r="0.80"/><circle cx="305.6" cy="710.2" r="0.74"/><circle cx="415.2" cy="802.3" r="0.81"/><circle cx="400.0" cy="703.4" r="0.71"/><circle cx="356.5" cy="704.9" r="0.58"/><circle cx="270.6" cy="753.3" r="0.78"/><circle cx="344.2" cy="761.9" r="0.88"/><circle cx="314.8" cy="759.5" r="0.90"/><circle cx="310.4" cy="783.5" r="0.57"/><circle cx="312.8" cy="709.7" r="0.79"/><circle cx="332.7" cy="737.3" r="0.91"/><circle cx="294.5" cy="763.8" r="0.53"/><circle cx="278.4" cy="794.6" r="0.62"/><circle cx="405.7" cy="803.6" r="0.82"/><circle cx="418.1" cy="804.8" r="0.87"/><circle cx="418.4" cy="772.7" r="0.93"/><circle cx="326.2" cy="770.1" r="0.86"/><circle cx="417.1" cy="686.1" r="0.68"/><circle cx="432.7" cy="777.7" r="0.86"/><circle cx="351.9" cy="789.3" r="0.68"/><circle cx="297.4" cy="689.9" r="0.80"/><circle cx="272.8" cy="802.2" r="0.56"/><circle cx="296.6" cy="767.7" r="0.51"/><circle cx="389.0" cy="732.4" r="0.82"/><circle cx="412.2" cy="720.5" r="0.89"/><circle cx="358.8" cy="790.9" r="0.59"/><circle cx="361.1" cy="803.5" r="0.80"/><circle cx="359.6" cy="701.4" r="0.66"/><circle cx="295.9" cy="728.7" r="0.77"/><circle cx="301.1" cy="675.9" r="0.80"/><circle cx="366.4" cy="727.2" r="0.55"/><circle cx="285.7" cy="710.2" r="0.93"/><circle cx="287.1" cy="687.3" r="0.54"/><circle cx="278.1" cy="748.2" r="0.77"/><circle cx="415.8" cy="786.2" r="0.63"/><circle cx="348.7" cy="779.7" r="0.73"/><circle cx="368.1" cy="677.0" r="0.51"/><circle cx="332.4" cy="697.5" r="0.72"/><circle cx="312.8" cy="750.0" r="0.60"/><circle cx="296.8" cy="791.2" r="0.94"/><circle cx="364.0" cy="721.4" r="0.74"/><circle cx="422.8" cy="733.5" r="0.65"/><circle cx="446.7" cy="715.9" r="0.54"/><circle cx="268.7" cy="739.8" r="0.85"/><circle cx="318.8" cy="807.4" r="0.58"/><circle cx="443.8" cy="806.1" r="0.66"/><circle cx="445.9" cy="686.9" r="0.68"/><circle cx="355.3" cy="766.5" r="0.78"/><circle cx="280.3" cy="756.7" r="0.67"/><circle cx="411.6" cy="736.5" r="0.98"/><circle cx="440.1" cy="757.1" r="0.75"/><circle cx="340.0" cy="713.8" r="0.88"/><circle cx="368.8" cy="771.0" r="0.66"/><circle cx="353.4" cy="777.3" r="0.72"/><circle cx="310.2" cy="738.2" r="0.80"/><circle cx="384.5" cy="696.7" r="0.57"/><circle cx="353.4" cy="793.0" r="0.62"/><circle cx="420.7" cy="711.6" r="0.84"/><circle cx="312.3" cy="673.9" r="0.99"/><circle cx="424.3" cy="731.7" r="0.93"/><circle cx="279.2" cy="752.1" r="0.79"/><circle cx="296.1" cy="674.5" r="0.71"/><circle cx="367.7" cy="729.4" r="0.75"/><circle cx="285.9" cy="711.3" r="0.82"/><circle cx="372.6" cy="715.9" r="0.87"/><circle cx="274.6" cy="676.4" r="0.66"/><circle cx="269.3" cy="749.2" r="0.98"/><circle cx="402.9" cy="680.1" r="0.77"/><circle cx="416.2" cy="776.2" r="0.92"/><circle cx="301.7" cy="755.1" r="0.77"/><circle cx="288.9" cy="784.0" r="0.56"/><circle cx="354.9" cy="728.4" r="0.65"/><circle cx="286.1" cy="739.1" r="0.52"/><circle cx="442.4" cy="699.2" r="0.59"/><circle cx="361.9" cy="743.9" r="0.94"/><circle cx="309.8" cy="794.7" r="0.86"/><circle cx="323.9" cy="766.2" r="0.98"/><circle cx="439.2" cy="780.3" r="0.74"/><circle cx="273.0" cy="713.8" r="0.62"/><circle cx="419.0" cy="708.5" r="0.87"/><circle cx="401.5" cy="731.6" r="0.83"/><circle cx="418.3" cy="754.6" r="0.76"/><circle cx="418.0" cy="768.0" r="0.78"/><circle cx="420.9" cy="788.1" r="0.67"/><circle cx="439.5" cy="735.5" r="0.84"/><circle cx="351.7" cy="803.9" r="0.53"/><circle cx="420.4" cy="694.0" r="0.98"/><circle cx="417.1" cy="673.8" r="0.64"/><circle cx="276.6" cy="761.0" r="0.84"/><circle cx="285.9" cy="745.1" r="0.73"/><circle cx="299.7" cy="730.8" r="0.99"/><circle cx="308.2" cy="686.9" r="0.83"/><circle cx="328.7" cy="751.7" r="0.51"/><circle cx="397.5" cy="767.0" r="0.76"/><circle cx="433.4" cy="796.3" r="0.95"/><circle cx="447.3" cy="795.0" r="0.53"/><circle cx="402.9" cy="800.0" r="1.00"/><circle cx="315.9" cy="797.5" r="0.97"/><circle cx="380.1" cy="756.3" r="0.72"/><circle cx="331.9" cy="719.9" r="0.90"/><circle cx="385.2" cy="721.9" r="0.84"/><circle cx="400.4" cy="699.3" r="0.58"/><circle cx="421.0" cy="691.3" r="0.60"/><circle cx="407.1" cy="702.5" r="0.85"/><circle cx="434.2" cy="745.1" r="0.74"/><circle cx="306.9" cy="799.2" r="0.89"/><circle cx="329.2" cy="746.6" r="0.94"/><circle cx="345.7" cy="719.2" r="0.76"/><circle cx="415.3" cy="774.1" r="0.57"/><circle cx="355.9" cy="788.7" r="0.83"/><circle cx="442.9" cy="766.2" r="0.73"/><circle cx="304.2" cy="729.5" r="0.85"/><circle cx="332.3" cy="739.6" r="0.50"/><circle cx="416.9" cy="684.2" r="0.75"/><circle cx="315.1" cy="757.2" r="0.54"/><circle cx="291.6" cy="749.6" r="0.79"/><circle cx="282.9" cy="760.3" r="0.88"/><circle cx="394.5" cy="739.7" r="0.55"/><circle cx="361.3" cy="730.0" r="0.72"/><circle cx="278.3" cy="681.4" r="0.77"/><circle cx="362.1" cy="749.6" r="0.59"/><circle cx="312.0" cy="681.1" r="0.89"/><circle cx="316.7" cy="706.3" r="0.91"/><circle cx="290.9" cy="735.7" r="0.95"/><circle cx="423.7" cy="681.8" r="0.67"/><circle cx="317.9" cy="758.2" r="0.93"/><circle cx="366.5" cy="779.2" r="0.58"/><circle cx="300.1" cy="744.2" r="0.80"/><circle cx="365.2" cy="702.4" r="0.99"/><circle cx="412.8" cy="750.2" r="0.89"/><circle cx="398.8" cy="750.6" r="0.65"/><circle cx="384.7" cy="768.7" r="0.64"/><circle cx="275.3" cy="745.3" r="0.65"/><circle cx="419.2" cy="795.9" r="0.52"/><circle cx="438.6" cy="726.5" r="0.96"/><circle cx="281.2" cy="752.9" r="0.96"/><circle cx="274.9" cy="681.3" r="0.98"/><circle cx="332.9" cy="760.8" r="0.83"/><circle cx="314.4" cy="678.8" r="0.63"/><circle cx="429.8" cy="698.5" r="0.62"/><circle cx="432.2" cy="743.4" r="0.80"/><circle cx="320.2" cy="696.2" r="0.78"/><circle cx="414.3" cy="699.7" r="0.78"/><circle cx="363.4" cy="756.4" r="0.65"/><circle cx="398.4" cy="697.8" r="0.92"/><circle cx="416.6" cy="722.8" r="0.63"/><circle cx="353.3" cy="764.4" r="0.84"/><circle cx="380.7" cy="775.1" r="0.76"/><circle cx="347.4" cy="674.1" r="0.60"/><circle cx="366.3" cy="783.2" r="0.96"/><circle cx="368.5" cy="749.9" r="0.66"/><circle cx="413.9" cy="715.8" r="0.85"/><circle cx="338.5" cy="689.7" r="0.76"/><circle cx="308.5" cy="673.9" r="0.79"/><circle cx="371.6" cy="718.7" r="0.96"/><circle cx="419.4" cy="799.6" r="0.65"/><circle cx="427.5" cy="727.0" r="0.67"/><circle cx="314.3" cy="790.2" r="0.62"/><circle cx="336.5" cy="778.1" r="0.52"/><circle cx="431.9" cy="758.5" r="0.77"/><circle cx="342.9" cy="701.1" r="0.98"/><circle cx="309.9" cy="744.6" r="0.64"/><circle cx="299.3" cy="743.5" r="0.86"/><circle cx="288.0" cy="691.5" r="0.77"/><circle cx="298.0" cy="754.4" r="0.68"/><circle cx="285.1" cy="780.9" r="0.63"/><circle cx="434.5" cy="784.9" r="0.79"/><circle cx="436.1" cy="715.0" r="0.86"/><circle cx="339.9" cy="721.9" r="0.69"/><circle cx="418.5" cy="696.0" r="0.85"/><circle cx="429.2" cy="766.8" r="0.93"/><circle cx="375.0" cy="772.9" r="0.64"/><circle cx="422.6" cy="718.8" r="0.91"/><circle cx="385.7" cy="781.3" r="0.97"/><circle cx="359.3" cy="710.6" r="0.61"/><circle cx="382.9" cy="785.7" r="0.62"/><circle cx="328.0" cy="766.5" r="0.77"/><circle cx="279.4" cy="757.0" r="0.54"/><circle cx="389.5" cy="676.5" r="0.73"/><circle cx="367.3" cy="701.2" r="0.69"/><circle cx="298.4" cy="791.9" r="0.99"/><circle cx="440.2" cy="786.9" r="0.80"/><circle cx="429.8" cy="807.4" r="0.62"/><circle cx="278.7" cy="762.7" r="0.70"/><circle cx="377.9" cy="719.9" r="0.74"/><circle cx="356.2" cy="677.0" r="0.93"/><circle cx="290.7" cy="701.5" r="0.89"/><circle cx="293.1" cy="739.8" r="0.99"/><circle cx="369.6" cy="735.8" r="0.56"/><circle cx="401.0" cy="793.8" r="0.86"/><circle cx="316.7" cy="757.5" r="0.96"/><circle cx="311.4" cy="785.2" r="0.99"/><circle cx="410.9" cy="703.4" r="0.85"/><circle cx="412.7" cy="747.4" r="0.53"/><circle cx="421.6" cy="782.8" r="0.72"/><circle cx="314.0" cy="737.9" r="0.95"/><circle cx="435.0" cy="804.2" r="0.88"/><circle cx="369.2" cy="693.1" r="0.71"/><circle cx="295.4" cy="755.5" r="0.96"/><circle cx="416.6" cy="805.1" r="0.52"/><circle cx="292.0" cy="770.4" r="0.66"/><circle cx="283.1" cy="697.3" r="0.70"/><circle cx="340.8" cy="788.9" r="0.85"/><circle cx="437.5" cy="725.9" r="0.90"/><circle cx="439.5" cy="799.6" r="0.80"/><circle cx="282.2" cy="768.4" r="0.79"/><circle cx="408.1" cy="787.6" r="0.77"/><circle cx="368.9" cy="758.6" r="0.74"/><circle cx="308.2" cy="676.9" r="0.93"/><circle cx="435.2" cy="678.0" r="0.79"/><circle cx="389.2" cy="764.9" r="0.91"/><circle cx="355.6" cy="713.7" r="0.78"/><circle cx="438.7" cy="698.6" r="0.64"/><circle cx="277.7" cy="717.6" r="0.95"/><circle cx="285.0" cy="702.2" r="0.66"/><circle cx="385.9" cy="706.4" r="0.83"/><circle cx="303.8" cy="702.6" r="0.90"/><circle cx="427.7" cy="801.5" r="0.57"/><circle cx="325.5" cy="695.0" r="0.60"/><circle cx="414.7" cy="728.4" r="0.66"/><circle cx="423.0" cy="730.3" r="0.97"/><circle cx="315.2" cy="723.5" r="0.77"/><circle cx="391.6" cy="789.1" r="0.89"/><circle cx="296.3" cy="722.3" r="0.88"/><circle cx="439.2" cy="723.4" r="0.86"/><circle cx="309.8" cy="800.5" r="0.68"/><circle cx="436.3" cy="745.4" r="0.94"/><circle cx="302.1" cy="807.4" r="0.74"/><circle cx="285.0" cy="726.4" r="0.71"/><circle cx="423.0" cy="784.7" r="0.66"/><circle cx="382.6" cy="679.0" r="0.65"/><circle cx="399.7" cy="717.4" r="0.72"/><circle cx="269.7" cy="715.9" r="0.90"/><circle cx="375.3" cy="696.0" r="0.74"/><circle cx="309.6" cy="796.9" r="0.52"/><circle cx="317.4" cy="707.8" r="0.96"/><circle cx="390.4" cy="782.9" r="0.95"/></g>
<g clip-path="url(#chd)"><g transform="translate(266,671) scale(0.26860)" filter="url(#fblur)">
<path d="M10,10 L680,10 L680,130 L500,110 L350,90 L200,80 L10,120 Z" fill="#d49aba" opacity="0.6"/>
<path d="M110,100 L240,95 L300,150 L500,140 L560,200 L680,220 L680,420 L560,430 L500,480 L300,480 L100,500 L10,470 L10,180 Z" fill="#b06e9c" opacity="0.6"/>
<path d="M140,125 L170,115 L200,130 L230,125 L215,145 L180,150 L150,145 Z" fill="#f3e8ef" stroke="#7e3878" stroke-width="9" stroke-linejoin="round" stroke-linecap="round"/>
<path d="M325,150 L360,140 L400,160 L440,170 L475,172 L460,190 L420,195 L380,180 L340,170 Z" fill="#f3e8ef" stroke="#7e3878" stroke-width="9" stroke-linejoin="round" stroke-linecap="round"/>
<path d="M210,240 L250,230 L270,210 L300,200 L310,225 L350,235 L400,240 L430,260 L400,275 L360,265 L320,270 L290,280 L250,270 L220,262 Z" fill="#f3e8ef" stroke="#7e3878" stroke-width="9" stroke-linejoin="round" stroke-linecap="round"/>
<path d="M60,210 L100,220 L135,245 L110,250 L75,232 Z" fill="#f3e8ef" stroke="#7e3878" stroke-width="8" stroke-linejoin="round" stroke-linecap="round"/>
<path d="M35,300 L90,310 L150,325 L210,335 L240,345 L200,352 L140,345 L80,335 L40,320 Z" fill="#f3e8ef" stroke="#7e3878" stroke-width="9" stroke-linejoin="round" stroke-linecap="round"/>
<path d="M175,280 L220,290 L260,310 L300,330 L340,350 L300,358 L250,340 L210,318 Z" fill="#f3e8ef" stroke="#7e3878" stroke-width="9" stroke-linejoin="round" stroke-linecap="round"/>
<path d="M485,220 L520,235 L545,270 L550,300 L525,295 L505,260 Z" fill="#f3e8ef" stroke="#7e3878" stroke-width="8" stroke-linejoin="round" stroke-linecap="round"/>
<path d="M555,330 L600,310 L620,270 L635,230 L660,250 L665,300 L650,340 L620,370 L600,400 L575,405 L560,380 Z" fill="#f3e8ef" stroke="#7e3878" stroke-width="9" stroke-linejoin="round" stroke-linecap="round"/>
<path d="M355,420 L400,412 L450,420 L490,440 L460,455 L410,452 L370,440 Z" fill="#f3e8ef" stroke="#7e3878" stroke-width="9" stroke-linejoin="round" stroke-linecap="round"/>
<path d="M115,400 L170,405 L230,420 L290,440 L250,455 L190,450 L140,430 Z" fill="#f3e8ef" stroke="#7e3878" stroke-width="9" stroke-linejoin="round" stroke-linecap="round"/>
<path d="M95,455 L140,460 L190,478 L205,492 L160,495 L120,480 Z" fill="#f3e8ef" stroke="#7e3878" stroke-width="8" stroke-linejoin="round" stroke-linecap="round"/>
<path d="M15,400 L50,405 L75,420 L55,435 L25,425 Z" fill="#f3e8ef" stroke="#7e3878" stroke-width="8" stroke-linejoin="round" stroke-linecap="round"/>
<path d="M255,155 L290,160 L300,178 L265,175 Z" fill="#f3e8ef" stroke="#7e3878" stroke-width="7" stroke-linejoin="round" stroke-linecap="round"/>
<path d="M430,305 L470,315 L490,338 L450,335 Z" fill="#f3e8ef" stroke="#7e3878" stroke-width="7" stroke-linejoin="round" stroke-linecap="round"/>
<path d="M600,450 L640,455 L680,480 L680,500 L630,490 Z" fill="#f3e8ef" stroke="#7e3878" stroke-width="8" stroke-linejoin="round" stroke-linecap="round"/>
<path d="M380,300 L420,320 L440,345 L400,340 Z" fill="#f3e8ef" stroke="#7e3878" stroke-width="7" stroke-linejoin="round" stroke-linecap="round"/>
<path d="M60,250 L90,270 L70,280 Z" fill="#f3e8ef" stroke="#7e3878" stroke-width="6" stroke-linejoin="round" stroke-linecap="round"/>
</g></g>
<rect x="452" y="535" width="179" height="133.6" fill="#7e8aba"/>
<g clip-path="url(#cma)"><g transform="translate(450,533) scale(0.26860)" filter="url(#fblur)">
<path d="M10,180 L80,200 L150,260 L200,330 L240,400 L300,470 L300,505 L200,480 L100,420 L30,350 L10,300 Z" fill="#485e98"/>
<path d="M200,250 L300,270 L400,300 L500,310 L560,300 L620,320 L680,330 L680,505 L320,505 L260,440 L220,330 Z" fill="#6676ac"/>
<path d="M190,12 L445,12 L450,100 L400,112 L330,105 L270,125 L215,118 L195,80 Z" fill="#f4eef2"/>
<path d="M585,12 L640,12 L632,55 L605,68 Z" fill="#f4eef2"/>
<path d="M10,310 L40,365 L100,425 L180,470 L280,505 L10,505 Z" fill="#f1ebf0"/>
<path d="M20,50 L55,30 L95,55 L140,35 L180,55 L170,105 L150,150 L100,170 L60,150 L30,110 Z" fill="#76564f" stroke="#4a2418" stroke-width="12" stroke-linejoin="round" stroke-linecap="round"/>
<path d="M65,85 L120,95 L140,125 L100,140 L75,115 Z" fill="#d8d0dc"/>
<path d="M25,60 L50,50 L60,90 L40,95 Z" fill="#cfc6d2"/>
<path d="M70,175 L120,182 L165,205 L150,232 L92,218 Z" fill="#ebe4ea"/>
<path d="M260,115 L300,110 L340,150 L330,200 L290,220 L265,180 Z" fill="#a89aa8" stroke="#4a2418" stroke-width="12" stroke-linejoin="round" stroke-linecap="round"/>
<path d="M505,60 L540,55 L575,100 L605,160 L595,210 L560,200 L530,150 L505,100 Z" fill="#b8a8b0" stroke="#4a2418" stroke-width="14" stroke-linejoin="round" stroke-linecap="round"/>
<path d="M325,220 L380,205 L440,230 L460,270 L420,300 L370,290 L340,260 Z" fill="#5e3c34" stroke="#4a2418" stroke-width="10" stroke-linejoin="round" stroke-linecap="round"/>
<path d="M370,240 L410,250 L420,275 L385,270 Z" fill="#d6ccd6"/>
<path d="M430,185 L500,200 L560,240 L570,265 L520,255 L460,225 Z" fill="#a898a8" stroke="#4a2418" stroke-width="9" stroke-linejoin="round" stroke-linecap="round"/>
<path d="M210,310 L260,285 L320,300 L360,330 L330,360 L300,420 L260,450 L220,420 L200,370 Z" fill="#6c4c4a" stroke="#4a2418" stroke-width="14" stroke-linejoin="round" stroke-linecap="round"/>
<path d="M240,330 L290,322 L310,350 L275,398 L245,380 Z" fill="#ddd2dc"/>
<path d="M340,350 L380,340 L420,400 L430,460 L400,500 L350,490 L330,430 Z" fill="#c4b6c0" stroke="#4a2418" stroke-width="14" stroke-linejoin="round" stroke-linecap="round"/>
<path d="M450,345 L520,325 L580,340 L610,400 L600,440 L540,430 L480,420 L455,390 Z" fill="#b4a4b0" stroke="#4a2418" stroke-width="14" stroke-linejoin="round" stroke-linecap="round"/>
<path d="M520,370 L560,380 L570,410 L530,405 Z" fill="#5a3a34"/>
<path d="M600,180 L650,190 L660,240 L620,240 Z" fill="#5a3c38" stroke="#4a2418" stroke-width="6" stroke-linejoin="round" stroke-linecap="round"/>
<path d="M610,270 L680,250 L680,330 L620,320 Z" fill="#eee6ec" stroke="#4a2418" stroke-width="8" stroke-linejoin="round" stroke-linecap="round"/>
<path d="M620,370 L680,355 L680,440 L630,430 Z" fill="#eee6ec" stroke="#4a2418" stroke-width="8" stroke-linejoin="round" stroke-linecap="round"/>
<path d="M60,230 L120,260 L170,300" fill="none" stroke="#f0e6ee" stroke-width="12" stroke-linejoin="round" stroke-linecap="round"/>
<path d="M175,190 L200,215" fill="none" stroke="#4a2418" stroke-width="10" stroke-linejoin="round" stroke-linecap="round"/>
</g></g>
<rect x="452" y="535" width="179" height="133.6" filter="url(#mtex)" opacity="0.28"/>
<rect x="452" y="673.6" width="179" height="134.4" fill="#6884b4"/>
<g clip-path="url(#cmd)"><g transform="translate(450,671) scale(0.26860)" filter="url(#fblur)">
<path d="M10,10 L130,10 L160,50 L175,100 L200,140 L190,190 L160,230 L100,245 L40,230 L10,200 Z" fill="#5e3429"/>
<path d="M20,150 L80,128 L140,105 L120,140 L60,160 Z" fill="#f4eef2"/>
<path d="M30,40 L70,50 L60,72 Z" fill="#f0e8ec"/>
<path d="M60,190 L100,180 L90,200 Z" fill="#f0e8ec"/>
<path d="M140,10 L345,10 L340,50 L300,80 L270,110 L250,140 L215,130 L190,90 L170,55 Z" fill="#5e3429"/>
<path d="M170,20 L225,28 L210,65 L180,58 Z" fill="#f4eef2"/>
<path d="M270,20 L325,25 L300,62 L270,52 Z" fill="#f4eef2"/>
<path d="M110,250 L170,235 L230,225 L290,240 L320,270 L310,320 L270,360 L230,400 L210,450 L190,500 L100,500 L60,470 L60,400 L85,330 L95,280 Z" fill="#5e3429"/>
<path d="M150,300 L220,290 L280,270 L250,302 L200,322 L160,332 Z" fill="#f6f0f4"/>
<path d="M80,385 L150,362 L200,350 L150,392 Z" fill="#f4eef2"/>
<path d="M100,440 L170,430 L180,462 L120,466 Z" fill="#f2eaee"/>
<path d="M120,270 L150,265 L140,285 Z" fill="#f0e8ec"/>
<path d="M350,200 L380,165 L430,150 L480,160 L500,195 L480,225 L430,235 L385,225 Z" fill="#5e3429"/>
<path d="M400,185 L470,178 L465,198 L410,202 Z" fill="#f4eef2"/>
<path d="M330,285 L365,280 L370,380 L340,375 Z" fill="#5e3429"/>
<path d="M385,310 L430,295 L490,305 L530,320 L540,350 L500,380 L460,400 L430,420 L400,400 L385,360 Z" fill="#5e3429"/>
<path d="M390,322 L450,330 L500,345 L440,356 Z" fill="#f4eef2"/>
<path d="M525,120 L570,100 L620,95 L660,110 L680,140 L680,400 L650,400 L640,330 L620,300 L580,305 L545,290 L525,250 L520,180 Z" fill="#5e3429"/>
<path d="M538,175 C538,150 612,150 612,225 C612,300 542,300 538,250 Z" fill="#ece4ea"/>
<path d="M556,200 C556,180 596,180 596,228 C596,268 560,268 556,235 Z" fill="#6e545a"/>
<path d="M640,300 L665,320 L660,380 Z" fill="#f0e8ec"/>
<path d="M520,10 L680,10 L680,62 L620,62 L560,42 Z" fill="#5e3429"/>
<path d="M570,20 L625,25 L612,46 Z" fill="#f0e8ec"/>
<path d="M410,455 C410,430 500,430 500,470 C500,505 410,505 410,475 Z" fill="#5e3429"/>
<path d="M440,458 C440,448 478,448 478,468 C478,484 440,484 440,468 Z" fill="#d8ccd4"/>
<path d="M600,420 L640,425 L630,460 L600,455 Z" fill="#5e3429"/>
<path d="M345,410 L365,420 L355,440 Z" fill="#5e3429"/>
</g></g>
<rect x="452" y="673.6" width="179" height="134.4" filter="url(#mtex)" opacity="0.32"/>
<rect x="436.5" y="664.3" width="6" height="1.6" fill="#fff"/>
<rect x="436.5" y="803.3" width="6" height="1.6" fill="#fff"/>
<rect x="620" y="664.3" width="6" height="1.6" fill="#fff"/>
<rect x="620" y="803.3" width="6" height="1.6" fill="#fff"/>
<text x="358.50" y="530.40" font-size="14.3" font-weight="700" fill="#000" text-anchor="middle" font-style="normal" >H&amp;E</text>
<text x="541.50" y="530.60" font-size="14.3" font-weight="700" fill="#000" text-anchor="middle" font-style="normal" >MUC5AC</text>
<text x="35.20" y="602.00" font-size="14.5" font-weight="700" fill="#000" text-anchor="middle" font-style="normal" transform="rotate(-90 35.2 602)" >Acinar derived</text>
<text x="35.20" y="737.50" font-size="14.5" font-weight="700" fill="#000" text-anchor="middle" font-style="normal" transform="rotate(-90 35.2 737.5)" >Ductal derived</text>
<text x="264.60" y="606.00" font-size="14.5" font-weight="700" fill="#000" text-anchor="middle" font-style="normal" transform="rotate(-90 264.6 606)" >Acinar derived</text>
<text x="264.60" y="740.40" font-size="14.5" font-weight="700" fill="#000" text-anchor="middle" font-style="normal" transform="rotate(-90 264.6 740.4)" >Ductal derived</text>
<defs><filter id="gblur" x="-5%" y="-5%" width="110%" height="110%"><feGaussianBlur stdDeviation="2.5"/></filter><filter id="gtex" x="0" y="0" width="100%" height="100%"><feTurbulence type="turbulence" baseFrequency="0.22" numOctaves="3" seed="5" result="n"/><feColorMatrix type="matrix" values="1.8 0 0 0 0.3  1.8 0 0 0 0.3  1.8 0 0 0 0.3  0 0 0 0 1"/></filter></defs>
<text x="4.50" y="838.20" font-size="19" font-weight="700" fill="#000" text-anchor="start" font-style="normal" >g</text>
<clipPath id="cpg00"><rect x="33" y="860.6" width="148.4" height="111.0"/></clipPath>
<g clip-path="url(#cpg00)">
<rect x="33" y="860.6" width="148.4" height="111.0" fill="#104210"/>
<pattern id="ptg00" patternUnits="userSpaceOnUse" width="26" height="23"><rect width="26" height="23" fill="#175617"/><circle cx="13" cy="11.5" r="9" fill="none" stroke="#2c962c" stroke-width="3.2" opacity="0.85"/></pattern>
<g transform="translate(31.00,858.10) scale(0.22482)" filter="url(#gblur)">
<path d="M110,150 L160,110 L205,62 L240,92 L300,115 L345,135 L365,170 L372,205 L360,240 L340,240 L320,200 L285,170 L232,143 L166,137 L115,165 Z" fill="#0a280a"/>
<path d="M600,175 L670,165 L670,300 L615,310 L590,262 Z" fill="#0a280a"/>
<path d="M0,0 L45,0 L45,520 L0,520 Z" fill="#0a280a"/>
<path d="M0,300 L95,300 L120,430 L140,520 L0,520 Z" fill="#0a280a"/>
<path d="M160,430 L250,430 L300,520 L150,520 Z" fill="#0a280a"/>
<path d="M440,480 L520,460 L600,470 L670,480 L670,520 L430,520 Z" fill="#0a280a"/>
<path d="M0,0 L110,0 L95,50 L70,100 L45,160 L40,220 L0,220 Z" fill="#0a280a"/>
<path d="M330,12 L470,12 L465,60 L430,75 L380,72 L340,60 L320,35 Z" fill="url(#ptg00)"/>
<path d="M440,125 L500,60 L560,40 L600,18 L645,28 L640,80 L600,110 L540,132 L490,150 L450,140 Z" fill="url(#ptg00)"/>
<path d="M480,150 L540,140 L560,170 L530,190 L490,185 Z" fill="url(#ptg00)"/>
<path d="M425,258 C425,200 485,200 485,258 C485,330 425,330 425,258 Z" fill="url(#ptg00)"/>
<path d="M540,250 L570,200 L600,140 L640,100 L670,88 L670,170 L600,175 L590,262 L615,310 L670,300 L670,455 L620,440 L565,420 L600,372 L610,322 L580,302 L550,292 Z" fill="url(#ptg00)"/>
<path d="M40,240 L100,230 L150,220 L160,260 L130,300 L80,295 L45,280 Z" fill="url(#ptg00)"/>
<path d="M95,295 L140,305 L160,360 L160,420 L145,450 L120,420 L105,360 Z" fill="url(#ptg00)"/>
<path d="M165,252 L220,268 L270,302 L290,350 L280,410 L240,422 L200,402 L178,352 L165,300 Z" fill="url(#ptg00)"/>
<path d="M290,345 L350,362 L410,382 L440,402 L430,460 L400,505 L320,505 L280,470 L262,430 L270,382 Z" fill="url(#ptg00)"/>
<path d="M97,178 L166,142 L230,148 L285,178 L324,226 L350,274 L372,312" fill="none" stroke="url(#ptg00)" stroke-width="28" stroke-linejoin="round" stroke-linecap="round"/>
<path d="M92,152 L150,100 L205,50 L232,84 L285,104 L346,116 L382,160 L398,205 L395,255" fill="none" stroke="url(#ptg00)" stroke-width="11" stroke-linejoin="round" stroke-linecap="round"/>
<path d="M214,246 L280,300 L344,344 L400,370 L440,395" fill="none" stroke="url(#ptg00)" stroke-width="7" stroke-linejoin="round" stroke-linecap="round"/>
<path d="M445,470 L500,440 L560,410 L630,420 L670,450" fill="none" stroke="url(#ptg00)" stroke-width="20" stroke-linejoin="round" stroke-linecap="round"/>
<path d="M440,258 C440,226 470,226 470,258 C470,296 440,296 440,258 Z" fill="#0c300c"/>
<path d="M360,30 L440,28 L438,50 L370,52 Z" fill="#0c300c"/>
<path d="M200,300 L240,320 L250,360 L225,380 L205,350 Z" fill="#0c300c"/>
<path d="M320,400 L380,410 L370,460 L330,450 Z" fill="#0c300c"/>
</g>
</g>
<rect x="163.9" y="966.2" width="15.5" height="3.2" fill="#f4f4f4" stroke="#888" stroke-width="0.4"/>
<clipPath id="cpg01"><rect x="184.2" y="860.6" width="148.2" height="111.0"/></clipPath>
<g clip-path="url(#cpg01)">
<rect x="184.2" y="860.6" width="148.2" height="111.0" fill="#0c0c0c"/>
<pattern id="ptg01" patternUnits="userSpaceOnUse" width="26" height="23"><rect width="26" height="23" fill="#2c2c2c"/><circle cx="13" cy="11.5" r="9" fill="none" stroke="#8c8c8c" stroke-width="3.2" opacity="0.85"/></pattern>
<g transform="translate(182.20,858.10) scale(0.22482)" filter="url(#gblur)">
<path d="M110,150 L160,110 L205,62 L240,92 L300,115 L345,135 L365,170 L372,205 L360,240 L340,240 L320,200 L285,170 L232,143 L166,137 L115,165 Z" fill="#070707"/>
<path d="M600,175 L670,165 L670,300 L615,310 L590,262 Z" fill="#070707"/>
<path d="M0,0 L45,0 L45,520 L0,520 Z" fill="#070707"/>
<path d="M0,300 L95,300 L120,430 L140,520 L0,520 Z" fill="#070707"/>
<path d="M160,430 L250,430 L300,520 L150,520 Z" fill="#070707"/>
<path d="M440,480 L520,460 L600,470 L670,480 L670,520 L430,520 Z" fill="#070707"/>
<path d="M0,0 L110,0 L95,50 L70,100 L45,160 L40,220 L0,220 Z" fill="#070707"/>
<path d="M330,12 L470,12 L465,60 L430,75 L380,72 L340,60 L320,35 Z" fill="url(#ptg01)"/>
<path d="M440,125 L500,60 L560,40 L600,18 L645,28 L640,80 L600,110 L540,132 L490,150 L450,140 Z" fill="url(#ptg01)"/>
<path d="M480,150 L540,140 L560,170 L530,190 L490,185 Z" fill="url(#ptg01)"/>
<path d="M425,258 C425,200 485,200 485,258 C485,330 425,330 425,258 Z" fill="url(#ptg01)"/>
<path d="M540,250 L570,200 L600,140 L640,100 L670,88 L670,170 L600,175 L590,262 L615,310 L670,300 L670,455 L620,440 L565,420 L600,372 L610,322 L580,302 L550,292 Z" fill="url(#ptg01)"/>
<path d="M40,240 L100,230 L150,220 L160,260 L130,300 L80,295 L45,280 Z" fill="url(#ptg01)"/>
<path d="M95,295 L140,305 L160,360 L160,420 L145,450 L120,420 L105,360 Z" fill="url(#ptg01)"/>
<path d="M165,252 L220,268 L270,302 L290,350 L280,410 L240,422 L200,402 L178,352 L165,300 Z" fill="url(#ptg01)"/>
<path d="M290,345 L350,362 L410,382 L440,402 L430,460 L400,505 L320,505 L280,470 L262,430 L270,382 Z" fill="url(#ptg01)"/>
<path d="M97,178 L166,142 L230,148 L285,178 L324,226 L350,274 L372,312" fill="none" stroke="url(#ptg01)" stroke-width="28" stroke-linejoin="round" stroke-linecap="round"/>
<path d="M92,152 L150,100 L205,50 L232,84 L285,104 L346,116 L382,160 L398,205 L395,255" fill="none" stroke="url(#ptg01)" stroke-width="11" stroke-linejoin="round" stroke-linecap="round"/>
<path d="M214,246 L280,300 L344,344 L400,370 L440,395" fill="none" stroke="url(#ptg01)" stroke-width="7" stroke-linejoin="round" stroke-linecap="round"/>
<path d="M445,470 L500,440 L560,410 L630,420 L670,450" fill="none" stroke="url(#ptg01)" stroke-width="20" stroke-linejoin="round" stroke-linecap="round"/>
<path d="M440,258 C440,226 470,226 470,258 C470,296 440,296 440,258 Z" fill="#141414"/>
<path d="M360,30 L440,28 L438,50 L370,52 Z" fill="#141414"/>
<path d="M200,300 L240,320 L250,360 L225,380 L205,350 Z" fill="#141414"/>
<path d="M320,400 L380,410 L370,460 L330,450 Z" fill="#141414"/>
</g>
</g>
<rect x="314.9" y="966.2" width="15.5" height="3.2" fill="#f4f4f4" stroke="#888" stroke-width="0.4"/>
<clipPath id="cpg02"><rect x="334.6" y="860.6" width="148.0" height="111.0"/></clipPath>
<g clip-path="url(#cpg02)">
<rect x="334.6" y="860.6" width="148.0" height="111.0" fill="#600000"/>
<pattern id="ptg02" patternUnits="userSpaceOnUse" width="26" height="23"><rect width="26" height="23" fill="#900000"/><circle cx="13" cy="11.5" r="9" fill="none" stroke="#cc0808" stroke-width="3.2" opacity="0.85"/></pattern>
<g transform="translate(332.60,858.10) scale(0.22482)" filter="url(#gblur)">
<path d="M110,150 L160,110 L205,62 L240,92 L300,115 L345,135 L365,170 L372,205 L360,240 L340,240 L320,200 L285,170 L232,143 L166,137 L115,165 Z" fill="#2a0000"/>
<path d="M600,175 L670,165 L670,300 L615,310 L590,262 Z" fill="#2a0000"/>
<path d="M0,0 L45,0 L45,520 L0,520 Z" fill="#2a0000"/>
<path d="M0,300 L95,300 L120,430 L140,520 L0,520 Z" fill="#2a0000"/>
<path d="M160,430 L250,430 L300,520 L150,520 Z" fill="#2a0000"/>
<path d="M440,480 L520,460 L600,470 L670,480 L670,520 L430,520 Z" fill="#2a0000"/>
<path d="M0,0 L110,0 L95,50 L70,100 L45,160 L40,220 L0,220 Z" fill="#2a0000"/>
<path d="M330,12 L470,12 L465,60 L430,75 L380,72 L340,60 L320,35 Z" fill="url(#ptg02)"/>
<path d="M440,125 L500,60 L560,40 L600,18 L645,28 L640,80 L600,110 L540,132 L490,150 L450,140 Z" fill="url(#ptg02)"/>
<path d="M480,150 L540,140 L560,170 L530,190 L490,185 Z" fill="url(#ptg02)"/>
<path d="M425,258 C425,200 485,200 485,258 C485,330 425,330 425,258 Z" fill="url(#ptg02)"/>
<path d="M540,250 L570,200 L600,140 L640,100 L670,88 L670,170 L600,175 L590,262 L615,310 L670,300 L670,455 L620,440 L565,420 L600,372 L610,322 L580,302 L550,292 Z" fill="url(#ptg02)"/>
<path d="M40,240 L100,230 L150,220 L160,260 L130,300 L80,295 L45,280 Z" fill="url(#ptg02)"/>
<path d="M95,295 L140,305 L160,360 L160,420 L145,450 L120,420 L105,360 Z" fill="url(#ptg02)"/>
<path d="M165,252 L220,268 L270,302 L290,350 L280,410 L240,422 L200,402 L178,352 L165,300 Z" fill="url(#ptg02)"/>
<path d="M290,345 L350,362 L410,382 L440,402 L430,460 L400,505 L320,505 L280,470 L262,430 L270,382 Z" fill="url(#ptg02)"/>
<path d="M97,178 L166,142 L230,148 L285,178 L324,226 L350,274 L372,312" fill="none" stroke="url(#ptg02)" stroke-width="28" stroke-linejoin="round" stroke-linecap="round"/>
<path d="M92,152 L150,100 L205,50 L232,84 L285,104 L346,116 L382,160 L398,205 L395,255" fill="none" stroke="url(#ptg02)" stroke-width="11" stroke-linejoin="round" stroke-linecap="round"/>
<path d="M214,246 L280,300 L344,344 L400,370 L440,395" fill="none" stroke="url(#ptg02)" stroke-width="7" stroke-linejoin="round" stroke-linecap="round"/>
<path d="M445,470 L500,440 L560,410 L630,420 L670,450" fill="none" stroke="url(#ptg02)" stroke-width="20" stroke-linejoin="round" stroke-linecap="round"/>
<path d="M440,258 C440,226 470,226 470,258 C470,296 440,296 440,258 Z" fill="#420000"/>
<path d="M360,30 L440,28 L438,50 L370,52 Z" fill="#420000"/>
<path d="M200,300 L240,320 L250,360 L225,380 L205,350 Z" fill="#420000"/>
<path d="M320,400 L380,410 L370,460 L330,450 Z" fill="#420000"/>
</g>
</g>
<rect x="465.1" y="966.2" width="15.5" height="3.2" fill="#f4f4f4" stroke="#888" stroke-width="0.4"/>
<clipPath id="cpg03"><rect x="485.4" y="860.6" width="148.2" height="111.0"/></clipPath>
<g clip-path="url(#cpg03)">
<rect x="485.4" y="860.6" width="148.2" height="111.0" fill="#3e4e1c"/>
<pattern id="ptg03" patternUnits="userSpaceOnUse" width="26" height="23"><rect width="26" height="23" fill="#7a6a44"/><circle cx="13" cy="11.5" r="9" fill="none" stroke="#e0d0ae" stroke-width="3.2" opacity="0.85"/></pattern>
<g transform="translate(483.40,858.10) scale(0.22482)" filter="url(#gblur)">
<path d="M110,150 L160,110 L205,62 L240,92 L300,115 L345,135 L365,170 L372,205 L360,240 L340,240 L320,200 L285,170 L232,143 L166,137 L115,165 Z" fill="#2c1808"/>
<path d="M600,175 L670,165 L670,300 L615,310 L590,262 Z" fill="#2c1808"/>
<path d="M0,0 L45,0 L45,520 L0,520 Z" fill="#2c1808"/>
<path d="M0,300 L95,300 L120,430 L140,520 L0,520 Z" fill="#2c1808"/>
<path d="M160,430 L250,430 L300,520 L150,520 Z" fill="#2c1808"/>
<path d="M440,480 L520,460 L600,470 L670,480 L670,520 L430,520 Z" fill="#2c1808"/>
<path d="M0,0 L110,0 L95,50 L70,100 L45,160 L40,220 L0,220 Z" fill="#2c1808"/>
<path d="M330,12 L470,12 L465,60 L430,75 L380,72 L340,60 L320,35 Z" fill="url(#ptg03)"/>
<path d="M440,125 L500,60 L560,40 L600,18 L645,28 L640,80 L600,110 L540,132 L490,150 L450,140 Z" fill="url(#ptg03)"/>
<path d="M480,150 L540,140 L560,170 L530,190 L490,185 Z" fill="url(#ptg03)"/>
<path d="M425,258 C425,200 485,200 485,258 C485,330 425,330 425,258 Z" fill="url(#ptg03)"/>
<path d="M540,250 L570,200 L600,140 L640,100 L670,88 L670,170 L600,175 L590,262 L615,310 L670,300 L670,455 L620,440 L565,420 L600,372 L610,322 L580,302 L550,292 Z" fill="url(#ptg03)"/>
<path d="M40,240 L100,230 L150,220 L160,260 L130,300 L80,295 L45,280 Z" fill="url(#ptg03)"/>
<path d="M95,295 L140,305 L160,360 L160,420 L145,450 L120,420 L105,360 Z" fill="url(#ptg03)"/>
<path d="M165,252 L220,268 L270,302 L290,350 L280,410 L240,422 L200,402 L178,352 L165,300 Z" fill="url(#ptg03)"/>
<path d="M290,345 L350,362 L410,382 L440,402 L430,460 L400,505 L320,505 L280,470 L262,430 L270,382 Z" fill="url(#ptg03)"/>
<path d="M97,178 L166,142 L230,148 L285,178 L324,226 L350,274 L372,312" fill="none" stroke="url(#ptg03)" stroke-width="28" stroke-linejoin="round" stroke-linecap="round"/>
<path d="M92,152 L150,100 L205,50 L232,84 L285,104 L346,116 L382,160 L398,205 L395,255" fill="none" stroke="url(#ptg03)" stroke-width="11" stroke-linejoin="round" stroke-linecap="round"/>
<path d="M214,246 L280,300 L344,344 L400,370 L440,395" fill="none" stroke="url(#ptg03)" stroke-width="7" stroke-linejoin="round" stroke-linecap="round"/>
<path d="M445,470 L500,440 L560,410 L630,420 L670,450" fill="none" stroke="url(#ptg03)" stroke-width="20" stroke-linejoin="round" stroke-linecap="round"/>
<path d="M440,258 C440,226 470,226 470,258 C470,296 440,296 440,258 Z" fill="#3a2a10"/>
<path d="M360,30 L440,28 L438,50 L370,52 Z" fill="#3a2a10"/>
<path d="M200,300 L240,320 L250,360 L225,380 L205,350 Z" fill="#3a2a10"/>
<path d="M320,400 L380,410 L370,460 L330,450 Z" fill="#3a2a10"/>
</g>
</g>
<rect x="616.1" y="966.2" width="15.5" height="3.2" fill="#f4f4f4" stroke="#888" stroke-width="0.4"/>
<clipPath id="cpg10"><rect x="33" y="974.4" width="148.4" height="111.6"/></clipPath>
<g clip-path="url(#cpg10)">
<rect x="33" y="974.4" width="148.4" height="111.6" fill="#0e300e"/>
<pattern id="ptg10" patternUnits="userSpaceOnUse" width="26" height="23"><rect width="26" height="23" fill="#186418"/><circle cx="13" cy="11.5" r="9" fill="none" stroke="#3cbc3c" stroke-width="3.2" opacity="0.85"/></pattern>
<g transform="translate(31.00,971.90) scale(0.22482)" filter="url(#gblur)">
<path d="M0,0 L260,0 L250,100 L215,130 L200,300 L150,340 L0,340 Z" fill="#082608"/>
<path d="M0,340 L40,360 L40,520 L0,520 Z" fill="#082608"/>
<path d="M230,400 L300,405 L380,420 L440,440 L490,470 L500,520 L230,520 Z" fill="#082608"/>
<path d="M225,100 L280,90 L330,80 L380,85 L430,100 L445,150 L420,180 L450,200 L400,230 L350,250 L300,260 L250,270 L225,240 L220,180 Z" fill="url(#ptg10)"/>
<path d="M280,12 L470,12 L460,60 L430,90 L380,90 L330,80 L300,60 Z" fill="url(#ptg10)"/>
<path d="M480,12 L680,12 L680,40 L560,40 L500,50 Z" fill="url(#ptg10)"/>
<path d="M200,290 L260,270 L330,250 L400,240 L450,220 L500,190 L550,160 L600,130 L680,95 L680,150 L600,160 L520,200 L470,240 L440,290 L400,320 L340,330 L280,310 L300,360 L330,400 L280,385 L240,352 L210,322 Z" fill="url(#ptg10)"/>
<path d="M300,345 L370,345 L420,355 L460,335 L500,292 L550,242 L600,212 L680,180 L680,505 L600,505 L520,495 L500,470 L450,430 L420,410 L360,410 L330,395 Z" fill="url(#ptg10)"/>
<path d="M40,360 L90,340 L150,350 L200,380 L232,420 L222,462 L170,482 L100,472 L60,442 L40,400 Z" fill="url(#ptg10)"/>
<path d="M150,215 C150,140 210,140 210,215 C210,290 150,290 150,215 Z" fill="url(#ptg10)"/>
<path d="M368,88 L457,64 L524,70 L568,50 L690,30" fill="none" stroke="#082608" stroke-width="30" stroke-linejoin="round" stroke-linecap="round"/>
<path d="M301,247 L390,216 L479,171 L568,127 L690,80" fill="none" stroke="#082608" stroke-width="9" stroke-linejoin="round" stroke-linecap="round"/>
<path d="M250,334 L301,326 L355,314 L410,288 L465,260 L519,238 L573,216 L690,150" fill="none" stroke="#082608" stroke-width="40" stroke-linejoin="round" stroke-linecap="round"/>
<path d="M509,325 L546,292 L585,269 L690,246" fill="none" stroke="#082608" stroke-width="12" stroke-linejoin="round" stroke-linecap="round"/>
<path d="M509,445 L573,416 L690,378" fill="none" stroke="#082608" stroke-width="14" stroke-linejoin="round" stroke-linecap="round"/>
<path d="M301,124 L400,136" fill="none" stroke="#082608" stroke-width="10" stroke-linejoin="round" stroke-linecap="round"/>
<circle cx="472" cy="88" r="17" fill="#062006" stroke="#3cbc3c" stroke-width="6"/>
<path d="M120,390 L170,400 L200,432 L160,442 L130,420 Z" fill="#062006"/>
<path d="M262,140 L300,150 L300,172 L265,165 Z" fill="#062006"/>
</g>
</g>
<rect x="163.9" y="1080.6" width="15.5" height="3.2" fill="#f4f4f4" stroke="#888" stroke-width="0.4"/>
<clipPath id="cpg11"><rect x="184.2" y="974.4" width="148.2" height="111.6"/></clipPath>
<g clip-path="url(#cpg11)">
<rect x="184.2" y="974.4" width="148.2" height="111.6" fill="#0c0c0c"/>
<pattern id="ptg11" patternUnits="userSpaceOnUse" width="26" height="23"><rect width="26" height="23" fill="#343434"/><circle cx="13" cy="11.5" r="9" fill="none" stroke="#a8a8a8" stroke-width="3.2" opacity="0.85"/></pattern>
<g transform="translate(182.20,971.90) scale(0.22482)" filter="url(#gblur)">
<path d="M0,0 L260,0 L250,100 L215,130 L200,300 L150,340 L0,340 Z" fill="#060606"/>
<path d="M0,340 L40,360 L40,520 L0,520 Z" fill="#060606"/>
<path d="M230,400 L300,405 L380,420 L440,440 L490,470 L500,520 L230,520 Z" fill="#060606"/>
<path d="M225,100 L280,90 L330,80 L380,85 L430,100 L445,150 L420,180 L450,200 L400,230 L350,250 L300,260 L250,270 L225,240 L220,180 Z" fill="url(#ptg11)"/>
<path d="M280,12 L470,12 L460,60 L430,90 L380,90 L330,80 L300,60 Z" fill="url(#ptg11)"/>
<path d="M480,12 L680,12 L680,40 L560,40 L500,50 Z" fill="url(#ptg11)"/>
<path d="M200,290 L260,270 L330,250 L400,240 L450,220 L500,190 L550,160 L600,130 L680,95 L680,150 L600,160 L520,200 L470,240 L440,290 L400,320 L340,330 L280,310 L300,360 L330,400 L280,385 L240,352 L210,322 Z" fill="url(#ptg11)"/>
<path d="M300,345 L370,345 L420,355 L460,335 L500,292 L550,242 L600,212 L680,180 L680,505 L600,505 L520,495 L500,470 L450,430 L420,410 L360,410 L330,395 Z" fill="url(#ptg11)"/>
<path d="M40,360 L90,340 L150,350 L200,380 L232,420 L222,462 L170,482 L100,472 L60,442 L40,400 Z" fill="url(#ptg11)"/>
<path d="M150,215 C150,140 210,140 210,215 C210,290 150,290 150,215 Z" fill="url(#ptg11)"/>
<path d="M368,88 L457,64 L524,70 L568,50 L690,30" fill="none" stroke="#060606" stroke-width="30" stroke-linejoin="round" stroke-linecap="round"/>
<path d="M301,247 L390,216 L479,171 L568,127 L690,80" fill="none" stroke="#060606" stroke-width="9" stroke-linejoin="round" stroke-linecap="round"/>
<path d="M250,334 L301,326 L355,314 L410,288 L465,260 L519,238 L573,216 L690,150" fill="none" stroke="#060606" stroke-width="40" stroke-linejoin="round" stroke-linecap="round"/>
<path d="M509,325 L546,292 L585,269 L690,246" fill="none" stroke="#060606" stroke-width="12" stroke-linejoin="round" stroke-linecap="round"/>
<path d="M509,445 L573,416 L690,378" fill="none" stroke="#060606" stroke-width="14" stroke-linejoin="round" stroke-linecap="round"/>
<path d="M301,124 L400,136" fill="none" stroke="#060606" stroke-width="10" stroke-linejoin="round" stroke-linecap="round"/>
<circle cx="472" cy="88" r="17" fill="#121212" stroke="#a8a8a8" stroke-width="6"/>
<path d="M120,390 L170,400 L200,432 L160,442 L130,420 Z" fill="#121212"/>
<path d="M262,140 L300,150 L300,172 L265,165 Z" fill="#121212"/>
</g>
</g>
<rect x="314.9" y="1080.6" width="15.5" height="3.2" fill="#f4f4f4" stroke="#888" stroke-width="0.4"/>
<clipPath id="cpg12"><rect x="334.6" y="974.4" width="148.0" height="111.6"/></clipPath>
<g clip-path="url(#cpg12)">
<rect x="334.6" y="974.4" width="148.0" height="111.6" fill="#560000"/>
<pattern id="ptg12" patternUnits="userSpaceOnUse" width="26" height="23"><rect width="26" height="23" fill="#9a0000"/><circle cx="13" cy="11.5" r="9" fill="none" stroke="#e41010" stroke-width="3.2" opacity="0.85"/></pattern>
<g transform="translate(332.60,971.90) scale(0.22482)" filter="url(#gblur)">
<path d="M0,0 L260,0 L250,100 L215,130 L200,300 L150,340 L0,340 Z" fill="#300000"/>
<path d="M0,340 L40,360 L40,520 L0,520 Z" fill="#300000"/>
<path d="M230,400 L300,405 L380,420 L440,440 L490,470 L500,520 L230,520 Z" fill="#300000"/>
<path d="M225,100 L280,90 L330,80 L380,85 L430,100 L445,150 L420,180 L450,200 L400,230 L350,250 L300,260 L250,270 L225,240 L220,180 Z" fill="url(#ptg12)"/>
<path d="M280,12 L470,12 L460,60 L430,90 L380,90 L330,80 L300,60 Z" fill="url(#ptg12)"/>
<path d="M480,12 L680,12 L680,40 L560,40 L500,50 Z" fill="url(#ptg12)"/>
<path d="M200,290 L260,270 L330,250 L400,240 L450,220 L500,190 L550,160 L600,130 L680,95 L680,150 L600,160 L520,200 L470,240 L440,290 L400,320 L340,330 L280,310 L300,360 L330,400 L280,385 L240,352 L210,322 Z" fill="url(#ptg12)"/>
<path d="M300,345 L370,345 L420,355 L460,335 L500,292 L550,242 L600,212 L680,180 L680,505 L600,505 L520,495 L500,470 L450,430 L420,410 L360,410 L330,395 Z" fill="url(#ptg12)"/>
<path d="M40,360 L90,340 L150,350 L200,380 L232,420 L222,462 L170,482 L100,472 L60,442 L40,400 Z" fill="url(#ptg12)"/>
<path d="M150,215 C150,140 210,140 210,215 C210,290 150,290 150,215 Z" fill="url(#ptg12)"/>
<path d="M368,88 L457,64 L524,70 L568,50 L690,30" fill="none" stroke="#300000" stroke-width="30" stroke-linejoin="round" stroke-linecap="round"/>
<path d="M301,247 L390,216 L479,171 L568,127 L690,80" fill="none" stroke="#300000" stroke-width="9" stroke-linejoin="round" stroke-linecap="round"/>
<path d="M250,334 L301,326 L355,314 L410,288 L465,260 L519,238 L573,216 L690,150" fill="none" stroke="#300000" stroke-width="40" stroke-linejoin="round" stroke-linecap="round"/>
<path d="M509,325 L546,292 L585,269 L690,246" fill="none" stroke="#300000" stroke-width="12" stroke-linejoin="round" stroke-linecap="round"/>
<path d="M509,445 L573,416 L690,378" fill="none" stroke="#300000" stroke-width="14" stroke-linejoin="round" stroke-linecap="round"/>
<path d="M301,124 L400,136" fill="none" stroke="#300000" stroke-width="10" stroke-linejoin="round" stroke-linecap="round"/>
<circle cx="472" cy="88" r="17" fill="#340000" stroke="#e41010" stroke-width="6"/>
<path d="M120,390 L170,400 L200,432 L160,442 L130,420 Z" fill="#340000"/>
<path d="M262,140 L300,150 L300,172 L265,165 Z" fill="#340000"/>
</g>
</g>
<rect x="465.1" y="1080.6" width="15.5" height="3.2" fill="#f4f4f4" stroke="#888" stroke-width="0.4"/>
<clipPath id="cpg13"><rect x="485.4" y="974.4" width="148.2" height="111.6"/></clipPath>
<g clip-path="url(#cpg13)">
<rect x="485.4" y="974.4" width="148.2" height="111.6" fill="#48260e"/>
<pattern id="ptg13" patternUnits="userSpaceOnUse" width="26" height="23"><rect width="26" height="23" fill="#8a5a34"/><circle cx="13" cy="11.5" r="9" fill="none" stroke="#e8dcc0" stroke-width="3.2" opacity="0.85"/></pattern>
<g transform="translate(483.40,971.90) scale(0.22482)" filter="url(#gblur)">
<path d="M0,0 L260,0 L250,100 L215,130 L200,300 L150,340 L0,340 Z" fill="#2e1608"/>
<path d="M0,340 L40,360 L40,520 L0,520 Z" fill="#2e1608"/>
<path d="M230,400 L300,405 L380,420 L440,440 L490,470 L500,520 L230,520 Z" fill="#2e1608"/>
<path d="M225,100 L280,90 L330,80 L380,85 L430,100 L445,150 L420,180 L450,200 L400,230 L350,250 L300,260 L250,270 L225,240 L220,180 Z" fill="url(#ptg13)"/>
<path d="M280,12 L470,12 L460,60 L430,90 L380,90 L330,80 L300,60 Z" fill="url(#ptg13)"/>
<path d="M480,12 L680,12 L680,40 L560,40 L500,50 Z" fill="url(#ptg13)"/>
<path d="M200,290 L260,270 L330,250 L400,240 L450,220 L500,190 L550,160 L600,130 L680,95 L680,150 L600,160 L520,200 L470,240 L440,290 L400,320 L340,330 L280,310 L300,360 L330,400 L280,385 L240,352 L210,322 Z" fill="url(#ptg13)"/>
<path d="M300,345 L370,345 L420,355 L460,335 L500,292 L550,242 L600,212 L680,180 L680,505 L600,505 L520,495 L500,470 L450,430 L420,410 L360,410 L330,395 Z" fill="url(#ptg13)"/>
<path d="M40,360 L90,340 L150,350 L200,380 L232,420 L222,462 L170,482 L100,472 L60,442 L40,400 Z" fill="url(#ptg13)"/>
<path d="M150,215 C150,140 210,140 210,215 C210,290 150,290 150,215 Z" fill="url(#ptg13)"/>
<path d="M368,88 L457,64 L524,70 L568,50 L690,30" fill="none" stroke="#2e1608" stroke-width="30" stroke-linejoin="round" stroke-linecap="round"/>
<path d="M301,247 L390,216 L479,171 L568,127 L690,80" fill="none" stroke="#2e1608" stroke-width="9" stroke-linejoin="round" stroke-linecap="round"/>
<path d="M250,334 L301,326 L355,314 L410,288 L465,260 L519,238 L573,216 L690,150" fill="none" stroke="#2e1608" stroke-width="40" stroke-linejoin="round" stroke-linecap="round"/>
<path d="M509,325 L546,292 L585,269 L690,246" fill="none" stroke="#2e1608" stroke-width="12" stroke-linejoin="round" stroke-linecap="round"/>
<path d="M509,445 L573,416 L690,378" fill="none" stroke="#2e1608" stroke-width="14" stroke-linejoin="round" stroke-linecap="round"/>
<path d="M301,124 L400,136" fill="none" stroke="#2e1608" stroke-width="10" stroke-linejoin="round" stroke-linecap="round"/>
<circle cx="472" cy="88" r="17" fill="#2a1408" stroke="#e8dcc0" stroke-width="6"/>
<path d="M120,390 L170,400 L200,432 L160,442 L130,420 Z" fill="#2a1408"/>
<path d="M262,140 L300,150 L300,172 L265,165 Z" fill="#2a1408"/>
</g>
</g>
<rect x="616.1" y="1080.6" width="15.5" height="3.2" fill="#f4f4f4" stroke="#888" stroke-width="0.4"/>
<text x="108.30" y="858.00" font-size="14.7" font-weight="700" fill="#13a04e" text-anchor="middle" font-style="normal" >STEM121</text>
<text x="261.60" y="858.00" font-size="14.7" font-weight="700" fill="#222" text-anchor="middle" font-style="normal" >KRT19</text>
<text x="409.00" y="858.00" font-size="14.7" font-weight="700" fill="#ee2030" text-anchor="middle" font-style="normal" >pERK</text>
<text x="553.7" y="858" font-size="14.7" font-weight="700" text-anchor="middle"><tspan fill="#13a04e">STEM121</tspan><tspan fill="#222">/KRT19/</tspan><tspan fill="#ee2030">pERK</tspan></text>
<text x="31.00" y="915.60" font-size="15.1" font-weight="700" fill="#000" text-anchor="middle" font-style="normal" transform="rotate(-90 31.0 915.6)" >Acinar derived</text>
<text x="31.00" y="1029.80" font-size="15.1" font-weight="700" fill="#000" text-anchor="middle" font-style="normal" transform="rotate(-90 31.0 1029.8)" >Ductal derived</text>
</svg>
</body></html>
